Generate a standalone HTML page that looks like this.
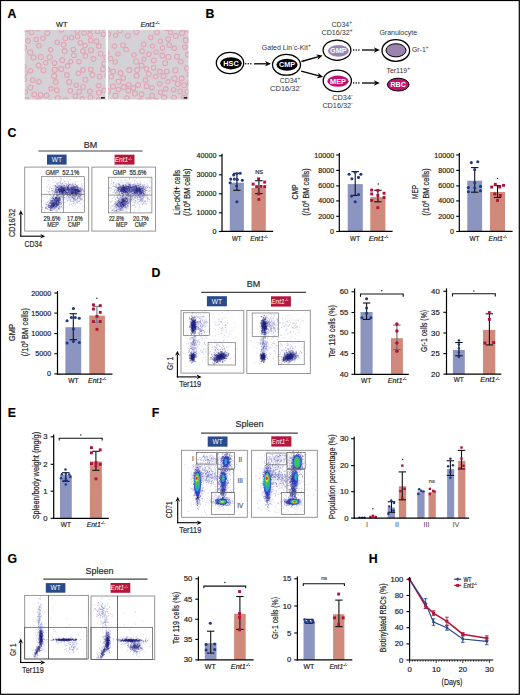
<!DOCTYPE html>
<html><head><meta charset="utf-8"><style>
html,body{margin:0;padding:0;background:#fff;overflow:hidden;width:520px;height:695px;}
svg{display:block;}
text{font-family:"Liberation Sans",sans-serif;stroke:currentColor;stroke-width:0.18px;}
</style></head><body>
<svg width="520" height="695" viewBox="0 0 520 695">
<defs><filter id="bl4" x="-30%" y="-30%" width="160%" height="160%"><feGaussianBlur stdDeviation="0.4"/></filter>
<filter id="bl5" x="-50%" y="-50%" width="200%" height="200%"><feGaussianBlur stdDeviation="0.5"/></filter>
<filter id="bl15" x="-50%" y="-50%" width="200%" height="200%"><feGaussianBlur stdDeviation="1.5"/></filter>
<filter id="bl8" x="-50%" y="-50%" width="200%" height="200%"><feGaussianBlur stdDeviation="0.8"/></filter>
<marker id="ah" viewBox="0 0 10 10" refX="9" refY="5" markerWidth="4" markerHeight="4" orient="auto-start-reverse" markerUnits="userSpaceOnUse"><path d="M0,0 L10,5 L0,10 L3,5 z" fill="#000"/></marker>
</defs>
<rect x="0" y="0" width="520" height="695" fill="#fff"/>
<text x="7.6" y="17.9" font-size="12.3" fill="#000" color="#000" font-weight="bold">A</text>
<text x="205.6" y="17.7" font-size="12.3" fill="#000" color="#000" font-weight="bold">B</text>
<text x="7.6" y="137.0" font-size="12.3" fill="#000" color="#000" font-weight="bold">C</text>
<text x="151.6" y="276.6" font-size="12.3" fill="#000" color="#000" font-weight="bold">D</text>
<text x="7.8" y="416.8" font-size="12.3" fill="#000" color="#000" font-weight="bold">E</text>
<text x="151.8" y="416.9" font-size="12.3" fill="#000" color="#000" font-weight="bold">F</text>
<text x="7.4" y="562.5" font-size="12.3" fill="#000" color="#000" font-weight="bold">G</text>
<text x="368.8" y="563.0" font-size="12.3" fill="#000" color="#000" font-weight="bold">H</text>
<rect x="24.8" y="29.9" width="80.9" height="69.6" fill="#d4d2d6"/>
<svg x="24.8" y="29.9" width="80.9" height="69.6" overflow="hidden">
<circle cx="36.4" cy="39.2" r="2.6" fill="#dccdd2" stroke="#e0a4b4" stroke-width="1.05" filter="url(#bl5)"/>
<circle cx="13.7" cy="35.7" r="2.5" fill="#dccdd2" stroke="#e0a4b4" stroke-width="1.05" filter="url(#bl5)"/>
<circle cx="65.3" cy="4.9" r="2.3" fill="#dccdd2" stroke="#e0a4b4" stroke-width="1.05" filter="url(#bl5)"/>
<circle cx="5.7" cy="57.6" r="2.5" fill="#dccdd2" stroke="#e0a4b4" stroke-width="1.05" filter="url(#bl5)"/>
<circle cx="1.6" cy="70.3" r="2.6" fill="#dccdd2" stroke="#e0a4b4" stroke-width="1.05" filter="url(#bl5)"/>
<circle cx="53.5" cy="43.3" r="2.3" fill="#dccdd2" stroke="#e0a4b4" stroke-width="1.05" filter="url(#bl5)"/>
<circle cx="-0.7" cy="36.9" r="2.2" fill="#dccdd2" stroke="#e0a4b4" stroke-width="1.05" filter="url(#bl5)"/>
<circle cx="14.1" cy="15.8" r="2.2" fill="#dccdd2" stroke="#e0a4b4" stroke-width="1.05" filter="url(#bl5)"/>
<circle cx="37.4" cy="30.4" r="2.5" fill="#dccdd2" stroke="#e0a4b4" stroke-width="1.05" filter="url(#bl5)"/>
<circle cx="42.1" cy="45.1" r="2.4" fill="#dccdd2" stroke="#e0a4b4" stroke-width="1.05" filter="url(#bl5)"/>
<circle cx="54.2" cy="31.7" r="2.3" fill="#dccdd2" stroke="#e0a4b4" stroke-width="1.05" filter="url(#bl5)"/>
<circle cx="82.7" cy="71.3" r="2.5" fill="#dccdd2" stroke="#e0a4b4" stroke-width="1.05" filter="url(#bl5)"/>
<circle cx="58.1" cy="21.2" r="2.3" fill="#dccdd2" stroke="#e0a4b4" stroke-width="1.05" filter="url(#bl5)"/>
<circle cx="22.5" cy="3.2" r="2.5" fill="#dccdd2" stroke="#e0a4b4" stroke-width="1.05" filter="url(#bl5)"/>
<circle cx="32.0" cy="60.3" r="2.4" fill="#dccdd2" stroke="#e0a4b4" stroke-width="1.05" filter="url(#bl5)"/>
<circle cx="79.3" cy="60.4" r="2.2" fill="#dccdd2" stroke="#e0a4b4" stroke-width="1.05" filter="url(#bl5)"/>
<circle cx="15.8" cy="65.0" r="2.4" fill="#dccdd2" stroke="#e0a4b4" stroke-width="1.05" filter="url(#bl5)"/>
<circle cx="81.2" cy="27.3" r="2.2" fill="#dccdd2" stroke="#e0a4b4" stroke-width="1.05" filter="url(#bl5)"/>
<circle cx="51.4" cy="55.3" r="2.3" fill="#dccdd2" stroke="#e0a4b4" stroke-width="1.05" filter="url(#bl5)"/>
<circle cx="5.4" cy="22.5" r="2.6" fill="#dccdd2" stroke="#e0a4b4" stroke-width="1.05" filter="url(#bl5)"/>
<circle cx="6.6" cy="2.4" r="2.5" fill="#dccdd2" stroke="#e0a4b4" stroke-width="1.05" filter="url(#bl5)"/>
<circle cx="14.2" cy="51.9" r="2.3" fill="#dccdd2" stroke="#e0a4b4" stroke-width="1.05" filter="url(#bl5)"/>
<circle cx="52.7" cy="6.6" r="2.4" fill="#dccdd2" stroke="#e0a4b4" stroke-width="1.05" filter="url(#bl5)"/>
<circle cx="66.2" cy="20.4" r="2.6" fill="#dccdd2" stroke="#e0a4b4" stroke-width="1.05" filter="url(#bl5)"/>
<circle cx="15.9" cy="27.0" r="2.5" fill="#dccdd2" stroke="#e0a4b4" stroke-width="1.05" filter="url(#bl5)"/>
<circle cx="25.9" cy="19.8" r="2.2" fill="#dccdd2" stroke="#e0a4b4" stroke-width="1.05" filter="url(#bl5)"/>
<circle cx="5.7" cy="40.9" r="2.3" fill="#dccdd2" stroke="#e0a4b4" stroke-width="1.05" filter="url(#bl5)"/>
<circle cx="49.0" cy="25.4" r="2.4" fill="#dccdd2" stroke="#e0a4b4" stroke-width="1.05" filter="url(#bl5)"/>
<circle cx="79.4" cy="33.6" r="2.4" fill="#dccdd2" stroke="#e0a4b4" stroke-width="1.05" filter="url(#bl5)"/>
<circle cx="71.6" cy="11.5" r="2.3" fill="#dccdd2" stroke="#e0a4b4" stroke-width="1.05" filter="url(#bl5)"/>
<circle cx="48.6" cy="19.6" r="2.3" fill="#dccdd2" stroke="#e0a4b4" stroke-width="1.05" filter="url(#bl5)"/>
<circle cx="59.2" cy="3.1" r="2.3" fill="#dccdd2" stroke="#e0a4b4" stroke-width="1.05" filter="url(#bl5)"/>
<circle cx="45.5" cy="60.7" r="2.4" fill="#dccdd2" stroke="#e0a4b4" stroke-width="1.05" filter="url(#bl5)"/>
<circle cx="21.8" cy="65.5" r="2.3" fill="#dccdd2" stroke="#e0a4b4" stroke-width="1.05" filter="url(#bl5)"/>
<circle cx="-0.6" cy="17.8" r="2.4" fill="#dccdd2" stroke="#e0a4b4" stroke-width="1.05" filter="url(#bl5)"/>
<circle cx="3.1" cy="11.0" r="2.3" fill="#dccdd2" stroke="#e0a4b4" stroke-width="1.05" filter="url(#bl5)"/>
<circle cx="46.6" cy="7.7" r="2.3" fill="#dccdd2" stroke="#e0a4b4" stroke-width="1.05" filter="url(#bl5)"/>
<circle cx="73.6" cy="70.2" r="2.5" fill="#dccdd2" stroke="#e0a4b4" stroke-width="1.05" filter="url(#bl5)"/>
<circle cx="1.0" cy="-0.7" r="2.6" fill="#dccdd2" stroke="#e0a4b4" stroke-width="1.05" filter="url(#bl5)"/>
<circle cx="57.5" cy="68.9" r="2.2" fill="#dccdd2" stroke="#e0a4b4" stroke-width="1.05" filter="url(#bl5)"/>
<circle cx="25.1" cy="71.6" r="2.2" fill="#dccdd2" stroke="#e0a4b4" stroke-width="1.05" filter="url(#bl5)"/>
<circle cx="44.4" cy="52.2" r="2.6" fill="#dccdd2" stroke="#e0a4b4" stroke-width="1.05" filter="url(#bl5)"/>
<circle cx="60.6" cy="49.8" r="2.5" fill="#dccdd2" stroke="#e0a4b4" stroke-width="1.05" filter="url(#bl5)"/>
<circle cx="75.7" cy="23.9" r="2.5" fill="#dccdd2" stroke="#e0a4b4" stroke-width="1.05" filter="url(#bl5)"/>
<circle cx="65.1" cy="61.6" r="2.4" fill="#dccdd2" stroke="#e0a4b4" stroke-width="1.05" filter="url(#bl5)"/>
<circle cx="31.0" cy="52.1" r="2.4" fill="#dccdd2" stroke="#e0a4b4" stroke-width="1.05" filter="url(#bl5)"/>
<circle cx="38.8" cy="14.9" r="2.5" fill="#dccdd2" stroke="#e0a4b4" stroke-width="1.05" filter="url(#bl5)"/>
<circle cx="55.6" cy="12.9" r="2.3" fill="#dccdd2" stroke="#e0a4b4" stroke-width="1.05" filter="url(#bl5)"/>
<circle cx="74.9" cy="46.6" r="2.4" fill="#dccdd2" stroke="#e0a4b4" stroke-width="1.05" filter="url(#bl5)"/>
<circle cx="39.9" cy="21.2" r="2.5" fill="#dccdd2" stroke="#e0a4b4" stroke-width="1.05" filter="url(#bl5)"/>
<circle cx="0.7" cy="62.2" r="2.2" fill="#dccdd2" stroke="#e0a4b4" stroke-width="1.05" filter="url(#bl5)"/>
<circle cx="58.2" cy="40.0" r="2.3" fill="#dccdd2" stroke="#e0a4b4" stroke-width="1.05" filter="url(#bl5)"/>
<circle cx="65.2" cy="-0.6" r="2.3" fill="#dccdd2" stroke="#e0a4b4" stroke-width="1.05" filter="url(#bl5)"/>
<circle cx="36.6" cy="-0.2" r="2.5" fill="#dccdd2" stroke="#e0a4b4" stroke-width="1.05" filter="url(#bl5)"/>
<circle cx="18.2" cy="8.4" r="2.2" fill="#dccdd2" stroke="#e0a4b4" stroke-width="1.05" filter="url(#bl5)"/>
<circle cx="13.2" cy="-1.2" r="2.4" fill="#dccdd2" stroke="#e0a4b4" stroke-width="1.05" filter="url(#bl5)"/>
<circle cx="30.0" cy="39.9" r="2.6" fill="#dccdd2" stroke="#e0a4b4" stroke-width="1.05" filter="url(#bl5)"/>
<circle cx="65.6" cy="67.5" r="2.4" fill="#dccdd2" stroke="#e0a4b4" stroke-width="1.05" filter="url(#bl5)"/>
<circle cx="67.5" cy="45.2" r="2.5" fill="#dccdd2" stroke="#e0a4b4" stroke-width="1.05" filter="url(#bl5)"/>
<circle cx="65.9" cy="10.7" r="2.3" fill="#dccdd2" stroke="#e0a4b4" stroke-width="1.05" filter="url(#bl5)"/>
<circle cx="78.6" cy="4.3" r="2.3" fill="#dccdd2" stroke="#e0a4b4" stroke-width="1.05" filter="url(#bl5)"/>
<circle cx="66.0" cy="39.4" r="2.4" fill="#dccdd2" stroke="#e0a4b4" stroke-width="1.05" filter="url(#bl5)"/>
<circle cx="33.1" cy="68.4" r="2.6" fill="#dccdd2" stroke="#e0a4b4" stroke-width="1.05" filter="url(#bl5)"/>
<circle cx="20.9" cy="32.8" r="2.3" fill="#dccdd2" stroke="#e0a4b4" stroke-width="1.05" filter="url(#bl5)"/>
<circle cx="50.5" cy="66.1" r="2.3" fill="#dccdd2" stroke="#e0a4b4" stroke-width="1.05" filter="url(#bl5)"/>
<circle cx="68.7" cy="29.0" r="2.5" fill="#dccdd2" stroke="#e0a4b4" stroke-width="1.05" filter="url(#bl5)"/>
<circle cx="8.7" cy="27.6" r="2.5" fill="#dccdd2" stroke="#e0a4b4" stroke-width="1.05" filter="url(#bl5)"/>
<circle cx="-0.9" cy="49.6" r="2.5" fill="#dccdd2" stroke="#e0a4b4" stroke-width="1.05" filter="url(#bl5)"/>
<circle cx="32.4" cy="12.4" r="2.3" fill="#dccdd2" stroke="#e0a4b4" stroke-width="1.05" filter="url(#bl5)"/>
<circle cx="40.8" cy="70.3" r="2.5" fill="#dccdd2" stroke="#e0a4b4" stroke-width="1.05" filter="url(#bl5)"/>
<circle cx="74.1" cy="62.8" r="2.5" fill="#dccdd2" stroke="#e0a4b4" stroke-width="1.05" filter="url(#bl5)"/>
<circle cx="-0.1" cy="43.3" r="2.5" fill="#dccdd2" stroke="#e0a4b4" stroke-width="1.05" filter="url(#bl5)"/>
<circle cx="82.5" cy="45.0" r="2.5" fill="#dccdd2" stroke="#e0a4b4" stroke-width="1.05" filter="url(#bl5)"/>
<circle cx="60.3" cy="15.5" r="2.2" fill="#dccdd2" stroke="#e0a4b4" stroke-width="1.05" filter="url(#bl5)"/>
<circle cx="73.8" cy="55.7" r="2.4" fill="#dccdd2" stroke="#e0a4b4" stroke-width="1.05" filter="url(#bl5)"/>
<circle cx="29.7" cy="33.2" r="2.3" fill="#dccdd2" stroke="#e0a4b4" stroke-width="1.05" filter="url(#bl5)"/>
<circle cx="29.3" cy="46.1" r="2.6" fill="#dccdd2" stroke="#e0a4b4" stroke-width="1.05" filter="url(#bl5)"/>
<circle cx="8.0" cy="50.2" r="2.4" fill="#dccdd2" stroke="#e0a4b4" stroke-width="1.05" filter="url(#bl5)"/>
<circle cx="25.0" cy="27.4" r="2.6" fill="#dccdd2" stroke="#e0a4b4" stroke-width="1.05" filter="url(#bl5)"/>
<circle cx="74.0" cy="16.3" r="2.3" fill="#dccdd2" stroke="#e0a4b4" stroke-width="1.05" filter="url(#bl5)"/>
<circle cx="58.3" cy="57.0" r="2.4" fill="#dccdd2" stroke="#e0a4b4" stroke-width="1.05" filter="url(#bl5)"/>
<circle cx="42.8" cy="36.0" r="2.3" fill="#dccdd2" stroke="#e0a4b4" stroke-width="1.05" filter="url(#bl5)"/>
<circle cx="11.4" cy="9.5" r="2.3" fill="#dccdd2" stroke="#e0a4b4" stroke-width="1.05" filter="url(#bl5)"/>
<circle cx="45.9" cy="31.7" r="2.2" fill="#dccdd2" stroke="#e0a4b4" stroke-width="1.05" filter="url(#bl5)"/>
<circle cx="78.2" cy="39.4" r="2.5" fill="#dccdd2" stroke="#e0a4b4" stroke-width="1.05" filter="url(#bl5)"/>
<circle cx="26.2" cy="58.9" r="2.2" fill="#dccdd2" stroke="#e0a4b4" stroke-width="1.05" filter="url(#bl5)"/>
<circle cx="40.5" cy="8.4" r="2.5" fill="#dccdd2" stroke="#e0a4b4" stroke-width="1.05" filter="url(#bl5)"/>
<circle cx="18.8" cy="40.4" r="2.5" fill="#dccdd2" stroke="#e0a4b4" stroke-width="1.05" filter="url(#bl5)"/>
<circle cx="9.5" cy="64.5" r="2.4" fill="#dccdd2" stroke="#e0a4b4" stroke-width="1.05" filter="url(#bl5)"/>
<circle cx="13.3" cy="70.6" r="2.6" fill="#dccdd2" stroke="#e0a4b4" stroke-width="1.05" filter="url(#bl5)"/>
<circle cx="60.6" cy="26.1" r="2.4" fill="#dccdd2" stroke="#e0a4b4" stroke-width="1.05" filter="url(#bl5)"/>
<circle cx="52.5" cy="0.8" r="2.5" fill="#dccdd2" stroke="#e0a4b4" stroke-width="1.05" filter="url(#bl5)"/>
<circle cx="54.5" cy="61.8" r="2.4" fill="#dccdd2" stroke="#e0a4b4" stroke-width="1.05" filter="url(#bl5)"/>
<circle cx="78.7" cy="-2.0" r="2.3" fill="#dccdd2" stroke="#e0a4b4" stroke-width="1.05" filter="url(#bl5)"/>
<circle cx="72.7" cy="1.7" r="2.2" fill="#dccdd2" stroke="#e0a4b4" stroke-width="1.05" filter="url(#bl5)"/>
</svg>
<rect x="108" y="29.9" width="80.5" height="69.6" fill="#d4d2d6"/>
<svg x="108" y="29.9" width="80.5" height="69.6" overflow="hidden">
<circle cx="76.2" cy="67.8" r="2.6" fill="#dccdd2" stroke="#e0a4b4" stroke-width="1.05" filter="url(#bl5)"/>
<circle cx="5.1" cy="41.6" r="2.4" fill="#dccdd2" stroke="#e0a4b4" stroke-width="1.05" filter="url(#bl5)"/>
<circle cx="42.8" cy="7.6" r="2.3" fill="#dccdd2" stroke="#e0a4b4" stroke-width="1.05" filter="url(#bl5)"/>
<circle cx="35.6" cy="14.3" r="2.4" fill="#dccdd2" stroke="#e0a4b4" stroke-width="1.05" filter="url(#bl5)"/>
<circle cx="0.1" cy="4.3" r="2.5" fill="#dccdd2" stroke="#e0a4b4" stroke-width="1.05" filter="url(#bl5)"/>
<circle cx="33.6" cy="35.7" r="2.5" fill="#dccdd2" stroke="#e0a4b4" stroke-width="1.05" filter="url(#bl5)"/>
<circle cx="28.3" cy="2.2" r="2.5" fill="#dccdd2" stroke="#e0a4b4" stroke-width="1.05" filter="url(#bl5)"/>
<circle cx="47.8" cy="46.4" r="2.4" fill="#dccdd2" stroke="#e0a4b4" stroke-width="1.05" filter="url(#bl5)"/>
<circle cx="80.0" cy="24.7" r="2.5" fill="#dccdd2" stroke="#e0a4b4" stroke-width="1.05" filter="url(#bl5)"/>
<circle cx="29.2" cy="40.1" r="2.5" fill="#dccdd2" stroke="#e0a4b4" stroke-width="1.05" filter="url(#bl5)"/>
<circle cx="58.7" cy="41.5" r="2.4" fill="#dccdd2" stroke="#e0a4b4" stroke-width="1.05" filter="url(#bl5)"/>
<circle cx="52.3" cy="11.4" r="2.3" fill="#dccdd2" stroke="#e0a4b4" stroke-width="1.05" filter="url(#bl5)"/>
<circle cx="25.3" cy="58.0" r="2.3" fill="#dccdd2" stroke="#e0a4b4" stroke-width="1.05" filter="url(#bl5)"/>
<circle cx="7.7" cy="5.3" r="2.2" fill="#dccdd2" stroke="#e0a4b4" stroke-width="1.05" filter="url(#bl5)"/>
<circle cx="21.3" cy="40.2" r="2.5" fill="#dccdd2" stroke="#e0a4b4" stroke-width="1.05" filter="url(#bl5)"/>
<circle cx="26.0" cy="25.2" r="2.3" fill="#dccdd2" stroke="#e0a4b4" stroke-width="1.05" filter="url(#bl5)"/>
<circle cx="19.8" cy="5.9" r="2.5" fill="#dccdd2" stroke="#e0a4b4" stroke-width="1.05" filter="url(#bl5)"/>
<circle cx="57.8" cy="59.0" r="2.3" fill="#dccdd2" stroke="#e0a4b4" stroke-width="1.05" filter="url(#bl5)"/>
<circle cx="44.1" cy="65.6" r="2.4" fill="#dccdd2" stroke="#e0a4b4" stroke-width="1.05" filter="url(#bl5)"/>
<circle cx="77.9" cy="10.3" r="2.6" fill="#dccdd2" stroke="#e0a4b4" stroke-width="1.05" filter="url(#bl5)"/>
<circle cx="2.7" cy="28.6" r="2.2" fill="#dccdd2" stroke="#e0a4b4" stroke-width="1.05" filter="url(#bl5)"/>
<circle cx="66.4" cy="48.6" r="2.6" fill="#dccdd2" stroke="#e0a4b4" stroke-width="1.05" filter="url(#bl5)"/>
<circle cx="66.0" cy="67.8" r="2.4" fill="#dccdd2" stroke="#e0a4b4" stroke-width="1.05" filter="url(#bl5)"/>
<circle cx="81.5" cy="53.1" r="2.3" fill="#dccdd2" stroke="#e0a4b4" stroke-width="1.05" filter="url(#bl5)"/>
<circle cx="43.9" cy="57.8" r="2.3" fill="#dccdd2" stroke="#e0a4b4" stroke-width="1.05" filter="url(#bl5)"/>
<circle cx="33.6" cy="64.3" r="2.4" fill="#dccdd2" stroke="#e0a4b4" stroke-width="1.05" filter="url(#bl5)"/>
<circle cx="27.0" cy="63.7" r="2.5" fill="#dccdd2" stroke="#e0a4b4" stroke-width="1.05" filter="url(#bl5)"/>
<circle cx="73.6" cy="48.6" r="2.4" fill="#dccdd2" stroke="#e0a4b4" stroke-width="1.05" filter="url(#bl5)"/>
<circle cx="18.1" cy="19.7" r="2.4" fill="#dccdd2" stroke="#e0a4b4" stroke-width="1.05" filter="url(#bl5)"/>
<circle cx="67.8" cy="6.0" r="2.5" fill="#dccdd2" stroke="#e0a4b4" stroke-width="1.05" filter="url(#bl5)"/>
<circle cx="19.0" cy="68.0" r="2.2" fill="#dccdd2" stroke="#e0a4b4" stroke-width="1.05" filter="url(#bl5)"/>
<circle cx="45.5" cy="37.9" r="2.3" fill="#dccdd2" stroke="#e0a4b4" stroke-width="1.05" filter="url(#bl5)"/>
<circle cx="58.7" cy="-1.7" r="2.4" fill="#dccdd2" stroke="#e0a4b4" stroke-width="1.05" filter="url(#bl5)"/>
<circle cx="15.2" cy="48.1" r="2.3" fill="#dccdd2" stroke="#e0a4b4" stroke-width="1.05" filter="url(#bl5)"/>
<circle cx="36.0" cy="29.1" r="2.2" fill="#dccdd2" stroke="#e0a4b4" stroke-width="1.05" filter="url(#bl5)"/>
<circle cx="57.1" cy="33.3" r="2.5" fill="#dccdd2" stroke="#e0a4b4" stroke-width="1.05" filter="url(#bl5)"/>
<circle cx="72.1" cy="61.6" r="2.4" fill="#dccdd2" stroke="#e0a4b4" stroke-width="1.05" filter="url(#bl5)"/>
<circle cx="38.4" cy="38.8" r="2.3" fill="#dccdd2" stroke="#e0a4b4" stroke-width="1.05" filter="url(#bl5)"/>
<circle cx="20.3" cy="60.7" r="2.4" fill="#dccdd2" stroke="#e0a4b4" stroke-width="1.05" filter="url(#bl5)"/>
<circle cx="7.3" cy="32.1" r="2.2" fill="#dccdd2" stroke="#e0a4b4" stroke-width="1.05" filter="url(#bl5)"/>
<circle cx="45.8" cy="30.5" r="2.5" fill="#dccdd2" stroke="#e0a4b4" stroke-width="1.05" filter="url(#bl5)"/>
<circle cx="81.0" cy="44.7" r="2.2" fill="#dccdd2" stroke="#e0a4b4" stroke-width="1.05" filter="url(#bl5)"/>
<circle cx="66.2" cy="18.3" r="2.3" fill="#dccdd2" stroke="#e0a4b4" stroke-width="1.05" filter="url(#bl5)"/>
<circle cx="10.4" cy="59.6" r="2.2" fill="#dccdd2" stroke="#e0a4b4" stroke-width="1.05" filter="url(#bl5)"/>
<circle cx="60.4" cy="27.1" r="2.5" fill="#dccdd2" stroke="#e0a4b4" stroke-width="1.05" filter="url(#bl5)"/>
<circle cx="37.6" cy="50.2" r="2.4" fill="#dccdd2" stroke="#e0a4b4" stroke-width="1.05" filter="url(#bl5)"/>
<circle cx="48.0" cy="22.1" r="2.3" fill="#dccdd2" stroke="#e0a4b4" stroke-width="1.05" filter="url(#bl5)"/>
<circle cx="34.0" cy="21.3" r="2.4" fill="#dccdd2" stroke="#e0a4b4" stroke-width="1.05" filter="url(#bl5)"/>
<circle cx="28.6" cy="45.9" r="2.5" fill="#dccdd2" stroke="#e0a4b4" stroke-width="1.05" filter="url(#bl5)"/>
<circle cx="30.1" cy="55.0" r="2.5" fill="#dccdd2" stroke="#e0a4b4" stroke-width="1.05" filter="url(#bl5)"/>
<circle cx="67.4" cy="40.4" r="2.6" fill="#dccdd2" stroke="#e0a4b4" stroke-width="1.05" filter="url(#bl5)"/>
<circle cx="69.0" cy="26.8" r="2.4" fill="#dccdd2" stroke="#e0a4b4" stroke-width="1.05" filter="url(#bl5)"/>
<circle cx="54.5" cy="18.1" r="2.3" fill="#dccdd2" stroke="#e0a4b4" stroke-width="1.05" filter="url(#bl5)"/>
<circle cx="48.9" cy="2.7" r="2.4" fill="#dccdd2" stroke="#e0a4b4" stroke-width="1.05" filter="url(#bl5)"/>
<circle cx="79.4" cy="-0.4" r="2.5" fill="#dccdd2" stroke="#e0a4b4" stroke-width="1.05" filter="url(#bl5)"/>
<circle cx="56.2" cy="67.7" r="2.5" fill="#dccdd2" stroke="#e0a4b4" stroke-width="1.05" filter="url(#bl5)"/>
<circle cx="7.5" cy="65.8" r="2.6" fill="#dccdd2" stroke="#e0a4b4" stroke-width="1.05" filter="url(#bl5)"/>
<circle cx="4.9" cy="56.5" r="2.5" fill="#dccdd2" stroke="#e0a4b4" stroke-width="1.05" filter="url(#bl5)"/>
<circle cx="52.6" cy="62.4" r="2.3" fill="#dccdd2" stroke="#e0a4b4" stroke-width="1.05" filter="url(#bl5)"/>
<circle cx="60.1" cy="51.9" r="2.2" fill="#dccdd2" stroke="#e0a4b4" stroke-width="1.05" filter="url(#bl5)"/>
<circle cx="3.2" cy="46.8" r="2.3" fill="#dccdd2" stroke="#e0a4b4" stroke-width="1.05" filter="url(#bl5)"/>
<circle cx="15.6" cy="57.2" r="2.5" fill="#dccdd2" stroke="#e0a4b4" stroke-width="1.05" filter="url(#bl5)"/>
<circle cx="65.6" cy="59.8" r="2.3" fill="#dccdd2" stroke="#e0a4b4" stroke-width="1.05" filter="url(#bl5)"/>
<circle cx="40.9" cy="24.3" r="2.3" fill="#dccdd2" stroke="#e0a4b4" stroke-width="1.05" filter="url(#bl5)"/>
<circle cx="40.3" cy="70.4" r="2.5" fill="#dccdd2" stroke="#e0a4b4" stroke-width="1.05" filter="url(#bl5)"/>
<circle cx="6.4" cy="16.2" r="2.3" fill="#dccdd2" stroke="#e0a4b4" stroke-width="1.05" filter="url(#bl5)"/>
<circle cx="72.8" cy="31.8" r="2.3" fill="#dccdd2" stroke="#e0a4b4" stroke-width="1.05" filter="url(#bl5)"/>
<circle cx="44.5" cy="16.2" r="2.2" fill="#dccdd2" stroke="#e0a4b4" stroke-width="1.05" filter="url(#bl5)"/>
<circle cx="48.1" cy="70.9" r="2.5" fill="#dccdd2" stroke="#e0a4b4" stroke-width="1.05" filter="url(#bl5)"/>
<circle cx="60.2" cy="9.2" r="2.4" fill="#dccdd2" stroke="#e0a4b4" stroke-width="1.05" filter="url(#bl5)"/>
<circle cx="51.8" cy="53.9" r="2.4" fill="#dccdd2" stroke="#e0a4b4" stroke-width="1.05" filter="url(#bl5)"/>
<circle cx="38.6" cy="56.3" r="2.4" fill="#dccdd2" stroke="#e0a4b4" stroke-width="1.05" filter="url(#bl5)"/>
<circle cx="54.3" cy="25.7" r="2.5" fill="#dccdd2" stroke="#e0a4b4" stroke-width="1.05" filter="url(#bl5)"/>
<circle cx="0.0" cy="61.2" r="2.5" fill="#dccdd2" stroke="#e0a4b4" stroke-width="1.05" filter="url(#bl5)"/>
<circle cx="-1.1" cy="22.7" r="2.3" fill="#dccdd2" stroke="#e0a4b4" stroke-width="1.05" filter="url(#bl5)"/>
<circle cx="76.2" cy="55.4" r="2.5" fill="#dccdd2" stroke="#e0a4b4" stroke-width="1.05" filter="url(#bl5)"/>
<circle cx="10.5" cy="51.8" r="2.5" fill="#dccdd2" stroke="#e0a4b4" stroke-width="1.05" filter="url(#bl5)"/>
<circle cx="70.0" cy="54.1" r="2.6" fill="#dccdd2" stroke="#e0a4b4" stroke-width="1.05" filter="url(#bl5)"/>
<circle cx="12.6" cy="43.1" r="2.4" fill="#dccdd2" stroke="#e0a4b4" stroke-width="1.05" filter="url(#bl5)"/>
<circle cx="79.3" cy="61.7" r="2.3" fill="#dccdd2" stroke="#e0a4b4" stroke-width="1.05" filter="url(#bl5)"/>
<circle cx="20.8" cy="54.8" r="2.3" fill="#dccdd2" stroke="#e0a4b4" stroke-width="1.05" filter="url(#bl5)"/>
<circle cx="40.7" cy="44.0" r="2.5" fill="#dccdd2" stroke="#e0a4b4" stroke-width="1.05" filter="url(#bl5)"/>
<circle cx="78.9" cy="38.4" r="2.5" fill="#dccdd2" stroke="#e0a4b4" stroke-width="1.05" filter="url(#bl5)"/>
<circle cx="76.8" cy="17.1" r="2.3" fill="#dccdd2" stroke="#e0a4b4" stroke-width="1.05" filter="url(#bl5)"/>
<circle cx="28.2" cy="31.8" r="2.6" fill="#dccdd2" stroke="#e0a4b4" stroke-width="1.05" filter="url(#bl5)"/>
<circle cx="-0.6" cy="39.8" r="2.4" fill="#dccdd2" stroke="#e0a4b4" stroke-width="1.05" filter="url(#bl5)"/>
<circle cx="12.0" cy="0.7" r="2.5" fill="#dccdd2" stroke="#e0a4b4" stroke-width="1.05" filter="url(#bl5)"/>
<circle cx="32.5" cy="70.6" r="2.3" fill="#dccdd2" stroke="#e0a4b4" stroke-width="1.05" filter="url(#bl5)"/>
<circle cx="10.0" cy="24.0" r="2.2" fill="#dccdd2" stroke="#e0a4b4" stroke-width="1.05" filter="url(#bl5)"/>
<circle cx="51.9" cy="41.5" r="2.3" fill="#dccdd2" stroke="#e0a4b4" stroke-width="1.05" filter="url(#bl5)"/>
<circle cx="61.2" cy="15.2" r="2.3" fill="#dccdd2" stroke="#e0a4b4" stroke-width="1.05" filter="url(#bl5)"/>
<circle cx="55.5" cy="46.3" r="2.5" fill="#dccdd2" stroke="#e0a4b4" stroke-width="1.05" filter="url(#bl5)"/>
<circle cx="15.0" cy="15.2" r="2.4" fill="#dccdd2" stroke="#e0a4b4" stroke-width="1.05" filter="url(#bl5)"/>
<circle cx="62.5" cy="2.5" r="2.2" fill="#dccdd2" stroke="#e0a4b4" stroke-width="1.05" filter="url(#bl5)"/>
<circle cx="74.1" cy="3.2" r="2.6" fill="#dccdd2" stroke="#e0a4b4" stroke-width="1.05" filter="url(#bl5)"/>
</svg>
<rect x="101.0" y="97.1" width="3.8" height="1.5" fill="#111"/>
<rect x="183.7" y="97.1" width="3.5" height="1.5" fill="#111"/>
<text x="61.8" y="27.0" font-size="7.3" fill="#231f20" color="#231f20" text-anchor="middle">WT</text>
<text x="140.4" y="27.0" font-size="7.3" fill="#231f20" color="#231f20" font-style="italic">Ent1<tspan dy="-2.6" font-size="4.2">-/-</tspan></text>
<ellipse cx="230" cy="63" rx="13.7" ry="10.6" fill="#fff" stroke="#000" stroke-width="1.3"/>
<ellipse cx="231" cy="63.3" rx="10.8" ry="6.1" fill="#000"/>
<text x="231.0" y="65.7" font-size="7.3" fill="#fff" color="#fff" style="stroke-width:0" text-anchor="middle" font-weight="bold">HSC</text>
<rect x="245.0" y="63.1" width="1.3" height="1.3" fill="#000"/>
<rect x="247.6" y="63.1" width="1.3" height="1.3" fill="#000"/>
<rect x="250.2" y="63.1" width="1.3" height="1.3" fill="#000"/>
<path d="M271.0,63.8 L265.0,66.6 L266.8,63.8 L265.0,61.0 z" fill="#000"/>
<line x1="254.0" y1="63.8" x2="266.8" y2="63.8" stroke="#000" stroke-width="1.3"/>
<ellipse cx="286.5" cy="64.8" rx="14.0" ry="10.4" fill="#fff" stroke="#000" stroke-width="1.3"/>
<ellipse cx="287" cy="64.8" rx="10.6" ry="6.0" fill="#000"/>
<text x="287.0" y="67.2" font-size="7.3" fill="#fff" color="#fff" style="stroke-width:0" text-anchor="middle" font-weight="bold">CMP</text>
<path d="M322.6,55.6 L317.6,59.9 L318.6,56.7 L316.1,54.5 z" fill="#000"/>
<line x1="301.5" y1="61.5" x2="318.6" y2="56.7" stroke="#000" stroke-width="1.3"/>
<path d="M323.2,77.0 L316.7,78.2 L319.1,75.9 L318.1,72.8 z" fill="#000"/>
<line x1="301.2" y1="71.2" x2="319.1" y2="75.9" stroke="#000" stroke-width="1.3"/>
<ellipse cx="337" cy="50.2" rx="13.9" ry="10.1" fill="#fff" stroke="#000" stroke-width="1.3"/>
<ellipse cx="338.4" cy="50.8" rx="10.4" ry="5.9" fill="#9a83ae"/>
<text x="338.4" y="53.2" font-size="7.3" fill="#fff" color="#fff" style="stroke-width:0" text-anchor="middle" font-weight="bold">GMP</text>
<ellipse cx="337.3" cy="80.9" rx="14.1" ry="10.7" fill="#fff" stroke="#000" stroke-width="1.3"/>
<ellipse cx="338" cy="81.2" rx="10.6" ry="5.6" fill="#c1136f"/>
<text x="338.0" y="83.6" font-size="7.3" fill="#fff" color="#fff" style="stroke-width:0" text-anchor="middle" font-weight="bold">MEP</text>
<rect x="353.0" y="49.4" width="1.3" height="1.3" fill="#000"/>
<rect x="355.6" y="49.4" width="1.3" height="1.3" fill="#000"/>
<rect x="358.2" y="49.4" width="1.3" height="1.3" fill="#000"/>
<path d="M379.8,50.0 L373.8,52.8 L375.6,50.0 L373.8,47.2 z" fill="#000"/>
<line x1="362.0" y1="50.0" x2="375.6" y2="50.0" stroke="#000" stroke-width="1.3"/>
<rect x="353.0" y="82.3" width="1.3" height="1.3" fill="#000"/>
<rect x="355.6" y="82.3" width="1.3" height="1.3" fill="#000"/>
<rect x="358.2" y="82.3" width="1.3" height="1.3" fill="#000"/>
<path d="M379.8,83.0 L373.8,85.8 L375.6,83.0 L373.8,80.2 z" fill="#000"/>
<line x1="362.0" y1="83.0" x2="375.6" y2="83.0" stroke="#000" stroke-width="1.3"/>
<ellipse cx="395.8" cy="50.5" rx="13.8" ry="10.8" fill="#fff" stroke="#000" stroke-width="1.3"/>
<ellipse cx="396" cy="50.3" rx="10" ry="6.6" fill="#9a83ae" stroke="#000" stroke-width="1.0"/>
<ellipse cx="398.2" cy="84.6" rx="10.8" ry="6.4" fill="#c1136f" stroke="#000" stroke-width="1.0"/>
<text x="398.2" y="87.2" font-size="7.1" fill="#fff" color="#fff" style="stroke-width:0" text-anchor="middle" font-weight="bold">RBC</text>
<text x="261.8" y="49.6" font-size="7.0" fill="#333333" color="#333333" style="stroke-width:0" textLength="49.0" lengthAdjust="spacingAndGlyphs">Gated Lin<tspan dy="-2.6" font-size="5.0">-</tspan><tspan dy="2.6">c-Kit</tspan><tspan dy="-2.6" font-size="5.0">+</tspan></text>
<text x="279.7" y="83.0" font-size="7.2" fill="#333333" color="#333333" style="stroke-width:0" textLength="20.6" lengthAdjust="spacingAndGlyphs">CD34<tspan dy="-2.6" font-size="5.0">+</tspan></text>
<text x="270.0" y="90.7" font-size="7.2" fill="#333333" color="#333333" style="stroke-width:0" textLength="31.5" lengthAdjust="spacingAndGlyphs">CD16/32<tspan dy="-2.6" font-size="5.0">-</tspan></text>
<text x="331.6" y="27.0" font-size="7.2" fill="#333333" color="#333333" style="stroke-width:0" textLength="20.4" lengthAdjust="spacingAndGlyphs">CD34<tspan dy="-2.6" font-size="5.0">+</tspan></text>
<text x="321.5" y="35.0" font-size="7.2" fill="#333333" color="#333333" style="stroke-width:0" textLength="31.2" lengthAdjust="spacingAndGlyphs">CD16/32<tspan dy="-2.6" font-size="5.0">+</tspan></text>
<text x="332.2" y="100.0" font-size="7.2" fill="#333333" color="#333333" style="stroke-width:0" textLength="20.5" lengthAdjust="spacingAndGlyphs">CD34<tspan dy="-2.6" font-size="5.0">-</tspan></text>
<text x="322.4" y="108.0" font-size="7.2" fill="#333333" color="#333333" style="stroke-width:0" textLength="30.3" lengthAdjust="spacingAndGlyphs">CD16/32<tspan dy="-2.6" font-size="5.0">-</tspan></text>
<text x="379.4" y="34.5" font-size="7.2" fill="#333333" color="#333333" style="stroke-width:0" textLength="37.7" lengthAdjust="spacingAndGlyphs">Granulocyte</text>
<text x="412.0" y="51.6" font-size="7.2" fill="#333333" color="#333333" style="stroke-width:0" textLength="16.5" lengthAdjust="spacingAndGlyphs">Gr-1<tspan dy="-2.6" font-size="5.0">+</tspan></text>
<text x="386.4" y="72.8" font-size="7.2" fill="#333333" color="#333333" style="stroke-width:0" textLength="23.7" lengthAdjust="spacingAndGlyphs">Ter119<tspan dy="-2.6" font-size="5.0">+</tspan></text>
<rect x="229.8" y="182.7" width="14.1" height="48.6" fill="#8b95c0"/>
<rect x="251.5" y="187.9" width="14.3" height="43.4" fill="#cf8a7c"/>
<line x1="236.9" y1="173.3" x2="236.9" y2="190.3" stroke="#111" stroke-width="1.1"/>
<line x1="233.2" y1="173.3" x2="240.6" y2="173.3" stroke="#111" stroke-width="1.1"/>
<line x1="233.2" y1="190.3" x2="240.6" y2="190.3" stroke="#111" stroke-width="1.1"/>
<line x1="258.9" y1="180.7" x2="258.9" y2="193.6" stroke="#111" stroke-width="1.1"/>
<line x1="255.2" y1="180.7" x2="262.6" y2="180.7" stroke="#111" stroke-width="1.1"/>
<line x1="255.2" y1="193.6" x2="262.6" y2="193.6" stroke="#111" stroke-width="1.1"/>
<circle cx="233.7" cy="174.9" r="1.55" fill="#1d3a86"/>
<circle cx="236.9" cy="173.8" r="1.55" fill="#1d3a86"/>
<circle cx="240.2" cy="173.2" r="1.55" fill="#1d3a86"/>
<circle cx="230.8" cy="179.1" r="1.55" fill="#1d3a86"/>
<circle cx="234.4" cy="179.1" r="1.55" fill="#1d3a86"/>
<circle cx="237.3" cy="179.5" r="1.55" fill="#1d3a86"/>
<circle cx="242.3" cy="180.3" r="1.55" fill="#1d3a86"/>
<circle cx="230.1" cy="182.7" r="1.55" fill="#1d3a86"/>
<circle cx="236.6" cy="186.0" r="1.55" fill="#1d3a86"/>
<circle cx="236.9" cy="201.8" r="1.55" fill="#1d3a86"/>
<rect x="257.1" y="177.4" width="2.9" height="2.9" fill="#b1123b"/>
<rect x="251.7" y="182.7" width="2.9" height="2.9" fill="#b1123b"/>
<rect x="263.2" y="180.7" width="2.9" height="2.9" fill="#b1123b"/>
<rect x="255.2" y="185.2" width="2.9" height="2.9" fill="#b1123b"/>
<rect x="259.6" y="185.0" width="2.9" height="2.9" fill="#b1123b"/>
<rect x="263.2" y="185.2" width="2.9" height="2.9" fill="#b1123b"/>
<rect x="257.2" y="192.5" width="2.9" height="2.9" fill="#b1123b"/>
<rect x="257.4" y="198.0" width="2.9" height="2.9" fill="#b1123b"/>
<line x1="222.0" y1="153.8" x2="222.0" y2="231.9" stroke="#000" stroke-width="1.2"/>
<line x1="221.4" y1="231.3" x2="273.2" y2="231.3" stroke="#000" stroke-width="1.2"/>
<line x1="218.9" y1="155.8" x2="222.0" y2="155.8" stroke="#000" stroke-width="1.1"/>
<text x="216.4" y="158.3" font-size="7.0" fill="#1a1a1a" color="#1a1a1a" text-anchor="end" textLength="19.8" lengthAdjust="spacingAndGlyphs">40000</text>
<line x1="218.9" y1="174.8" x2="222.0" y2="174.8" stroke="#000" stroke-width="1.1"/>
<text x="216.4" y="177.3" font-size="7.0" fill="#1a1a1a" color="#1a1a1a" text-anchor="end" textLength="19.8" lengthAdjust="spacingAndGlyphs">30000</text>
<line x1="218.9" y1="193.8" x2="222.0" y2="193.8" stroke="#000" stroke-width="1.1"/>
<text x="216.4" y="196.3" font-size="7.0" fill="#1a1a1a" color="#1a1a1a" text-anchor="end" textLength="19.8" lengthAdjust="spacingAndGlyphs">20000</text>
<line x1="218.9" y1="212.8" x2="222.0" y2="212.8" stroke="#000" stroke-width="1.1"/>
<text x="216.4" y="215.3" font-size="7.0" fill="#1a1a1a" color="#1a1a1a" text-anchor="end" textLength="19.8" lengthAdjust="spacingAndGlyphs">10000</text>
<line x1="218.9" y1="231.5" x2="222.0" y2="231.5" stroke="#000" stroke-width="1.1"/>
<text x="216.4" y="234.0" font-size="7.0" fill="#1a1a1a" color="#1a1a1a" text-anchor="end" textLength="4.0" lengthAdjust="spacingAndGlyphs">0</text>
<text x="259.2" y="173.8" font-size="6.2" fill="#1a1a1a" color="#1a1a1a" text-anchor="middle" textLength="7.9" lengthAdjust="spacingAndGlyphs">NS</text>
<text x="232.0" y="240.7" font-size="7.2" fill="#1a1a1a" color="#1a1a1a" textLength="9.6" lengthAdjust="spacingAndGlyphs">WT</text>
<text x="250.3" y="240.7" font-size="7.2" fill="#1a1a1a" color="#1a1a1a" font-style="italic" textLength="17.2" lengthAdjust="spacingAndGlyphs">Ent1<tspan dy="-2.6" font-size="4.2">-/-</tspan></text>
<text x="180.3" y="192.2" font-size="9.4" fill="#1a1a1a" color="#1a1a1a" text-anchor="middle" textLength="44.9" lengthAdjust="spacingAndGlyphs" transform="rotate(-90 180.3 192.2)">Lin-cKit+ cells</text>
<text x="190.5" y="192.2" font-size="8.8" fill="#1a1a1a" color="#1a1a1a" text-anchor="middle" textLength="47.5" lengthAdjust="spacingAndGlyphs" transform="rotate(-90 190.5 192.2)">(/10<tspan dy="-3" font-size="5.2">6</tspan><tspan dy="3"> BM cells)</tspan></text>
<rect x="347.7" y="184.1" width="15.1" height="47.2" fill="#8b95c0"/>
<rect x="370.3" y="197.1" width="15.1" height="34.2" fill="#cf8a7c"/>
<line x1="355.2" y1="171.6" x2="355.2" y2="195.4" stroke="#111" stroke-width="1.1"/>
<line x1="351.5" y1="171.6" x2="358.9" y2="171.6" stroke="#111" stroke-width="1.1"/>
<line x1="351.5" y1="195.4" x2="358.9" y2="195.4" stroke="#111" stroke-width="1.1"/>
<line x1="377.9" y1="190.3" x2="377.9" y2="201.8" stroke="#111" stroke-width="1.1"/>
<line x1="374.2" y1="190.3" x2="381.6" y2="190.3" stroke="#111" stroke-width="1.1"/>
<line x1="374.2" y1="201.8" x2="381.6" y2="201.8" stroke="#111" stroke-width="1.1"/>
<circle cx="349.1" cy="174.2" r="1.55" fill="#1d3a86"/>
<circle cx="355.2" cy="172.3" r="1.55" fill="#1d3a86"/>
<circle cx="360.9" cy="174.2" r="1.55" fill="#1d3a86"/>
<circle cx="351.9" cy="178.8" r="1.55" fill="#1d3a86"/>
<circle cx="358.5" cy="177.4" r="1.55" fill="#1d3a86"/>
<circle cx="351.6" cy="196.1" r="1.55" fill="#1d3a86"/>
<circle cx="358.5" cy="194.6" r="1.55" fill="#1d3a86"/>
<circle cx="355.2" cy="201.8" r="1.55" fill="#1d3a86"/>
<rect x="370.2" y="188.6" width="2.9" height="2.9" fill="#b1123b"/>
<rect x="376.4" y="188.9" width="2.9" height="2.9" fill="#b1123b"/>
<rect x="370.2" y="192.5" width="2.9" height="2.9" fill="#b1123b"/>
<rect x="376.4" y="194.0" width="2.9" height="2.9" fill="#b1123b"/>
<rect x="382.6" y="191.8" width="2.9" height="2.9" fill="#b1123b"/>
<rect x="382.6" y="196.1" width="2.9" height="2.9" fill="#b1123b"/>
<rect x="370.2" y="199.0" width="2.9" height="2.9" fill="#b1123b"/>
<rect x="376.4" y="206.2" width="2.9" height="2.9" fill="#b1123b"/>
<circle cx="378.2" cy="184.1" r="0.75" fill="#222"/>
<line x1="339.3" y1="153.0" x2="339.3" y2="231.9" stroke="#000" stroke-width="1.2"/>
<line x1="338.7" y1="231.3" x2="392.6" y2="231.3" stroke="#000" stroke-width="1.2"/>
<line x1="336.2" y1="155.0" x2="339.3" y2="155.0" stroke="#000" stroke-width="1.1"/>
<text x="334.1" y="157.5" font-size="7.0" fill="#1a1a1a" color="#1a1a1a" text-anchor="end" textLength="19.8" lengthAdjust="spacingAndGlyphs">10000</text>
<line x1="336.2" y1="170.4" x2="339.3" y2="170.4" stroke="#000" stroke-width="1.1"/>
<text x="334.1" y="172.9" font-size="7.0" fill="#1a1a1a" color="#1a1a1a" text-anchor="end" textLength="15.8" lengthAdjust="spacingAndGlyphs">8000</text>
<line x1="336.2" y1="185.9" x2="339.3" y2="185.9" stroke="#000" stroke-width="1.1"/>
<text x="334.1" y="188.4" font-size="7.0" fill="#1a1a1a" color="#1a1a1a" text-anchor="end" textLength="15.8" lengthAdjust="spacingAndGlyphs">6000</text>
<line x1="336.2" y1="200.9" x2="339.3" y2="200.9" stroke="#000" stroke-width="1.1"/>
<text x="334.1" y="203.4" font-size="7.0" fill="#1a1a1a" color="#1a1a1a" text-anchor="end" textLength="15.8" lengthAdjust="spacingAndGlyphs">4000</text>
<line x1="336.2" y1="216.3" x2="339.3" y2="216.3" stroke="#000" stroke-width="1.1"/>
<text x="334.1" y="218.8" font-size="7.0" fill="#1a1a1a" color="#1a1a1a" text-anchor="end" textLength="15.8" lengthAdjust="spacingAndGlyphs">2000</text>
<line x1="336.2" y1="231.5" x2="339.3" y2="231.5" stroke="#000" stroke-width="1.1"/>
<text x="334.1" y="234.0" font-size="7.0" fill="#1a1a1a" color="#1a1a1a" text-anchor="end" textLength="4.0" lengthAdjust="spacingAndGlyphs">0</text>
<text x="350.1" y="240.7" font-size="7.2" fill="#1a1a1a" color="#1a1a1a" textLength="10.1" lengthAdjust="spacingAndGlyphs">WT</text>
<text x="368.8" y="240.7" font-size="7.2" fill="#1a1a1a" color="#1a1a1a" font-style="italic" textLength="19.5" lengthAdjust="spacingAndGlyphs">Ent1<tspan dy="-2.6" font-size="4.2">-/-</tspan></text>
<text x="297.6" y="191.9" font-size="9.4" fill="#1a1a1a" color="#1a1a1a" text-anchor="middle" textLength="15.1" lengthAdjust="spacingAndGlyphs" transform="rotate(-90 297.6 191.9)">CMP</text>
<text x="309.1" y="192.0" font-size="8.8" fill="#1a1a1a" color="#1a1a1a" text-anchor="middle" textLength="47.5" lengthAdjust="spacingAndGlyphs" transform="rotate(-90 309.1 192.0)">(/10<tspan dy="-3" font-size="5.2">6</tspan><tspan dy="3"> BM cells)</tspan></text>
<rect x="467.3" y="180.7" width="14.8" height="50.6" fill="#8b95c0"/>
<rect x="490.0" y="192.0" width="15.0" height="39.3" fill="#cf8a7c"/>
<line x1="474.7" y1="167.6" x2="474.7" y2="192.2" stroke="#111" stroke-width="1.1"/>
<line x1="471.0" y1="167.6" x2="478.4" y2="167.6" stroke="#111" stroke-width="1.1"/>
<line x1="471.0" y1="192.2" x2="478.4" y2="192.2" stroke="#111" stroke-width="1.1"/>
<line x1="497.5" y1="185.6" x2="497.5" y2="197.5" stroke="#111" stroke-width="1.1"/>
<line x1="493.8" y1="185.6" x2="501.2" y2="185.6" stroke="#111" stroke-width="1.1"/>
<line x1="493.8" y1="197.5" x2="501.2" y2="197.5" stroke="#111" stroke-width="1.1"/>
<circle cx="471.3" cy="162.6" r="1.55" fill="#1d3a86"/>
<circle cx="477.8" cy="161.8" r="1.55" fill="#1d3a86"/>
<circle cx="474.7" cy="169.7" r="1.55" fill="#1d3a86"/>
<circle cx="474.7" cy="182.7" r="1.55" fill="#1d3a86"/>
<circle cx="468.4" cy="187.6" r="1.55" fill="#1d3a86"/>
<circle cx="474.7" cy="187.9" r="1.55" fill="#1d3a86"/>
<circle cx="480.5" cy="186.4" r="1.55" fill="#1d3a86"/>
<circle cx="468.4" cy="191.8" r="1.55" fill="#1d3a86"/>
<circle cx="480.5" cy="190.8" r="1.55" fill="#1d3a86"/>
<rect x="490.2" y="185.6" width="2.9" height="2.9" fill="#b1123b"/>
<rect x="493.9" y="182.9" width="2.9" height="2.9" fill="#b1123b"/>
<rect x="498.2" y="185.6" width="2.9" height="2.9" fill="#b1123b"/>
<rect x="502.1" y="183.9" width="2.9" height="2.9" fill="#b1123b"/>
<rect x="493.2" y="192.5" width="2.9" height="2.9" fill="#b1123b"/>
<rect x="498.9" y="194.0" width="2.9" height="2.9" fill="#b1123b"/>
<rect x="496.1" y="199.0" width="2.9" height="2.9" fill="#b1123b"/>
<circle cx="497.5" cy="178.4" r="0.75" fill="#222"/>
<line x1="459.3" y1="153.0" x2="459.3" y2="231.9" stroke="#000" stroke-width="1.2"/>
<line x1="458.7" y1="231.3" x2="512.6" y2="231.3" stroke="#000" stroke-width="1.2"/>
<line x1="456.2" y1="155.0" x2="459.3" y2="155.0" stroke="#000" stroke-width="1.1"/>
<text x="454.1" y="157.5" font-size="7.0" fill="#1a1a1a" color="#1a1a1a" text-anchor="end" textLength="19.8" lengthAdjust="spacingAndGlyphs">10000</text>
<line x1="456.2" y1="170.4" x2="459.3" y2="170.4" stroke="#000" stroke-width="1.1"/>
<text x="454.1" y="172.9" font-size="7.0" fill="#1a1a1a" color="#1a1a1a" text-anchor="end" textLength="15.8" lengthAdjust="spacingAndGlyphs">8000</text>
<line x1="456.2" y1="185.9" x2="459.3" y2="185.9" stroke="#000" stroke-width="1.1"/>
<text x="454.1" y="188.4" font-size="7.0" fill="#1a1a1a" color="#1a1a1a" text-anchor="end" textLength="15.8" lengthAdjust="spacingAndGlyphs">6000</text>
<line x1="456.2" y1="200.9" x2="459.3" y2="200.9" stroke="#000" stroke-width="1.1"/>
<text x="454.1" y="203.4" font-size="7.0" fill="#1a1a1a" color="#1a1a1a" text-anchor="end" textLength="15.8" lengthAdjust="spacingAndGlyphs">4000</text>
<line x1="456.2" y1="216.3" x2="459.3" y2="216.3" stroke="#000" stroke-width="1.1"/>
<text x="454.1" y="218.8" font-size="7.0" fill="#1a1a1a" color="#1a1a1a" text-anchor="end" textLength="15.8" lengthAdjust="spacingAndGlyphs">2000</text>
<line x1="456.2" y1="231.5" x2="459.3" y2="231.5" stroke="#000" stroke-width="1.1"/>
<text x="454.1" y="234.0" font-size="7.0" fill="#1a1a1a" color="#1a1a1a" text-anchor="end" textLength="4.0" lengthAdjust="spacingAndGlyphs">0</text>
<text x="469.4" y="240.7" font-size="7.2" fill="#1a1a1a" color="#1a1a1a" textLength="10.1" lengthAdjust="spacingAndGlyphs">WT</text>
<text x="488.6" y="240.7" font-size="7.2" fill="#1a1a1a" color="#1a1a1a" font-style="italic" textLength="18.2" lengthAdjust="spacingAndGlyphs">Ent1<tspan dy="-2.6" font-size="4.2">-/-</tspan></text>
<text x="417.6" y="192.0" font-size="9.4" fill="#1a1a1a" color="#1a1a1a" text-anchor="middle" textLength="13.8" lengthAdjust="spacingAndGlyphs" transform="rotate(-90 417.6 192.0)">MEP</text>
<text x="429.2" y="192.0" font-size="8.8" fill="#1a1a1a" color="#1a1a1a" text-anchor="middle" textLength="47.5" lengthAdjust="spacingAndGlyphs" transform="rotate(-90 429.2 192.0)">(/10<tspan dy="-3" font-size="5.2">6</tspan><tspan dy="3"> BM cells)</tspan></text>
<rect x="65.4" y="327.2" width="15.8" height="47.0" fill="#8b95c0"/>
<rect x="89.3" y="315.6" width="15.6" height="58.6" fill="#cf8a7c"/>
<line x1="73.3" y1="313.7" x2="73.3" y2="339.7" stroke="#111" stroke-width="1.1"/>
<line x1="69.6" y1="313.7" x2="77.0" y2="313.7" stroke="#111" stroke-width="1.1"/>
<line x1="69.6" y1="339.7" x2="77.0" y2="339.7" stroke="#111" stroke-width="1.1"/>
<line x1="96.9" y1="306.4" x2="96.9" y2="322.4" stroke="#6f8585" stroke-width="1.1"/>
<line x1="93.2" y1="306.4" x2="100.6" y2="306.4" stroke="#6f8585" stroke-width="1.1"/>
<line x1="93.2" y1="322.4" x2="100.6" y2="322.4" stroke="#6f8585" stroke-width="1.1"/>
<circle cx="73.4" cy="308.5" r="1.55" fill="#1d3a86"/>
<circle cx="67.1" cy="320.7" r="1.55" fill="#1d3a86"/>
<circle cx="71.4" cy="317.5" r="1.55" fill="#1d3a86"/>
<circle cx="75.3" cy="317.5" r="1.55" fill="#1d3a86"/>
<circle cx="79.3" cy="318.3" r="1.55" fill="#1d3a86"/>
<circle cx="73.4" cy="329.1" r="1.55" fill="#1d3a86"/>
<circle cx="67.1" cy="343.0" r="1.55" fill="#1d3a86"/>
<circle cx="73.4" cy="341.4" r="1.55" fill="#1d3a86"/>
<circle cx="79.3" cy="342.5" r="1.55" fill="#1d3a86"/>
<rect x="92.0" y="303.4" width="2.9" height="2.9" fill="#b1123b"/>
<rect x="98.8" y="304.2" width="2.9" height="2.9" fill="#b1123b"/>
<rect x="92.0" y="307.6" width="2.9" height="2.9" fill="#b1123b"/>
<rect x="98.8" y="310.9" width="2.9" height="2.9" fill="#b1123b"/>
<rect x="95.5" y="314.9" width="2.9" height="2.9" fill="#b1123b"/>
<rect x="92.0" y="320.1" width="2.9" height="2.9" fill="#b1123b"/>
<rect x="98.8" y="320.1" width="2.9" height="2.9" fill="#b1123b"/>
<rect x="95.5" y="327.9" width="2.9" height="2.9" fill="#b1123b"/>
<circle cx="96.9" cy="298.2" r="0.75" fill="#222"/>
<line x1="57.5" y1="291.0" x2="57.5" y2="374.8" stroke="#000" stroke-width="1.2"/>
<line x1="56.9" y1="374.2" x2="112.5" y2="374.2" stroke="#000" stroke-width="1.2"/>
<line x1="54.4" y1="293.0" x2="57.5" y2="293.0" stroke="#000" stroke-width="1.1"/>
<text x="51.1" y="295.5" font-size="7.0" fill="#1a1a1a" color="#1a1a1a" text-anchor="end" textLength="19.8" lengthAdjust="spacingAndGlyphs">20000</text>
<line x1="54.4" y1="313.1" x2="57.5" y2="313.1" stroke="#000" stroke-width="1.1"/>
<text x="51.1" y="315.6" font-size="7.0" fill="#1a1a1a" color="#1a1a1a" text-anchor="end" textLength="19.8" lengthAdjust="spacingAndGlyphs">15000</text>
<line x1="54.4" y1="333.6" x2="57.5" y2="333.6" stroke="#000" stroke-width="1.1"/>
<text x="51.1" y="336.1" font-size="7.0" fill="#1a1a1a" color="#1a1a1a" text-anchor="end" textLength="19.8" lengthAdjust="spacingAndGlyphs">10000</text>
<line x1="54.4" y1="353.7" x2="57.5" y2="353.7" stroke="#000" stroke-width="1.1"/>
<text x="51.1" y="356.2" font-size="7.0" fill="#1a1a1a" color="#1a1a1a" text-anchor="end" textLength="15.8" lengthAdjust="spacingAndGlyphs">5000</text>
<line x1="54.4" y1="373.9" x2="57.5" y2="373.9" stroke="#000" stroke-width="1.1"/>
<text x="51.1" y="376.4" font-size="7.0" fill="#1a1a1a" color="#1a1a1a" text-anchor="end" textLength="4.0" lengthAdjust="spacingAndGlyphs">0</text>
<text x="68.2" y="382.9" font-size="7.2" fill="#1a1a1a" color="#1a1a1a" textLength="10.3" lengthAdjust="spacingAndGlyphs">WT</text>
<text x="88.0" y="382.9" font-size="7.2" fill="#1a1a1a" color="#1a1a1a" font-style="italic" textLength="18.2" lengthAdjust="spacingAndGlyphs">Ent1<tspan dy="-2.6" font-size="4.2">-/-</tspan></text>
<text x="14.6" y="332.5" font-size="9.4" fill="#1a1a1a" color="#1a1a1a" text-anchor="middle" textLength="17.3" lengthAdjust="spacingAndGlyphs" transform="rotate(-90 14.6 332.5)">GMP</text>
<text x="27.6" y="332.2" font-size="8.8" fill="#1a1a1a" color="#1a1a1a" text-anchor="middle" textLength="48.2" lengthAdjust="spacingAndGlyphs" transform="rotate(-90 27.6 332.2)">(/10<tspan dy="-3" font-size="5.2">6</tspan><tspan dy="3"> BM cells)</tspan></text>
<rect x="360.5" y="312.0" width="12.1" height="62.3" fill="#8b95c0"/>
<rect x="391.0" y="338.2" width="11.9" height="36.1" fill="#cf8a7c"/>
<line x1="366.6" y1="303.0" x2="366.6" y2="319.4" stroke="#111" stroke-width="1.1"/>
<line x1="362.9" y1="303.0" x2="370.3" y2="303.0" stroke="#111" stroke-width="1.1"/>
<line x1="362.9" y1="319.4" x2="370.3" y2="319.4" stroke="#111" stroke-width="1.1"/>
<line x1="396.9" y1="325.1" x2="396.9" y2="349.6" stroke="#6a6a6a" stroke-width="1.1"/>
<line x1="393.2" y1="325.1" x2="400.6" y2="325.1" stroke="#6a6a6a" stroke-width="1.1"/>
<line x1="393.2" y1="349.6" x2="400.6" y2="349.6" stroke="#6a6a6a" stroke-width="1.1"/>
<circle cx="366.6" cy="298.7" r="1.55" fill="#1d3a86"/>
<circle cx="366.6" cy="308.0" r="1.55" fill="#1d3a86"/>
<circle cx="361.9" cy="317.7" r="1.55" fill="#1d3a86"/>
<circle cx="366.6" cy="313.2" r="1.55" fill="#1d3a86"/>
<circle cx="370.9" cy="317.7" r="1.55" fill="#1d3a86"/>
<circle cx="396.9" cy="324.0" r="1.75" fill="#b1123b"/>
<circle cx="396.9" cy="331.0" r="1.75" fill="#b1123b"/>
<circle cx="396.9" cy="343.0" r="1.75" fill="#b1123b"/>
<circle cx="396.9" cy="351.2" r="1.75" fill="#b1123b"/>
<path d="M360.5,296.8 V294.0 H403.2 V296.8" fill="none" stroke="#111" stroke-width="1.1"/>
<circle cx="381.8" cy="290.7" r="0.75" fill="#222"/>
<line x1="354.6" y1="288.5" x2="354.6" y2="374.9" stroke="#000" stroke-width="1.2"/>
<line x1="354.0" y1="374.3" x2="408.8" y2="374.3" stroke="#000" stroke-width="1.2"/>
<line x1="351.5" y1="291.8" x2="354.6" y2="291.8" stroke="#000" stroke-width="1.1"/>
<text x="348.4" y="294.3" font-size="7.8" fill="#1a1a1a" color="#1a1a1a" text-anchor="end" textLength="8.6" lengthAdjust="spacingAndGlyphs">60</text>
<line x1="351.5" y1="312.5" x2="354.6" y2="312.5" stroke="#000" stroke-width="1.1"/>
<text x="348.4" y="315.0" font-size="7.8" fill="#1a1a1a" color="#1a1a1a" text-anchor="end" textLength="8.6" lengthAdjust="spacingAndGlyphs">55</text>
<line x1="351.5" y1="332.9" x2="354.6" y2="332.9" stroke="#000" stroke-width="1.1"/>
<text x="348.4" y="335.4" font-size="7.8" fill="#1a1a1a" color="#1a1a1a" text-anchor="end" textLength="8.6" lengthAdjust="spacingAndGlyphs">50</text>
<line x1="351.5" y1="353.5" x2="354.6" y2="353.5" stroke="#000" stroke-width="1.1"/>
<text x="348.4" y="356.0" font-size="7.8" fill="#1a1a1a" color="#1a1a1a" text-anchor="end" textLength="8.6" lengthAdjust="spacingAndGlyphs">45</text>
<line x1="351.5" y1="374.3" x2="354.6" y2="374.3" stroke="#000" stroke-width="1.1"/>
<text x="348.4" y="376.8" font-size="7.8" fill="#1a1a1a" color="#1a1a1a" text-anchor="end" textLength="8.6" lengthAdjust="spacingAndGlyphs">40</text>
<text x="361.0" y="382.9" font-size="7.2" fill="#1a1a1a" color="#1a1a1a" textLength="10.4" lengthAdjust="spacingAndGlyphs">WT</text>
<text x="387.7" y="382.9" font-size="7.2" fill="#1a1a1a" color="#1a1a1a" font-style="italic" textLength="18.7" lengthAdjust="spacingAndGlyphs">Ent1<tspan dy="-2.6" font-size="4.2">-/-</tspan></text>
<text x="335.2" y="331.3" font-size="9.4" fill="#1a1a1a" color="#1a1a1a" text-anchor="middle" textLength="52.4" lengthAdjust="spacingAndGlyphs" transform="rotate(-90 335.2 331.3)">Ter 119 cells (%)</text>
<rect x="452.9" y="350.0" width="11.9" height="24.1" fill="#8b95c0"/>
<rect x="483.0" y="329.9" width="12.3" height="44.2" fill="#cf8a7c"/>
<line x1="458.9" y1="342.5" x2="458.9" y2="355.8" stroke="#111" stroke-width="1.1"/>
<line x1="455.2" y1="342.5" x2="462.6" y2="342.5" stroke="#111" stroke-width="1.1"/>
<line x1="455.2" y1="355.8" x2="462.6" y2="355.8" stroke="#111" stroke-width="1.1"/>
<line x1="489.4" y1="313.8" x2="489.4" y2="344.9" stroke="#111" stroke-width="1.1"/>
<line x1="485.7" y1="313.8" x2="493.1" y2="313.8" stroke="#111" stroke-width="1.1"/>
<line x1="485.7" y1="344.9" x2="493.1" y2="344.9" stroke="#111" stroke-width="1.1"/>
<circle cx="458.9" cy="340.6" r="1.25" fill="#1d3a86"/>
<circle cx="458.9" cy="344.5" r="1.25" fill="#1d3a86"/>
<circle cx="458.9" cy="348.5" r="1.25" fill="#1d3a86"/>
<circle cx="458.9" cy="352.5" r="1.25" fill="#1d3a86"/>
<circle cx="458.9" cy="357.0" r="1.25" fill="#1d3a86"/>
<rect x="487.9" y="311.1" width="2.9" height="2.9" fill="#b1123b"/>
<rect x="487.9" y="317.9" width="2.9" height="2.9" fill="#b1123b"/>
<rect x="483.4" y="341.6" width="2.9" height="2.9" fill="#b1123b"/>
<rect x="492.2" y="341.1" width="2.9" height="2.9" fill="#b1123b"/>
<path d="M452.5,296.4 V293.7 H495.3 V296.4" fill="none" stroke="#111" stroke-width="1.1"/>
<circle cx="473.9" cy="291.0" r="0.75" fill="#222"/>
<line x1="446.5" y1="288.3" x2="446.5" y2="374.7" stroke="#000" stroke-width="1.2"/>
<line x1="445.9" y1="374.1" x2="501.3" y2="374.1" stroke="#000" stroke-width="1.2"/>
<line x1="443.4" y1="291.3" x2="446.5" y2="291.3" stroke="#000" stroke-width="1.1"/>
<text x="439.7" y="293.8" font-size="7.8" fill="#1a1a1a" color="#1a1a1a" text-anchor="end" textLength="8.6" lengthAdjust="spacingAndGlyphs">40</text>
<line x1="443.4" y1="312.3" x2="446.5" y2="312.3" stroke="#000" stroke-width="1.1"/>
<text x="439.7" y="314.8" font-size="7.8" fill="#1a1a1a" color="#1a1a1a" text-anchor="end" textLength="8.6" lengthAdjust="spacingAndGlyphs">35</text>
<line x1="443.4" y1="333.0" x2="446.5" y2="333.0" stroke="#000" stroke-width="1.1"/>
<text x="439.7" y="335.5" font-size="7.8" fill="#1a1a1a" color="#1a1a1a" text-anchor="end" textLength="8.6" lengthAdjust="spacingAndGlyphs">30</text>
<line x1="443.4" y1="353.6" x2="446.5" y2="353.6" stroke="#000" stroke-width="1.1"/>
<text x="439.7" y="356.1" font-size="7.8" fill="#1a1a1a" color="#1a1a1a" text-anchor="end" textLength="8.6" lengthAdjust="spacingAndGlyphs">25</text>
<line x1="443.4" y1="374.1" x2="446.5" y2="374.1" stroke="#000" stroke-width="1.1"/>
<text x="439.7" y="376.6" font-size="7.8" fill="#1a1a1a" color="#1a1a1a" text-anchor="end" textLength="8.6" lengthAdjust="spacingAndGlyphs">20</text>
<text x="453.8" y="382.3" font-size="7.2" fill="#1a1a1a" color="#1a1a1a" textLength="10.0" lengthAdjust="spacingAndGlyphs">WT</text>
<text x="480.3" y="382.3" font-size="7.2" fill="#1a1a1a" color="#1a1a1a" font-style="italic" textLength="19.2" lengthAdjust="spacingAndGlyphs">Ent1<tspan dy="-2.6" font-size="4.2">-/-</tspan></text>
<text x="427.1" y="331.0" font-size="9.4" fill="#1a1a1a" color="#1a1a1a" text-anchor="middle" textLength="42.1" lengthAdjust="spacingAndGlyphs" transform="rotate(-90 427.1 331.0)">Gr-1 cells (%)</text>
<rect x="60.0" y="475.0" width="11.8" height="43.4" fill="#8b95c0"/>
<rect x="89.9" y="461.5" width="12.0" height="56.9" fill="#cf8a7c"/>
<line x1="65.8" y1="472.7" x2="65.8" y2="481.4" stroke="#111" stroke-width="1.1"/>
<line x1="62.1" y1="472.7" x2="69.5" y2="472.7" stroke="#111" stroke-width="1.1"/>
<line x1="62.1" y1="481.4" x2="69.5" y2="481.4" stroke="#111" stroke-width="1.1"/>
<line x1="95.9" y1="451.3" x2="95.9" y2="470.3" stroke="#111" stroke-width="1.1"/>
<line x1="92.2" y1="451.3" x2="99.6" y2="451.3" stroke="#111" stroke-width="1.1"/>
<line x1="92.2" y1="470.3" x2="99.6" y2="470.3" stroke="#111" stroke-width="1.1"/>
<circle cx="65.5" cy="469.4" r="1.25" fill="#1d3a86"/>
<circle cx="61.9" cy="474.3" r="1.25" fill="#1d3a86"/>
<circle cx="65.8" cy="473.8" r="1.25" fill="#1d3a86"/>
<circle cx="69.3" cy="474.6" r="1.25" fill="#1d3a86"/>
<circle cx="61.1" cy="478.2" r="1.25" fill="#1d3a86"/>
<circle cx="65.8" cy="478.6" r="1.25" fill="#1d3a86"/>
<circle cx="70.3" cy="477.0" r="1.25" fill="#1d3a86"/>
<circle cx="63.9" cy="480.9" r="1.25" fill="#1d3a86"/>
<circle cx="67.1" cy="480.9" r="1.25" fill="#1d3a86"/>
<circle cx="65.8" cy="484.6" r="1.25" fill="#1d3a86"/>
<rect x="90.0" y="446.2" width="2.9" height="2.9" fill="#b1123b"/>
<rect x="98.8" y="448.4" width="2.9" height="2.9" fill="#b1123b"/>
<rect x="90.0" y="451.4" width="2.9" height="2.9" fill="#b1123b"/>
<rect x="90.0" y="462.1" width="2.9" height="2.9" fill="#b1123b"/>
<rect x="94.5" y="461.2" width="2.9" height="2.9" fill="#b1123b"/>
<rect x="98.8" y="462.9" width="2.9" height="2.9" fill="#b1123b"/>
<rect x="94.5" y="464.4" width="2.9" height="2.9" fill="#b1123b"/>
<rect x="94.5" y="477.4" width="2.9" height="2.9" fill="#b1123b"/>
<path d="M59.2,440.6 V438.2 H102.2 V440.6" fill="none" stroke="#111" stroke-width="1.1"/>
<circle cx="80.9" cy="435.0" r="0.75" fill="#222"/>
<line x1="53.7" y1="434.5" x2="53.7" y2="519.0" stroke="#000" stroke-width="1.2"/>
<line x1="53.1" y1="518.4" x2="108.9" y2="518.4" stroke="#000" stroke-width="1.2"/>
<line x1="50.6" y1="436.8" x2="53.7" y2="436.8" stroke="#000" stroke-width="1.1"/>
<text x="47.6" y="439.3" font-size="7.8" fill="#1a1a1a" color="#1a1a1a" text-anchor="end" textLength="4.3" lengthAdjust="spacingAndGlyphs">3</text>
<line x1="50.6" y1="464.3" x2="53.7" y2="464.3" stroke="#000" stroke-width="1.1"/>
<text x="47.6" y="466.8" font-size="7.8" fill="#1a1a1a" color="#1a1a1a" text-anchor="end" textLength="4.3" lengthAdjust="spacingAndGlyphs">2</text>
<line x1="50.6" y1="491.2" x2="53.7" y2="491.2" stroke="#000" stroke-width="1.1"/>
<text x="47.6" y="493.7" font-size="7.8" fill="#1a1a1a" color="#1a1a1a" text-anchor="end" textLength="4.3" lengthAdjust="spacingAndGlyphs">1</text>
<line x1="50.6" y1="518.3" x2="53.7" y2="518.3" stroke="#000" stroke-width="1.1"/>
<text x="47.6" y="520.8" font-size="7.8" fill="#1a1a1a" color="#1a1a1a" text-anchor="end" textLength="4.3" lengthAdjust="spacingAndGlyphs">0</text>
<text x="60.8" y="526.8" font-size="7.2" fill="#1a1a1a" color="#1a1a1a" textLength="10.2" lengthAdjust="spacingAndGlyphs">WT</text>
<text x="86.7" y="526.8" font-size="7.2" fill="#1a1a1a" color="#1a1a1a" font-style="italic" textLength="17.9" lengthAdjust="spacingAndGlyphs">Ent1<tspan dy="-2.6" font-size="4.2">-/-</tspan></text>
<text x="39.0" y="475.6" font-size="9.4" fill="#1a1a1a" color="#1a1a1a" text-anchor="middle" textLength="87.4" lengthAdjust="spacingAndGlyphs" transform="rotate(-90 39.0 475.6)">Spleen/body weight (mg/g)</text>
<rect x="358.5" y="517.0" width="6.1" height="1.1" fill="#8b95c0"/>
<rect x="369.6" y="515.5" width="6.6" height="2.6" fill="#cf8a7c"/>
<rect x="387.7" y="507.5" width="7.3" height="10.6" fill="#8b95c0"/>
<rect x="398.8" y="486.3" width="7.4" height="31.8" fill="#cf8a7c"/>
<rect x="417.3" y="491.5" width="7.3" height="26.6" fill="#8b95c0"/>
<rect x="428.5" y="492.1" width="7.3" height="26.0" fill="#cf8a7c"/>
<rect x="447.1" y="469.0" width="7.1" height="49.1" fill="#8b95c0"/>
<rect x="458.1" y="460.8" width="7.3" height="57.3" fill="#cf8a7c"/>
<line x1="391.5" y1="501.7" x2="391.5" y2="512.3" stroke="#111" stroke-width="1.1"/>
<line x1="387.8" y1="501.7" x2="395.2" y2="501.7" stroke="#111" stroke-width="1.1"/>
<line x1="387.8" y1="512.3" x2="395.2" y2="512.3" stroke="#111" stroke-width="1.1"/>
<line x1="402.3" y1="471.9" x2="402.3" y2="499.8" stroke="#111" stroke-width="1.1"/>
<line x1="398.6" y1="471.9" x2="406.0" y2="471.9" stroke="#111" stroke-width="1.1"/>
<line x1="398.6" y1="499.8" x2="406.0" y2="499.8" stroke="#111" stroke-width="1.1"/>
<line x1="450.4" y1="460.8" x2="450.4" y2="475.4" stroke="#111" stroke-width="1.1"/>
<line x1="446.7" y1="460.8" x2="454.1" y2="460.8" stroke="#111" stroke-width="1.1"/>
<line x1="446.7" y1="475.4" x2="454.1" y2="475.4" stroke="#111" stroke-width="1.1"/>
<line x1="461.5" y1="450.4" x2="461.5" y2="469.0" stroke="#111" stroke-width="1.1"/>
<line x1="457.8" y1="450.4" x2="465.2" y2="450.4" stroke="#111" stroke-width="1.1"/>
<line x1="457.8" y1="469.0" x2="465.2" y2="469.0" stroke="#111" stroke-width="1.1"/>
<circle cx="359.4" cy="517.6" r="1.2" fill="#1d3a86"/>
<circle cx="362.3" cy="517.6" r="1.2" fill="#1d3a86"/>
<circle cx="364.6" cy="517.6" r="1.2" fill="#1d3a86"/>
<rect x="369.2" y="516.0" width="2.3" height="2.3" fill="#b1123b"/>
<rect x="371.8" y="514.6" width="2.3" height="2.3" fill="#b1123b"/>
<rect x="374.7" y="516.0" width="2.3" height="2.3" fill="#b1123b"/>
<circle cx="372.9" cy="508.8" r="0.75" fill="#222"/>
<circle cx="391.2" cy="500.4" r="1.25" fill="#1d3a86"/>
<circle cx="389.2" cy="506.5" r="1.25" fill="#1d3a86"/>
<circle cx="394.0" cy="503.1" r="1.25" fill="#1d3a86"/>
<circle cx="388.3" cy="513.8" r="1.25" fill="#1d3a86"/>
<circle cx="393.5" cy="510.4" r="1.25" fill="#1d3a86"/>
<rect x="401.1" y="464.4" width="2.4" height="2.4" fill="#b1123b"/>
<rect x="399.2" y="490.0" width="2.4" height="2.4" fill="#b1123b"/>
<rect x="403.4" y="487.6" width="2.4" height="2.4" fill="#b1123b"/>
<rect x="401.1" y="496.7" width="2.4" height="2.4" fill="#b1123b"/>
<circle cx="402.7" cy="459.4" r="0.75" fill="#222"/>
<circle cx="419.2" cy="489.2" r="1.25" fill="#1d3a86"/>
<circle cx="421.2" cy="490.8" r="1.25" fill="#1d3a86"/>
<circle cx="423.5" cy="491.5" r="1.25" fill="#1d3a86"/>
<circle cx="418.3" cy="494.0" r="1.25" fill="#1d3a86"/>
<rect x="428.7" y="487.7" width="2.3" height="2.3" fill="#b1123b"/>
<rect x="432.0" y="489.7" width="2.3" height="2.3" fill="#b1123b"/>
<rect x="433.5" y="490.4" width="2.3" height="2.3" fill="#b1123b"/>
<rect x="428.7" y="492.9" width="2.3" height="2.3" fill="#b1123b"/>
<text x="431.9" y="483.4" font-size="5.8" fill="#444" color="#444" text-anchor="middle">ns</text>
<circle cx="450.4" cy="458.8" r="1.25" fill="#1d3a86"/>
<circle cx="448.1" cy="466.2" r="1.25" fill="#1d3a86"/>
<circle cx="452.9" cy="465.2" r="1.25" fill="#1d3a86"/>
<circle cx="450.4" cy="471.9" r="1.25" fill="#1d3a86"/>
<circle cx="450.4" cy="477.7" r="1.25" fill="#1d3a86"/>
<rect x="460.3" y="446.3" width="2.4" height="2.4" fill="#b1123b"/>
<rect x="460.3" y="457.3" width="2.4" height="2.4" fill="#b1123b"/>
<rect x="462.3" y="464.6" width="2.4" height="2.4" fill="#b1123b"/>
<rect x="458.4" y="467.3" width="2.4" height="2.4" fill="#b1123b"/>
<line x1="354.2" y1="436.5" x2="354.2" y2="518.7" stroke="#000" stroke-width="1.2"/>
<line x1="353.6" y1="518.1" x2="469.2" y2="518.1" stroke="#000" stroke-width="1.2"/>
<line x1="351.1" y1="438.7" x2="354.2" y2="438.7" stroke="#000" stroke-width="1.1"/>
<text x="348.5" y="441.2" font-size="7.8" fill="#1a1a1a" color="#1a1a1a" text-anchor="end" textLength="8.6" lengthAdjust="spacingAndGlyphs">30</text>
<line x1="351.1" y1="465.6" x2="354.2" y2="465.6" stroke="#000" stroke-width="1.1"/>
<text x="348.5" y="468.1" font-size="7.8" fill="#1a1a1a" color="#1a1a1a" text-anchor="end" textLength="8.6" lengthAdjust="spacingAndGlyphs">20</text>
<line x1="351.1" y1="491.7" x2="354.2" y2="491.7" stroke="#000" stroke-width="1.1"/>
<text x="348.5" y="494.2" font-size="7.8" fill="#1a1a1a" color="#1a1a1a" text-anchor="end" textLength="8.6" lengthAdjust="spacingAndGlyphs">10</text>
<line x1="351.1" y1="518.1" x2="354.2" y2="518.1" stroke="#000" stroke-width="1.1"/>
<text x="348.5" y="520.6" font-size="7.8" fill="#1a1a1a" color="#1a1a1a" text-anchor="end" textLength="4.3" lengthAdjust="spacingAndGlyphs">0</text>
<text x="367.1" y="526.7" font-size="7.2" fill="#444" color="#444" text-anchor="middle" style="stroke-width:0">I</text>
<text x="396.9" y="526.7" font-size="7.2" fill="#444" color="#444" text-anchor="middle" style="stroke-width:0">II</text>
<text x="426.5" y="526.7" font-size="7.2" fill="#444" color="#444" text-anchor="middle" style="stroke-width:0">III</text>
<text x="455.8" y="526.7" font-size="7.2" fill="#444" color="#444" text-anchor="middle" style="stroke-width:0">IV</text>
<text x="335.0" y="476.7" font-size="9.4" fill="#1a1a1a" color="#1a1a1a" text-anchor="middle" textLength="84.6" lengthAdjust="spacingAndGlyphs" transform="rotate(-90 335.0 476.7)">Population percentage (%)</text>
<rect x="204.8" y="643.1" width="11.7" height="16.8" fill="#8b95c0"/>
<rect x="234.1" y="613.8" width="11.6" height="46.1" fill="#cf8a7c"/>
<line x1="210.7" y1="631.2" x2="210.7" y2="653.1" stroke="#111" stroke-width="1.1"/>
<line x1="207.0" y1="631.2" x2="214.4" y2="631.2" stroke="#111" stroke-width="1.1"/>
<line x1="207.0" y1="653.1" x2="214.4" y2="653.1" stroke="#111" stroke-width="1.1"/>
<line x1="239.9" y1="596.5" x2="239.9" y2="629.4" stroke="#111" stroke-width="1.1"/>
<line x1="236.2" y1="596.5" x2="243.6" y2="596.5" stroke="#111" stroke-width="1.1"/>
<line x1="236.2" y1="629.4" x2="243.6" y2="629.4" stroke="#111" stroke-width="1.1"/>
<circle cx="210.3" cy="623.3" r="1.55" fill="#1d3a86"/>
<circle cx="206.1" cy="644.5" r="1.55" fill="#1d3a86"/>
<circle cx="214.7" cy="644.0" r="1.55" fill="#1d3a86"/>
<circle cx="206.1" cy="650.0" r="1.55" fill="#1d3a86"/>
<circle cx="214.7" cy="649.5" r="1.55" fill="#1d3a86"/>
<rect x="238.1" y="590.1" width="2.9" height="2.9" fill="#b1123b"/>
<rect x="238.1" y="612.0" width="2.9" height="2.9" fill="#b1123b"/>
<rect x="238.1" y="616.0" width="2.9" height="2.9" fill="#b1123b"/>
<rect x="238.1" y="628.4" width="2.9" height="2.9" fill="#b1123b"/>
<path d="M203.9,588.3 V586.1 H245.7 V588.3" fill="none" stroke="#111" stroke-width="1.1"/>
<circle cx="224.9" cy="582.4" r="0.75" fill="#222"/>
<line x1="198.4" y1="576.5" x2="198.4" y2="660.5" stroke="#000" stroke-width="1.2"/>
<line x1="197.8" y1="659.9" x2="253.6" y2="659.9" stroke="#000" stroke-width="1.2"/>
<line x1="195.3" y1="578.8" x2="198.4" y2="578.8" stroke="#000" stroke-width="1.1"/>
<text x="192.4" y="581.3" font-size="7.8" fill="#1a1a1a" color="#1a1a1a" text-anchor="end" textLength="8.6" lengthAdjust="spacingAndGlyphs">50</text>
<line x1="195.3" y1="599.2" x2="198.4" y2="599.2" stroke="#000" stroke-width="1.1"/>
<text x="192.4" y="601.7" font-size="7.8" fill="#1a1a1a" color="#1a1a1a" text-anchor="end" textLength="8.6" lengthAdjust="spacingAndGlyphs">45</text>
<line x1="195.3" y1="619.3" x2="198.4" y2="619.3" stroke="#000" stroke-width="1.1"/>
<text x="192.4" y="621.8" font-size="7.8" fill="#1a1a1a" color="#1a1a1a" text-anchor="end" textLength="8.6" lengthAdjust="spacingAndGlyphs">40</text>
<line x1="195.3" y1="639.4" x2="198.4" y2="639.4" stroke="#000" stroke-width="1.1"/>
<text x="192.4" y="641.9" font-size="7.8" fill="#1a1a1a" color="#1a1a1a" text-anchor="end" textLength="8.6" lengthAdjust="spacingAndGlyphs">35</text>
<line x1="195.3" y1="659.9" x2="198.4" y2="659.9" stroke="#000" stroke-width="1.1"/>
<text x="192.4" y="662.4" font-size="7.8" fill="#1a1a1a" color="#1a1a1a" text-anchor="end" textLength="8.6" lengthAdjust="spacingAndGlyphs">30</text>
<text x="204.8" y="668.6" font-size="7.2" fill="#1a1a1a" color="#1a1a1a" textLength="11.0" lengthAdjust="spacingAndGlyphs">WT</text>
<text x="230.8" y="668.6" font-size="7.2" fill="#1a1a1a" color="#1a1a1a" font-style="italic" textLength="19.2" lengthAdjust="spacingAndGlyphs">Ent1<tspan dy="-2.6" font-size="4.2">-/-</tspan></text>
<text x="179.1" y="618.0" font-size="9.4" fill="#1a1a1a" color="#1a1a1a" text-anchor="middle" textLength="52.1" lengthAdjust="spacingAndGlyphs" transform="rotate(-90 179.1 618.0)">Ter 119 cells (%)</text>
<rect x="303.5" y="621.2" width="11.3" height="38.7" fill="#8b95c0"/>
<rect x="333.1" y="614.2" width="11.3" height="45.7" fill="#cf8a7c"/>
<line x1="309.0" y1="619.3" x2="309.0" y2="623.3" stroke="#111" stroke-width="1.1"/>
<line x1="305.3" y1="619.3" x2="312.7" y2="619.3" stroke="#111" stroke-width="1.1"/>
<line x1="305.3" y1="623.3" x2="312.7" y2="623.3" stroke="#111" stroke-width="1.1"/>
<line x1="338.9" y1="600.1" x2="338.9" y2="626.6" stroke="#111" stroke-width="1.1"/>
<line x1="335.2" y1="600.1" x2="342.6" y2="600.1" stroke="#111" stroke-width="1.1"/>
<line x1="335.2" y1="626.6" x2="342.6" y2="626.6" stroke="#111" stroke-width="1.1"/>
<circle cx="304.6" cy="619.6" r="1.4" fill="#1d3a86"/>
<circle cx="308.2" cy="620.4" r="1.4" fill="#1d3a86"/>
<circle cx="312.6" cy="620.2" r="1.4" fill="#1d3a86"/>
<circle cx="305.4" cy="622.2" r="1.4" fill="#1d3a86"/>
<circle cx="309.6" cy="622.6" r="1.4" fill="#1d3a86"/>
<circle cx="313.2" cy="622.4" r="1.4" fill="#1d3a86"/>
<rect x="337.2" y="592.6" width="2.9" height="2.9" fill="#b1123b"/>
<rect x="333.1" y="616.4" width="2.9" height="2.9" fill="#b1123b"/>
<rect x="341.7" y="616.4" width="2.9" height="2.9" fill="#b1123b"/>
<rect x="337.2" y="622.9" width="2.9" height="2.9" fill="#b1123b"/>
<path d="M303.3,586.1 V583.7 H344.4 V586.1" fill="none" stroke="#111" stroke-width="1.1"/>
<text x="324.2" y="580.4" font-size="5.8" fill="#444" color="#444" text-anchor="middle">ns</text>
<line x1="297.4" y1="576.5" x2="297.4" y2="660.5" stroke="#000" stroke-width="1.2"/>
<line x1="296.8" y1="659.9" x2="352.3" y2="659.9" stroke="#000" stroke-width="1.2"/>
<line x1="294.3" y1="578.8" x2="297.4" y2="578.8" stroke="#000" stroke-width="1.1"/>
<text x="291.4" y="581.3" font-size="7.8" fill="#1a1a1a" color="#1a1a1a" text-anchor="end" textLength="8.6" lengthAdjust="spacingAndGlyphs">15</text>
<line x1="294.3" y1="606.0" x2="297.4" y2="606.0" stroke="#000" stroke-width="1.1"/>
<text x="291.4" y="608.5" font-size="7.8" fill="#1a1a1a" color="#1a1a1a" text-anchor="end" textLength="8.6" lengthAdjust="spacingAndGlyphs">10</text>
<line x1="294.3" y1="633.0" x2="297.4" y2="633.0" stroke="#000" stroke-width="1.1"/>
<text x="291.4" y="635.5" font-size="7.8" fill="#1a1a1a" color="#1a1a1a" text-anchor="end" textLength="4.3" lengthAdjust="spacingAndGlyphs">5</text>
<line x1="294.3" y1="659.9" x2="297.4" y2="659.9" stroke="#000" stroke-width="1.1"/>
<text x="291.4" y="662.4" font-size="7.8" fill="#1a1a1a" color="#1a1a1a" text-anchor="end" textLength="4.3" lengthAdjust="spacingAndGlyphs">0</text>
<text x="303.5" y="668.6" font-size="7.2" fill="#1a1a1a" color="#1a1a1a" textLength="10.9" lengthAdjust="spacingAndGlyphs">WT</text>
<text x="329.4" y="668.6" font-size="7.2" fill="#1a1a1a" color="#1a1a1a" font-style="italic" textLength="17.4" lengthAdjust="spacingAndGlyphs">Ent1<tspan dy="-2.6" font-size="4.2">-/-</tspan></text>
<text x="277.7" y="618.0" font-size="9.4" fill="#1a1a1a" color="#1a1a1a" text-anchor="middle" textLength="42.0" lengthAdjust="spacingAndGlyphs" transform="rotate(-90 277.7 618.0)">Gr-1 cells (%)</text>
<line x1="425.6" y1="598.7" x2="425.6" y2="608.4" stroke="#27468c" stroke-width="0.9"/>
<line x1="423.8" y1="598.7" x2="427.4" y2="598.7" stroke="#27468c" stroke-width="0.9"/>
<line x1="423.8" y1="608.4" x2="427.4" y2="608.4" stroke="#27468c" stroke-width="0.9"/>
<line x1="433.5" y1="618.9" x2="433.5" y2="625.3" stroke="#27468c" stroke-width="0.9"/>
<line x1="431.7" y1="618.9" x2="435.3" y2="618.9" stroke="#27468c" stroke-width="0.9"/>
<line x1="431.7" y1="625.3" x2="435.3" y2="625.3" stroke="#27468c" stroke-width="0.9"/>
<line x1="446.9" y1="625.3" x2="446.9" y2="630.2" stroke="#27468c" stroke-width="0.9"/>
<line x1="445.1" y1="625.3" x2="448.7" y2="625.3" stroke="#27468c" stroke-width="0.9"/>
<line x1="445.1" y1="630.2" x2="448.7" y2="630.2" stroke="#27468c" stroke-width="0.9"/>
<line x1="462.8" y1="635.8" x2="462.8" y2="642.3" stroke="#27468c" stroke-width="0.9"/>
<line x1="461.0" y1="635.8" x2="464.6" y2="635.8" stroke="#27468c" stroke-width="0.9"/>
<line x1="461.0" y1="642.3" x2="464.6" y2="642.3" stroke="#27468c" stroke-width="0.9"/>
<line x1="486.8" y1="638.2" x2="486.8" y2="644.7" stroke="#27468c" stroke-width="0.9"/>
<line x1="485.0" y1="638.2" x2="488.6" y2="638.2" stroke="#27468c" stroke-width="0.9"/>
<line x1="485.0" y1="644.7" x2="488.6" y2="644.7" stroke="#27468c" stroke-width="0.9"/>
<line x1="425.6" y1="603.5" x2="425.6" y2="608.4" stroke="#b5173c" stroke-width="0.9"/>
<line x1="423.8" y1="603.5" x2="427.4" y2="603.5" stroke="#b5173c" stroke-width="0.9"/>
<line x1="423.8" y1="608.4" x2="427.4" y2="608.4" stroke="#b5173c" stroke-width="0.9"/>
<line x1="433.5" y1="610.8" x2="433.5" y2="615.6" stroke="#b5173c" stroke-width="0.9"/>
<line x1="431.7" y1="610.8" x2="435.3" y2="610.8" stroke="#b5173c" stroke-width="0.9"/>
<line x1="431.7" y1="615.6" x2="435.3" y2="615.6" stroke="#b5173c" stroke-width="0.9"/>
<line x1="446.9" y1="617.2" x2="446.9" y2="625.3" stroke="#b5173c" stroke-width="0.9"/>
<line x1="445.1" y1="617.2" x2="448.7" y2="617.2" stroke="#b5173c" stroke-width="0.9"/>
<line x1="445.1" y1="625.3" x2="448.7" y2="625.3" stroke="#b5173c" stroke-width="0.9"/>
<line x1="462.8" y1="632.6" x2="462.8" y2="635.8" stroke="#b5173c" stroke-width="0.9"/>
<line x1="461.0" y1="632.6" x2="464.6" y2="632.6" stroke="#b5173c" stroke-width="0.9"/>
<line x1="461.0" y1="635.8" x2="464.6" y2="635.8" stroke="#b5173c" stroke-width="0.9"/>
<line x1="486.8" y1="635.8" x2="486.8" y2="640.6" stroke="#b5173c" stroke-width="0.9"/>
<line x1="485.0" y1="635.8" x2="488.6" y2="635.8" stroke="#b5173c" stroke-width="0.9"/>
<line x1="485.0" y1="640.6" x2="488.6" y2="640.6" stroke="#b5173c" stroke-width="0.9"/>
<polyline points="409.6,579.3 425.6,606.0 433.5,613.2 446.9,621.3 462.8,634.2 486.8,638.2" fill="none" stroke="#b5173c" stroke-width="1.6"/>
<polyline points="409.6,579.3 425.6,603.5 433.5,622.1 446.9,627.7 462.8,639.0 486.8,641.4" fill="none" stroke="#27468c" stroke-width="1.15"/>
<rect x="408.1" y="577.8" width="3.0" height="3.0" fill="#b5173c"/>
<rect x="424.1" y="604.5" width="3.0" height="3.0" fill="#b5173c"/>
<rect x="432.0" y="611.7" width="3.0" height="3.0" fill="#b5173c"/>
<rect x="445.4" y="619.8" width="3.0" height="3.0" fill="#b5173c"/>
<rect x="461.3" y="632.7" width="3.0" height="3.0" fill="#b5173c"/>
<rect x="485.3" y="636.7" width="3.0" height="3.0" fill="#b5173c"/>
<path d="M409.6,577.4 l1.6,1.9 l-1.6,1.9 l-1.6,-1.9 z" fill="#27468c"/>
<path d="M425.6,601.6 l1.6,1.9 l-1.6,1.9 l-1.6,-1.9 z" fill="#27468c"/>
<path d="M433.5,620.2 l1.6,1.9 l-1.6,1.9 l-1.6,-1.9 z" fill="#27468c"/>
<path d="M446.9,625.8 l1.6,1.9 l-1.6,1.9 l-1.6,-1.9 z" fill="#27468c"/>
<path d="M462.8,637.1 l1.6,1.9 l-1.6,1.9 l-1.6,-1.9 z" fill="#27468c"/>
<path d="M486.8,639.5 l1.6,1.9 l-1.6,1.9 l-1.6,-1.9 z" fill="#27468c"/>
<line x1="409.6" y1="577.1" x2="409.6" y2="660.6" stroke="#000" stroke-width="1.2"/>
<line x1="409.0" y1="660.0" x2="493.3" y2="660.0" stroke="#000" stroke-width="1.2"/>
<line x1="409.6" y1="660.0" x2="409.6" y2="663.0" stroke="#000" stroke-width="0.8"/>
<line x1="412.3" y1="660.0" x2="412.3" y2="661.6" stroke="#000" stroke-width="0.8"/>
<line x1="414.9" y1="660.0" x2="414.9" y2="661.6" stroke="#000" stroke-width="0.8"/>
<line x1="417.6" y1="660.0" x2="417.6" y2="661.6" stroke="#000" stroke-width="0.8"/>
<line x1="420.2" y1="660.0" x2="420.2" y2="661.6" stroke="#000" stroke-width="0.8"/>
<line x1="422.9" y1="660.0" x2="422.9" y2="661.6" stroke="#000" stroke-width="0.8"/>
<line x1="425.6" y1="660.0" x2="425.6" y2="661.6" stroke="#000" stroke-width="0.8"/>
<line x1="428.2" y1="660.0" x2="428.2" y2="661.6" stroke="#000" stroke-width="0.8"/>
<line x1="430.9" y1="660.0" x2="430.9" y2="661.6" stroke="#000" stroke-width="0.8"/>
<line x1="433.5" y1="660.0" x2="433.5" y2="661.6" stroke="#000" stroke-width="0.8"/>
<line x1="436.2" y1="660.0" x2="436.2" y2="663.0" stroke="#000" stroke-width="0.8"/>
<line x1="438.9" y1="660.0" x2="438.9" y2="661.6" stroke="#000" stroke-width="0.8"/>
<line x1="441.5" y1="660.0" x2="441.5" y2="661.6" stroke="#000" stroke-width="0.8"/>
<line x1="444.2" y1="660.0" x2="444.2" y2="661.6" stroke="#000" stroke-width="0.8"/>
<line x1="446.9" y1="660.0" x2="446.9" y2="661.6" stroke="#000" stroke-width="0.8"/>
<line x1="449.5" y1="660.0" x2="449.5" y2="661.6" stroke="#000" stroke-width="0.8"/>
<line x1="452.2" y1="660.0" x2="452.2" y2="661.6" stroke="#000" stroke-width="0.8"/>
<line x1="454.8" y1="660.0" x2="454.8" y2="661.6" stroke="#000" stroke-width="0.8"/>
<line x1="457.5" y1="660.0" x2="457.5" y2="661.6" stroke="#000" stroke-width="0.8"/>
<line x1="460.2" y1="660.0" x2="460.2" y2="661.6" stroke="#000" stroke-width="0.8"/>
<line x1="462.8" y1="660.0" x2="462.8" y2="663.0" stroke="#000" stroke-width="0.8"/>
<line x1="465.5" y1="660.0" x2="465.5" y2="661.6" stroke="#000" stroke-width="0.8"/>
<line x1="468.1" y1="660.0" x2="468.1" y2="661.6" stroke="#000" stroke-width="0.8"/>
<line x1="470.8" y1="660.0" x2="470.8" y2="661.6" stroke="#000" stroke-width="0.8"/>
<line x1="473.5" y1="660.0" x2="473.5" y2="661.6" stroke="#000" stroke-width="0.8"/>
<line x1="476.1" y1="660.0" x2="476.1" y2="661.6" stroke="#000" stroke-width="0.8"/>
<line x1="478.8" y1="660.0" x2="478.8" y2="661.6" stroke="#000" stroke-width="0.8"/>
<line x1="481.4" y1="660.0" x2="481.4" y2="661.6" stroke="#000" stroke-width="0.8"/>
<line x1="484.1" y1="660.0" x2="484.1" y2="661.6" stroke="#000" stroke-width="0.8"/>
<line x1="486.8" y1="660.0" x2="486.8" y2="661.6" stroke="#000" stroke-width="0.8"/>
<line x1="489.4" y1="660.0" x2="489.4" y2="663.0" stroke="#000" stroke-width="0.8"/>
<line x1="406.5" y1="660.0" x2="409.6" y2="660.0" stroke="#000" stroke-width="1.1"/>
<text x="403.3" y="662.5" font-size="7.8" fill="#1a1a1a" color="#1a1a1a" text-anchor="end" textLength="4.3" lengthAdjust="spacingAndGlyphs">0</text>
<line x1="406.5" y1="643.9" x2="409.6" y2="643.9" stroke="#000" stroke-width="1.1"/>
<text x="403.3" y="646.4" font-size="7.8" fill="#1a1a1a" color="#1a1a1a" text-anchor="end" textLength="8.6" lengthAdjust="spacingAndGlyphs">20</text>
<line x1="406.5" y1="627.7" x2="409.6" y2="627.7" stroke="#000" stroke-width="1.1"/>
<text x="403.3" y="630.2" font-size="7.8" fill="#1a1a1a" color="#1a1a1a" text-anchor="end" textLength="8.6" lengthAdjust="spacingAndGlyphs">40</text>
<line x1="406.5" y1="611.6" x2="409.6" y2="611.6" stroke="#000" stroke-width="1.1"/>
<text x="403.3" y="614.1" font-size="7.8" fill="#1a1a1a" color="#1a1a1a" text-anchor="end" textLength="8.6" lengthAdjust="spacingAndGlyphs">60</text>
<line x1="406.5" y1="595.5" x2="409.6" y2="595.5" stroke="#000" stroke-width="1.1"/>
<text x="403.3" y="598.0" font-size="7.8" fill="#1a1a1a" color="#1a1a1a" text-anchor="end" textLength="8.6" lengthAdjust="spacingAndGlyphs">80</text>
<line x1="406.5" y1="579.3" x2="409.6" y2="579.3" stroke="#000" stroke-width="1.1"/>
<text x="403.3" y="581.8" font-size="7.8" fill="#1a1a1a" color="#1a1a1a" text-anchor="end" textLength="12.9" lengthAdjust="spacingAndGlyphs">100</text>
<text x="409.6" y="671.5" font-size="7.8" fill="#1a1a1a" color="#1a1a1a" text-anchor="middle" textLength="4.3" lengthAdjust="spacingAndGlyphs">0</text>
<text x="436.2" y="671.5" font-size="7.8" fill="#1a1a1a" color="#1a1a1a" text-anchor="middle" textLength="8.6" lengthAdjust="spacingAndGlyphs">10</text>
<text x="462.8" y="671.5" font-size="7.8" fill="#1a1a1a" color="#1a1a1a" text-anchor="middle" textLength="8.6" lengthAdjust="spacingAndGlyphs">20</text>
<text x="489.4" y="671.5" font-size="7.8" fill="#1a1a1a" color="#1a1a1a" text-anchor="middle" textLength="8.6" lengthAdjust="spacingAndGlyphs">30</text>
<text x="451.9" y="685.0" font-size="9.2" fill="#1a1a1a" color="#1a1a1a" text-anchor="middle" textLength="20.7" lengthAdjust="spacingAndGlyphs">(Days)</text>
<text x="386.1" y="617.9" font-size="9.4" fill="#1a1a1a" color="#1a1a1a" text-anchor="middle" textLength="68.8" lengthAdjust="spacingAndGlyphs" transform="rotate(-90 386.1 617.9)">Biotinylated RBCs (%)</text>
<line x1="454.2" y1="579.2" x2="461.2" y2="579.2" stroke="#27468c" stroke-width="1.3"/>
<path d="M457.7,577.3 l1.6,1.9 l-1.6,1.9 l-1.6,-1.9 z" fill="#27468c"/>
<line x1="454.2" y1="585.4" x2="461.2" y2="585.4" stroke="#b5173c" stroke-width="1.3"/>
<rect x="456.2" y="583.9" width="3.0" height="3.0" fill="#b5173c"/>
<text x="463.5" y="581.6" font-size="6.6" fill="#1a1a1a" color="#1a1a1a" textLength="8.0" lengthAdjust="spacingAndGlyphs">WT</text>
<text x="463.5" y="587.8" font-size="6.6" fill="#1a1a1a" color="#1a1a1a" font-style="italic" textLength="13.4" lengthAdjust="spacingAndGlyphs">Ent1<tspan dy="-2.4" font-size="4">-/-</tspan></text>
<text x="90.5" y="147.6" font-size="8.8" fill="#2a2a2a" color="#2a2a2a" text-anchor="middle" textLength="13.5" lengthAdjust="spacingAndGlyphs">BM</text>
<line x1="38.4" y1="151.0" x2="142.6" y2="151.0" stroke="#444" stroke-width="1.2"/>
<rect x="47.0" y="154.6" width="19.6" height="10.0" fill="#2b4a8b"/>
<text x="56.8" y="161.9" font-size="6.6" fill="#fff" color="#fff" style="stroke-width:0" text-anchor="middle">WT</text>
<rect x="114.6" y="154.7" width="19.9" height="9.9" fill="#b3173c"/>
<text x="123.3" y="161.9" font-size="6.6" fill="#fff" color="#fff" style="stroke-width:0" text-anchor="middle" font-style="italic">Ent1<tspan dy="-2.4" font-size="3.8">-/-</tspan></text>
<rect x="24.7" y="167.1" width="64.0" height="64.0" fill="none" stroke="#8a8a8a" stroke-width="0.9"/>
<rect x="91.9" y="167.1" width="63.7" height="64.0" fill="none" stroke="#8a8a8a" stroke-width="0.9"/>
<ellipse cx="67.5" cy="190" rx="12" ry="4.5" fill="#6a6ac0" fill-opacity="0.35" filter="url(#bl15)" transform="rotate(4 67.5 190)"/>
<ellipse cx="54.5" cy="203" rx="5.5" ry="3.5" fill="#6a6ac0" fill-opacity="0.35" filter="url(#bl15)" transform="rotate(-50 54.5 203)"/>
<path transform="scale(.1)" d="M745 1773h8m7 1h8m-242 1h8m27 7h8m29 1h8m-3 4h8m-37 6h8m50 5h8m-27 2h8m54 15h8m0 0h8m78 0h8m-136 2h8m-118 4h8m24 0h8m27 7h8m-21 1h8m-16 3h8m97 1h8m-39 1h8m-89 1h8m23 0h8m73 1h8m-129 1h8m94 1h8m81 0h8m-200 3h8m136 0h8m-145 1h8m100 0h8m16 2h8m-15 2h8m-42 3h8m-55 2h8m61 3h8m82 0h8m-229 3h8m128 1h8m52 1h8m-38 1h8m-5 1h8m89 1h8m-230 1h8m-5 0h8m10 0h8m57 1h8m-81 1h8m52 0h8m44 0h8m-4 1h8m-159 1h8m-90 1h8m130 0h8m6 0h8m87 0h8m-201 2h8m183 0h8m-271 1h8m257 0h8m-119 1h8m95 1h8m-132 1h8m60 0h8m59 0h8m-150 2h8m13 0h8m100 0h8m35 0h8m-78 2h8m39 0h8m-139 1h8m51 0h8m-24 1h8m145 3h8m-167 2h8m126 1h8m-54 1h8m-59 1h8m30 0h8m70 0h8m1 0h8m-156 1h8m-71 2h8m44 0h8m57 1h8m1 0h8m-44 2h8m5 0h8m-77 1h8m47 0h8m22 0h8m-3 1h8m40 0h8m33 0h8m-250 1h8m122 1h8m-76 1h8m165 0h8m-290 3h8m257 0h8m-178 2h8m91 0h8m0 0h8m-100 1h8m-1 0h8m30 0h8m74 0h8m5 0h8m-95 1h8m80 0h8m-2 1h8m-65 1h8m16 0h8m13 0h8m0 0h8m-187 1h8m28 0h8m-133 2h8m101 2h8m23 0h8m64 0h8m-198 1h8m229 0h8m-91 1h8m25 1h8m-34 2h8m0 0h8m93 1h8m-243 1h8m5 0h8m3 1h8m78 0h8m-204 2h8m245 1h8m-29 1h8m8 0h8m-74 2h8m157 1h8m-161 1h8m94 0h8m-220 1h8m87 0h8m-4 0h8m62 0h8m43 2h8m-200 1h8m66 0h8m-231 1h8m262 0h8m-52 1h8m-54 1h8m135 2h8m-84 1h8m61 0h8m-100 1h8m75 0h8m-168 1h8m25 0h8m89 0h8m-80 1h8m72 0h8m47 0h8m23 0h8m-238 1h8m83 0h8m-56 1h8m100 0h8m47 0h8m-122 1h8m38 0h8m-182 1h8m197 0h8m-277 1h8m66 2h8m121 1h8m-138 1h8m49 1h8m165 1h8m-167 1h8m-65 2h8m32 1h8m152 0h8m-150 2h8m29 1h8m-51 1h8m86 0h8m-223 2h8m119 0h8m23 1h8m-246 1h8m91 0h8m180 3h8m-164 1h8m-2 0h8m130 1h8m38 0h8m19 1h8m-59 1h8m1 0h8m-21 1h8m-3 0h8m58 0h8m-276 1h8m29 0h8m98 1h8m3 0h8m34 1h8m45 0h8m9 0h8m-141 1h8m-89 1h8m102 0h8m62 1h8m-211 1h8m225 0h8m-322 2h8m102 0h8m4 1h8m116 1h8m48 1h8m-270 1h8m225 0h8m17 0h8m-271 1h8m152 1h8m19 0h8m117 1h8m-256 1h8m52 0h8m-41 1h8m209 2h8m-281 2h8m206 1h8m40 0h8m-110 1h8m36 0h8m-51 2h8m-171 1h8m173 1h8m-248 1h8m252 0h8m2 0h8m42 0h8m-57 2h8m-89 2h8m154 2h8m-323 1h8m141 0h8m27 3h8m28 0h8m-215 1h8m45 1h8m-104 1h8m225 2h8m-7 0h8m-178 1h8m8 2h8m13 1h8m157 0h8m-312 1h8m50 1h8m-48 1h8m72 0h8m21 0h8m-31 4h8m9 0h8m-29 1h8m-2 2h8m-52 3h8m13 1h8m11 0h8m254 0h8m-323 1h8m231 1h8m-241 1h8m125 0h8m-52 2h8m13 0h8m-84 5h8m11 3h8m184 0h8m-178 1h8m-105 1h8m46 0h8m-6 3h8m-1 0h8m-59 1h8m58 2h8m-37 3h8m-71 1h8m46 0h8m-5 0h8m11 2h8m-92 1h8m83 0h8m-67 6h8m30 0h8m-76 1h8m49 2h8m56 0h8m-73 1h8m46 0h8m194 0h8m-320 2h8m16 0h8m-71 1h8m26 1h8m172 1h8m-66 1h8m-87 4h8m3 3h8m101 1h8m-160 2h8m288 0h8m-217 1h8m29 2h8m-175 6h8m130 2h8m-64 4h8m1 0h8m-21 1h8m-5 0h8m42 4h8m1 0h8" stroke="#4a4ab4" stroke-width="8" stroke-opacity="0.35"/>
<path transform="scale(.1)" d="M701 1796h8m-112 6h8m-112 5h8m150 7h8m-19 2h8m77 5h8m14 1h8m-177 2h8m38 2h8m-28 10h8m-1 3h8m110 0h8m71 0h8m-1 1h8m-210 1h8m75 0h8m-37 4h8m-89 2h8m21 0h8m-145 3h8m188 1h8m95 0h8m-53 3h8m-101 1h8m34 0h8m-7 2h8m-85 1h8m66 0h8m131 0h8m-149 2h8m-151 1h8m5 0h8m144 0h8m-45 1h8m20 1h8m62 0h8m-179 2h8m-138 3h8m87 0h8m-5 0h8m83 0h8m42 3h8m-50 1h8m49 0h8m-222 1h8m159 0h8m-4 1h8m70 0h8m-70 2h8m142 0h8m-161 1h8m29 0h8m17 0h8m-54 2h8m-172 1h8m208 0h8m-86 2h8m49 0h8m-23 1h8m47 0h8m-222 1h8m161 0h8m-241 1h8m81 0h8m-2 0h8m87 0h8m-112 1h8m-74 1h8m92 3h8m173 0h8m-86 1h8m-95 1h8m78 0h8m79 0h8m-317 3h8m75 0h8m107 0h8m-98 1h8m9 0h8m84 0h8m-73 1h8m100 1h8m-168 1h8m54 1h8m83 0h8m11 0h8m-225 2h8m115 1h8m25 0h8m15 0h8m-84 2h8m-27 1h8m69 0h8m26 0h8m8 0h8m-135 2h8m-174 3h8m85 0h8m38 0h8m6 0h8m8 0h8m10 0h8m33 1h8m-2 0h8m44 0h8m-142 1h8m72 0h8m35 0h8m21 0h8m60 1h8m-238 1h8m88 0h8m-111 2h8m21 0h8m102 1h8m-89 1h8m-127 1h8m148 0h8m-7 0h8m9 0h8m45 0h8m-229 1h8m91 1h8m60 1h8m-62 1h8m104 0h8m-232 1h8m19 0h8m-27 1h8m164 0h8m-171 1h8m151 0h8m13 0h8m-206 3h8m48 1h8m41 0h8m2 2h8m2 0h8m125 0h8m-59 1h8m-239 1h8m16 0h8m223 0h8m-133 1h8m65 0h8m3 0h8m25 1h8m28 0h8m-52 1h8m-129 1h8m33 0h8m3 0h8m-50 1h8m9 0h8m-56 1h8m199 0h8m-46 2h8m-134 2h8m18 0h8m16 0h8m-120 1h8m52 0h8m18 1h8m58 0h8m-1 0h8m-177 1h8m198 0h8m-136 1h8m18 0h8m55 0h8m-46 1h8m56 0h8m-123 2h8m19 0h8m3 0h8m28 1h8m-31 2h8m6 0h8m-1 0h8m58 0h8m-252 1h8m201 1h8m-250 1h8m94 0h8m92 1h8m-41 1h8m-198 7h8m168 0h8m71 0h8m22 0h8m-92 1h8m-149 2h8m43 1h8m147 0h8m-142 1h8m122 0h8m-52 1h8m-172 3h8m178 0h8m-253 1h8m180 0h8m-58 1h8m-130 1h8m7 0h8m47 0h8m-53 1h8m50 0h8m125 0h8m55 1h8m-5 0h8m-247 1h8m55 0h8m95 1h8m39 1h8m-12 1h8m35 0h8m-308 1h8m56 2h8m73 0h8m13 1h8m44 0h8m-26 1h8m12 0h8m-141 1h8m68 0h8m4 0h8m112 1h8m-47 1h8m26 0h8m10 1h8m-184 1h8m105 1h8m-236 1h8m0 0h8m-11 1h8m22 1h8m179 0h8m-13 1h8m-203 1h8m-28 1h8m83 4h8m134 0h8m-257 3h8m8 2h8m-8 1h8m14 0h8m1 0h8m-33 1h8m20 2h8m214 0h8m-245 1h8m-82 2h8m247 0h8m-162 1h8m-88 2h8m35 1h8m78 0h8m10 0h8m-184 2h8m111 0h8m-109 2h8m76 0h8m58 0h8m72 1h8m15 0h8m15 1h8m-220 3h8m-24 2h8m-52 1h8m25 1h8m267 0h8m-251 2h8m45 0h8m117 0h8m-214 1h8m-32 1h8m5 0h8m-65 1h8m54 0h8m103 0h8m-34 1h8m-70 1h8m153 0h8m-24 1h8m-166 1h8m30 0h8m29 0h8m-103 1h8m63 0h8m-110 2h8m114 1h8m-18 2h8m-88 1h8m4 1h8m-2 3h8m17 0h8m-74 2h8m225 1h8m-234 2h8m66 2h8m246 2h8m-222 1h8m-83 2h8m-40 2h8m-19 1h8m20 1h8m90 1h8m-176 2h8m-6 1h8m124 1h8m-87 3h8m-58 3h8m2 3h8m66 1h8m-84 1h8m73 2h8m-5 0h8m-38 2h8m-24 1h8m-14 2h8m89 0h8m-98 10h8m47 5h8" stroke="#4a4ab4" stroke-width="8" stroke-opacity="0.35"/>
<path transform="scale(.1)" d="M475 1779h8m127 4h8m52 9h8m8 1h8m-168 5h8m72 1h8m-136 2h8m62 17h8m47 0h8m-14 3h8m-19 1h8m48 15h8m71 1h8m10 1h8m-28 3h8m-20 1h8m5 1h8m-40 3h8m56 0h8m-22 1h8m-118 1h8m58 1h8m-165 3h8m45 0h8m-44 2h8m-18 1h8m206 2h8m-129 1h8m23 1h8m-118 1h8m148 1h8m83 0h8m-32 2h8m-131 1h8m5 1h8m-5 1h8m26 0h8m30 0h8m-99 1h8m-108 1h8m123 2h8m-86 3h8m-5 3h8m107 0h8m-127 2h8m87 0h8m46 0h8m-101 1h8m-4 0h8m20 1h8m26 0h8m-141 1h8m70 0h8m0 0h8m88 0h8m-61 1h8m90 0h8m-169 1h8m-77 1h8m174 0h8m0 1h8m-35 1h8m-138 4h8m1 0h8m30 0h8m3 0h8m9 0h8m-6 0h8m49 0h8m-148 2h8m78 0h8m65 0h8m-121 1h8m55 0h8m-2 0h8m-137 3h8m108 0h8m-60 1h8m-35 2h8m0 0h8m93 0h8m61 0h8m3 0h8m-218 1h8m-3 0h8m167 0h8m-220 1h8m76 0h8m-69 1h8m83 0h8m8 1h8m-4 0h8m41 0h8m-204 1h8m90 0h8m2 0h8m43 1h8m-147 2h8m157 0h8m-131 1h8m103 0h8m-141 1h8m37 0h8m37 0h8m-209 1h8m141 0h8m9 0h8m51 0h8m81 1h8m-342 2h8m198 0h8m-224 1h8m137 0h8m-137 1h8m49 0h8m65 0h8m145 0h8m4 0h8m33 0h8m-244 2h8m127 1h8m-40 1h8m49 1h8m-189 1h8m54 0h8m-102 1h8m120 0h8m23 0h8m46 0h8m-178 1h8m214 0h8m-249 1h8m83 1h8m152 0h8m-176 1h8m76 0h8m13 0h8m-1 0h8m-149 1h8m68 0h8m-211 1h8m169 1h8m-95 4h8m91 1h8m-151 1h8m118 1h8m-113 4h8m97 1h8m100 0h8m-106 1h8m-78 1h8m96 1h8m9 0h8m-93 1h8m-117 1h8m102 0h8m-151 1h8m122 0h8m166 0h8m-99 1h8m-92 2h8m-8 0h8m19 0h8m97 0h8m-262 1h8m124 2h8m94 0h8m-208 1h8m181 0h8m-31 2h8m-178 1h8m36 0h8m-3 0h8m107 0h8m75 0h8m14 0h8m-46 1h8m-195 1h8m14 0h8m112 0h8m-179 1h8m153 0h8m-34 4h8m59 0h8m-286 1h8m247 0h8m19 0h8m-172 1h8m152 0h8m-37 1h8m-23 1h8m-24 1h8m-163 5h8m272 1h8m-97 1h8m3 0h8m-160 1h8m230 2h8m-51 1h8m0 0h8m-23 1h8m-52 1h8m-1 0h8m-16 2h8m11 0h8m-223 1h8m-1 2h8m82 0h8m110 0h8m11 3h8m-34 2h8m-175 3h8m9 0h8m163 1h8m-143 1h8m97 0h8m-185 1h8m17 0h8m30 0h8m164 1h8m-223 1h8m12 0h8m192 0h8m-224 1h8m8 0h8m128 0h8m40 0h8m20 0h8m-129 2h8m-5 0h8m-201 2h8m47 1h8m-127 1h8m68 0h8m191 0h8m-43 2h8m63 0h8m20 0h8m-17 1h8m-263 1h8m2 0h8m259 0h8m-227 1h8m163 0h8m-39 1h8m73 1h8m-251 1h8m16 0h8m11 1h8m-40 1h8m11 0h8m187 0h8m-214 1h8m21 1h8m-71 3h8m47 0h8m59 0h8m111 1h8m-267 1h8m49 0h8m-14 2h8m-39 1h8m2 0h8m4 0h8m22 1h8m104 1h8m69 0h8m-300 3h8m-50 1h8m90 0h8m29 1h8m-90 1h8m13 0h8m237 0h8m-33 1h8m-147 5h8m-38 1h8m7 1h8m-111 1h8m118 0h8m100 0h8m-253 2h8m14 3h8m-25 1h8m37 1h8m51 0h8m0 0h8m-21 1h8m-98 1h8m-2 0h8m23 0h8m167 0h8m-75 1h8m-91 3h8m24 1h8m-104 1h8m113 1h8m-12 1h8m-122 2h8m14 1h8m9 4h8m27 0h8m-62 1h8m38 0h8m55 4h8m-96 2h8m-106 1h8m139 0h8m-29 2h8m42 4h8m-134 2h8m33 2h8m8 0h8m25 0h8m-81 3h8m32 2h8m-4 0h8m-46 2h8m-51 3h8m116 0h8m-51 2h8m-40 8h8m65 1h8" stroke="#4a4ab4" stroke-width="8" stroke-opacity="0.35"/>
<path transform="scale(.1)" d="M724 1852h8m-148 1h8m168 0h8m-88 6h8m54 5h8m-169 1h8m162 0h8m-18 2h8m-177 1h8m6 0h8m11 0h8m104 0h8m-166 3h8m-7 0h8m77 1h8m21 0h8m-83 1h8m64 0h8m-73 1h8m-46 1h8m157 1h8m35 0h8m-72 1h8m-124 1h8m169 0h8m-101 1h8m-5 0h8m51 0h8m-113 1h8m98 1h8m3 0h8m-246 4h8m26 0h8m210 0h8m-190 1h8m14 1h8m-6 0h8m55 0h8m15 0h8m13 0h8m45 0h8m-121 1h8m11 0h8m26 0h8m23 0h8m70 0h8m-216 1h8m-24 2h8m-8 1h8m-3 0h8m-11 1h8m8 0h8m-36 1h8m48 0h8m-5 0h8m120 0h8m-202 1h8m6 0h8m14 0h8m7 0h8m87 0h8m-113 1h8m-71 1h8m19 0h8m167 0h8m-156 1h8m12 0h8m195 0h8m-202 1h8m17 0h8m7 0h8m-7 0h8m12 0h8m4 0h8m-115 1h8m26 0h8m2 0h8m36 0h8m69 0h8m-225 1h8m72 0h8m-1 0h8m6 0h8m59 0h8m-147 1h8m14 0h8m171 0h8m-77 1h8m-169 1h8m19 0h8m-71 1h8m104 0h8m57 0h8m16 0h8m-88 1h8m-4 2h8m114 0h8m20 0h8m-261 1h8m95 0h8m107 0h8m22 0h8m13 0h8m-74 1h8m39 0h8m-178 1h8m75 0h8m12 0h8m15 0h8m-159 2h8m180 0h8m-202 1h8m6 0h8m19 0h8m40 0h8m68 0h8m-153 1h8m165 0h8m-65 2h8m20 0h8m23 0h8m13 0h8m-203 1h8m94 0h8m-6 0h8m-5 0h8m57 1h8m-162 1h8m91 0h8m-211 1h8m111 0h8m80 0h8m-9 1h8m30 0h8m-24 2h8m-153 1h8m12 0h8m42 0h8m-23 1h8m7 0h8m10 0h8m7 0h8m7 1h8m25 0h8m-159 2h8m109 1h8m29 0h8m-46 3h8m-116 1h8m94 1h8m22 1h8m31 0h8m-80 1h8m-24 3h8m-114 2h8m117 2h8m14 3h8m-133 1h8m72 2h8m31 1h8m66 0h8m-116 2h8m71 0h8m-41 10h8m32 0h8m43 5h8m-284 5h8m-42 4h8m18 1h8m239 0h8m-254 1h8m145 0h8m-182 6h8m-14 1h8m41 3h8m2 7h8m-48 2h8m14 3h8m-15 1h8m21 0h8m-80 1h8m73 3h8m-86 2h8m60 1h8m-48 2h8m33 5h8m-34 1h8m-5 0h8m35 2h8m-76 3h8m78 4h8m-109 2h8m-28 1h8m2 0h8m37 0h8m17 0h8m-60 2h8m14 1h8m4 1h8m-59 1h8m11 0h8m65 0h8m-95 1h8m8 0h8m-25 1h8m2 0h8m45 2h8m-65 2h8m-7 0h8m11 0h8m6 2h8m20 0h8m-66 1h8m30 1h8m-40 2h8m3 0h8m-34 1h8m35 1h8m-32 2h8m-8 0h8m28 0h8m-13 1h8m-77 1h8m21 3h8m-20 1h8m42 0h8m-87 2h8m1 2h8m-4 3h8m81 1h8m-76 1h8m26 0h8m-40 4h8m-28 1h8m-34 4h8m58 3h8m-50 1h8m12 0h8m-28 6h8m-60 1h8m41 0h8m-8 12h8m29 2h8" stroke="#23237f" stroke-width="8" stroke-opacity="0.5"/>
<path transform="scale(.1)" d="M752 1846h8m-48 5h8m-62 5h8m-115 1h8m58 4h8m-9 3h8m143 0h8m-165 2h8m-4 0h8m11 1h8m123 0h8m-161 1h8m112 0h8m19 0h8m-193 6h8m26 0h8m25 1h8m-15 1h8m73 0h8m8 1h8m30 0h8m-48 3h8m15 0h8m-143 4h8m10 0h8m34 0h8m-60 1h8m78 1h8m84 0h8m-233 1h8m46 0h8m14 0h8m126 1h8m-122 1h8m82 3h8m-206 1h8m56 0h8m50 0h8m-3 0h8m-6 0h8m59 1h8m11 0h8m-190 1h8m-4 0h8m51 0h8m-39 1h8m67 0h8m49 0h8m4 0h8m-103 1h8m78 0h8m-195 1h8m56 0h8m97 0h8m-101 1h8m-45 1h8m132 0h8m-214 1h8m23 0h8m7 0h8m126 0h8m29 0h8m-147 1h8m114 0h8m19 0h8m-32 2h8m46 0h8m-183 1h8m-77 1h8m73 0h8m124 0h8m-155 1h8m-7 2h8m2 0h8m-32 1h8m-29 1h8m79 0h8m81 0h8m1 0h8m-7 2h8m-158 1h8m123 1h8m-40 1h8m34 0h8m17 0h8m-251 1h8m-1 0h8m23 0h8m122 0h8m-109 1h8m26 0h8m-98 1h8m173 0h8m53 0h8m-200 1h8m25 0h8m118 0h8m-164 1h8m119 0h8m-209 1h8m41 0h8m33 0h8m88 0h8m-7 0h8m-134 1h8m47 0h8m44 0h8m10 0h8m-176 1h8m46 0h8m62 0h8m62 0h8m20 0h8m-87 1h8m34 0h8m-119 1h8m21 0h8m55 2h8m-5 0h8m-173 1h8m35 0h8m-29 1h8m176 0h8m-210 1h8m55 0h8m83 0h8m-18 1h8m40 0h8m2 1h8m-27 1h8m-149 1h8m6 0h8m76 0h8m5 0h8m32 1h8m-22 1h8m0 0h8m70 1h8m-244 1h8m101 0h8m46 0h8m-119 1h8m27 0h8m24 0h8m38 0h8m11 1h8m-174 1h8m135 0h8m-153 2h8m65 2h8m-137 1h8m-31 1h8m138 1h8m-128 1h8m24 0h8m159 0h8m-194 2h8m171 0h8m-27 4h8m11 0h8m-191 3h8m225 2h8m-17 1h8m-61 5h8m-65 3h8m-167 1h8m54 3h8m-35 2h8m-7 1h8m14 1h8m-43 1h8m54 0h8m-100 2h8m61 1h8m-51 1h8m242 0h8m-249 1h8m-8 0h8m-34 3h8m50 1h8m-36 3h8m11 0h8m-9 1h8m-64 1h8m73 0h8m-22 1h8m-2 5h8m-54 4h8m-8 0h8m44 0h8m-33 1h8m-20 1h8m-4 0h8m0 1h8m-8 2h8m-23 5h8m-11 6h8m12 1h8m-76 2h8m33 3h8m6 4h8m-16 2h8m-3 5h8m-28 1h8m-47 1h8m34 1h8m17 0h8m2 0h8m-22 1h8m-22 1h8m-43 1h8m-7 0h8m44 1h8m-89 1h8m23 0h8m22 0h8m3 3h8m-42 1h8m11 1h8m23 0h8m-32 1h8m15 0h8m-70 1h8m-4 1h8m21 2h8m-67 4h8m35 0h8m-5 0h8m-6 0h8m18 2h8m-34 2h8m-32 1h8m31 0h8m-26 1h8m-3 0h8m52 2h8m-99 2h8m-21 5h8m-16 1h8m31 0h8m-17 7h8m8 0h8m-23 2h8" stroke="#23237f" stroke-width="8" stroke-opacity="0.5"/>
<path transform="scale(.1)" d="M623 1836h8m-2 18h8m5 0h8m-63 2h8m7 0h8m69 3h8m48 6h8m-124 7h8m118 0h8m-135 1h8m133 1h8m-183 2h8m65 0h8m5 0h8m118 0h8m-159 1h8m34 0h8m87 0h8m-160 1h8m35 0h8m44 0h8m64 0h8m-94 1h8m-162 1h8m249 0h8m-172 1h8m-15 1h8m-30 2h8m-28 1h8m120 0h8m-110 1h8m87 0h8m-138 1h8m110 0h8m-154 1h8m63 2h8m68 0h8m19 0h8m-3 0h8m-127 1h8m-1 0h8m-7 0h8m-60 3h8m24 0h8m118 0h8m36 0h8m-125 1h8m18 0h8m17 0h8m19 0h8m10 0h8m-215 1h8m108 0h8m-10 1h8m75 0h8m14 0h8m-98 1h8m-2 0h8m46 0h8m-142 1h8m27 0h8m148 0h8m-171 1h8m147 0h8m-221 1h8m139 0h8m81 0h8m-249 1h8m12 0h8m27 0h8m117 0h8m-2 1h8m-157 1h8m90 0h8m-121 1h8m162 0h8m25 0h8m-201 1h8m164 0h8m-124 1h8m28 0h8m-180 1h8m58 0h8m-6 0h8m159 0h8m7 0h8m-153 1h8m98 0h8m27 0h8m-196 1h8m15 0h8m20 0h8m93 0h8m-174 1h8m254 0h8m-36 1h8m-242 1h8m15 0h8m24 0h8m-21 2h8m94 0h8m-117 1h8m163 0h8m-159 1h8m120 0h8m11 0h8m-71 1h8m-141 1h8m27 0h8m36 0h8m-39 2h8m158 0h8m-70 1h8m-14 2h8m15 0h8m-70 2h8m94 0h8m-136 1h8m-74 1h8m21 0h8m116 0h8m-115 1h8m68 0h8m44 0h8m-143 1h8m168 0h8m-193 1h8m132 0h8m-63 1h8m29 1h8m45 0h8m-134 1h8m13 0h8m11 0h8m38 0h8m-172 2h8m22 0h8m154 0h8m3 0h8m-86 1h8m-102 1h8m108 0h8m-181 2h8m149 0h8m20 0h8m-3 1h8m-11 1h8m29 0h8m-111 1h8m8 0h8m72 0h8m12 2h8m-59 2h8m-187 2h8m-1 0h8m52 5h8m71 1h8m-195 4h8m76 0h8m180 0h8m-243 2h8m-44 1h8m72 4h8m-18 1h8m-34 3h8m-8 1h8m-34 3h8m22 6h8m-39 1h8m13 1h8m148 1h8m-171 1h8m-3 1h8m-44 1h8m199 0h8m-123 3h8m-87 1h8m12 5h8m6 0h8m-92 1h8m70 0h8m-28 3h8m37 0h8m-44 4h8m-34 2h8m23 0h8m-10 1h8m-60 2h8m58 0h8m-76 1h8m62 2h8m-60 1h8m40 1h8m-30 5h8m-3 1h8m13 0h8m-68 1h8m-31 1h8m3 0h8m18 2h8m33 0h8m5 3h8m-102 1h8m33 0h8m-9 1h8m56 1h8m-101 2h8m6 6h8m6 5h8m-25 1h8m3 0h8m-83 1h8m116 3h8m-75 1h8m40 0h8m-55 4h8m17 0h8m-6 0h8m12 1h8m-34 1h8m-27 1h8m6 0h8m-35 3h8m11 0h8m1 2h8m0 1h8m14 0h8m-54 3h8m-4 0h8m38 0h8m-7 0h8m-67 1h8m-10 5h8m4 1h8m15 1h8m15 2h8m-77 2h8m83 11h8m-6 2h8m-119 5h8m31 2h8m-17 6h8m5 4h8" stroke="#23237f" stroke-width="8" stroke-opacity="0.5"/>
<path transform="scale(.1)" d="M686 1846h8m-124 6h8m154 2h8m25 0h8m-16 14h8m-169 2h8m164 0h8m-6 0h8m-143 3h8m-65 1h8m19 0h8m-45 1h8m41 1h8m19 2h8m72 0h8m-101 2h8m43 0h8m23 0h8m12 0h8m-40 1h8m-2 0h8m-93 1h8m17 0h8m99 0h8m-140 1h8m-5 0h8m-25 1h8m8 1h8m4 1h8m32 0h8m-104 1h8m4 1h8m38 0h8m-110 1h8m61 0h8m122 0h8m-52 2h8m58 0h8m-142 1h8m165 0h8m-199 1h8m-5 0h8m105 1h8m-5 1h8m40 0h8m-175 1h8m129 0h8m-5 0h8m-78 1h8m37 0h8m-165 1h8m174 0h8m-119 1h8m94 0h8m2 0h8m-1 0h8m-4 0h8m44 0h8m-194 1h8m42 0h8m0 0h8m45 0h8m7 0h8m-9 2h8m8 0h8m-60 1h8m-3 0h8m8 0h8m37 0h8m-203 2h8m43 0h8m-7 0h8m100 0h8m-162 1h8m4 0h8m12 1h8m-3 0h8m-1 0h8m-3 0h8m63 0h8m32 0h8m20 0h8m-173 1h8m-62 1h8m219 0h8m-6 0h8m-2 0h8m-188 1h8m-5 0h8m58 0h8m53 0h8m17 0h8m-182 1h8m30 0h8m12 0h8m103 0h8m-178 1h8m150 0h8m-106 1h8m23 0h8m-82 1h8m176 0h8m-209 1h8m-5 0h8m189 0h8m-183 1h8m-7 0h8m109 0h8m45 0h8m-176 2h8m160 0h8m-188 1h8m143 1h8m-213 2h8m2 0h8m20 0h8m27 0h8m26 0h8m-116 2h8m136 0h8m23 0h8m-147 1h8m160 0h8m4 0h8m-23 2h8m-158 1h8m7 0h8m95 0h8m16 0h8m12 0h8m-49 1h8m-78 1h8m48 1h8m21 0h8m-2 0h8m-2 0h8m-122 1h8m7 3h8m-38 1h8m66 0h8m22 0h8m-138 2h8m116 0h8m35 0h8m-75 2h8m36 2h8m65 0h8m-187 3h8m-58 1h8m163 0h8m44 1h8m-249 1h8m96 0h8m-96 1h8m111 0h8m49 0h8m59 0h8m-87 1h8m-84 1h8m3 0h8m74 0h8m15 0h8m-128 1h8m61 7h8m39 0h8m-11 7h8m2 0h8m-242 1h8m30 2h8m-8 2h8m17 2h8m12 2h8m-53 2h8m-38 1h8m25 2h8m-33 2h8m-30 1h8m5 0h8m7 0h8m5 0h8m-46 1h8m-2 1h8m27 1h8m-23 6h8m-24 1h8m-34 2h8m36 0h8m-40 3h8m-1 1h8m-23 2h8m-3 1h8m20 3h8m-82 1h8m83 0h8m-78 1h8m-7 1h8m10 1h8m0 0h8m-1 3h8m17 0h8m-84 2h8m74 0h8m-73 5h8m47 1h8m-6 0h8m19 1h8m-73 1h8m8 2h8m-2 1h8m24 2h8m-3 0h8m-80 1h8m45 1h8m-92 1h8m22 3h8m0 0h8m46 1h8m-75 1h8m19 1h8m-19 1h8m16 0h8m10 1h8m-24 1h8m-36 5h8m-5 4h8m34 3h8m-71 3h8m-15 1h8m-36 2h8m82 0h8m-62 4h8m-47 3h8m122 2h8m-67 2h8m-83 2h8m29 2h8m12 0h8m6 0h8m-48 2h8m79 2h8m-95 3h8m31 1h8m30 4h8" stroke="#23237f" stroke-width="8" stroke-opacity="0.5"/>
<rect x="41.6" y="176.7" width="43.0" height="35.6" fill="none" stroke="#6a6a6a" stroke-width="0.65"/>
<line x1="41.6" y1="194.4" x2="84.6" y2="194.4" stroke="#6a6a6a" stroke-width="0.65"/>
<line x1="63.5" y1="194.4" x2="63.5" y2="212.3" stroke="#6a6a6a" stroke-width="0.65"/>
<ellipse cx="131" cy="189.5" rx="13" ry="4.5" fill="#6a6ac0" fill-opacity="0.35" filter="url(#bl15)" transform="rotate(2 131 189.5)"/>
<ellipse cx="122.5" cy="203" rx="5.5" ry="3.6" fill="#6a6ac0" fill-opacity="0.35" filter="url(#bl15)" transform="rotate(-50 122.5 203)"/>
<path transform="scale(.1)" d="M1291 1788h8m202 4h8m-301 3h8m28 7h8m136 15h8m-89 11h8m-13 3h8m-198 5h8m147 2h8m12 3h8m121 1h8m-290 1h8m23 0h8m295 0h8m-287 2h8m204 2h8m-26 2h8m-191 3h8m187 2h8m-174 2h8m84 0h8m9 1h8m-41 1h8m-114 1h8m273 0h8m-223 1h8m117 1h8m-74 4h8m-208 1h8m21 0h8m269 0h8m-110 1h8m-55 1h8m-31 1h8m143 0h8m-163 1h8m37 0h8m7 0h8m78 0h8m38 0h8m-192 1h8m48 0h8m41 1h8m-128 1h8m193 0h8m-366 1h8m101 0h8m67 1h8m7 0h8m161 2h8m-217 1h8m44 0h8m36 2h8m75 1h8m21 0h8m1 2h8m-255 1h8m10 0h8m57 1h8m112 1h8m-137 4h8m64 0h8m13 0h8m-234 2h8m124 0h8m23 0h8m-183 1h8m131 0h8m35 0h8m-214 2h8m344 0h8m-220 1h8m73 0h8m-58 3h8m56 0h8m-162 1h8m67 0h8m55 2h8m16 2h8m-131 1h8m211 0h8m-221 1h8m38 0h8m16 1h8m-42 2h8m38 0h8m3 0h8m23 1h8m-43 1h8m35 0h8m-96 1h8m68 0h8m-215 1h8m40 0h8m77 0h8m23 0h8m98 0h8m-110 1h8m-1 1h8m-107 3h8m41 0h8m142 0h8m49 0h8m-294 1h8m111 0h8m-106 2h8m-1 1h8m8 0h8m83 0h8m13 0h8m-19 1h8m-4 0h8m16 0h8m18 0h8m-6 0h8m5 0h8m-12 1h8m-275 1h8m271 0h8m-169 1h8m-4 1h8m-158 1h8m0 0h8m228 0h8m16 0h8m-35 1h8m-19 1h8m-28 1h8m-57 1h8m-71 1h8m-66 1h8m21 0h8m218 0h8m-168 1h8m52 0h8m0 0h8m101 0h8m-288 1h8m62 0h8m128 0h8m74 0h8m-97 1h8m36 2h8m-56 1h8m73 1h8m-103 1h8m33 0h8m-22 1h8m82 1h8m-179 2h8m13 0h8m111 0h8m15 0h8m-141 2h8m-90 1h8m132 0h8m4 0h8m-86 1h8m-6 1h8m85 0h8m-185 1h8m100 2h8m36 0h8m39 0h8m-3 0h8m-182 3h8m174 0h8m-119 1h8m85 0h8m26 0h8m-78 1h8m-63 1h8m-56 1h8m103 0h8m-175 2h8m170 0h8m12 4h8m-220 2h8m-16 1h8m143 0h8m-185 1h8m126 0h8m29 0h8m23 0h8m-113 2h8m-73 1h8m89 0h8m9 0h8m75 0h8m15 0h8m-57 1h8m-15 1h8m10 0h8m-147 2h8m134 1h8m29 0h8m-98 1h8m-70 1h8m-54 1h8m107 0h8m11 0h8m34 0h8m55 1h8m-220 1h8m154 0h8m-227 1h8m202 0h8m-245 1h8m4 0h8m215 2h8m7 0h8m-184 1h8m72 0h8m-136 1h8m198 0h8m-136 1h8m53 0h8m-65 1h8m14 0h8m-6 0h8m161 0h8m-248 1h8m89 0h8m149 0h8m-86 1h8m-148 1h8m-126 1h8m84 0h8m-41 1h8m212 0h8m-215 3h8m-51 1h8m218 2h8m-149 2h8m42 0h8m93 0h8m23 0h8m-107 1h8m-2 1h8m41 0h8m-251 2h8m274 0h8m-263 1h8m33 0h8m134 0h8m11 1h8m-216 1h8m193 0h8m-59 1h8m-117 1h8m50 0h8m129 1h8m-278 3h8m321 0h8m-58 1h8m-336 1h8m124 1h8m127 2h8m-117 1h8m144 0h8m-184 1h8m-84 1h8m181 0h8m-153 1h8m-21 2h8m13 0h8m166 0h8m-134 1h8m-116 1h8m-4 1h8m278 2h8m-239 1h8m-20 2h8m35 1h8m-13 1h8m-49 3h8m19 0h8m76 0h8m-53 1h8m129 2h8m-39 2h8m-151 3h8m55 0h8m-169 3h8m209 1h8m-151 1h8m-47 1h8m67 1h8m-90 1h8m66 1h8m32 1h8m6 0h8m-60 2h8m75 0h8m-101 1h8m26 0h8m87 0h8m-57 1h8m-95 2h8m-60 1h8m38 1h8m4 0h8m27 0h8m129 1h8m-212 1h8m28 0h8m-68 2h8m39 1h8m12 1h8m-3 5h8m-22 3h8m-97 1h8m-39 3h8m139 1h8m-62 2h8m179 10h8m-270 5h8m97 0h8m-90 5h8m50 0h8m-20 1h8m144 0h8m-205 1h8m12 0h8m82 0h8m-92 1h8m51 3h8" stroke="#4a4ab4" stroke-width="8" stroke-opacity="0.35"/>
<path transform="scale(.1)" d="M1290 1786h8m-149 6h8m189 3h8m-31 5h8m9 6h8m-169 2h8m66 11h8m244 1h8m-74 2h8m-317 3h8m-6 0h8m-11 5h8m-2 2h8m323 1h8m-222 5h8m15 0h8m45 2h8m-232 1h8m59 0h8m110 3h8m35 1h8m-106 1h8m66 0h8m-23 1h8m89 0h8m-149 2h8m85 0h8m4 2h8m-203 2h8m61 0h8m186 0h8m-280 1h8m62 1h8m107 0h8m-50 1h8m-45 3h8m116 0h8m-38 1h8m-232 1h8m2 0h8m185 0h8m-108 1h8m-5 0h8m122 0h8m-233 1h8m118 0h8m2 0h8m-77 1h8m266 0h8m-209 1h8m109 0h8m52 1h8m-139 1h8m82 0h8m-4 0h8m-154 2h8m47 0h8m-130 2h8m83 0h8m140 0h8m-191 1h8m15 0h8m56 0h8m-177 1h8m41 0h8m30 0h8m86 0h8m7 0h8m-145 2h8m3 0h8m122 0h8m2 4h8m73 0h8m15 0h8m-343 1h8m146 0h8m63 0h8m-106 1h8m-1 0h8m-206 2h8m315 0h8m-158 1h8m233 0h8m-304 1h8m38 1h8m149 0h8m-55 1h8m-202 2h8m136 0h8m35 0h8m29 0h8m-109 2h8m30 0h8m46 0h8m-57 1h8m-5 0h8m-87 2h8m60 1h8m47 0h8m-45 2h8m73 0h8m-292 2h8m158 0h8m-3 0h8m-17 1h8m39 0h8m-19 1h8m-209 1h8m206 0h8m5 0h8m-225 1h8m39 1h8m32 0h8m94 0h8m58 0h8m-59 2h8m30 0h8m-201 1h8m185 0h8m0 0h8m-167 1h8m9 0h8m80 0h8m-1 0h8m-120 1h8m62 0h8m-32 1h8m50 1h8m-129 1h8m28 0h8m-130 1h8m175 0h8m41 1h8m-119 1h8m-100 2h8m93 0h8m1 0h8m2 3h8m-27 1h8m16 0h8m163 0h8m-224 2h8m27 0h8m45 0h8m-147 1h8m-46 1h8m67 0h8m170 0h8m-112 2h8m-16 2h8m23 2h8m-122 5h8m35 0h8m8 0h8m77 0h8m41 0h8m-192 1h8m85 0h8m74 0h8m-4 0h8m77 1h8m-144 2h8m-94 2h8m95 1h8m65 0h8m-116 2h8m-153 1h8m80 0h8m7 1h8m82 2h8m28 0h8m-260 3h8m40 1h8m32 0h8m147 0h8m-92 1h8m85 0h8m-147 2h8m43 0h8m-196 1h8m68 0h8m87 1h8m-121 1h8m243 0h8m-195 1h8m-12 1h8m76 0h8m-79 1h8m103 0h8m-9 2h8m8 0h8m-1 1h8m-58 1h8m-1 1h8m65 0h8m-131 1h8m145 0h8m-83 2h8m-123 1h8m-91 2h8m143 1h8m-96 1h8m152 0h8m-299 1h8m128 0h8m-8 1h8m-46 1h8m110 1h8m105 0h8m-116 1h8m41 0h8m-50 1h8m6 1h8m-161 1h8m-2 1h8m12 1h8m-131 2h8m156 1h8m21 1h8m148 0h8m-80 1h8m-209 1h8m216 0h8m-212 1h8m46 0h8m-14 1h8m-24 1h8m24 0h8m198 0h8m-205 2h8m85 0h8m24 2h8m-16 1h8m-114 1h8m106 3h8m7 0h8m-210 1h8m64 0h8m30 0h8m-113 1h8m68 0h8m-85 1h8m10 0h8m141 2h8m-228 1h8m62 0h8m163 0h8m-258 1h8m54 0h8m114 0h8m-173 1h8m1 2h8m7 1h8m-71 1h8m93 0h8m-21 1h8m-17 1h8m209 0h8m-257 2h8m-5 0h8m85 1h8m155 0h8m-365 1h8m144 0h8m62 0h8m-75 1h8m-96 1h8m-4 0h8m75 0h8m-3 0h8m-87 1h8m73 2h8m84 2h8m72 0h8m-229 3h8m153 0h8m-139 1h8m250 0h8m-250 2h8m187 0h8m2 1h8m-331 2h8m23 1h8m-7 0h8m101 0h8m56 0h8m-151 2h8m-16 1h8m30 3h8m-67 1h8m95 0h8m51 0h8m123 0h8m-235 1h8m-96 1h8m8 2h8m9 2h8m33 0h8m160 0h8m-147 1h8m17 0h8m-193 1h8m164 0h8m46 0h8m-4 0h8m0 2h8m-122 1h8m-88 5h8m7 2h8m36 1h8m-10 3h8m40 2h8m-55 7h8m-14 2h8m-85 3h8m97 8h8m72 0h8m-108 9h8m-47 2h8m-29 2h8m66 0h8m-6 1h8m14 0h8m145 3h8m-238 5h8m-33 3h8" stroke="#4a4ab4" stroke-width="8" stroke-opacity="0.35"/>
<path transform="scale(.1)" d="M1359 1786h8m-80 7h8m-46 7h8m-145 5h8m86 1h8m54 1h8m217 4h8m-155 2h8m50 0h8m-298 7h8m239 1h8m-108 2h8m8 0h8m-88 2h8m10 8h8m5 0h8m110 0h8m-64 1h8m-142 3h8m229 1h8m-247 7h8m273 0h8m-110 3h8m99 1h8m-192 2h8m65 1h8m-76 1h8m38 0h8m68 1h8m-36 1h8m111 0h8m-236 1h8m-66 2h8m134 2h8m26 1h8m-205 1h8m57 0h8m101 2h8m51 0h8m-128 1h8m44 0h8m-198 1h8m187 0h8m5 0h8m-180 1h8m163 0h8m-96 1h8m133 1h8m9 0h8m-88 1h8m-72 1h8m26 0h8m-109 1h8m17 0h8m35 0h8m25 0h8m116 0h8m-293 3h8m165 0h8m178 0h8m-332 1h8m32 0h8m-7 0h8m235 0h8m-227 1h8m40 0h8m64 0h8m25 0h8m-317 1h8m-1 0h8m58 0h8m333 0h8m-246 1h8m138 0h8m62 0h8m-295 2h8m229 2h8m-224 1h8m124 0h8m-1 2h8m24 0h8m-103 2h8m-64 1h8m71 0h8m64 1h8m-213 1h8m-16 4h8m219 0h8m-153 2h8m150 1h8m-86 1h8m79 2h8m-157 1h8m-182 1h8m32 0h8m213 0h8m60 0h8m-214 1h8m35 0h8m67 1h8m150 0h8m-257 1h8m11 0h8m10 0h8m32 0h8m-47 2h8m78 0h8m18 1h8m11 0h8m-93 1h8m-99 2h8m34 0h8m72 0h8m48 3h8m-56 1h8m-135 1h8m121 0h8m-69 1h8m105 0h8m-108 1h8m-45 1h8m35 1h8m90 1h8m-40 1h8m-7 2h8m-42 1h8m-5 1h8m-152 2h8m34 0h8m92 0h8m-222 1h8m293 1h8m7 0h8m-295 1h8m129 0h8m35 1h8m14 0h8m-60 1h8m26 0h8m-185 1h8m197 2h8m-165 1h8m207 1h8m-110 1h8m66 0h8m-83 1h8m31 0h8m-141 1h8m28 0h8m-5 1h8m39 0h8m-77 1h8m104 0h8m51 0h8m22 0h8m-150 2h8m47 0h8m-77 2h8m79 1h8m-189 1h8m3 0h8m133 0h8m-5 0h8m-4 0h8m78 0h8m-278 3h8m73 0h8m49 0h8m-208 2h8m70 2h8m-39 1h8m82 0h8m49 0h8m-33 2h8m53 0h8m-155 3h8m175 1h8m30 0h8m-142 1h8m70 0h8m-165 1h8m-7 0h8m44 0h8m65 0h8m92 0h8m-92 1h8m-58 3h8m59 0h8m12 0h8m-183 1h8m68 0h8m74 4h8m74 0h8m-337 1h8m218 0h8m15 0h8m-3 0h8m-194 3h8m185 0h8m-247 1h8m19 1h8m207 0h8m66 0h8m-315 2h8m56 2h8m221 0h8m-228 2h8m173 0h8m-180 1h8m49 1h8m9 0h8m-16 2h8m42 0h8m39 0h8m-277 1h8m146 1h8m62 0h8m-150 2h8m17 0h8m46 0h8m58 0h8m-168 2h8m68 0h8m99 0h8m-118 1h8m188 0h8m-257 1h8m149 0h8m-1 0h8m5 4h8m-207 2h8m-53 1h8m113 0h8m-182 3h8m273 0h8m64 1h8m-341 1h8m29 1h8m168 1h8m-151 1h8m6 0h8m9 0h8m191 0h8m7 0h8m34 0h8m-397 1h8m52 0h8m116 0h8m115 0h8m-222 1h8m180 0h8m1 0h8m-216 1h8m29 0h8m38 1h8m163 0h8m-261 1h8m21 1h8m-58 1h8m-2 0h8m51 0h8m-7 1h8m96 1h8m-125 1h8m-30 2h8m3 0h8m-4 0h8m24 1h8m-70 1h8m0 0h8m9 0h8m213 1h8m-203 2h8m29 1h8m-15 1h8m-71 2h8m81 0h8m-130 2h8m93 0h8m138 0h8m-229 1h8m40 1h8m-30 1h8m197 2h8m-213 2h8m191 0h8m18 4h8m-323 1h8m285 0h8m-236 5h8m-68 2h8m93 3h8m-39 3h8m-1 0h8m-6 1h8m-112 1h8m4 1h8m61 1h8m41 0h8m33 3h8m-191 2h8m142 2h8m-73 1h8m67 0h8m80 0h8m42 0h8m-194 1h8m41 3h8m-51 2h8m-4 4h8m-3 1h8m42 0h8m-71 1h8m175 0h8m-139 3h8m-10 3h8m-135 2h8m-26 3h8m42 0h8m-44 1h8m-20 9h8m-18 1h8m35 0h8m26 1h8m-27 1h8m12 1h8" stroke="#4a4ab4" stroke-width="8" stroke-opacity="0.35"/>
<path transform="scale(.1)" d="M1275 1830h8m96 9h8m-42 3h8m-174 5h8m109 0h8m-86 5h8m221 1h8m-153 1h8m-24 2h8m80 1h8m-95 2h8m-60 2h8m161 1h8m-188 2h8m129 4h8m-157 2h8m62 0h8m33 0h8m29 1h8m-81 1h8m174 0h8m-167 1h8m-15 1h8m27 0h8m-110 1h8m63 0h8m-78 1h8m51 0h8m12 0h8m5 1h8m-120 1h8m-1 0h8m-8 0h8m102 0h8m14 0h8m-63 1h8m85 0h8m-223 1h8m45 0h8m-2 0h8m28 0h8m42 0h8m-48 1h8m-95 1h8m27 0h8m132 0h8m9 0h8m-160 1h8m42 0h8m-66 1h8m109 0h8m33 0h8m-123 1h8m173 0h8m-284 1h8m10 1h8m113 0h8m66 0h8m-218 1h8m26 0h8m38 0h8m79 0h8m38 0h8m-5 0h8m7 0h8m-194 1h8m139 1h8m5 0h8m6 0h8m-171 1h8m99 0h8m13 0h8m-128 1h8m123 0h8m-137 1h8m35 1h8m30 0h8m-7 0h8m-155 1h8m41 0h8m-6 1h8m137 0h8m-182 1h8m6 0h8m26 0h8m127 0h8m-170 1h8m153 0h8m-97 2h8m-12 1h8m56 0h8m15 0h8m15 0h8m-182 1h8m75 2h8m-91 1h8m121 0h8m-135 1h8m93 0h8m7 0h8m-168 1h8m49 0h8m112 0h8m51 0h8m-58 1h8m2 0h8m-151 1h8m142 0h8m-8 0h8m-4 0h8m21 0h8m-187 1h8m1 1h8m90 0h8m-6 0h8m17 0h8m-17 1h8m20 0h8m-4 0h8m4 1h8m-219 1h8m27 0h8m27 0h8m21 0h8m-92 1h8m141 0h8m23 0h8m-176 2h8m29 0h8m43 0h8m37 0h8m41 1h8m-66 1h8m2 3h8m-199 1h8m63 0h8m24 0h8m59 0h8m-11 3h8m-1 0h8m-162 1h8m139 2h8m-198 1h8m-8 1h8m61 4h8m175 0h8m-4 0h8m2 0h8m-10 1h8m-64 2h8m29 1h8m34 0h8m-10 1h8m-78 1h8m39 0h8m-225 3h8m194 0h8m-127 5h8m146 1h8m5 0h8m-283 3h8m204 1h8m9 1h8m-226 1h8m241 7h8m-112 3h8m-159 2h8m129 0h8m-50 5h8m155 0h8m-223 8h8m35 3h8m-32 6h8m-55 1h8m42 1h8m9 0h8m-31 2h8m-10 1h8m-33 5h8m84 1h8m-55 5h8m12 0h8m-55 2h8m48 0h8m-57 1h8m-7 0h8m-6 0h8m-2 0h8m21 2h8m-40 1h8m23 1h8m22 0h8m-57 2h8m5 3h8m-14 1h8m-73 1h8m12 1h8m18 6h8m36 2h8m10 4h8m-28 2h8m-107 1h8m10 0h8m44 0h8m11 0h8m-80 1h8m44 0h8m-2 0h8m-119 1h8m72 3h8m-4 0h8m-75 1h8m17 3h8m22 1h8m24 0h8m-90 1h8m-7 0h8m46 0h8m-68 1h8m33 1h8m24 1h8m-39 1h8m20 0h8m-32 4h8m53 8h8m-63 1h8m-20 2h8m-7 1h8m-68 2h8m121 2h8m-54 2h8m21 1h8m-5 7h8m-59 3h8m-66 1h8m41 6h8m31 9h8m-44 1h8m-50 9h8" stroke="#23237f" stroke-width="8" stroke-opacity="0.5"/>
<path transform="scale(.1)" d="M1217 1817h8m-46 16h8m-1 1h8m86 7h8m111 6h8m-129 3h8m-54 5h8m11 1h8m126 0h8m-137 3h8m196 3h8m-36 1h8m-97 1h8m-67 3h8m-75 1h8m76 0h8m-7 0h8m108 0h8m-79 1h8m-125 1h8m129 0h8m19 0h8m-241 1h8m39 0h8m40 0h8m71 0h8m-104 1h8m11 0h8m-78 1h8m182 0h8m-207 2h8m20 0h8m30 0h8m9 0h8m68 0h8m-108 2h8m177 0h8m-1 0h8m-266 1h8m81 0h8m100 1h8m58 0h8m-125 1h8m48 0h8m-213 1h8m220 2h8m-228 1h8m27 0h8m10 0h8m122 1h8m-106 1h8m154 0h8m-123 1h8m-99 2h8m0 0h8m-17 1h8m-3 0h8m-6 0h8m-9 1h8m-1 0h8m53 0h8m59 0h8m-115 1h8m-82 1h8m81 0h8m-7 0h8m-79 1h8m158 0h8m7 0h8m-166 1h8m36 0h8m-70 1h8m3 0h8m159 0h8m-120 1h8m48 0h8m49 1h8m-127 2h8m91 0h8m24 0h8m-41 1h8m51 0h8m1 0h8m-254 1h8m-6 0h8m95 0h8m71 0h8m-162 1h8m7 0h8m0 0h8m125 0h8m-3 0h8m72 0h8m-221 1h8m57 0h8m15 0h8m-169 1h8m85 0h8m9 1h8m141 0h8m-173 1h8m170 0h8m-66 1h8m-68 1h8m59 0h8m-183 1h8m6 0h8m-6 1h8m111 0h8m12 0h8m-148 2h8m-5 0h8m-6 0h8m8 0h8m3 0h8m-9 1h8m-72 1h8m110 0h8m3 0h8m44 0h8m14 0h8m-149 1h8m221 0h8m-240 1h8m106 0h8m15 0h8m-38 1h8m-150 1h8m25 0h8m-69 2h8m158 0h8m40 0h8m-163 2h8m9 1h8m28 0h8m106 0h8m-167 1h8m146 1h8m-12 1h8m-185 1h8m130 0h8m3 0h8m-135 1h8m11 0h8m64 0h8m3 0h8m29 0h8m-156 1h8m90 0h8m-137 2h8m118 0h8m-31 1h8m1 3h8m40 0h8m57 0h8m-229 1h8m44 0h8m33 4h8m23 5h8m-117 1h8m22 1h8m3 0h8m157 0h8m-210 4h8m110 0h8m-132 3h8m28 1h8m25 1h8m57 0h8m-152 6h8m27 2h8m53 15h8m-104 4h8m59 1h8m-63 1h8m26 0h8m-14 2h8m-54 1h8m-37 1h8m77 0h8m-27 1h8m-39 4h8m5 4h8m-23 6h8m-2 1h8m13 0h8m49 3h8m-129 1h8m37 2h8m-8 1h8m74 0h8m-89 1h8m5 1h8m-56 2h8m21 1h8m11 1h8m7 1h8m-35 2h8m42 1h8m-59 2h8m-26 3h8m-22 1h8m13 0h8m5 0h8m-24 2h8m-8 0h8m4 0h8m-68 4h8m56 0h8m-25 2h8m39 4h8m-64 1h8m11 0h8m-19 1h8m-56 1h8m-23 1h8m103 0h8m36 1h8m-110 3h8m33 2h8m-79 1h8m62 1h8m-32 2h8m27 0h8m11 1h8m-103 2h8m21 3h8m14 1h8m-24 2h8m-40 3h8m-2 0h8m19 2h8m24 7h8m-40 6h8m-37 8h8m20 8h8m-94 2h8m26 5h8m33 2h8" stroke="#23237f" stroke-width="8" stroke-opacity="0.5"/>
<path transform="scale(.1)" d="M1403 1831h8m-160 16h8m63 0h8m-134 1h8m-12 2h8m165 1h8m-21 3h8m20 1h8m-156 3h8m56 0h8m67 0h8m-161 2h8m-10 2h8m43 1h8m3 0h8m150 0h8m-98 1h8m-90 2h8m-77 1h8m44 0h8m15 0h8m25 0h8m-76 1h8m1 0h8m-95 1h8m87 1h8m-109 1h8m199 0h8m-81 2h8m97 0h8m-212 2h8m47 0h8m113 0h8m-141 1h8m125 2h8m-181 1h8m82 0h8m28 0h8m38 1h8m14 0h8m-187 1h8m15 1h8m4 0h8m-1 0h8m141 0h8m-1 0h8m3 0h8m5 0h8m-43 1h8m-153 1h8m77 0h8m-1 1h8m-172 1h8m54 0h8m-2 0h8m12 0h8m144 0h8m-311 1h8m306 1h8m-188 1h8m-20 1h8m32 0h8m-88 1h8m32 0h8m100 0h8m-72 1h8m87 0h8m-170 1h8m156 0h8m20 0h8m33 0h8m-168 1h8m104 0h8m43 0h8m-46 1h8m-214 1h8m2 0h8m16 0h8m117 0h8m-154 1h8m9 0h8m-2 0h8m198 0h8m-83 1h8m23 0h8m11 0h8m-157 1h8m34 0h8m49 0h8m16 0h8m-159 1h8m43 0h8m-31 1h8m14 0h8m31 0h8m52 1h8m6 0h8m-139 1h8m109 0h8m-12 1h8m-1 1h8m90 0h8m-321 1h8m14 0h8m32 0h8m207 0h8m-41 1h8m-253 1h8m94 0h8m-49 1h8m5 0h8m-62 1h8m-48 1h8m235 0h8m2 1h8m7 0h8m-225 1h8m68 0h8m45 0h8m2 0h8m5 0h8m-117 1h8m179 0h8m-201 1h8m45 0h8m-81 2h8m48 0h8m48 1h8m33 0h8m2 0h8m-189 1h8m152 1h8m-64 1h8m50 0h8m-138 1h8m-10 1h8m203 0h8m-69 1h8m19 0h8m-130 1h8m44 0h8m69 0h8m-163 1h8m-44 1h8m153 0h8m-185 4h8m120 0h8m81 3h8m-69 1h8m56 0h8m-193 3h8m-89 2h8m219 1h8m-21 1h8m-136 4h8m-74 3h8m86 3h8m113 5h8m-146 1h8m11 0h8m-71 14h8m-2 1h8m13 2h8m-13 4h8m1 4h8m9 6h8m-57 2h8m-6 4h8m-7 1h8m-1 0h8m6 0h8m55 0h8m-93 1h8m28 1h8m-57 6h8m-37 1h8m56 1h8m-57 3h8m42 0h8m-57 1h8m22 1h8m33 1h8m-37 1h8m-19 3h8m-25 1h8m20 1h8m15 0h8m-12 1h8m-53 2h8m74 0h8m-36 1h8m-71 1h8m15 0h8m43 0h8m-67 1h8m-32 1h8m82 1h8m-88 1h8m4 2h8m-45 1h8m8 0h8m38 0h8m-77 6h8m62 0h8m-25 4h8m0 0h8m-84 2h8m35 0h8m19 0h8m31 0h8m-54 2h8m23 2h8m-65 1h8m22 0h8m-62 1h8m0 0h8m38 3h8m-46 2h8m36 1h8m-9 3h8m-7 0h8m-83 1h8m8 0h8m-4 0h8m55 0h8m-83 1h8m0 0h8m3 1h8m-3 4h8m37 1h8m-26 10h8m-39 8h8m10 2h8m-8 4h8m-19 3h8m-35 1h8m-6 12h8m3 8h8m-38 1h8" stroke="#23237f" stroke-width="8" stroke-opacity="0.5"/>
<path transform="scale(.1)" d="M1371 1835h8m-89 10h8m0 2h8m-75 1h8m185 2h8m-244 1h8m160 3h8m-1 3h8m46 0h8m-130 5h8m47 0h8m-125 2h8m-42 2h8m117 0h8m-63 1h8m80 0h8m-171 1h8m31 0h8m4 0h8m31 1h8m-1 0h8m-79 1h8m126 0h8m-22 1h8m-144 2h8m-28 1h8m33 0h8m148 0h8m-105 1h8m-67 1h8m258 0h8m-245 1h8m-46 1h8m59 0h8m5 0h8m8 0h8m-139 1h8m164 0h8m-61 1h8m53 0h8m-151 1h8m34 0h8m18 1h8m-91 2h8m25 0h8m26 0h8m-7 0h8m1 0h8m-73 1h8m27 0h8m-7 0h8m75 0h8m17 0h8m-3 0h8m12 0h8m-7 0h8m-159 1h8m116 0h8m-112 1h8m154 0h8m-185 1h8m18 0h8m164 0h8m-234 1h8m150 0h8m-2 0h8m34 0h8m-236 1h8m108 0h8m46 1h8m14 0h8m-39 1h8m8 0h8m-122 1h8m80 0h8m-95 1h8m44 0h8m-3 0h8m76 1h8m-13 1h8m-205 1h8m151 0h8m-141 1h8m21 0h8m34 0h8m-14 1h8m31 0h8m-2 0h8m15 0h8m-6 0h8m44 0h8m-200 1h8m14 0h8m-71 1h8m53 0h8m56 0h8m-63 1h8m-4 0h8m119 0h8m-7 0h8m6 1h8m6 0h8m55 0h8m-232 1h8m42 0h8m58 0h8m-150 1h8m96 0h8m125 0h8m-251 1h8m206 0h8m-225 1h8m-5 0h8m2 0h8m6 0h8m22 0h8m143 0h8m-61 1h8m-149 1h8m21 1h8m84 0h8m11 0h8m-148 1h8m169 0h8m-218 1h8m21 0h8m143 0h8m6 0h8m-185 2h8m0 1h8m128 0h8m38 1h8m-87 1h8m36 0h8m-185 1h8m70 0h8m147 0h8m-125 1h8m89 0h8m-135 1h8m84 0h8m27 0h8m46 0h8m-50 1h8m11 0h8m-34 1h8m-9 1h8m-5 1h8m21 0h8m-224 2h8m31 0h8m86 0h8m-101 1h8m107 0h8m-143 1h8m160 1h8m-193 3h8m57 0h8m-1 0h8m53 1h8m29 0h8m15 0h8m-19 1h8m17 0h8m-154 1h8m-11 4h8m-100 1h8m184 1h8m23 0h8m-2 0h8m-192 4h8m155 4h8m-134 1h8m-74 2h8m171 2h8m78 0h8m-185 2h8m59 1h8m-79 2h8m127 4h8m-138 2h8m42 4h8m-105 1h8m-53 2h8m50 0h8m-89 3h8m106 1h8m-46 6h8m1 0h8m27 1h8m-63 1h8m15 3h8m-32 3h8m-51 3h8m9 5h8m-2 1h8m-7 0h8m47 1h8m-36 4h8m-11 1h8m23 0h8m-41 1h8m-21 4h8m-14 1h8m-4 2h8m35 5h8m-21 1h8m-82 3h8m18 1h8m-31 4h8m18 1h8m-66 3h8m70 5h8m-36 1h8m-43 1h8m51 0h8m-14 6h8m-2 0h8m6 0h8m-18 2h8m-21 1h8m-12 8h8m14 2h8m3 0h8m-58 1h8m5 0h8m11 1h8m-59 7h8m69 0h8m-31 1h8m-22 6h8m-74 1h8m4 0h8m20 0h8m-33 7h8m2 14h8m39 3h8m-25 4h8m49 12h8" stroke="#23237f" stroke-width="8" stroke-opacity="0.5"/>
<rect x="108.4" y="177.2" width="43.5" height="35.7" fill="none" stroke="#6a6a6a" stroke-width="0.65"/>
<line x1="108.4" y1="195.1" x2="151.9" y2="195.1" stroke="#6a6a6a" stroke-width="0.65"/>
<line x1="130.5" y1="195.1" x2="130.5" y2="212.9" stroke="#6a6a6a" stroke-width="0.65"/>
<text x="45.5" y="174.5" font-size="6.4" fill="#2a2a2a" color="#2a2a2a" textLength="33.7" lengthAdjust="spacingAndGlyphs">GMP&#160;&#160;52.1%</text>
<text x="43.4" y="220.5" font-size="6.4" fill="#2a2a2a" color="#2a2a2a" textLength="16.8" lengthAdjust="spacingAndGlyphs">29.6%</text>
<text x="67.1" y="220.5" font-size="6.4" fill="#2a2a2a" color="#2a2a2a" textLength="15.6" lengthAdjust="spacingAndGlyphs">17.6%</text>
<text x="47.2" y="227.1" font-size="6.4" fill="#2a2a2a" color="#2a2a2a" textLength="11.6" lengthAdjust="spacingAndGlyphs">MEP</text>
<text x="68.0" y="227.1" font-size="6.4" fill="#2a2a2a" color="#2a2a2a" textLength="12.0" lengthAdjust="spacingAndGlyphs">CMP</text>
<text x="112.7" y="175.4" font-size="6.4" fill="#2a2a2a" color="#2a2a2a" textLength="33.7" lengthAdjust="spacingAndGlyphs">GMP&#160;&#160;55.6%</text>
<text x="108.9" y="220.5" font-size="6.4" fill="#2a2a2a" color="#2a2a2a" textLength="15.0" lengthAdjust="spacingAndGlyphs">22.8%</text>
<text x="133.1" y="220.5" font-size="6.4" fill="#2a2a2a" color="#2a2a2a" textLength="15.6" lengthAdjust="spacingAndGlyphs">20.7%</text>
<text x="116.1" y="227.1" font-size="6.4" fill="#2a2a2a" color="#2a2a2a" textLength="11.3" lengthAdjust="spacingAndGlyphs">MEP</text>
<text x="134.8" y="227.1" font-size="6.4" fill="#2a2a2a" color="#2a2a2a" textLength="11.6" lengthAdjust="spacingAndGlyphs">CMP</text>
<line x1="20.8" y1="236.8" x2="20.8" y2="214.2" stroke="#000" stroke-width="1.1"/>
<line x1="20.2" y1="236.2" x2="41.2" y2="236.2" stroke="#000" stroke-width="1.1"/>
<path d="M20.8,210.2 L23.1,215.2 L20.8,213.7 L18.5,215.2 z" fill="#000"/>
<path d="M45.2,236.2 L40.2,238.5 L41.7,236.2 L40.2,233.9 z" fill="#000"/>
<text x="15.1" y="222.8" font-size="9.4" fill="#2a2a2a" color="#2a2a2a" text-anchor="middle" textLength="28.2" lengthAdjust="spacingAndGlyphs" transform="rotate(-90 15.1 222.8)">CD16/32</text>
<text x="24.5" y="247.3" font-size="8.8" fill="#2a2a2a" color="#2a2a2a" textLength="17.6" lengthAdjust="spacingAndGlyphs">CD34</text>
<text x="253.5" y="286.9" font-size="8.8" fill="#2a2a2a" color="#2a2a2a" text-anchor="middle" textLength="13.5" lengthAdjust="spacingAndGlyphs">BM</text>
<line x1="201.2" y1="292.4" x2="306.1" y2="292.4" stroke="#444" stroke-width="1.2"/>
<rect x="206.9" y="296.2" width="20.0" height="10.1" fill="#2b4a8b"/>
<text x="216.9" y="303.6" font-size="6.6" fill="#fff" color="#fff" style="stroke-width:0" text-anchor="middle">WT</text>
<rect x="271.0" y="296.3" width="19.9" height="10.3" fill="#b3173c"/>
<text x="279.8" y="303.8" font-size="6.6" fill="#fff" color="#fff" style="stroke-width:0" text-anchor="middle" font-style="italic">Ent1<tspan dy="-2.4" font-size="3.8">-/-</tspan></text>
<rect x="181.0" y="310.6" width="62.8" height="62.5" fill="none" stroke="#8a8a8a" stroke-width="0.9"/>
<rect x="246.8" y="310.4" width="63.5" height="63.1" fill="none" stroke="#8a8a8a" stroke-width="0.9"/>
<path transform="scale(.1)" d="M2038 3126h8m-62 14h8m42 13h8m-18 7h8m-61 3h8m40 2h8m-43 7h8m3 1h8m-22 2h8m257 1h8m-322 3h8m61 2h8m17 0h8m84 0h8m-133 3h8m189 0h8m-136 6h8m-58 2h8m29 1h8m-34 6h8m152 0h8m-152 3h8m-125 1h8m72 1h8m240 7h8m-212 3h8m128 2h8m13 1h8m-272 1h8m120 3h8m-74 4h8m-3 0h8m194 1h8m-60 1h8m-197 1h8m-49 4h8m17 1h8m261 0h8m-327 3h8m105 0h8m-35 5h8m12 0h8m30 0h8m-84 1h8m-3 0h8m21 2h8m168 1h8m-229 1h8m209 4h8m-218 3h8m261 2h8m4 0h8m-320 1h8m99 0h8m-22 2h8m-75 3h8m38 2h8m9 0h8m-66 3h8m50 0h8m-76 2h8m392 1h8m-320 2h8m-72 5h8m-37 4h8m264 1h8m-282 3h8m37 0h8m-17 6h8m55 0h8m-74 1h8m-22 1h8m43 2h8m-84 3h8m200 1h8m-157 1h8m0 0h8m-25 1h8m-4 0h8m6 5h8m-18 1h8m-2 5h8m-2 0h8m-8 0h8m-8 1h8m-23 3h8m245 1h8m-249 1h8m201 2h8m-242 3h8m68 4h8m-71 5h8m-62 2h8m336 3h8m-283 1h8m-6 0h8m222 11h8m-229 4h8m30 2h8m169 2h8m-397 1h8m65 2h8m193 0h8m-183 1h8m50 7h8m270 0h8m-284 7h8m-94 2h8m3 2h8m119 4h8m-55 4h8m-132 2h8m4 1h8m19 2h8m-39 5h8m29 3h8m-8 0h8m299 0h8m-322 10h8m-1 0h8m29 1h8m-25 2h8m-9 3h8m-23 3h8m29 0h8m210 0h8m-206 3h8m-85 2h8m24 1h8m-44 1h8m-11 3h8m14 1h8m-6 3h8m-27 3h8m3 0h8m278 1h8m-313 3h8m76 1h8m172 3h8m-225 2h8m125 1h8m-136 1h8m78 1h8m-135 3h8m35 0h8m4 1h8m-43 1h8m-3 1h8m-57 3h8m49 1h8m-60 5h8m-6 0h8m-4 0h8m104 2h8m170 2h8m-284 1h8m215 1h8m88 3h8m-125 2h8m-189 2h8m199 0h8m-208 2h8m212 0h8m-229 1h8m-44 1h8m7 1h8m6 0h8m-48 3h8m299 0h8m-332 2h8m17 1h8m450 0h8m-474 1h8m7 1h8m255 1h8m-258 1h8m232 1h8m-235 2h8m-24 1h8m146 0h8m82 0h8m-6 1h8m-217 2h8m44 2h8m129 0h8m-237 2h8m221 0h8m27 2h8m-256 1h8m56 1h8m-76 1h8m22 3h8m-13 1h8m184 1h8m-263 1h8m44 0h8m-44 2h8m16 1h8m-13 1h8m158 0h8m-47 1h8m107 5h8m87 0h8m-337 1h8m3 0h8m-59 2h8m19 2h8m267 1h8m-67 2h8m-56 1h8m121 0h8m-312 4h8m282 0h8m-13 1h8m-70 2h8m117 7h8m-322 1h8m-13 8h8m251 0h8m-71 7h8m190 0h8m-93 7h8m-62 1h8m-33 6h8m4 1h8m-14 3h8m-266 1h8m371 2h8m-377 4h8m-20 8h8m-20 6h8m316 12h8" stroke="#4a4ab4" stroke-width="8" stroke-opacity="0.35"/>
<path transform="scale(.1)" d="M2187 3148h8m-178 18h8m-76 10h8m-21 8h8m66 0h8m-25 2h8m222 1h8m-14 9h8m-224 3h8m24 2h8m-39 7h8m46 1h8m-111 3h8m28 0h8m47 0h8m22 2h8m-79 1h8m-9 3h8m198 0h8m-213 3h8m237 0h8m-214 1h8m-71 3h8m68 1h8m-134 2h8m63 2h8m28 0h8m-8 1h8m-64 2h8m73 3h8m85 5h8m-142 3h8m-88 1h8m78 2h8m217 0h8m-248 3h8m148 0h8m78 2h8m-106 1h8m-166 3h8m-4 0h8m21 0h8m-81 1h8m62 0h8m-15 1h8m226 0h8m-260 3h8m-107 1h8m184 0h8m-52 2h8m-74 1h8m203 7h8m-240 3h8m280 0h8m-254 2h8m11 3h8m-69 1h8m216 0h8m-246 2h8m33 2h8m1 0h8m-37 3h8m5 0h8m15 3h8m244 0h8m-334 2h8m18 0h8m-83 1h8m343 3h8m-251 4h8m20 2h8m0 1h8m180 0h8m-196 2h8m-41 5h8m3 0h8m-14 1h8m30 4h8m-81 6h8m63 0h8m-5 5h8m-6 2h8m-41 1h8m-48 2h8m7 0h8m18 4h8m-36 3h8m-55 4h8m-32 2h8m72 2h8m297 0h8m-397 7h8m237 5h8m-164 1h8m50 10h8m195 0h8m-325 5h8m-46 3h8m4 1h8m-3 3h8m22 1h8m82 0h8m-23 2h8m-94 2h8m-10 6h8m-12 1h8m-6 4h8m0 0h8m69 0h8m202 2h8m-301 2h8m-10 2h8m10 1h8m139 0h8m126 1h8m-225 2h8m-93 2h8m-18 7h8m-6 0h8m-2 1h8m39 0h8m-56 1h8m-34 1h8m22 3h8m100 0h8m-4 0h8m226 0h8m-299 1h8m-24 1h8m-25 1h8m-22 1h8m-26 1h8m-5 0h8m35 0h8m-34 5h8m-69 4h8m58 0h8m-40 1h8m38 0h8m-107 2h8m67 2h8m-4 0h8m236 0h8m-274 2h8m-2 0h8m0 1h8m-19 3h8m175 2h8m-207 1h8m-1 0h8m29 0h8m-40 3h8m9 4h8m227 0h8m-44 9h8m-205 4h8m26 3h8m175 1h8m-207 2h8m-69 2h8m318 1h8m-324 4h8m48 0h8m68 0h8m118 1h8m-253 2h8m40 0h8m369 2h8m-399 1h8m-25 1h8m92 3h8m105 0h8m-232 2h8m3 2h8m204 0h8m26 1h8m-232 1h8m-70 1h8m347 0h8m-368 1h8m379 1h8m-44 6h8m-242 1h8m150 0h8m-148 3h8m-143 3h8m66 0h8m198 2h8m-122 2h8m146 0h8m-36 1h8m-107 1h8m48 0h8m-229 1h8m342 1h8m-136 1h8m-186 1h8m55 0h8m-89 1h8m75 2h8m-100 1h8m-22 2h8m34 0h8m204 0h8m38 0h8m-299 3h8m9 0h8m123 0h8m130 3h8m-262 4h8m170 2h8m-210 1h8m-50 3h8m-14 2h8m277 5h8m-252 2h8m184 0h8m28 3h8m-252 7h8m21 0h8m106 3h8m67 5h8m-27 1h8m-7 6h8m102 0h8m8 2h8m-119 7h8m41 4h8m1 1h8m0 0h8m146 1h8m-300 3h8" stroke="#4a4ab4" stroke-width="8" stroke-opacity="0.35"/>
<path transform="scale(.1)" d="M2278 3120h8m-68 8h8m-97 9h8m-137 8h8m247 3h8m-301 11h8m-17 4h8m80 2h8m-42 1h8m-81 1h8m21 0h8m24 1h8m22 1h8m-3 2h8m-66 3h8m-22 14h8m211 5h8m-181 11h8m10 1h8m-47 8h8m-34 1h8m95 0h8m-80 1h8m-3 2h8m22 0h8m112 0h8m62 1h8m-254 2h8m-2 1h8m8 0h8m49 0h8m-112 1h8m24 0h8m8 1h8m59 0h8m10 1h8m-34 1h8m287 2h8m-322 1h8m236 1h8m-274 7h8m-22 2h8m-29 1h8m64 0h8m-80 1h8m-18 2h8m15 1h8m197 0h8m-238 4h8m66 0h8m-64 8h8m71 1h8m-97 6h8m29 2h8m-59 2h8m14 0h8m19 0h8m7 2h8m24 1h8m158 3h8m22 0h8m-276 1h8m28 4h8m-16 2h8m-54 3h8m243 3h8m1 1h8m-239 1h8m-59 4h8m140 0h8m-93 3h8m-28 3h8m-42 1h8m30 0h8m18 1h8m299 1h8m-304 2h8m181 0h8m-126 2h8m-75 1h8m-28 1h8m59 0h8m175 2h8m-221 1h8m-121 1h8m97 3h8m-41 2h8m288 1h8m-316 8h8m-8 2h8m261 0h8m-52 8h8m-283 3h8m-35 1h8m69 2h8m-5 0h8m209 0h8m-228 2h8m13 2h8m166 0h8m-240 11h8m77 0h8m6 1h8m10 0h8m-139 5h8m86 0h8m-106 2h8m11 0h8m-25 5h8m404 4h8m-134 1h8m-304 3h8m139 4h8m-132 7h8m-4 5h8m-16 4h8m22 3h8m155 2h8m-233 1h8m14 1h8m16 0h8m-24 1h8m12 3h8m-28 1h8m-17 2h8m-15 2h8m3 0h8m-14 4h8m-7 3h8m211 0h8m31 4h8m-273 1h8m-4 0h8m14 2h8m34 1h8m-102 2h8m39 3h8m-21 1h8m-46 1h8m133 0h8m-109 2h8m1 2h8m-5 0h8m-47 1h8m243 1h8m-249 1h8m-10 2h8m9 1h8m281 0h8m-297 2h8m-3 0h8m100 1h8m-67 1h8m165 4h8m-236 2h8m-9 1h8m282 0h8m-166 2h8m116 0h8m-37 1h8m58 0h8m-300 1h8m240 1h8m-278 3h8m56 0h8m159 0h8m42 0h8m30 2h8m46 1h8m-368 5h8m332 0h8m-356 1h8m232 2h8m98 0h8m-354 1h8m6 0h8m271 0h8m-309 4h8m0 0h8m-12 1h8m162 0h8m-114 2h8m-36 2h8m-44 1h8m16 0h8m114 0h8m-131 1h8m295 3h8m-114 1h8m-217 1h8m-25 3h8m286 1h8m-59 2h8m-235 1h8m121 0h8m-174 3h8m38 2h8m-16 7h8m-48 5h8m21 2h8m183 1h8m-172 1h8m251 0h8m38 3h8m-323 1h8m9 0h8m55 0h8m140 3h8m18 0h8m8 7h8m86 0h8m-125 1h8m-70 2h8m-89 3h8m169 8h8m-104 1h8m-208 1h8m299 3h8m-288 2h8m225 4h8m2 4h8m-233 1h8m0 1h8m294 4h8m-247 6h8m-103 5h8m-14 1h8m278 1h8m-64 2h8m-147 24h8m-85 6h8m283 18h8" stroke="#4a4ab4" stroke-width="8" stroke-opacity="0.35"/>
<ellipse cx="193.1" cy="326" rx="1.9" ry="4.6" fill="#23237f" fill-opacity="0.45" filter="url(#bl5)"/>
<ellipse cx="192.3" cy="357" rx="1.7" ry="2.4" fill="#23237f" fill-opacity="0.5" filter="url(#bl5)"/>
<ellipse cx="219.8" cy="357" rx="4.6" ry="2.6" fill="#23237f" fill-opacity="0.55" filter="url(#bl5)" transform="rotate(-25 219.8 357)"/>
<path transform="scale(.1)" d="M1928 3128h8m6 44h8m-3 2h8m-19 3h8m-26 5h8m-17 6h8m-6 5h8m-1 4h8m28 1h8m-46 3h8m19 0h8m-32 2h8m-2 1h8m16 0h8m-17 1h8m-32 5h8m20 3h8m-29 3h8m7 0h8m-5 1h8m-8 0h8m-2 1h8m-5 1h8m-49 1h8m5 0h8m1 7h8m2 0h8m-15 1h8m8 2h8m-21 1h8m-32 2h8m26 2h8m-31 1h8m-16 3h8m21 0h8m2 0h8m-66 1h8m25 1h8m-15 1h8m-1 0h8m-11 2h8m7 0h8m5 0h8m-39 1h8m1 0h8m-3 0h8m-45 1h8m20 2h8m-6 0h8m8 0h8m-23 3h8m-13 2h8m-12 2h8m-30 1h8m15 1h8m-5 2h8m-6 0h8m0 0h8m4 0h8m-30 1h8m-1 0h8m-34 6h8m34 1h8m4 0h8m-43 2h8m-12 1h8m-6 3h8m-16 1h8m-3 1h8m0 0h8m-3 1h8m8 0h8m-40 2h8m-8 0h8m3 0h8m1 0h8m-34 4h8m-5 4h8m21 0h8m-33 2h8m11 0h8m-25 1h8m-2 1h8m-2 3h8m-18 1h8m2 5h8m-26 3h8m5 1h8m-29 1h8m11 0h8m-13 2h8m8 0h8m-25 5h8m-12 13h8m8 0h8m-4 2h8m307 187h8m-49 3h8m-8 9h8m-5 5h8m-27 2h8m66 1h8m-31 2h8m-323 1h8m284 4h8m-310 1h8m13 0h8m0 2h8m249 0h8m34 0h8m-328 1h8m270 0h8m30 0h8m7 0h8m-77 1h8m-6 0h8m-4 0h8m-287 2h8m2 1h8m-25 1h8m-16 1h8m348 0h8m-47 1h8m5 0h8m5 0h8m-6 0h8m-335 1h8m-4 0h8m281 0h8m-47 1h8m20 0h8m-274 1h8m209 0h8m29 1h8m61 0h8m-364 1h8m2 1h8m269 0h8m-280 1h8m21 0h8m177 0h8m95 0h8m-325 1h8m-8 0h8m2 0h8m266 0h8m-3 0h8m1 0h8m-332 1h8m9 0h8m9 0h8m0 0h8m239 0h8m31 0h8m-85 1h8m25 0h8m1 0h8m-7 0h8m5 0h8m64 0h8m-369 2h8m-3 0h8m10 0h8m263 0h8m4 0h8m-37 1h8m-281 1h8m1 0h8m15 0h8m243 0h8m5 0h8m-283 1h8m179 0h8m28 0h8m47 0h8m-276 1h8m248 0h8m-304 1h8m1 0h8m252 0h8m8 0h8m14 0h8m10 0h8m6 0h8m-336 1h8m-1 0h8m265 0h8m8 0h8m5 0h8m-35 1h8m14 0h8m-6 0h8m-302 1h8m4 0h8m260 0h8m-5 0h8m6 0h8m-323 1h8m292 0h8m-299 1h8m18 1h8m237 0h8m-1 0h8m-272 1h8m161 0h8m84 0h8m17 0h8m-310 1h8m6 0h8m196 0h8m26 0h8m16 0h8m-3 0h8m6 0h8m21 0h8m-324 1h8m252 0h8m0 0h8m6 0h8m-280 1h8m236 0h8m49 0h8m10 0h8m-118 1h8m36 0h8m16 0h8m4 1h8m5 0h8m6 0h8m-365 2h8m14 0h8m2 0h8m248 0h8m-301 1h8m12 0h8m3 0h8m274 0h8m-19 2h8m1 0h8m11 0h8m34 0h8m-369 1h8m17 0h8m169 0h8m17 0h8m-239 1h8m342 0h8m-358 1h8m38 1h8m216 0h8m-263 1h8m-10 1h8m230 0h8m8 0h8m-25 1h8m-222 1h8m214 1h8m-1 0h8m5 0h8m-255 1h8m-14 1h8m189 0h8m39 0h8m35 0h8m-293 1h8m253 1h8m4 0h8m-288 1h8m1 2h8m193 0h8m57 1h8m-62 1h8m61 0h8m31 2h8m-351 1h8m275 0h8m-271 1h8m-4 3h8m234 5h8m7 0h8m-35 2h8m3 0h8m-253 4h8m-6 2h8m229 0h8m-7 0h8m-1 2h8m42 2h8m-87 4h8m-18 5h8" stroke="#23237f" stroke-width="8" stroke-opacity="0.55"/>
<path transform="scale(.1)" d="M1919 3162h8m12 0h8m-24 11h8m-3 3h8m-30 12h8m39 7h8m-14 4h8m-15 1h8m-25 3h8m4 3h8m-5 1h8m-21 1h8m-6 1h8m-2 3h8m-11 1h8m30 1h8m-71 4h8m30 2h8m-4 2h8m-25 1h8m-14 4h8m-1 1h8m-22 6h8m19 0h8m2 0h8m-33 1h8m-5 1h8m-8 4h8m1 0h8m-40 2h8m14 0h8m-12 1h8m9 1h8m-33 2h8m-6 0h8m-4 1h8m-4 0h8m-18 1h8m-6 2h8m-17 1h8m3 0h8m3 1h8m8 0h8m-38 2h8m-5 1h8m-22 1h8m20 0h8m-28 1h8m-4 1h8m6 0h8m-11 2h8m4 0h8m-25 1h8m5 2h8m-3 1h8m-29 1h8m19 0h8m-46 1h8m25 0h8m-12 4h8m-38 4h8m16 1h8m9 0h8m-52 5h8m6 0h8m-10 1h8m8 0h8m-29 4h8m12 0h8m-11 4h8m16 1h8m-45 1h8m13 0h8m-19 1h8m13 0h8m-8 5h8m-25 1h8m-37 1h8m2 0h8m8 0h8m-16 1h8m-12 1h8m-8 1h8m-3 0h8m-13 1h8m0 0h8m8 2h8m-21 3h8m-6 0h8m-19 1h8m3 2h8m-12 1h8m-18 2h8m15 3h8m-28 2h8m-6 0h8m18 0h8m-23 3h8m-11 17h8m-2 1h8m-9 19h8m6 9h8m261 126h8m0 2h8m-33 20h8m-6 0h8m11 1h8m-18 1h8m5 5h8m-12 3h8m6 2h8m-4 1h8m-342 1h8m267 0h8m21 0h8m20 0h8m-311 1h8m238 0h8m-274 1h8m264 1h8m8 0h8m20 0h8m41 0h8m-75 1h8m-45 1h8m28 0h8m12 0h8m-328 1h8m362 0h8m-358 2h8m270 0h8m39 0h8m-68 4h8m-294 1h8m307 2h8m-4 0h8m-97 1h8m133 0h8m-177 1h8m15 0h8m38 0h8m21 1h8m-288 1h8m223 0h8m25 0h8m38 0h8m-355 3h8m22 0h8m8 0h8m289 0h8m-337 1h8m258 0h8m0 1h8m9 0h8m-286 1h8m-41 1h8m21 0h8m284 1h8m-47 1h8m-264 1h8m276 0h8m-294 1h8m256 0h8m-268 1h8m269 0h8m10 0h8m-36 1h8m8 0h8m5 0h8m40 0h8m-75 1h8m26 0h8m-74 1h8m51 0h8m-39 1h8m7 0h8m3 0h8m8 0h8m-312 1h8m283 0h8m30 0h8m-334 1h8m-7 0h8m262 0h8m-7 0h8m-8 0h8m-8 0h8m-293 1h8m-3 0h8m-7 0h8m0 0h8m-33 2h8m-8 0h8m4 0h8m0 0h8m218 0h8m15 0h8m-7 0h8m18 0h8m19 0h8m3 0h8m-359 1h8m19 0h8m-4 0h8m230 0h8m29 0h8m-1 0h8m19 0h8m-283 1h8m209 1h8m22 0h8m-296 1h8m306 0h8m3 0h8m-7 0h8m-327 1h8m32 0h8m229 0h8m-288 1h8m282 0h8m-3 0h8m9 0h8m-307 1h8m-5 0h8m2 0h8m238 0h8m-280 1h8m-2 0h8m230 0h8m-268 1h8m3 0h8m225 0h8m37 0h8m-289 2h8m-3 0h8m216 0h8m39 1h8m61 1h8m-338 1h8m259 0h8m5 0h8m53 0h8m-36 1h8m-323 1h8m1 0h8m246 0h8m-271 1h8m304 0h8m-328 1h8m291 0h8m-5 0h8m-54 2h8m13 0h8m-61 1h8m-205 1h8m213 0h8m3 0h8m8 0h8m-5 1h8m-3 0h8m6 0h8m-7 0h8m-288 1h8m177 1h8m52 1h8m-87 1h8m44 1h8m6 0h8m32 0h8m14 0h8m-332 1h8m-1 1h8m7 1h8m205 0h8m21 0h8m71 0h8m-89 2h8m-247 1h8m3 1h8m208 0h8m38 0h8m-62 1h8m19 1h8m-12 4h8m48 0h8m-35 5h8m21 4h8m-94 1h8m17 2h8m4 1h8" stroke="#23237f" stroke-width="8" stroke-opacity="0.55"/>
<path transform="scale(.1)" d="M1924 3137h8m-20 23h8m-6 9h8m1 10h8m-3 4h8m-26 1h8m7 8h8m-28 2h8m2 1h8m9 6h8m-11 3h8m-32 3h8m35 0h8m-6 1h8m-18 1h8m-12 1h8m-8 2h8m-7 1h8m-14 3h8m-6 0h8m-45 1h8m23 0h8m3 0h8m-31 1h8m4 0h8m36 2h8m-41 1h8m-14 2h8m20 1h8m-23 1h8m-44 1h8m8 1h8m-8 0h8m1 0h8m-6 0h8m6 0h8m-3 1h8m-13 1h8m-27 1h8m-1 1h8m-35 1h8m21 2h8m-36 1h8m4 2h8m-12 1h8m12 2h8m-12 1h8m3 1h8m-32 4h8m-4 0h8m17 0h8m-38 1h8m9 1h8m-14 1h8m-6 0h8m-27 1h8m-7 1h8m17 0h8m-5 0h8m-31 2h8m18 0h8m-40 1h8m-2 1h8m-8 1h8m15 1h8m-63 3h8m24 0h8m16 1h8m-31 2h8m-2 1h8m-6 0h8m-37 1h8m7 1h8m31 1h8m-66 1h8m20 0h8m24 0h8m-24 1h8m-56 1h8m69 0h8m-39 2h8m-54 1h8m26 0h8m-38 3h8m47 0h8m19 0h8m-69 2h8m-4 0h8m16 0h8m-39 1h8m-9 3h8m-3 0h8m-16 2h8m-4 0h8m0 0h8m23 2h8m-37 1h8m-10 1h8m-7 1h8m-12 1h8m24 0h8m-56 2h8m23 0h8m9 1h8m-30 2h8m-26 4h8m10 0h8m-14 1h8m-26 2h8m11 4h8m13 0h8m-28 1h8m9 3h8m-38 2h8m-10 5h8m3 1h8m-6 2h8m-4 0h8m11 6h8m-35 6h8m-23 1h8m-2 7h8m-14 1h8m32 24h8m-40 13h8m3 2h8m283 141h8m-280 2h8m-46 2h8m-6 4h8m34 0h8m-28 3h8m24 2h8m254 0h8m8 1h8m-347 1h8m285 1h8m-287 2h8m229 0h8m61 1h8m-298 2h8m272 0h8m19 0h8m-316 1h8m1 0h8m-6 0h8m296 0h8m-310 1h8m328 0h8m-121 1h8m21 0h8m7 0h8m19 0h8m-323 1h8m267 0h8m42 1h8m-338 1h8m333 0h8m-96 1h8m-273 1h8m9 0h8m285 0h8m-323 1h8m28 0h8m11 0h8m200 0h8m16 0h8m43 0h8m-104 1h8m79 0h8m-312 1h8m230 0h8m-5 0h8m33 0h8m-301 1h8m356 0h8m-369 1h8m249 0h8m33 0h8m-41 1h8m14 0h8m2 0h8m12 0h8m38 0h8m-387 1h8m-3 0h8m20 0h8m13 1h8m241 0h8m40 0h8m-300 1h8m-44 1h8m-8 1h8m268 0h8m-275 1h8m232 0h8m12 0h8m10 0h8m-2 0h8m16 0h8m-63 1h8m0 0h8m4 0h8m-46 1h8m68 0h8m3 1h8m-327 1h8m-8 0h8m230 0h8m72 0h8m-99 1h8m31 0h8m-2 0h8m-278 1h8m267 0h8m-3 0h8m-305 1h8m257 1h8m0 0h8m16 0h8m-18 1h8m-284 1h8m256 0h8m-16 1h8m11 0h8m-322 1h8m268 0h8m48 0h8m-5 0h8m-60 1h8m30 1h8m-83 1h8m20 0h8m-63 1h8m108 0h8m16 0h8m-64 1h8m-292 3h8m6 0h8m271 0h8m-8 0h8m-303 1h8m276 0h8m-297 1h8m5 0h8m250 0h8m58 0h8m-327 1h8m284 0h8m21 0h8m-112 1h8m48 0h8m-278 1h8m219 1h8m102 0h8m-134 1h8m13 0h8m63 0h8m-339 1h8m15 0h8m265 0h8m8 0h8m-281 3h8m-28 2h8m262 0h8m-8 0h8m-279 1h8m218 0h8m-237 1h8m-2 0h8m204 0h8m88 0h8m-47 1h8m-261 2h8m236 0h8m-40 1h8m66 0h8m-77 1h8m-230 4h8m255 1h8m-274 2h8m247 1h8m-19 3h8m38 2h8m-28 1h8m-58 5h8m-247 1h8m208 5h8m-222 3h8m215 16h8" stroke="#23237f" stroke-width="8" stroke-opacity="0.55"/>
<path transform="scale(.1)" d="M1891 3174h8m18 8h8m-32 2h8m43 1h8m-39 2h8m-31 5h8m33 3h8m-31 1h8m18 0h8m9 7h8m-34 2h8m-18 2h8m23 2h8m-12 5h8m-28 1h8m-11 1h8m-4 0h8m9 0h8m-27 2h8m-1 1h8m-3 0h8m-13 1h8m3 0h8m-48 3h8m10 1h8m29 0h8m-52 2h8m16 0h8m-6 0h8m-30 2h8m-11 2h8m5 0h8m-5 1h8m-8 2h8m-28 4h8m-4 6h8m20 0h8m2 1h8m-45 2h8m6 0h8m-17 2h8m3 0h8m-1 0h8m-4 1h8m-6 1h8m-42 3h8m24 0h8m-33 2h8m-2 2h8m11 0h8m-9 1h8m-14 1h8m-7 0h8m4 2h8m-8 1h8m-7 0h8m-25 1h8m-24 2h8m30 1h8m-35 2h8m-10 1h8m8 1h8m-3 0h8m5 0h8m-44 1h8m17 0h8m-3 0h8m-34 1h8m0 0h8m4 3h8m-14 1h8m-8 0h8m-38 2h8m19 4h8m-26 2h8m23 2h8m-4 1h8m-33 1h8m11 1h8m19 1h8m-44 4h8m15 7h8m-34 4h8m0 3h8m2 2h8m-35 2h8m5 1h8m-31 2h8m-3 3h8m-5 1h8m-3 0h8m14 2h8m-50 7h8m25 3h8m-23 1h8m17 1h8m283 154h8m-53 10h8m41 24h8m-67 2h8m64 1h8m-384 1h8m307 4h8m-277 5h8m245 0h8m39 3h8m-19 2h8m3 0h8m-323 1h8m282 0h8m7 0h8m-307 2h8m284 0h8m7 0h8m-7 0h8m-309 1h8m-20 2h8m7 0h8m339 0h8m-86 1h8m0 1h8m-3 0h8m-277 1h8m-7 0h8m254 0h8m2 0h8m-332 1h8m32 0h8m218 0h8m17 0h8m-7 0h8m25 0h8m-296 1h8m-8 0h8m2 0h8m207 0h8m4 0h8m14 1h8m34 0h8m-7 1h8m-8 0h8m-308 1h8m6 0h8m199 0h8m66 0h8m7 0h8m-51 1h8m45 0h8m-345 1h8m232 0h8m42 0h8m-5 0h8m2 0h8m-303 1h8m-8 1h8m327 0h8m-346 1h8m224 0h8m51 0h8m-39 1h8m0 0h8m3 0h8m-290 1h8m-5 0h8m218 0h8m96 0h8m16 0h8m-348 1h8m251 0h8m38 0h8m7 0h8m-54 1h8m-47 1h8m1 0h8m7 0h8m43 0h8m-338 1h8m-3 0h8m292 0h8m-6 1h8m40 0h8m-109 1h8m43 0h8m-305 1h8m277 0h8m-301 1h8m6 0h8m-5 0h8m244 0h8m16 0h8m-306 1h8m282 0h8m-284 1h8m14 0h8m240 0h8m2 0h8m-295 1h8m5 0h8m4 0h8m254 0h8m27 0h8m-305 1h8m249 0h8m19 0h8m8 0h8m-330 2h8m219 0h8m32 0h8m8 0h8m-5 0h8m20 0h8m-77 1h8m22 0h8m-280 1h8m239 0h8m33 0h8m16 0h8m-68 1h8m38 0h8m-314 1h8m235 0h8m13 0h8m-1 0h8m-273 1h8m4 0h8m261 0h8m32 0h8m-97 1h8m19 0h8m18 0h8m-43 1h8m58 0h8m-323 1h8m219 0h8m30 0h8m-70 1h8m66 0h8m11 0h8m-54 1h8m8 0h8m-281 1h8m260 0h8m-13 2h8m-8 0h8m-278 1h8m253 0h8m61 0h8m-21 1h8m-309 2h8m-1 0h8m3 0h8m260 0h8m-288 1h8m226 0h8m-29 1h8m56 0h8m-43 1h8m47 1h8m-79 2h8m-243 1h8m270 1h8m-45 1h8m-37 1h8m-1 0h8m21 2h8m-245 1h8m5 0h8m201 1h8m7 0h8m-270 1h8m259 2h8m-36 1h8m-7 0h8m31 0h8m-20 1h8m-290 1h8m304 0h8m-304 1h8m31 2h8m185 0h8m5 0h8m-214 4h8m-28 1h8m22 0h8m262 3h8m-74 3h8m12 8h8m-32 2h8m-22 6h8m-54 3h8" stroke="#23237f" stroke-width="8" stroke-opacity="0.55"/>
<rect x="183.5" y="312.8" width="25.9" height="22.8" fill="none" stroke="#6a6a6a" stroke-width="0.65"/>
<rect x="208.1" y="342.5" width="27.3" height="22.5" fill="none" stroke="#6a6a6a" stroke-width="0.65"/>
<path transform="scale(.1)" d="M2626 3148h8m94 3h8m152 0h8m-258 2h8m223 9h8m-209 7h8m58 11h8m162 3h8m-186 2h8m-102 1h8m45 3h8m234 10h8m-262 1h8m274 2h8m-296 1h8m95 0h8m-92 6h8m178 2h8m-173 1h8m-56 5h8m-2 2h8m18 0h8m16 0h8m-46 1h8m56 0h8m-79 1h8m43 0h8m-6 0h8m-58 3h8m20 2h8m30 0h8m55 0h8m119 4h8m-313 1h8m83 0h8m67 0h8m-71 1h8m-5 4h8m-104 1h8m36 1h8m25 0h8m0 1h8m16 3h8m-100 2h8m-29 1h8m85 2h8m37 0h8m-146 1h8m65 1h8m147 0h8m62 0h8m-257 1h8m204 0h8m52 3h8m-254 3h8m165 1h8m-192 1h8m253 0h8m-99 3h8m-206 2h8m46 0h8m102 0h8m-189 1h8m124 0h8m89 0h8m-207 4h8m-93 1h8m134 7h8m24 0h8m-78 1h8m-67 1h8m80 0h8m-1 2h8m-33 3h8m228 2h8m-242 2h8m-38 3h8m12 0h8m-65 2h8m13 3h8m2 0h8m1 1h8m11 2h8m37 1h8m-79 1h8m-39 1h8m55 4h8m-37 1h8m10 1h8m28 0h8m-25 5h8m-33 1h8m14 0h8m-17 1h8m-43 3h8m-67 1h8m-3 4h8m275 1h8m77 1h8m-89 3h8m-177 1h8m30 0h8m96 1h8m-203 1h8m-27 8h8m42 1h8m-93 5h8m0 0h8m21 1h8m172 1h8m101 1h8m-313 3h8m87 1h8m-115 1h8m163 3h8m-141 7h8m-76 2h8m34 1h8m-4 7h8m-47 2h8m19 2h8m-6 1h8m187 0h8m-225 3h8m151 1h8m-153 1h8m-36 1h8m57 0h8m-28 1h8m-23 2h8m67 4h8m-112 5h8m-20 1h8m170 0h8m-176 4h8m-3 3h8m281 0h8m-302 11h8m12 0h8m101 0h8m-121 1h8m-1 0h8m-5 0h8m28 1h8m-26 1h8m-32 1h8m-5 5h8m-10 2h8m36 1h8m-47 3h8m-4 0h8m-23 3h8m173 0h8m-209 3h8m126 0h8m-155 2h8m47 0h8m14 2h8m-56 1h8m12 0h8m166 1h8m-159 1h8m-8 9h8m-36 4h8m229 0h8m-232 2h8m68 0h8m-82 10h8m152 0h8m-182 1h8m285 2h8m-309 4h8m-3 0h8m1 0h8m10 3h8m-8 4h8m-55 2h8m12 0h8m-8 2h8m41 0h8m-59 1h8m129 0h8m85 0h8m55 0h8m-271 1h8m265 0h8m-305 1h8m240 0h8m-271 1h8m29 1h8m-39 2h8m263 0h8m-292 3h8m27 3h8m188 0h8m-241 1h8m232 6h8m-116 1h8m117 1h8m43 2h8m-274 3h8m78 1h8m163 0h8m-314 2h8m139 3h8m133 1h8m-113 1h8m47 5h8m73 2h8m-307 4h8m118 0h8m83 3h8m-206 2h8m-47 1h8m338 3h8m-254 4h8m78 1h8m63 1h8m-15 2h8m-233 1h8m194 2h8m51 8h8m-245 2h8m312 1h8m-321 1h8m-39 5h8m256 1h8m3 0h8m-63 11h8m6 2h8m3 13h8m-334 34h8m41 7h8" stroke="#4a4ab4" stroke-width="8" stroke-opacity="0.35"/>
<path transform="scale(.1)" d="M2743 3147h8m-71 4h8m-28 4h8m42 5h8m-13 2h8m11 9h8m-98 3h8m40 10h8m160 2h8m-160 5h8m59 0h8m226 1h8m-35 10h8m1 0h8m-273 1h8m-73 2h8m27 3h8m18 1h8m110 0h8m-107 1h8m-76 2h8m358 0h8m-342 1h8m154 4h8m-162 4h8m58 2h8m-89 1h8m-59 1h8m53 1h8m26 2h8m-51 1h8m124 0h8m-130 2h8m231 1h8m-279 2h8m10 4h8m0 0h8m-32 1h8m15 0h8m127 1h8m-143 3h8m-34 1h8m16 1h8m42 1h8m-4 1h8m-80 5h8m77 0h8m-28 3h8m22 0h8m-109 1h8m-22 3h8m29 0h8m12 0h8m-19 1h8m-5 1h8m39 0h8m240 0h8m-363 1h8m0 1h8m183 0h8m-162 4h8m242 0h8m-251 1h8m265 1h8m-15 2h8m-18 3h8m-251 1h8m-66 1h8m80 0h8m-119 1h8m287 0h8m-287 2h8m93 0h8m-128 1h8m121 1h8m-33 2h8m-20 3h8m51 0h8m148 0h8m-278 3h8m75 0h8m-8 2h8m19 1h8m-71 1h8m-11 2h8m247 0h8m-116 2h8m123 1h8m-234 3h8m99 3h8m-124 1h8m-126 3h8m53 1h8m78 0h8m-72 1h8m187 0h8m16 4h8m-282 1h8m-5 2h8m73 1h8m30 3h8m-103 3h8m-36 1h8m-31 6h8m32 0h8m-53 16h8m120 2h8m-105 4h8m72 2h8m-102 1h8m-15 13h8m-14 1h8m27 1h8m46 0h8m179 2h8m-129 2h8m-165 1h8m90 3h8m-97 2h8m-29 1h8m194 2h8m-199 2h8m-11 8h8m-11 7h8m-5 5h8m12 2h8m337 1h8m-330 5h8m-46 3h8m235 1h8m-251 5h8m-53 1h8m63 0h8m251 0h8m-360 1h8m35 1h8m361 0h8m-333 1h8m209 0h8m-254 1h8m42 0h8m-63 2h8m11 1h8m2 0h8m-35 2h8m6 1h8m1 0h8m76 0h8m-77 1h8m-44 1h8m-27 2h8m28 0h8m9 1h8m18 1h8m-32 1h8m80 0h8m-145 2h8m42 0h8m-45 1h8m-3 0h8m15 1h8m246 2h8m-259 3h8m-14 4h8m147 3h8m70 1h8m-258 1h8m0 1h8m268 2h8m-282 1h8m304 1h8m-321 2h8m24 0h8m-60 4h8m129 1h8m-73 6h8m330 0h8m-115 1h8m-229 4h8m198 0h8m-268 2h8m-32 2h8m12 1h8m-18 1h8m231 0h8m-205 4h8m-46 1h8m-8 1h8m236 0h8m-276 1h8m-4 1h8m38 1h8m-10 4h8m189 1h8m-43 1h8m-19 1h8m-141 1h8m-48 3h8m-22 2h8m7 0h8m-33 2h8m337 6h8m-139 1h8m-208 7h8m-29 1h8m275 0h8m-262 4h8m9 6h8m195 1h8m-229 3h8m21 7h8m260 5h8m7 0h8m-339 4h8m238 0h8m17 0h8m13 1h8m7 6h8m-29 2h8m-141 4h8m37 9h8m-201 5h8m341 7h8m-328 6h8m286 3h8m-91 7h8m-235 7h8m238 0h8m-92 10h8m133 4h8m-294 3h8m214 10h8" stroke="#4a4ab4" stroke-width="8" stroke-opacity="0.35"/>
<path transform="scale(.1)" d="M3047 3122h8m-358 10h8m8 12h8m-25 2h8m38 16h8m-48 14h8m-8 11h8m62 2h8m40 0h8m-101 1h8m33 0h8m-65 2h8m56 3h8m-94 2h8m46 9h8m29 0h8m-17 1h8m112 1h8m117 1h8m-319 5h8m57 2h8m92 3h8m-198 2h8m100 0h8m-102 2h8m200 2h8m-130 1h8m67 1h8m-186 1h8m233 0h8m2 1h8m21 1h8m-222 3h8m208 1h8m-214 5h8m-76 2h8m38 0h8m-61 1h8m22 2h8m12 0h8m-70 1h8m101 0h8m109 0h8m-214 1h8m157 4h8m-167 4h8m22 1h8m-50 1h8m19 2h8m-21 2h8m11 2h8m-6 1h8m-116 1h8m117 0h8m-109 1h8m330 0h8m-320 2h8m248 4h8m48 1h8m-52 1h8m-294 3h8m166 0h8m-115 1h8m-7 0h8m14 0h8m252 1h8m-63 2h8m-246 2h8m-66 1h8m86 1h8m39 1h8m-78 1h8m151 5h8m-84 3h8m-62 2h8m-68 2h8m22 5h8m-77 5h8m-52 4h8m147 0h8m93 2h8m-109 1h8m-83 2h8m-48 5h8m-146 5h8m147 0h8m74 0h8m-74 1h8m2 2h8m-38 4h8m74 3h8m132 3h8m-226 11h8m141 1h8m-130 5h8m-46 5h8m5 0h8m-16 2h8m-23 20h8m311 2h8m-325 3h8m-14 2h8m31 2h8m-62 4h8m8 1h8m340 3h8m-357 1h8m0 0h8m-9 1h8m-138 2h8m141 0h8m-61 6h8m39 0h8m218 0h8m-239 6h8m12 4h8m-38 1h8m17 1h8m-44 6h8m-22 2h8m17 0h8m299 2h8m-214 2h8m124 1h8m-275 1h8m58 2h8m-38 1h8m238 0h8m-261 1h8m-16 1h8m84 0h8m-88 2h8m166 0h8m-170 1h8m-27 2h8m12 0h8m224 2h8m-279 1h8m155 2h8m89 0h8m-259 3h8m41 1h8m90 0h8m-128 1h8m116 0h8m46 1h8m-157 1h8m235 0h8m-284 1h8m-3 0h8m13 1h8m-55 2h8m2 0h8m5 1h8m-4 0h8m29 0h8m-40 2h8m-45 1h8m39 0h8m-55 1h8m26 0h8m8 0h8m-37 1h8m24 0h8m195 1h8m24 1h8m39 0h8m-422 1h8m115 0h8m-32 1h8m-9 1h8m-9 1h8m213 0h8m-228 2h8m-78 2h8m169 0h8m-128 2h8m74 0h8m-72 1h8m13 0h8m-6 3h8m232 0h8m-255 1h8m-30 3h8m25 0h8m-17 2h8m167 0h8m110 1h8m-340 5h8m274 0h8m-287 1h8m255 1h8m-25 4h8m-224 2h8m161 3h8m82 0h8m-20 1h8m26 0h8m-295 2h8m212 0h8m44 0h8m33 2h8m-328 2h8m-28 4h8m302 7h8m-274 1h8m138 1h8m105 0h8m-81 2h8m35 2h8m-267 1h8m-70 1h8m325 5h8m-276 1h8m282 3h8m129 1h8m-426 7h8m256 1h8m-2 4h8m0 6h8m-283 9h8m250 1h8m16 4h8m-55 7h8m48 1h8m-212 2h8m132 8h8m-43 3h8m9 22h8m-23 18h8m40 4h8m-90 31h8" stroke="#4a4ab4" stroke-width="8" stroke-opacity="0.35"/>
<ellipse cx="263.7" cy="326" rx="1.9" ry="4.6" fill="#23237f" fill-opacity="0.45" filter="url(#bl5)"/>
<ellipse cx="262.90000000000003" cy="357" rx="1.7" ry="2.4" fill="#23237f" fill-opacity="0.5" filter="url(#bl5)"/>
<ellipse cx="288.90000000000003" cy="357" rx="4.6" ry="2.6" fill="#23237f" fill-opacity="0.55" filter="url(#bl5)" transform="rotate(-25 288.90000000000003 357)"/>
<path transform="scale(.1)" d="M2606 3166h8m17 10h8m-11 10h8m3 8h8m0 2h8m-32 13h8m-6 0h8m4 0h8m-6 4h8m-12 1h8m-7 2h8m4 1h8m26 0h8m-39 1h8m-42 1h8m-13 2h8m36 0h8m-32 1h8m-24 4h8m7 3h8m8 0h8m-2 0h8m-43 1h8m4 0h8m4 1h8m-2 0h8m-11 1h8m6 1h8m-54 2h8m34 0h8m-22 1h8m-2 0h8m-18 1h8m-1 1h8m5 4h8m-55 2h8m13 0h8m0 0h8m-17 2h8m8 0h8m2 0h8m-42 1h8m-3 0h8m-3 0h8m-15 5h8m-7 0h8m8 0h8m-2 5h8m-60 2h8m34 0h8m28 5h8m-52 1h8m10 0h8m-7 0h8m-30 1h8m-10 1h8m-6 0h8m6 2h8m-32 3h8m18 1h8m-19 1h8m18 1h8m-37 1h8m26 0h8m-33 5h8m-3 0h8m-6 0h8m-6 0h8m7 0h8m-33 1h8m-8 0h8m0 1h8m-20 3h8m8 0h8m17 2h8m-65 2h8m-6 0h8m12 1h8m-9 5h8m-7 0h8m10 0h8m-22 2h8m-14 2h8m-25 1h8m-8 4h8m11 1h8m-19 1h8m18 0h8m-33 2h8m13 10h8m-5 0h8m-24 5h8m-10 1h8m-6 0h8m-36 10h8m24 3h8m-37 2h8m19 2h8m4 35h8m264 132h8m-320 1h8m380 2h8m-125 5h8m-276 13h8m306 1h8m71 0h8m-378 2h8m-19 1h8m261 2h8m-269 1h8m318 0h8m-366 1h8m337 0h8m-328 4h8m262 0h8m-3 0h8m21 0h8m-36 1h8m21 0h8m-39 1h8m30 1h8m-348 2h8m25 0h8m197 0h8m131 0h8m-371 1h8m245 0h8m49 0h8m18 0h8m-326 1h8m287 0h8m-23 2h8m-287 1h8m269 0h8m-290 1h8m15 0h8m232 0h8m-256 1h8m-7 0h8m-22 2h8m256 0h8m4 0h8m-5 0h8m-301 1h8m254 0h8m90 0h8m-342 1h8m-17 1h8m-3 1h8m240 0h8m18 0h8m1 0h8m7 0h8m-331 1h8m9 0h8m244 0h8m30 0h8m-312 1h8m-2 0h8m16 0h8m0 0h8m223 0h8m4 0h8m-297 1h8m266 0h8m14 0h8m59 0h8m-376 1h8m30 0h8m7 0h8m242 0h8m-280 1h8m207 0h8m-235 1h8m244 0h8m9 0h8m51 0h8m-324 1h8m1 0h8m312 0h8m-344 1h8m-2 0h8m255 0h8m-7 0h8m26 0h8m-4 0h8m-313 1h8m4 0h8m201 0h8m19 0h8m9 0h8m10 0h8m-61 1h8m-5 0h8m41 0h8m-83 1h8m-213 1h8m237 0h8m-272 1h8m12 0h8m203 0h8m34 0h8m-7 0h8m-3 0h8m-275 1h8m184 1h8m56 0h8m1 0h8m-264 1h8m216 0h8m39 0h8m-288 1h8m291 1h8m29 0h8m-346 1h8m13 0h8m213 0h8m-249 1h8m261 0h8m-304 1h8m273 0h8m8 0h8m4 0h8m32 0h8m-110 1h8m50 0h8m-286 1h8m3 0h8m188 0h8m28 0h8m35 0h8m1 0h8m-306 1h8m238 0h8m-243 1h8m221 0h8m6 0h8m11 0h8m-63 1h8m7 0h8m43 0h8m5 0h8m-5 1h8m-298 1h8m214 0h8m3 0h8m-264 1h8m218 0h8m73 0h8m28 0h8m-116 1h8m-2 2h8m32 0h8m-250 1h8m-1 0h8m-42 1h8m235 1h8m30 0h8m-81 1h8m101 0h8m-114 1h8m79 0h8m-302 1h8m194 1h8m85 0h8m-2 0h8m-4 0h8m-314 1h8m242 0h8m14 0h8m-66 2h8m-55 1h8m105 0h8m-85 1h8m51 0h8m-273 2h8m217 0h8m20 0h8m-24 1h8m-5 1h8m33 2h8m-295 4h8m16 0h8m183 1h8m-230 4h8m263 0h8m-253 5h8m238 5h8m-74 3h8m-32 13h8" stroke="#23237f" stroke-width="8" stroke-opacity="0.55"/>
<path transform="scale(.1)" d="M2609 3164h8m32 14h8m-32 5h8m12 1h8m-1 1h8m-10 1h8m-3 5h8m-16 5h8m-16 3h8m-26 1h8m-10 4h8m-11 1h8m5 5h8m-2 0h8m4 5h8m-24 3h8m4 8h8m-2 0h8m0 0h8m-35 1h8m-7 0h8m2 0h8m-22 2h8m3 0h8m-47 3h8m30 1h8m16 0h8m-37 1h8m12 0h8m-28 2h8m10 0h8m-46 2h8m4 0h8m-5 1h8m8 2h8m-22 1h8m-4 1h8m9 0h8m-7 1h8m-47 6h8m35 1h8m-14 2h8m-23 2h8m-3 0h8m3 0h8m-6 2h8m-1 0h8m-53 3h8m32 0h8m-18 1h8m3 0h8m-47 5h8m23 0h8m-9 1h8m-5 1h8m-37 1h8m-4 0h8m8 0h8m-4 1h8m-30 1h8m-4 0h8m21 1h8m-39 2h8m-2 0h8m3 0h8m-1 0h8m-1 4h8m-1 1h8m-4 1h8m-44 2h8m-30 1h8m8 1h8m-22 1h8m22 1h8m17 0h8m-25 2h8m-2 0h8m0 2h8m-8 0h8m-51 5h8m8 0h8m-2 0h8m-21 6h8m9 3h8m-13 2h8m-7 1h8m-30 1h8m-16 1h8m0 2h8m-2 2h8m-18 1h8m22 7h8m-9 1h8m-17 1h8m20 4h8m-33 4h8m7 0h8m-22 1h8m7 3h8m-38 7h8m18 4h8m-30 25h8m242 121h8m12 19h8m-20 7h8m39 0h8m-44 1h8m-47 1h8m34 1h8m-43 3h8m20 0h8m-258 6h8m-32 1h8m246 1h8m-39 2h8m47 1h8m42 0h8m-89 1h8m-232 1h8m256 1h8m13 0h8m22 0h8m-24 1h8m-327 1h8m252 0h8m-5 0h8m22 0h8m-297 1h8m-2 1h8m0 0h8m240 0h8m11 0h8m-37 1h8m48 0h8m-37 1h8m-290 1h8m-2 0h8m240 0h8m-250 1h8m224 0h8m23 0h8m27 0h8m-304 1h8m222 0h8m28 0h8m-2 0h8m-316 1h8m25 0h8m21 0h8m178 0h8m58 0h8m-289 1h8m255 0h8m-299 1h8m-7 0h8m277 0h8m-47 1h8m74 0h8m-15 1h8m-315 1h8m-3 0h8m2 0h8m195 0h8m37 0h8m44 0h8m-340 2h8m269 0h8m-1 0h8m37 0h8m-66 1h8m19 0h8m66 0h8m-374 1h8m-5 0h8m250 0h8m-256 1h8m234 0h8m10 0h8m-273 1h8m9 0h8m212 0h8m73 0h8m-298 1h8m264 0h8m-56 1h8m20 0h8m-295 1h8m243 0h8m-5 0h8m3 0h8m7 0h8m49 0h8m0 0h8m-334 2h8m-7 0h8m254 0h8m15 0h8m-136 1h8m124 0h8m-318 1h8m289 0h8m-288 1h8m-4 1h8m4 0h8m213 0h8m21 0h8m-5 0h8m-70 1h8m18 0h8m7 0h8m-252 1h8m-1 0h8m211 0h8m3 0h8m-257 3h8m-4 0h8m243 0h8m-253 1h8m0 0h8m-7 0h8m210 1h8m25 0h8m-292 1h8m261 0h8m30 0h8m-299 1h8m203 0h8m60 0h8m20 0h8m-335 1h8m26 0h8m255 0h8m13 0h8m-17 1h8m32 0h8m-3 0h8m-84 1h8m-258 1h8m1 0h8m246 0h8m-35 1h8m12 0h8m-4 0h8m-4 0h8m-16 1h8m25 0h8m-291 1h8m298 0h8m-344 1h8m250 0h8m3 0h8m-52 1h8m36 0h8m-53 1h8m80 0h8m-307 1h8m-5 0h8m232 0h8m16 0h8m16 0h8m-53 1h8m7 0h8m13 1h8m41 0h8m-353 1h8m236 1h8m-27 1h8m82 0h8m-92 1h8m2 0h8m21 0h8m16 0h8m-266 1h8m186 1h8m28 2h8m49 0h8m-82 1h8m11 2h8m-46 2h8m-8 3h8m-215 1h8m310 0h8m-65 1h8m-273 2h8m261 0h8m-272 1h8m262 1h8m-42 6h8m20 1h8m-12 8h8" stroke="#23237f" stroke-width="8" stroke-opacity="0.55"/>
<path transform="scale(.1)" d="M2642 3157h8m-25 10h8m24 10h8m-19 16h8m-17 1h8m10 2h8m-16 1h8m-25 1h8m-7 0h8m-3 4h8m-36 6h8m20 0h8m2 4h8m10 2h8m-36 3h8m-15 5h8m6 0h8m-33 3h8m26 2h8m-1 0h8m-62 2h8m2 0h8m7 0h8m22 1h8m-42 1h8m10 0h8m-5 4h8m-4 1h8m-9 1h8m-24 1h8m-7 0h8m0 0h8m2 0h8m-25 2h8m-10 2h8m-25 1h8m9 1h8m6 2h8m-34 1h8m8 0h8m-28 1h8m21 0h8m-7 2h8m-6 0h8m-10 1h8m-44 1h8m51 2h8m-43 5h8m-30 1h8m-2 0h8m-5 0h8m-2 0h8m14 0h8m6 0h8m-46 3h8m-22 1h8m26 2h8m6 0h8m-23 1h8m-12 1h8m13 0h8m-52 1h8m3 0h8m-7 4h8m-11 1h8m1 3h8m-15 1h8m5 2h8m-3 0h8m-7 0h8m-5 0h8m-17 1h8m11 0h8m-44 2h8m-6 1h8m-1 0h8m11 0h8m-23 3h8m-2 3h8m-33 1h8m26 0h8m-31 1h8m1 0h8m0 0h8m-15 2h8m-4 0h8m-11 1h8m10 2h8m-29 2h8m-42 1h8m31 1h8m-29 5h8m14 1h8m-37 4h8m15 2h8m-10 10h8m-7 0h8m-29 1h8m25 0h8m-35 8h8m14 11h8m-5 3h8m252 159h8m-298 1h8m291 0h8m-5 13h8m0 1h8m23 0h8m-333 1h8m242 1h8m18 1h8m-19 4h8m14 0h8m-68 2h8m-245 2h8m272 1h8m-6 2h8m-286 2h8m-1 2h8m-4 0h8m273 0h8m-283 1h8m222 0h8m21 0h8m23 0h8m-46 1h8m-289 1h8m275 0h8m-111 1h8m99 0h8m-1 0h8m-307 1h8m256 0h8m31 1h8m-2 0h8m-315 1h8m270 0h8m-59 1h8m82 1h8m-49 2h8m-269 1h8m277 0h8m40 0h8m-348 1h8m324 0h8m-334 1h8m2 1h8m208 0h8m57 0h8m-305 1h8m214 0h8m42 1h8m-6 0h8m1 0h8m-29 1h8m-274 1h8m260 0h8m64 0h8m-337 1h8m287 0h8m-292 1h8m225 0h8m-257 1h8m-5 0h8m-8 0h8m241 0h8m15 0h8m20 0h8m48 0h8m-364 1h8m283 0h8m24 0h8m-86 1h8m7 0h8m-1 0h8m-57 1h8m9 0h8m-232 1h8m237 0h8m-279 1h8m20 1h8m160 0h8m45 0h8m76 0h8m-32 1h8m-331 1h8m21 0h8m-22 1h8m248 0h8m31 0h8m-3 0h8m-4 0h8m-313 1h8m-6 0h8m224 0h8m41 0h8m18 0h8m-74 1h8m12 0h8m36 0h8m-2 0h8m-300 1h8m298 0h8m-335 1h8m221 0h8m6 0h8m7 0h8m4 0h8m-6 0h8m-249 1h8m253 0h8m3 0h8m3 0h8m-305 1h8m-2 0h8m236 0h8m15 0h8m-305 1h8m26 0h8m233 0h8m-4 0h8m-8 0h8m-236 1h8m228 0h8m0 0h8m25 0h8m-59 1h8m-3 0h8m6 0h8m33 0h8m-337 1h8m13 0h8m191 0h8m43 0h8m65 0h8m-53 1h8m-25 1h8m18 0h8m68 0h8m-333 1h8m224 0h8m-293 1h8m260 0h8m11 0h8m-278 1h8m-35 1h8m-6 0h8m22 0h8m233 0h8m1 0h8m-286 1h8m0 0h8m18 0h8m217 0h8m4 1h8m12 0h8m-271 1h8m186 0h8m-225 1h8m212 0h8m23 0h8m-276 1h8m261 0h8m-242 1h8m203 0h8m40 0h8m-292 1h8m238 0h8m12 0h8m-259 2h8m-5 0h8m3 0h8m-16 2h8m241 0h8m-255 2h8m-3 0h8m267 0h8m-279 2h8m217 0h8m44 1h8m-95 4h8m43 4h8m20 0h8m-24 4h8m-277 2h8m203 0h8m14 0h8m-231 11h8m198 0h8m-50 19h8" stroke="#23237f" stroke-width="8" stroke-opacity="0.55"/>
<path transform="scale(.1)" d="M2637 3157h8m12 9h8m-53 4h8m31 2h8m-25 4h8m25 5h8m-32 9h8m-30 5h8m18 6h8m-41 4h8m11 0h8m-33 3h8m12 0h8m31 0h8m-62 1h8m12 1h8m-19 4h8m6 0h8m1 4h8m-19 1h8m-32 1h8m10 0h8m-16 1h8m15 2h8m24 1h8m-40 2h8m-53 1h8m25 0h8m5 1h8m-24 1h8m27 0h8m-27 3h8m21 0h8m-12 1h8m-46 1h8m-29 1h8m20 1h8m-45 1h8m26 0h8m-12 1h8m-4 0h8m-29 1h8m16 0h8m-14 1h8m-7 1h8m28 0h8m-46 4h8m-6 0h8m-14 1h8m14 1h8m-8 0h8m-22 1h8m14 0h8m-35 2h8m-28 1h8m23 0h8m-13 1h8m3 0h8m-3 2h8m-48 1h8m26 1h8m-27 1h8m-17 2h8m-3 0h8m-2 1h8m-2 0h8m21 1h8m-17 3h8m-28 1h8m10 0h8m-20 1h8m2 0h8m-19 1h8m13 0h8m-59 1h8m40 0h8m-8 1h8m-19 1h8m-1 3h8m-56 4h8m21 0h8m-1 1h8m-5 0h8m-15 2h8m-18 4h8m-4 1h8m-7 0h8m3 0h8m4 1h8m-30 2h8m7 1h8m1 2h8m-24 2h8m-5 1h8m-10 3h8m-4 3h8m-40 1h8m32 0h8m-42 1h8m20 1h8m-17 4h8m-31 3h8m15 3h8m-19 1h8m-10 2h8m-21 3h8m28 2h8m-36 3h8m-12 2h8m15 0h8m-28 1h8m14 1h8m5 6h8m-39 3h8m7 2h8m-10 6h8m-9 20h8m-13 143h8m250 11h8m34 3h8m19 0h8m-341 2h8m379 0h8m-77 1h8m-80 2h8m-16 1h8m92 1h8m-60 1h8m-71 1h8m46 0h8m18 0h8m9 0h8m36 1h8m-80 1h8m-25 2h8m-6 1h8m14 4h8m-299 1h8m236 0h8m8 0h8m46 0h8m-63 2h8m-286 1h8m13 0h8m12 0h8m208 0h8m-8 0h8m-6 0h8m-41 2h8m21 0h8m-15 1h8m30 0h8m-272 1h8m254 0h8m-22 1h8m-1 0h8m44 0h8m-343 1h8m11 0h8m-4 1h8m242 0h8m31 0h8m-8 0h8m-56 1h8m16 0h8m-297 1h8m296 0h8m-327 1h8m281 0h8m19 0h8m23 0h8m-304 2h8m232 0h8m-288 2h8m22 0h8m317 0h8m-353 1h8m-3 0h8m-3 0h8m13 0h8m200 1h8m-6 0h8m59 1h8m-307 1h8m-3 0h8m224 0h8m0 0h8m2 0h8m6 0h8m49 0h8m-343 1h8m239 0h8m20 0h8m5 0h8m23 0h8m-93 1h8m53 0h8m-284 1h8m238 0h8m41 0h8m-292 1h8m-7 0h8m215 0h8m12 0h8m-12 1h8m-3 0h8m5 0h8m3 0h8m-6 0h8m-311 1h8m237 0h8m72 0h8m-335 1h8m207 0h8m57 0h8m-2 2h8m-28 1h8m-17 1h8m-254 1h8m207 0h8m25 0h8m-251 1h8m16 0h8m-3 0h8m220 0h8m-268 1h8m-2 0h8m-6 0h8m-2 0h8m189 0h8m15 0h8m92 0h8m13 0h8m-145 1h8m-18 1h8m55 0h8m2 0h8m-279 1h8m0 1h8m-7 0h8m222 0h8m-25 1h8m-11 1h8m30 0h8m-284 1h8m232 0h8m34 0h8m-276 1h8m241 0h8m-272 1h8m10 0h8m218 0h8m50 0h8m-38 1h8m-281 1h8m280 1h8m29 0h8m-73 2h8m15 1h8m-4 0h8m37 0h8m-305 1h8m-41 1h8m20 0h8m174 0h8m24 1h8m-229 1h8m-28 1h8m264 0h8m-15 1h8m-252 1h8m194 0h8m-217 1h8m172 1h8m25 2h8m-207 1h8m217 0h8m7 0h8m-48 2h8m-243 1h8m1 0h8m232 1h8m44 1h8m-82 1h8m-197 2h8m197 0h8m-248 2h8m203 1h8m34 3h8m-237 6h8" stroke="#23237f" stroke-width="8" stroke-opacity="0.55"/>
<rect x="252.2" y="313.0" width="26.4" height="23.5" fill="none" stroke="#6a6a6a" stroke-width="0.65"/>
<rect x="278.3" y="341.6" width="25.9" height="23.1" fill="none" stroke="#6a6a6a" stroke-width="0.65"/>
<line x1="177.4" y1="377.4" x2="177.4" y2="354.8" stroke="#000" stroke-width="1.1"/>
<line x1="176.8" y1="376.9" x2="197.6" y2="376.9" stroke="#000" stroke-width="1.1"/>
<path d="M177.4,350.8 L179.7,355.8 L177.4,354.3 L175.1,355.8 z" fill="#000"/>
<path d="M201.6,376.9 L196.6,379.2 L198.1,376.9 L196.6,374.6 z" fill="#000"/>
<text x="173.0" y="363.3" font-size="9.0" fill="#2a2a2a" color="#2a2a2a" text-anchor="middle" textLength="13.2" lengthAdjust="spacingAndGlyphs" transform="rotate(-90 173.0 363.3)">Gr 1</text>
<text x="179.2" y="386.9" font-size="8.8" fill="#2a2a2a" color="#2a2a2a" textLength="22.0" lengthAdjust="spacingAndGlyphs">Ter119</text>
<text x="249.5" y="427.3" font-size="9.0" fill="#2a2a2a" color="#2a2a2a" text-anchor="middle" textLength="27.9" lengthAdjust="spacingAndGlyphs">Spleen</text>
<line x1="201.0" y1="433.1" x2="297.8" y2="433.1" stroke="#444" stroke-width="1.2"/>
<rect x="207.7" y="436.5" width="19.8" height="10.2" fill="#2b4a8b"/>
<text x="217.6" y="443.9" font-size="6.6" fill="#fff" color="#fff" style="stroke-width:0" text-anchor="middle">WT</text>
<rect x="271.3" y="436.3" width="20.1" height="10.3" fill="#b3173c"/>
<text x="280.2" y="443.8" font-size="6.6" fill="#fff" color="#fff" style="stroke-width:0" text-anchor="middle" font-style="italic">Ent1<tspan dy="-2.4" font-size="3.8">-/-</tspan></text>
<rect x="181.6" y="450.3" width="65.7" height="67.0" fill="none" stroke="#8a8a8a" stroke-width="0.9"/>
<rect x="251.6" y="450.3" width="65.7" height="67.0" fill="none" stroke="#8a8a8a" stroke-width="0.9"/>
<path transform="scale(.1)" d="M2166 4518h8m-103 10h8m213 6h8m-56 4h8m46 0h8m-334 2h8m266 7h8m16 3h8m-164 2h8m129 0h8m-227 2h8m286 0h8m-240 2h8m-62 6h8m16 1h8m122 1h8m87 0h8m21 0h8m-234 1h8m-48 2h8m-30 1h8m97 2h8m105 1h8m-201 3h8m174 0h8m-250 1h8m293 0h8m-263 3h8m203 0h8m-149 2h8m90 0h8m1 0h8m-119 1h8m-100 1h8m227 0h8m28 1h8m-169 1h8m139 0h8m-332 1h8m326 0h8m-154 1h8m-1 0h8m71 1h8m-130 1h8m21 0h8m18 1h8m-47 1h8m-145 1h8m198 0h8m-156 1h8m111 0h8m82 0h8m-171 2h8m174 1h8m-272 1h8m56 0h8m-4 0h8m194 0h8m-36 1h8m47 0h8m-337 1h8m91 0h8m102 1h8m42 0h8m-238 1h8m197 0h8m-162 3h8m95 1h8m120 0h8m-2 0h8m-282 2h8m51 0h8m102 0h8m-124 1h8m172 0h8m79 1h8m-243 1h8m202 0h8m-71 2h8m8 0h8m23 0h8m-61 1h8m-177 1h8m137 1h8m79 0h8m-66 4h8m-160 1h8m52 1h8m138 0h8m22 0h8m-210 1h8m8 1h8m120 0h8m-166 1h8m148 0h8m-184 2h8m137 1h8m58 0h8m-238 1h8m120 1h8m80 2h8m98 0h8m-148 2h8m-211 1h8m205 0h8m-43 1h8m-229 1h8m16 0h8m180 0h8m49 0h8m-316 1h8m115 0h8m74 0h8m68 0h8m-29 1h8m-262 1h8m260 0h8m43 0h8m-257 2h8m20 0h8m-153 2h8m68 0h8m-171 4h8m369 0h8m100 0h8m25 0h8m-261 1h8m144 0h8m-25 2h8m-9 2h8m-8 0h8m12 1h8m-254 1h8m71 2h8m-89 3h8m-6 0h8m238 3h8m19 0h8m-224 3h8m218 1h8m-310 1h8m74 0h8m186 0h8m28 0h8m-4 2h8m-210 2h8m133 0h8m8 0h8m6 3h8m-100 1h8m-230 1h8m113 0h8m-132 2h8m75 1h8m154 0h8m22 0h8m74 0h8m-342 2h8m-78 1h8m309 0h8m10 0h8m-207 1h8m-33 1h8m238 0h8m0 2h8m-8 0h8m-3 2h8m-347 2h8m301 0h8m-242 1h8m80 2h8m57 0h8m91 0h8m-263 1h8m-47 4h8m44 0h8m70 0h8m30 0h8m63 1h8m-186 1h8m189 0h8m-181 4h8m262 1h8m-402 3h8m22 0h8m11 1h8m295 0h8m-355 1h8m95 0h8m345 0h8m-360 1h8m2 0h8m-29 2h8m-61 1h8m121 1h8m77 0h8m-80 1h8m-169 2h8m245 0h8m29 0h8m21 0h8m-221 1h8m-45 1h8m105 0h8m-243 1h8m331 0h8m-192 2h8m175 0h8m-311 1h8m191 0h8m-81 1h8m109 0h8m-127 2h8m-142 1h8m111 0h8m-132 1h8m47 1h8m322 0h8m-292 1h8m1 0h8m229 0h8m-305 1h8m-5 1h8m38 0h8m129 0h8m-175 1h8m-7 0h8m-74 1h8m103 0h8m-117 1h8m82 0h8m100 0h8m-212 1h8m111 0h8m153 0h8m-318 1h8m207 0h8m-143 1h8m67 0h8m19 0h8m165 0h8m-241 1h8m24 0h8m-80 1h8m60 0h8m123 0h8m-220 1h8m9 0h8m87 0h8m-77 1h8m63 0h8m5 1h8m36 0h8m-163 1h8m142 0h8m43 1h8m-142 1h8m-87 1h8m33 0h8m233 0h8m-119 1h8m-3 0h8m-207 1h8m115 0h8m-77 1h8m222 0h8m-281 1h8m103 0h8m-6 0h8m14 0h8m6 1h8m-121 1h8m210 1h8m-278 1h8m121 0h8m-10 1h8m6 0h8m-130 1h8m26 0h8m-51 1h8m46 0h8m74 0h8m40 0h8m81 0h8m-320 1h8m162 0h8m48 0h8m145 0h8m-145 1h8m-196 1h8m1 0h8m223 0h8m31 1h8m-40 3h8m-206 1h8m113 0h8m70 0h8m-240 1h8m252 0h8m-144 1h8m4 0h8m23 1h8m-152 1h8m48 0h8m111 0h8m36 0h8m-3 1h8m-288 1h8m22 0h8m22 0h8m91 0h8m0 0h8m-195 3h8m115 0h8m184 0h8m-5 0h8m-6 1h8m1 0h8m-242 2h8m150 0h8m33 2h8m-143 1h8m9 1h8m-109 1h8m90 0h8m19 0h8m-242 1h8m52 0h8m225 0h8m-262 1h8m38 0h8m119 0h8m22 1h8m46 0h8m39 0h8m-5 0h8m-324 1h8m24 2h8m89 1h8m-79 1h8m78 1h8m136 0h8m22 0h8m-281 1h8m228 0h8m-165 1h8m166 0h8m-21 1h8m-201 1h8m-122 1h8m51 0h8m278 0h8m-298 1h8m47 1h8m75 0h8m-142 1h8m294 0h8m-323 1h8m42 0h8m-34 1h8m235 0h8m-235 1h8m113 0h8m-47 1h8m27 0h8m2 0h8m30 1h8m99 0h8m-231 3h8m-4 0h8m-88 3h8m89 1h8m-155 1h8m18 0h8m26 0h8m8 0h8m-5 0h8m23 0h8m155 0h8m35 0h8m-163 1h8m156 0h8m-273 1h8m-25 1h8m260 0h8m-308 1h8m268 0h8m-106 2h8m106 0h8m49 0h8m-116 2h8m-69 2h8m61 0h8m-225 1h8m-8 0h8m38 0h8m44 0h8m-89 1h8m96 0h8m-13 1h8m166 1h8m-322 1h8m106 0h8m-122 1h8m16 0h8m253 0h8m35 0h8m-149 1h8m101 0h8m16 1h8m19 1h8m-337 1h8m273 0h8m-334 1h8m11 1h8m34 4h8m207 2h8m-209 1h8m242 0h8m-297 2h8m19 0h8m229 0h8m-219 2h8m213 0h8m-291 1h8m14 0h8m34 1h8m-13 1h8m261 0h8m-333 1h8m14 0h8m210 0h8m34 0h8m-37 1h8m54 0h8m-305 1h8m-11 3h8m5 0h8m2 1h8m0 3h8m106 0h8m-166 1h8m17 1h8m55 0h8m183 0h8m12 0h8m-1 2h8m-10 3h8m-280 1h8m-7 0h8m172 1h8m60 3h8m-4 0h8m-299 1h8m-3 1h8m269 0h8m-10 3h8m-242 1h8m22 0h8m8 0h8m-138 1h8m108 0h8m-51 1h8m268 0h8m-274 1h8m31 2h8m199 1h8m-243 1h8m-32 1h8m-67 2h8m42 1h8m176 2h8m-222 1h8m43 2h8m-28 3h8m254 0h8m-249 2h8m-13 2h8m49 0h8m111 1h8m-5 1h8m134 0h8m-264 1h8m267 0h8m-303 1h8m-23 3h8m0 0h8m202 0h8m32 4h8m-278 2h8m-34 3h8m251 0h8m-223 1h8m-47 4h8m172 2h8m-202 2h8m-6 0h8m6 0h8m-37 5h8m61 8h8m-68 1h8m15 6h8m-24 1h8m6 0h8m19 0h8m247 3h8m-292 1h8m-20 5h8m27 1h8m-10 7h8m-1 2h8m171 1h8m13 5h8m-30 1h8m76 1h8m-87 1h8m-236 1h8m10 1h8m306 0h8m-74 2h8m-282 6h8m268 0h8m-216 2h8m-7 0h8m-13 1h8m180 0h8m27 5h8m-68 1h8m9 1h8m19 1h8m-45 1h8m20 1h8m-95 2h8m17 0h8m50 0h8m-2 0h8m-29 1h8m12 1h8m16 0h8m40 1h8m-92 2h8m40 1h8m-65 1h8m6 0h8m30 0h8m-82 1h8m56 0h8m-42 1h8m56 1h8m-37 1h8m59 0h8m-62 1h8m-95 1h8m48 0h8m17 1h8m74 1h8m-201 1h8m35 0h8m15 1h8m-233 1h8m172 0h8m46 0h8m3 0h8m99 1h8m-313 1h8m90 0h8m92 0h8m67 0h8m-80 1h8m-7 0h8m9 1h8m2 0h8m-99 1h8m53 0h8m27 0h8m-115 1h8m93 0h8m2 0h8m-156 1h8m75 0h8m11 0h8m79 0h8m-194 1h8m136 0h8m-2 0h8m-214 1h8m96 0h8m71 0h8m-295 1h8m157 0h8m75 1h8m30 0h8m-44 1h8m-22 1h8m44 0h8m59 1h8m-119 1h8m51 1h8m40 0h8m-309 1h8m176 0h8m9 0h8m-54 1h8m14 0h8m21 0h8m107 0h8m-122 1h8m-31 2h8m-284 2h8m298 1h8m-71 2h8m49 3h8m69 1h8m-46 1h8m-47 1h8m10 0h8m-25 1h8m56 0h8m-130 2h8m85 3h8m-74 6h8m-2 1h8m-204 5h8m196 1h8m-219 7h8m205 3h8m-155 49h8m96 22h8" stroke="#3a3ab0" stroke-width="8" stroke-opacity="0.35"/>
<path transform="scale(.1)" d="M2205 4528h8m87 0h8m-202 1h8m109 4h8m27 5h8m-1 5h8m16 0h8m-39 9h8m-2 0h8m-155 2h8m-64 4h8m154 2h8m16 1h8m-222 5h8m30 1h8m20 0h8m169 3h8m1 3h8m-219 1h8m190 0h8m-92 3h8m-203 1h8m296 0h8m-96 3h8m-149 1h8m40 0h8m174 0h8m-3 0h8m-68 4h8m88 0h8m-151 3h8m60 0h8m-203 2h8m76 0h8m137 0h8m-296 2h8m281 0h8m-348 1h8m296 0h8m30 0h8m-231 1h8m-8 1h8m39 0h8m-158 1h8m98 0h8m136 0h8m-181 2h8m110 0h8m62 0h8m-7 0h8m32 0h8m-77 1h8m22 0h8m-332 1h8m153 0h8m58 1h8m-101 1h8m198 1h8m-183 1h8m-65 1h8m220 1h8m-33 1h8m-6 0h8m-8 0h8m46 0h8m-49 1h8m-219 1h8m47 0h8m129 2h8m-135 1h8m100 0h8m15 0h8m-5 0h8m70 1h8m-64 1h8m-96 2h8m67 1h8m-16 1h8m-86 1h8m136 1h8m-10 1h8m-72 2h8m54 1h8m-29 1h8m-8 2h8m-306 1h8m19 0h8m76 0h8m150 0h8m-234 1h8m246 0h8m-290 2h8m297 0h8m-336 1h8m83 1h8m143 1h8m17 2h8m11 2h8m-162 2h8m66 0h8m5 0h8m103 0h8m-225 1h8m96 0h8m88 0h8m-89 1h8m-145 1h8m-96 2h8m312 0h8m-47 1h8m-314 2h8m202 0h8m85 0h8m-184 1h8m209 0h8m-60 1h8m-263 1h8m208 0h8m-82 1h8m71 2h8m49 0h8m-298 3h8m-4 0h8m293 3h8m23 0h8m-86 1h8m17 0h8m-168 1h8m-112 1h8m219 0h8m-25 2h8m17 0h8m17 0h8m-176 1h8m-109 3h8m223 1h8m40 0h8m-110 1h8m-193 1h8m63 0h8m116 1h8m-95 2h8m170 0h8m-308 1h8m4 1h8m63 1h8m208 0h8m-301 2h8m44 0h8m20 0h8m-68 1h8m-113 1h8m34 3h8m157 0h8m-108 1h8m188 0h8m-100 1h8m84 0h8m-252 1h8m52 1h8m126 0h8m100 3h8m-297 1h8m112 0h8m178 0h8m-247 1h8m-53 2h8m272 0h8m-221 2h8m31 0h8m177 0h8m11 1h8m-305 1h8m-19 1h8m55 0h8m101 0h8m48 0h8m7 0h8m-267 1h8m21 0h8m274 0h8m-178 1h8m218 1h8m-227 1h8m48 0h8m-172 1h8m61 2h8m204 0h8m-324 1h8m117 0h8m104 0h8m28 0h8m40 1h8m-225 1h8m-9 2h8m92 0h8m-89 1h8m-144 1h8m88 0h8m191 0h8m-165 1h8m9 0h8m133 0h8m-169 1h8m24 0h8m-134 1h8m121 0h8m50 0h8m32 0h8m40 0h8m-331 3h8m16 0h8m30 0h8m-7 0h8m-85 1h8m40 0h8m27 1h8m-13 1h8m207 0h8m-213 1h8m-52 1h8m77 0h8m-70 1h8m87 1h8m14 0h8m11 0h8m-129 1h8m38 0h8m89 0h8m-108 1h8m157 2h8m34 0h8m-280 1h8m200 0h8m-4 1h8m-269 1h8m7 0h8m61 2h8m18 2h8m232 0h8m-333 1h8m45 0h8m-64 1h8m81 0h8m-105 1h8m56 1h8m50 0h8m167 0h8m-292 2h8m19 0h8m210 0h8m-291 1h8m32 2h8m90 1h8m-146 1h8m10 0h8m261 0h8m-280 1h8m247 0h8m-106 1h8m121 0h8m29 0h8m-347 1h8m47 1h8m73 0h8m86 1h8m63 0h8m-297 1h8m5 0h8m36 0h8m195 0h8m-201 1h8m188 0h8m29 0h8m-189 1h8m130 0h8m-190 1h8m32 0h8m10 0h8m-94 1h8m205 0h8m-10 1h8m-169 1h8m-142 1h8m79 0h8m-5 0h8m-1 0h8m60 0h8m119 0h8m-225 1h8m73 1h8m112 1h8m-188 1h8m3 0h8m109 0h8m41 1h8m39 0h8m-211 1h8m172 0h8m-123 1h8m90 0h8m58 0h8m-283 1h8m72 0h8m32 0h8m96 1h8m9 0h8m-79 1h8m98 0h8m-130 2h8m-177 2h8m-9 1h8m191 0h8m110 0h8m-223 1h8m163 1h8m-295 1h8m288 0h8m-187 1h8m-50 1h8m87 0h8m94 0h8m3 0h8m14 1h8m191 0h8m-509 1h8m236 0h8m5 0h8m5 1h8m25 0h8m-301 1h8m123 0h8m-4 0h8m43 1h8m-32 2h8m87 1h8m31 0h8m-294 1h8m248 0h8m-293 1h8m193 0h8m57 0h8m11 0h8m-246 1h8m51 1h8m109 0h8m75 0h8m-263 1h8m41 0h8m-99 1h8m340 0h8m-251 1h8m179 0h8m-282 1h8m233 0h8m15 0h8m-46 1h8m-254 1h8m105 0h8m-65 1h8m-7 0h8m-45 1h8m107 0h8m124 0h8m21 0h8m-108 1h8m50 0h8m28 0h8m35 0h8m-342 1h8m239 0h8m-153 1h8m132 0h8m-130 1h8m-52 2h8m153 0h8m12 0h8m55 0h8m7 1h8m-185 2h8m146 0h8m-328 1h8m-43 1h8m333 0h8m-159 1h8m88 0h8m19 0h8m-138 2h8m105 0h8m-213 1h8m109 0h8m7 0h8m106 0h8m-245 1h8m-2 0h8m158 0h8m80 1h8m-289 1h8m189 1h8m6 0h8m31 0h8m18 0h8m-288 1h8m15 0h8m-7 0h8m-9 1h8m209 0h8m-295 1h8m286 0h8m-371 1h8m103 0h8m218 0h8m-50 1h8m67 0h8m-59 2h8m-183 1h8m254 2h8m-332 1h8m157 0h8m-19 1h8m71 0h8m-211 1h8m48 0h8m-95 2h8m228 0h8m24 1h8m-265 2h8m2 0h8m-8 1h8m-4 0h8m171 0h8m48 0h8m1 0h8m20 0h8m-265 1h8m-66 1h8m77 0h8m206 1h8m-48 2h8m-218 1h8m27 0h8m187 0h8m-14 4h8m-220 1h8m226 4h8m-263 1h8m-19 3h8m240 0h8m39 2h8m-271 1h8m202 0h8m-2 0h8m-34 2h8m21 0h8m3 0h8m2 0h8m-256 2h8m214 0h8m-262 2h8m20 0h8m231 4h8m-279 2h8m245 0h8m-265 1h8m283 2h8m-1 2h8m-255 1h8m-65 5h8m51 2h8m-42 3h8m219 0h8m-213 2h8m217 0h8m-241 2h8m39 1h8m139 0h8m-204 2h8m264 1h8m-65 1h8m52 0h8m-50 1h8m-6 0h8m-226 1h8m-53 1h8m248 0h8m-3 0h8m28 0h8m-285 1h8m212 0h8m-205 1h8m-19 1h8m35 0h8m192 1h8m-243 2h8m-36 2h8m13 0h8m174 0h8m-177 1h8m-49 4h8m439 4h8m-279 2h8m101 1h8m-232 2h8m201 0h8m-238 3h8m80 2h8m-143 4h8m47 1h8m16 3h8m-37 3h8m136 3h8m2 1h8m70 1h8m-285 2h8m205 0h8m-197 1h8m-15 1h8m181 1h8m59 2h8m-295 3h8m30 2h8m7 0h8m5 0h8m0 0h8m202 1h8m-294 1h8m183 0h8m87 3h8m-225 1h8m171 1h8m57 3h8m-93 2h8m82 1h8m-31 4h8m-48 2h8m9 0h8m12 1h8m-52 1h8m113 0h8m-302 1h8m301 2h8m-70 1h8m-135 2h8m45 0h8m29 0h8m41 1h8m-293 1h8m192 0h8m-63 3h8m45 0h8m41 0h8m33 0h8m9 1h8m-25 1h8m-77 2h8m17 1h8m35 0h8m-127 1h8m15 1h8m37 0h8m2 1h8m22 0h8m-221 1h8m161 3h8m-45 1h8m9 0h8m3 0h8m17 0h8m3 0h8m5 0h8m-8 0h8m20 0h8m-110 1h8m62 0h8m-326 1h8m294 0h8m-84 1h8m97 0h8m-131 2h8m23 1h8m22 0h8m-73 1h8m107 1h8m-42 2h8m25 2h8m-132 1h8m59 0h8m92 0h8m-95 1h8m56 0h8m-113 1h8m105 0h8m13 1h8m-120 2h8m-24 1h8m195 0h8m-146 3h8m40 2h8m-68 2h8m8 0h8m-42 1h8m22 1h8m-59 2h8m-66 1h8m36 0h8m64 0h8m-3 2h8m13 3h8m-65 1h8m-3 0h8m-72 2h8m15 3h8m23 0h8m-4 0h8m-16 2h8m-160 2h8m214 1h8m-58 1h8m33 1h8m-47 1h8m-94 1h8m118 2h8m-314 1h8m300 0h8m-54 5h8m-348 52h8m175 33h8m222 3h8" stroke="#3a3ab0" stroke-width="8" stroke-opacity="0.35"/>
<path transform="scale(.1)" d="M2017 4520h8m20 2h8m-124 1h8m80 3h8m236 8h8m0 1h8m-95 6h8m37 0h8m-193 3h8m207 1h8m-162 5h8m136 0h8m36 2h8m-38 3h8m40 4h8m-289 1h8m2 1h8m184 0h8m32 1h8m-249 2h8m-12 1h8m198 0h8m-177 2h8m55 0h8m-59 2h8m178 2h8m-311 2h8m286 0h8m-27 1h8m-221 1h8m15 0h8m216 0h8m-186 1h8m38 0h8m-25 1h8m141 0h8m-65 2h8m6 0h8m4 1h8m-132 1h8m120 1h8m-199 1h8m0 1h8m149 0h8m44 0h8m-54 1h8m-72 2h8m14 0h8m-67 1h8m184 1h8m-227 1h8m34 0h8m143 0h8m-45 1h8m-217 2h8m162 3h8m96 1h8m-335 1h8m247 0h8m42 0h8m-189 1h8m140 1h8m14 0h8m-160 1h8m-25 1h8m91 0h8m-210 1h8m85 1h8m-17 1h8m70 0h8m50 0h8m23 2h8m56 0h8m-208 4h8m143 0h8m-18 2h8m-143 1h8m138 0h8m-204 1h8m168 1h8m-146 2h8m122 2h8m-39 1h8m-13 1h8m-36 2h8m97 0h8m-201 2h8m180 0h8m-219 1h8m123 0h8m37 1h8m22 0h8m-283 1h8m349 0h8m-347 1h8m54 2h8m136 0h8m36 1h8m-52 1h8m22 0h8m23 0h8m-30 2h8m-25 1h8m-77 2h8m-229 1h8m0 0h8m191 0h8m73 1h8m-128 1h8m-172 4h8m370 0h8m-286 1h8m131 2h8m-124 1h8m-128 1h8m10 0h8m184 0h8m-254 1h8m103 0h8m250 1h8m-196 1h8m-144 1h8m265 0h8m11 0h8m-56 1h8m-230 1h8m-85 1h8m25 0h8m193 0h8m74 0h8m25 0h8m4 0h8m-245 1h8m201 0h8m-301 4h8m186 0h8m-160 2h8m50 0h8m131 1h8m14 0h8m17 0h8m103 0h8m-102 1h8m-266 1h8m5 0h8m158 3h8m43 1h8m-271 1h8m-6 0h8m-32 1h8m299 0h8m-34 1h8m-96 2h8m-149 1h8m198 1h8m17 1h8m12 2h8m-165 1h8m107 0h8m40 0h8m-182 2h8m59 1h8m89 2h8m-5 0h8m-2 3h8m-218 1h8m150 2h8m-280 2h8m113 4h8m202 0h8m-169 1h8m88 0h8m36 0h8m-276 1h8m228 0h8m30 0h8m33 0h8m2 0h8m-251 1h8m-32 1h8m-59 3h8m232 0h8m34 0h8m-303 2h8m210 0h8m66 0h8m-314 3h8m17 1h8m-32 2h8m127 1h8m-122 1h8m16 0h8m-3 1h8m-49 1h8m100 2h8m139 0h8m72 1h8m17 0h8m-249 1h8m142 0h8m-251 1h8m5 0h8m66 1h8m129 2h8m-3 1h8m23 1h8m-23 1h8m-277 1h8m267 0h8m-236 1h8m117 0h8m5 1h8m12 0h8m-217 2h8m178 0h8m-39 2h8m107 0h8m-6 0h8m-307 1h8m37 0h8m0 0h8m7 0h8m77 0h8m116 0h8m-251 1h8m98 0h8m21 2h8m95 0h8m-200 1h8m-52 1h8m118 0h8m7 0h8m126 0h8m39 1h8m-298 1h8m101 0h8m-121 1h8m98 0h8m-200 1h8m188 0h8m126 0h8m-288 1h8m-50 1h8m296 0h8m-161 1h8m45 0h8m12 0h8m71 0h8m-8 0h8m-300 1h8m69 0h8m198 0h8m23 0h8m-299 1h8m66 0h8m223 1h8m-316 1h8m120 0h8m-127 1h8m147 0h8m122 0h8m-50 1h8m-103 1h8m-70 1h8m206 0h8m-342 2h8m93 0h8m-68 1h8m85 0h8m-120 1h8m3 1h8m6 0h8m62 0h8m34 0h8m60 0h8m6 0h8m62 0h8m-172 1h8m77 0h8m92 0h8m-127 1h8m65 0h8m-253 1h8m77 0h8m12 0h8m-86 1h8m27 0h8m148 0h8m26 0h8m42 0h8m-327 1h8m-24 1h8m42 0h8m80 0h8m-5 0h8m-7 0h8m14 0h8m10 0h8m15 0h8m-67 1h8m120 0h8m6 0h8m-4 0h8m-245 1h8m74 0h8m141 0h8m-305 1h8m278 0h8m-243 1h8m62 1h8m154 0h8m0 0h8m-126 1h8m9 1h8m-7 0h8m29 0h8m-51 1h8m30 1h8m44 0h8m27 0h8m-245 2h8m-7 0h8m-80 1h8m32 0h8m-8 1h8m6 0h8m243 0h8m-316 1h8m113 0h8m131 0h8m-30 2h8m-254 1h8m138 0h8m121 0h8m-7 0h8m-1 1h8m23 0h8m-10 1h8m-90 1h8m-71 1h8m41 0h8m22 0h8m25 0h8m37 0h8m-182 2h8m84 0h8m-171 1h8m-54 3h8m16 0h8m14 0h8m-18 2h8m17 0h8m70 1h8m73 0h8m63 2h8m-18 1h8m-194 1h8m41 0h8m120 0h8m-283 1h8m255 0h8m-151 1h8m-11 1h8m-115 1h8m6 0h8m257 0h8m-289 1h8m58 0h8m162 0h8m223 1h8m-452 1h8m-4 1h8m248 0h8m-254 1h8m124 0h8m122 0h8m-293 1h8m22 0h8m-65 1h8m80 0h8m57 1h8m-30 2h8m119 0h8m-12 1h8m1 0h8m-8 0h8m-7 0h8m17 0h8m-33 1h8m6 0h8m-235 1h8m198 1h8m19 1h8m0 1h8m-271 1h8m20 0h8m1 0h8m244 0h8m-206 1h8m208 0h8m-314 1h8m26 0h8m219 2h8m9 2h8m-230 1h8m224 0h8m-137 1h8m136 0h8m-325 2h8m1 0h8m196 1h8m-220 1h8m-19 1h8m33 0h8m83 0h8m15 0h8m166 0h8m-334 1h8m159 0h8m-189 1h8m46 0h8m-34 3h8m-7 0h8m221 0h8m-270 1h8m2 0h8m235 0h8m-246 1h8m273 0h8m-3 0h8m-7 1h8m-2 0h8m-268 1h8m244 1h8m-247 1h8m133 0h8m121 1h8m-253 1h8m139 0h8m-61 1h8m-174 1h8m258 0h8m-271 1h8m14 0h8m5 2h8m-10 1h8m219 1h8m-236 1h8m-47 2h8m266 0h8m36 1h8m-287 1h8m243 0h8m-275 2h8m274 0h8m12 0h8m-287 3h8m152 1h8m78 0h8m-280 1h8m-2 0h8m-19 1h8m1 1h8m6 0h8m-28 4h8m292 0h8m9 2h8m1 0h8m-62 1h8m-168 1h8m147 0h8m-252 2h8m265 0h8m-239 1h8m-90 1h8m219 1h8m10 0h8m-278 2h8m-19 2h8m288 1h8m134 1h8m-359 1h8m-74 1h8m315 1h8m-270 2h8m182 0h8m-224 1h8m26 1h8m-77 1h8m10 0h8m-6 1h8m27 3h8m205 0h8m-228 1h8m-57 1h8m66 4h8m-88 1h8m20 2h8m58 0h8m244 0h8m-320 2h8m78 2h8m-90 1h8m56 0h8m281 0h8m-117 1h8m20 0h8m35 0h8m-377 3h8m30 1h8m44 0h8m-46 1h8m298 0h8m-57 1h8m-226 6h8m220 0h8m-286 4h8m16 0h8m46 0h8m194 3h8m-244 2h8m-11 3h8m-36 2h8m247 3h8m27 1h8m-60 2h8m-278 1h8m45 0h8m-49 2h8m29 0h8m-33 3h8m42 3h8m-34 1h8m254 4h8m-104 2h8m86 6h8m-256 1h8m173 0h8m47 2h8m-3 2h8m-287 2h8m167 0h8m123 0h8m-89 4h8m-109 3h8m124 2h8m120 0h8m-146 1h8m24 1h8m23 1h8m25 1h8m-79 3h8m50 0h8m-138 4h8m50 0h8m-55 1h8m-68 1h8m113 0h8m31 0h8m-110 1h8m12 0h8m102 0h8m-98 1h8m-5 0h8m-118 1h8m144 0h8m-154 1h8m129 0h8m62 1h8m-120 1h8m44 1h8m71 0h8m-82 1h8m-39 3h8m-7 0h8m-27 2h8m3 0h8m30 0h8m6 0h8m-6 0h8m-146 1h8m44 0h8m45 0h8m-53 1h8m-2 0h8m88 0h8m-60 2h8m-5 1h8m69 0h8m23 0h8m-196 5h8m3 0h8m72 1h8m-55 1h8m6 0h8m29 0h8m-85 2h8m-70 1h8m99 0h8m-146 1h8m130 1h8m-25 1h8m37 0h8m-104 3h8m130 0h8m-321 1h8m172 1h8m75 1h8m0 0h8m25 1h8m44 1h8m-41 1h8m-147 3h8m-2 2h8m1 3h8m75 0h8m-81 1h8m109 1h8m-22 1h8m-176 2h8m150 2h8m-384 8h8m302 2h8m4 16h8m-56 2h8m14 14h8m17 0h8m-194 13h8" stroke="#3a3ab0" stroke-width="8" stroke-opacity="0.35"/>
<path transform="scale(.1)" d="M2263 4536h8m5 4h8m5 6h8m-54 14h8m38 1h8m-45 6h8m16 2h8m-14 1h8m-59 3h8m54 3h8m-10 2h8m0 1h8m6 1h8m-48 2h8m-29 3h8m13 0h8m9 0h8m-51 1h8m23 0h8m41 0h8m-111 1h8m51 0h8m-20 1h8m23 3h8m-43 2h8m15 1h8m-42 1h8m-20 2h8m33 0h8m-24 1h8m-38 2h8m36 1h8m-24 1h8m-6 0h8m1 0h8m-41 4h8m9 0h8m-32 2h8m9 0h8m-1 0h8m10 0h8m-60 3h8m33 1h8m6 0h8m-38 2h8m22 2h8m1 0h8m-13 1h8m-22 4h8m13 0h8m-22 4h8m-54 2h8m40 0h8m-8 1h8m0 5h8m-23 1h8m4 8h8m-9 1h8m-95 3h8m41 1h8m-16 2h8m16 3h8m-44 4h8m63 0h8m-59 5h8m-3 1h8m0 2h8m-34 7h8m-3 14h8m-264 8h8m222 0h8m-226 3h8m-8 2h8m280 4h8m-75 2h8m25 2h8m-251 1h8m225 1h8m1 5h8m-255 3h8m-27 5h8m253 2h8m-1 1h8m-308 1h8m22 2h8m-1 3h8m-21 1h8m269 0h8m-302 1h8m273 0h8m-7 0h8m-6 1h8m-279 1h8m-1 0h8m29 1h8m-27 1h8m-1 0h8m-27 2h8m254 0h8m-277 1h8m237 0h8m-238 2h8m259 3h8m-7 1h8m-317 5h8m17 1h8m-6 0h8m10 3h8m232 0h8m-272 3h8m-8 2h8m17 0h8m-5 0h8m236 1h8m-23 2h8m10 1h8m-282 1h8m-22 3h8m14 0h8m3 0h8m27 0h8m226 0h8m-270 1h8m-23 1h8m264 0h8m-277 1h8m-10 1h8m-15 1h8m-7 0h8m7 0h8m250 0h8m-274 1h8m257 0h8m-287 1h8m34 1h8m227 0h8m-3 0h8m14 0h8m-45 1h8m-294 1h8m-2 0h8m-4 0h8m17 0h8m-6 0h8m-27 1h8m0 0h8m259 0h8m-257 1h8m-32 2h8m6 1h8m-2 2h8m-15 1h8m278 2h8m-306 1h8m13 0h8m1 0h8m28 0h8m-45 1h8m-19 1h8m-2 0h8m-1 0h8m250 0h8m-295 1h8m285 0h8m-31 2h8m-28 3h8m-284 1h8m254 0h8m-224 3h8m7 0h8m-25 1h8m-2 0h8m-30 2h8m-5 1h8m7 1h8m233 1h8m-237 1h8m234 1h8m-278 1h8m6 0h8m231 3h8m-18 1h8m3 0h8m-2 0h8m-276 1h8m20 0h8m-13 1h8m248 2h8m-263 1h8m241 0h8m-253 1h8m226 2h8m18 0h8m-293 1h8m-3 0h8m1 1h8m248 0h8m-1 0h8m-299 1h8m285 0h8m-258 1h8m212 1h8m14 1h8m-28 3h8m-248 1h8m-32 1h8m40 0h8m-21 1h8m226 0h8m0 0h8m-259 2h8m242 0h8m11 0h8m3 1h8m-28 2h8m-2 0h8m-290 1h8m229 1h8m45 0h8m-326 5h8m37 0h8m-29 2h8m-1 0h8m248 0h8m33 0h8m5 1h8m-309 1h8m237 1h8m14 0h8m-287 1h8m6 0h8m-28 3h8m11 0h8m-8 1h8m5 0h8m229 2h8m-3 0h8m-24 2h8m-256 2h8m6 4h8m1 0h8m213 2h8m-254 1h8m0 0h8m6 5h8m-36 1h8m-2 0h8m-7 1h8m-5 1h8m3 1h8m222 3h8m-232 1h8m276 2h8m-54 2h8m-263 3h8m-7 0h8m6 0h8m221 0h8m18 1h8m-298 4h8m287 0h8m-2 0h8m-271 2h8m265 0h8m-277 1h8m217 0h8m-266 1h8m-12 1h8m6 1h8m252 0h8m-7 0h8m-5 1h8m11 1h8m-278 1h8m232 7h8m3 4h8m-4 1h8m-15 4h8m-21 1h8m-248 1h8m-23 1h8m290 1h8m-41 3h8m4 1h8m11 0h8m-295 1h8m246 0h8m-264 2h8m232 0h8m-3 0h8m-264 1h8m6 0h8m229 1h8m-231 3h8m268 5h8m-53 1h8m-277 2h8m12 1h8m257 1h8m13 4h8m-72 6h8m21 1h8m-263 1h8m-5 0h8m257 1h8m-268 7h8m265 5h8m-275 3h8m-8 2h8m239 0h8m-249 1h8m-10 5h8m-13 1h8m241 0h8m1 0h8m-18 2h8m-7 0h8m-274 1h8m0 0h8m192 1h8m-199 3h8m255 0h8m-33 1h8m-10 1h8m-247 2h8m252 1h8m-276 1h8m241 0h8m-2 0h8m12 0h8m5 0h8m-3 0h8m-40 2h8m4 0h8m-252 1h8m216 0h8m-8 3h8m11 0h8m-36 1h8m4 0h8m-58 1h8m11 0h8m33 0h8m-40 1h8m-213 1h8m178 1h8m11 0h8m19 0h8m-8 1h8m-5 1h8m-3 0h8m5 1h8m-83 1h8m22 0h8m1 0h8m-62 1h8m-6 0h8m93 0h8m-303 1h8m294 0h8m-31 2h8m-29 1h8m6 2h8m-7 0h8m-32 1h8m7 0h8m2 0h8m-32 2h8m-245 1h8m200 1h8m7 0h8m18 0h8m-6 0h8m-45 1h8m15 0h8m-6 0h8m42 0h8m-103 2h8m29 0h8m-2 0h8m37 0h8m-28 1h8m-32 1h8m4 0h8m23 0h8m1 0h8m-309 1h8m261 0h8m-7 0h8m7 0h8m27 0h8m-98 2h8m10 0h8m-8 0h8m-30 1h8m30 0h8m27 0h8m-67 2h8m-69 2h8m13 0h8m-200 2h8m199 0h8m100 0h8m-57 3h8m-277 7h8m251 0h8m9 1h8m15 1h8m-83 1h8m-219 43h8" stroke="#26269a" stroke-width="8" stroke-opacity="0.55"/>
<path transform="scale(.1)" d="M2260 4518h8m2 18h8m-36 14h8m41 5h8m-36 7h8m-52 2h8m48 5h8m-9 1h8m-13 1h8m-22 2h8m-12 3h8m-55 9h8m32 1h8m36 0h8m-45 5h8m23 2h8m-24 1h8m29 1h8m-55 3h8m-37 6h8m12 2h8m-8 1h8m4 0h8m-67 2h8m36 0h8m9 3h8m-28 1h8m3 0h8m10 3h8m6 0h8m-57 1h8m44 1h8m-49 2h8m-6 1h8m-25 3h8m30 0h8m12 0h8m-40 2h8m-11 1h8m-38 1h8m56 6h8m-65 1h8m13 0h8m28 3h8m-41 1h8m7 0h8m5 0h8m-79 2h8m40 0h8m41 0h8m-54 2h8m-14 1h8m27 0h8m-34 1h8m-1 9h8m20 0h8m-75 2h8m18 9h8m-52 1h8m54 0h8m-23 4h8m16 0h8m-329 3h8m333 6h8m-86 3h8m-280 1h8m280 1h8m-21 1h8m-19 3h8m-276 7h8m-8 0h8m11 8h8m-21 1h8m253 1h8m-268 1h8m-7 0h8m-13 6h8m27 2h8m257 0h8m-277 1h8m216 2h8m-9 1h8m-275 3h8m-1 1h8m24 1h8m244 0h8m-277 6h8m231 2h8m12 0h8m-22 1h8m17 0h8m-292 1h8m309 0h8m-58 1h8m-16 2h8m24 1h8m-1 3h8m-298 1h8m286 3h8m-294 2h8m264 1h8m-19 2h8m-291 1h8m287 0h8m-27 2h8m-285 2h8m0 0h8m34 0h8m-20 1h8m5 2h8m217 0h8m-275 1h8m282 0h8m-276 1h8m2 2h8m-6 0h8m241 0h8m-274 2h8m11 0h8m-6 0h8m224 0h8m33 0h8m-285 1h8m-39 1h8m7 0h8m248 0h8m-273 1h8m202 0h8m17 2h8m-246 1h8m246 0h8m-23 1h8m-236 1h8m11 0h8m226 0h8m14 0h8m-37 1h8m-31 1h8m-224 1h8m219 0h8m-1 0h8m-248 1h8m-6 0h8m266 0h8m-274 1h8m228 0h8m14 0h8m-277 1h8m-34 1h8m18 0h8m225 0h8m23 0h8m-281 1h8m-7 0h8m17 0h8m226 0h8m-3 0h8m-287 1h8m-7 0h8m23 0h8m-11 1h8m232 1h8m-243 1h8m17 1h8m180 0h8m9 1h8m-233 1h8m259 1h8m-33 2h8m13 0h8m-297 2h8m1 0h8m-6 0h8m9 0h8m242 0h8m16 0h8m-321 1h8m301 2h8m-303 1h8m231 0h8m-246 3h8m-6 1h8m-17 1h8m261 0h8m7 0h8m-6 0h8m-277 5h8m261 0h8m-286 1h8m9 0h8m6 1h8m-41 1h8m261 1h8m-260 2h8m7 0h8m263 0h8m-301 2h8m253 0h8m-257 2h8m244 1h8m-36 1h8m-275 2h8m11 1h8m-1 0h8m17 0h8m-50 1h8m8 0h8m255 0h8m-264 1h8m261 1h8m-275 2h8m-12 2h8m-1 0h8m235 0h8m-263 1h8m-22 1h8m-3 0h8m273 1h8m-298 1h8m276 0h8m-265 1h8m12 0h8m-55 1h8m236 2h8m-214 3h8m214 0h8m-251 1h8m263 0h8m-276 1h8m-13 5h8m4 1h8m4 1h8m-28 1h8m6 0h8m259 2h8m-8 1h8m-313 2h8m15 0h8m15 0h8m232 0h8m11 1h8m2 0h8m-297 2h8m258 0h8m-33 4h8m-248 1h8m9 2h8m228 2h8m-263 3h8m274 2h8m-284 2h8m229 0h8m-251 2h8m252 1h8m-264 1h8m244 0h8m16 0h8m-301 1h8m281 0h8m-6 2h8m-287 1h8m263 1h8m-53 1h8m-236 1h8m9 2h8m-19 1h8m0 1h8m246 1h8m-279 3h8m-18 1h8m253 0h8m15 1h8m4 6h8m-275 2h8m-12 1h8m239 2h8m-28 2h8m-232 2h8m-12 3h8m-5 3h8m215 1h8m-234 1h8m-8 0h8m12 2h8m236 0h8m-298 2h8m281 1h8m-33 1h8m-6 4h8m-270 1h8m4 0h8m237 5h8m-4 1h8m-260 1h8m15 1h8m217 0h8m8 0h8m-32 4h8m9 7h8m-246 1h8m-26 1h8m-4 0h8m9 6h8m236 0h8m-264 2h8m1 0h8m-8 1h8m-27 3h8m269 4h8m-22 1h8m-267 4h8m11 0h8m228 5h8m2 1h8m-272 3h8m271 1h8m-285 2h8m1 1h8m-26 3h8m228 2h8m23 3h8m-258 2h8m219 0h8m25 4h8m-5 0h8m-38 1h8m-6 0h8m-243 1h8m245 1h8m10 1h8m-71 1h8m1 0h8m9 0h8m-3 1h8m24 0h8m-285 1h8m-12 3h8m213 1h8m-1 0h8m12 0h8m14 0h8m-58 1h8m59 0h8m19 0h8m-105 2h8m14 0h8m-63 1h8m47 0h8m3 0h8m21 0h8m-42 1h8m17 0h8m-46 1h8m-22 1h8m-1 1h8m24 0h8m-7 0h8m-45 1h8m5 0h8m29 0h8m-256 1h8m177 0h8m8 0h8m-10 1h8m4 0h8m4 0h8m-122 1h8m64 0h8m35 0h8m36 1h8m-72 1h8m52 1h8m-74 1h8m15 0h8m-8 0h8m12 0h8m-5 1h8m0 0h8m-65 1h8m24 0h8m-49 1h8m29 0h8m5 0h8m-20 1h8m2 0h8m-8 0h8m36 0h8m-40 1h8m-19 1h8m-18 2h8m-47 1h8m64 0h8m-5 0h8m-104 1h8m47 0h8m27 1h8m-76 1h8m6 0h8m10 1h8m-42 1h8m-5 0h8m-4 0h8m-205 3h8m208 2h8m12 0h8m0 1h8m52 2h8m-45 8h8m-292 2h8m-6 26h8" stroke="#26269a" stroke-width="8" stroke-opacity="0.55"/>
<path transform="scale(.1)" d="M2252 4541h8m4 4h8m-24 2h8m-2 15h8m7 2h8m-59 6h8m34 1h8m-24 7h8m7 4h8m2 1h8m11 0h8m-45 1h8m-37 1h8m8 2h8m-28 1h8m17 4h8m27 1h8m-9 2h8m-56 8h8m8 2h8m10 0h8m8 1h8m-22 4h8m-63 4h8m28 2h8m13 0h8m-10 2h8m18 0h8m-331 1h8m260 0h8m8 0h8m5 0h8m-19 2h8m14 0h8m6 1h8m-33 2h8m-23 1h8m35 1h8m-44 2h8m-6 0h8m14 0h8m-50 3h8m27 1h8m-21 2h8m-1 0h8m-24 1h8m-20 4h8m-19 1h8m-2 0h8m18 1h8m6 0h8m-24 2h8m14 0h8m-26 4h8m-8 1h8m-34 1h8m20 4h8m30 0h8m-373 6h8m292 3h8m28 0h8m-45 1h8m-12 1h8m-12 2h8m-1 1h8m-7 1h8m27 1h8m-304 1h8m262 0h8m-48 2h8m-2 1h8m55 1h8m-314 3h8m-14 4h8m250 10h8m-281 1h8m278 0h8m0 2h8m-43 1h8m-256 1h8m0 5h8m-7 4h8m276 0h8m-10 1h8m-309 2h8m269 8h8m-239 3h8m228 1h8m-261 1h8m1 0h8m-17 1h8m226 3h8m-263 2h8m251 0h8m-255 2h8m19 1h8m207 2h8m-257 1h8m-5 0h8m248 0h8m-258 1h8m260 0h8m-281 3h8m273 1h8m-311 3h8m250 1h8m-263 1h8m250 0h8m18 5h8m-286 3h8m15 0h8m0 1h8m-4 3h8m-1 0h8m199 0h8m5 0h8m-257 1h8m243 0h8m-8 0h8m19 1h8m-290 4h8m0 1h8m-5 1h8m247 1h8m-268 2h8m260 0h8m-301 2h8m1 1h8m263 0h8m-12 1h8m-262 1h8m3 0h8m-45 1h8m0 1h8m28 1h8m-53 2h8m11 0h8m-1 2h8m270 0h8m-271 1h8m20 1h8m193 0h8m6 0h8m2 2h8m-19 2h8m8 0h8m11 0h8m-4 0h8m-32 1h8m-5 0h8m-294 2h8m3 0h8m6 0h8m8 0h8m233 0h8m0 0h8m-277 1h8m-8 0h8m259 0h8m-305 2h8m322 0h8m-290 1h8m246 1h8m-6 1h8m-282 1h8m1 0h8m-1 0h8m241 0h8m-275 2h8m222 0h8m6 1h8m-265 1h8m284 2h8m-59 1h8m34 0h8m-295 1h8m-3 0h8m-10 1h8m8 0h8m4 0h8m10 1h8m203 1h8m-6 0h8m-248 1h8m231 1h8m22 0h8m-6 3h8m-39 1h8m-232 1h8m-37 1h8m-2 1h8m259 0h8m6 0h8m-7 1h8m-24 2h8m-5 0h8m-264 1h8m-15 2h8m-23 2h8m272 1h8m-279 1h8m246 1h8m-4 0h8m-256 1h8m224 0h8m60 0h8m-315 2h8m-12 1h8m269 0h8m-299 1h8m-5 2h8m300 2h8m-281 5h8m-44 1h8m267 0h8m-283 1h8m35 1h8m-61 1h8m3 0h8m-2 4h8m263 3h8m1 0h8m-269 2h8m-48 2h8m255 1h8m17 0h8m-3 1h8m-286 1h8m278 1h8m-280 2h8m-3 2h8m-6 2h8m-20 1h8m-28 2h8m14 0h8m-6 0h8m-2 1h8m-51 2h8m23 0h8m-22 2h8m286 0h8m-298 1h8m259 5h8m21 1h8m-36 1h8m-268 5h8m0 0h8m254 1h8m-276 1h8m2 2h8m-7 1h8m-7 1h8m-1 0h8m222 0h8m-263 3h8m23 0h8m208 1h8m10 0h8m-6 0h8m1 0h8m-8 2h8m-269 2h8m-23 1h8m291 0h8m-294 1h8m273 0h8m-283 2h8m229 1h8m-243 2h8m29 0h8m205 0h8m-275 1h8m234 7h8m-234 2h8m256 0h8m-292 1h8m259 3h8m-257 2h8m262 1h8m-309 1h8m14 0h8m259 2h8m-272 1h8m0 2h8m-32 1h8m263 0h8m-22 3h8m13 3h8m-259 1h8m-6 0h8m-29 2h8m0 6h8m251 1h8m-29 2h8m-6 2h8m-262 1h8m-1 1h8m275 0h8m-312 4h8m17 1h8m2 0h8m3 0h8m-25 8h8m-5 1h8m-1 0h8m-22 2h8m4 1h8m-14 2h8m-6 0h8m243 2h8m-261 1h8m9 0h8m-6 1h8m259 2h8m-1 0h8m-297 1h8m-14 1h8m-9 2h8m297 0h8m-321 3h8m267 0h8m-266 1h8m-27 2h8m-18 5h8m262 0h8m-6 0h8m-62 1h8m22 0h8m62 0h8m-106 2h8m38 0h8m26 0h8m-101 1h8m78 0h8m-23 1h8m5 0h8m15 0h8m-89 1h8m-21 2h8m22 1h8m-45 1h8m5 0h8m7 0h8m-202 2h8m205 0h8m3 0h8m57 0h8m-144 1h8m42 2h8m9 0h8m-16 2h8m-256 1h8m241 0h8m-41 1h8m-212 1h8m191 0h8m28 1h8m-1 0h8m13 0h8m14 0h8m-67 1h8m23 0h8m-278 1h8m203 1h8m63 0h8m-52 2h8m-2 0h8m-27 1h8m47 0h8m2 0h8m7 0h8m-50 1h8m-262 1h8m215 0h8m-4 1h8m69 0h8m-39 1h8m-275 1h8m196 0h8m43 0h8m47 0h8m9 0h8m-173 1h8m10 0h8m57 0h8m18 0h8m-16 1h8m-257 1h8m213 0h8m11 0h8m-29 3h8m-57 2h8m41 0h8m22 0h8m-275 1h8m194 0h8m58 1h8m-71 1h8m33 0h8m-49 2h8m25 1h8m-47 3h8m-2 0h8m61 0h8m-36 4h8m-223 2h8m192 3h8m22 1h8m36 4h8m-315 1h8" stroke="#26269a" stroke-width="8" stroke-opacity="0.55"/>
<path transform="scale(.1)" d="M2220 4539h8m41 10h8m26 10h8m0 1h8m-86 4h8m-13 2h8m41 1h8m-64 1h8m-4 1h8m-16 2h8m-5 3h8m-2 0h8m20 2h8m-5 0h8m-25 1h8m26 0h8m0 0h8m-34 1h8m24 0h8m6 1h8m-78 2h8m17 0h8m13 1h8m-7 0h8m-33 1h8m-1 0h8m2 2h8m-41 3h8m17 0h8m-30 2h8m10 3h8m-53 2h8m63 0h8m-43 1h8m34 1h8m-60 2h8m6 3h8m-50 1h8m28 2h8m-37 1h8m58 0h8m-42 3h8m-17 1h8m33 0h8m-56 4h8m15 0h8m-30 3h8m2 1h8m-21 2h8m62 0h8m-31 1h8m-4 4h8m-70 1h8m25 3h8m22 1h8m-62 3h8m-12 5h8m-5 0h8m11 1h8m-17 6h8m-37 3h8m19 1h8m-5 1h8m37 1h8m-44 8h8m-303 5h8m300 2h8m4 0h8m-351 2h8m56 3h8m242 10h8m12 1h8m-296 5h8m-8 2h8m262 9h8m-281 5h8m292 0h8m-262 1h8m206 2h8m-3 0h8m-1 2h8m-276 4h8m277 3h8m-297 5h8m226 1h8m-268 2h8m247 3h8m-236 1h8m255 0h8m-286 1h8m-14 1h8m33 0h8m213 2h8m-1 0h8m-291 1h8m1 0h8m15 0h8m276 2h8m-303 2h8m276 0h8m-286 1h8m0 2h8m11 5h8m1 0h8m213 0h8m10 0h8m-11 1h8m-5 0h8m-272 2h8m2 3h8m250 1h8m-29 2h8m-294 1h8m32 1h8m208 0h8m26 0h8m-22 2h8m-256 1h8m-2 0h8m248 0h8m-298 1h8m35 0h8m241 1h8m15 0h8m-327 1h8m30 0h8m-8 2h8m-27 1h8m286 0h8m-275 1h8m217 0h8m8 0h8m21 2h8m-293 2h8m-3 0h8m21 0h8m-47 2h8m262 2h8m-277 1h8m16 1h8m252 0h8m-301 1h8m287 0h8m-40 2h8m-241 1h8m-7 0h8m-8 1h8m227 0h8m13 0h8m-296 3h8m246 1h8m-240 1h8m-2 1h8m-57 1h8m292 0h8m-265 1h8m-28 2h8m289 0h8m-294 2h8m-9 2h8m265 0h8m-255 1h8m-27 1h8m-33 1h8m-8 1h8m246 0h8m-259 1h8m25 0h8m4 0h8m10 0h8m228 0h8m-33 1h8m-267 1h8m2 1h8m-48 1h8m24 1h8m-3 0h8m9 0h8m-26 2h8m-30 1h8m251 0h8m-5 0h8m-236 1h8m-33 1h8m34 0h8m-49 2h8m-4 0h8m6 0h8m-1 0h8m-42 1h8m12 0h8m-10 1h8m-6 0h8m245 0h8m-270 1h8m1 0h8m9 2h8m239 0h8m-4 1h8m-304 2h8m12 1h8m253 1h8m3 0h8m-293 1h8m30 1h8m-51 3h8m254 0h8m-257 1h8m23 0h8m229 2h8m-254 2h8m249 0h8m-7 0h8m23 0h8m-284 1h8m-51 1h8m3 0h8m-22 1h8m-2 2h8m22 1h8m216 4h8m-258 3h8m23 0h8m-23 1h8m-40 1h8m16 0h8m261 0h8m-282 2h8m265 0h8m-287 2h8m283 0h8m-295 3h8m246 2h8m9 0h8m-291 1h8m0 0h8m40 1h8m240 3h8m-272 1h8m229 0h8m-289 1h8m17 0h8m-10 1h8m246 1h8m-285 2h8m6 0h8m11 0h8m-13 1h8m224 0h8m33 1h8m-281 1h8m21 0h8m-13 1h8m214 0h8m-266 1h8m8 0h8m-12 2h8m-15 4h8m11 3h8m216 1h8m41 0h8m-303 1h8m262 0h8m-292 1h8m45 0h8m219 0h8m-282 1h8m275 2h8m-62 1h8m46 0h8m-54 2h8m33 4h8m-258 2h8m217 0h8m5 0h8m14 0h8m-301 1h8m264 6h8m-266 2h8m251 0h8m-17 2h8m23 0h8m-3 0h8m-38 1h8m14 1h8m-29 1h8m-2 0h8m-259 6h8m235 2h8m-5 0h8m12 1h8m-265 2h8m261 0h8m-292 3h8m-25 1h8m274 2h8m-282 1h8m2 1h8m6 0h8m213 0h8m16 1h8m-266 2h8m272 1h8m-285 2h8m254 2h8m-263 4h8m215 0h8m-247 6h8m236 0h8m12 8h8m12 0h8m-289 10h8m220 0h8m-229 12h8m-8 0h8m-6 4h8m-17 6h8m203 0h8m40 0h8m-22 3h8m-232 1h8m-25 1h8m221 1h8m-246 1h8m321 2h8m-136 1h8m-189 1h8m221 0h8m-260 2h8m264 0h8m5 0h8m-1 0h8m-5 0h8m-99 3h8m73 1h8m-43 2h8m30 1h8m-21 1h8m16 0h8m-73 1h8m-6 0h8m2 0h8m13 0h8m18 0h8m-4 0h8m-54 1h8m0 0h8m2 0h8m-79 1h8m21 0h8m12 0h8m-38 2h8m32 0h8m-249 1h8m234 0h8m-7 0h8m-39 1h8m-7 0h8m-8 0h8m21 0h8m-7 0h8m-6 0h8m-5 0h8m26 1h8m-97 1h8m75 0h8m-5 0h8m-17 1h8m-52 1h8m36 0h8m-49 1h8m27 0h8m-45 1h8m29 0h8m-84 1h8m93 0h8m-16 1h8m22 1h8m-118 1h8m11 0h8m32 0h8m-6 0h8m-47 1h8m-22 2h8m10 1h8m0 0h8m54 0h8m-1 0h8m-105 1h8m60 0h8m-43 1h8m3 0h8m-75 2h8m11 0h8m15 0h8m49 1h8m-298 2h8m221 0h8m24 2h8m9 0h8m-3 1h8m-56 1h8m-231 2h8m216 1h8m17 1h8m0 0h8m-282 1h8m269 2h8m-1 2h8m-21 8h8" stroke="#26269a" stroke-width="8" stroke-opacity="0.55"/>
<ellipse cx="197.5" cy="484" rx="3.6" ry="12.5" fill="#2a3cc0" fill-opacity="0.8" filter="url(#bl5)"/>
<ellipse cx="197.3" cy="482" rx="3.0" ry="9.5" fill="#22a8d8" fill-opacity="0.9" filter="url(#bl5)"/>
<ellipse cx="197.1" cy="480.5" rx="2.4" ry="7" fill="#3cc060" fill-opacity="1" filter="url(#bl5)"/>
<ellipse cx="196.9" cy="478.6" rx="1.4" ry="3.2" fill="#e8e028" fill-opacity="1" filter="url(#bl5)"/>
<ellipse cx="196.8" cy="478.3" rx="0.9" ry="1.7" fill="#e02a1c" fill-opacity="1" filter="url(#bl5)"/>
<ellipse cx="225.8" cy="461.5" rx="2.8" ry="5.5" fill="#2a3cc0" fill-opacity="0.75" filter="url(#bl5)"/>
<ellipse cx="225.8" cy="461.4" rx="1.4" ry="2.8" fill="#22a8d8" fill-opacity="0.9" filter="url(#bl5)"/>
<ellipse cx="223.3" cy="480" rx="2.5" ry="7.5" fill="#2a3cc0" fill-opacity="0.75" filter="url(#bl5)"/>
<ellipse cx="223.2" cy="478.5" rx="1.7" ry="3.8" fill="#22a8d8" fill-opacity="0.9" filter="url(#bl5)"/>
<ellipse cx="223.1" cy="478.3" rx="1.0" ry="2" fill="#3cc060" fill-opacity="1" filter="url(#bl5)"/>
<ellipse cx="223.5" cy="491" rx="1.6" ry="4" fill="#2a3cc0" fill-opacity="0.6" filter="url(#bl5)"/>
<ellipse cx="222.3" cy="501.8" rx="5" ry="2.6" fill="#2a3cc0" fill-opacity="0.85" filter="url(#bl5)"/>
<ellipse cx="222.3" cy="501.8" rx="4" ry="2" fill="#22a8d8" fill-opacity="0.95" filter="url(#bl5)"/>
<ellipse cx="222.3" cy="501.8" rx="3" ry="1.5" fill="#3cc060" fill-opacity="1" filter="url(#bl5)"/>
<ellipse cx="222.3" cy="501.8" rx="1.6" ry="0.85" fill="#e8e028" fill-opacity="1" filter="url(#bl5)"/>
<rect x="196.4" y="452.4" width="20.2" height="11.7" fill="none" stroke="#666" stroke-width="0.7"/>
<rect x="217.7" y="452.4" width="16.8" height="16.4" fill="none" stroke="#666" stroke-width="0.7"/>
<rect x="217.7" y="469.5" width="16.1" height="22.9" fill="none" stroke="#666" stroke-width="0.7"/>
<rect x="211.6" y="492.4" width="22.9" height="21.9" fill="none" stroke="#666" stroke-width="0.7"/>
<path transform="scale(.1)" d="M2725 4513h8m-58 5h8m236 4h8m-240 1h8m93 1h8m137 4h8m-27 4h8m-245 1h8m219 2h8m-66 4h8m22 1h8m56 1h8m-34 2h8m-127 1h8m-89 1h8m106 0h8m144 2h8m-7 1h8m-8 2h8m-23 1h8m25 0h8m-250 2h8m-6 1h8m84 0h8m-61 1h8m-8 1h8m22 0h8m-179 1h8m304 0h8m-174 1h8m-22 4h8m47 1h8m-73 1h8m-93 2h8m44 0h8m208 0h8m57 0h8m-302 1h8m32 0h8m200 0h8m-211 3h8m109 2h8m40 3h8m-291 2h8m126 0h8m107 0h8m90 2h8m-253 1h8m-2 0h8m119 0h8m41 0h8m-244 1h8m22 0h8m82 1h8m69 0h8m64 0h8m-128 1h8m74 0h8m23 2h8m-181 1h8m165 0h8m-230 1h8m155 2h8m84 0h8m-266 1h8m118 0h8m84 0h8m-51 1h8m5 0h8m0 1h8m36 0h8m-316 1h8m242 0h8m-127 1h8m-41 1h8m56 0h8m-180 1h8m61 0h8m195 0h8m81 0h8m-326 2h8m198 0h8m-151 3h8m163 0h8m-239 1h8m46 1h8m33 0h8m73 0h8m86 0h8m-6 0h8m-211 2h8m119 0h8m-145 1h8m1 1h8m145 0h8m-145 2h8m-88 2h8m211 3h8m36 0h8m-5 0h8m-132 2h8m-3 0h8m-101 1h8m-2 0h8m134 0h8m17 0h8m23 0h8m-186 1h8m173 0h8m-253 1h8m59 0h8m104 1h8m8 0h8m-314 1h8m79 0h8m97 1h8m-105 1h8m-40 2h8m225 3h8m-199 3h8m255 1h8m-352 2h8m30 0h8m226 0h8m-161 1h8m135 0h8m69 0h8m-338 1h8m116 0h8m0 0h8m169 0h8m-241 2h8m16 0h8m169 1h8m-6 0h8m82 0h8m-127 2h8m28 0h8m-198 2h8m176 0h8m-244 1h8m254 0h8m-84 1h8m60 3h8m-233 2h8m12 0h8m200 0h8m139 0h8m-422 1h8m97 1h8m151 0h8m-3 0h8m-286 1h8m259 0h8m38 0h8m-227 1h8m136 0h8m-203 1h8m-47 1h8m12 0h8m207 0h8m19 0h8m32 0h8m-275 1h8m217 1h8m-11 1h8m9 0h8m-144 2h8m-104 1h8m51 0h8m197 0h8m-128 1h8m31 0h8m49 0h8m9 0h8m-8 0h8m-45 1h8m-281 1h8m99 0h8m179 3h8m-103 1h8m61 1h8m-214 1h8m161 0h8m33 0h8m19 0h8m1 0h8m-301 1h8m-37 2h8m132 1h8m140 0h8m57 0h8m-376 2h8m28 0h8m243 0h8m24 0h8m-320 2h8m22 3h8m48 0h8m56 0h8m189 0h8m-342 1h8m203 0h8m-175 1h8m214 0h8m-334 2h8m349 2h8m-3 0h8m-335 1h8m43 0h8m54 4h8m9 1h8m148 1h8m5 0h8m47 0h8m-25 1h8m-48 1h8m-1 0h8m-267 2h8m4 2h8m-6 0h8m113 0h8m62 0h8m25 0h8m-268 2h8m38 0h8m76 0h8m111 1h8m-206 1h8m-87 2h8m81 1h8m16 0h8m94 1h8m141 0h8m-366 1h8m89 0h8m95 0h8m-51 1h8m122 0h8m28 1h8m-183 1h8m136 1h8m54 0h8m-119 1h8m-43 1h8m-26 1h8m-47 3h8m-131 2h8m260 1h8m19 0h8m-313 1h8m-5 0h8m138 1h8m-152 1h8m286 0h8m-330 2h8m-1 0h8m47 0h8m247 1h8m-206 1h8m28 2h8m91 1h8m35 0h8m12 1h8m-302 2h8m115 0h8m-71 1h8m214 0h8m-225 2h8m215 0h8m-273 1h8m64 0h8m111 0h8m45 0h8m9 0h8m-244 1h8m-22 1h8m90 0h8m54 0h8m82 0h8m25 0h8m-333 2h8m58 1h8m93 0h8m-89 1h8m8 0h8m19 0h8m150 0h8m-253 1h8m78 0h8m31 0h8m-189 1h8m15 0h8m104 0h8m20 0h8m-121 1h8m260 0h8m-260 1h8m-1 0h8m66 0h8m9 0h8m184 0h8m-61 1h8m-202 1h8m5 0h8m-5 0h8m8 2h8m-7 0h8m92 0h8m52 0h8m-222 1h8m192 0h8m-82 1h8m64 0h8m-375 1h8m102 0h8m8 1h8m11 0h8m75 0h8m155 0h8m22 0h8m-354 1h8m19 0h8m123 0h8m-3 0h8m-145 1h8m277 0h8m-323 1h8m-1 0h8m286 0h8m30 0h8m-207 1h8m-66 1h8m135 0h8m11 0h8m-239 1h8m83 0h8m152 0h8m-159 1h8m54 0h8m-44 1h8m-118 1h8m3 0h8m182 0h8m66 0h8m-271 1h8m159 0h8m40 0h8m-233 1h8m1 0h8m-50 1h8m111 0h8m17 1h8m146 0h8m19 0h8m64 0h8m-429 1h8m144 0h8m100 0h8m-125 1h8m69 0h8m16 0h8m28 0h8m-116 1h8m142 0h8m-147 1h8m96 0h8m-160 1h8m-74 1h8m72 0h8m95 0h8m-105 1h8m47 0h8m126 0h8m-8 0h8m-252 1h8m266 0h8m-336 1h8m163 1h8m-234 2h8m59 0h8m10 1h8m80 0h8m41 0h8m121 1h8m6 0h8m-288 1h8m217 0h8m30 0h8m-300 1h8m277 0h8m-260 1h8m194 0h8m-29 1h8m-89 2h8m102 0h8m24 0h8m-112 1h8m-47 1h8m-30 2h8m108 0h8m-248 1h8m199 1h8m64 1h8m-206 1h8m96 0h8m52 0h8m-150 1h8m76 1h8m49 0h8m-224 1h8m277 0h8m-108 1h8m76 1h8m-62 1h8m-53 1h8m-160 2h8m246 0h8m6 0h8m26 0h8m3 0h8m-7 0h8m-321 1h8m48 0h8m39 1h8m147 0h8m-240 1h8m153 0h8m72 0h8m-23 1h8m-274 5h8m1 0h8m122 0h8m90 1h8m118 0h8m-372 2h8m32 1h8m12 0h8m18 1h8m138 0h8m18 1h8m76 0h8m-265 1h8m203 0h8m-314 1h8m8 0h8m262 0h8m-267 1h8m254 0h8m-315 1h8m-22 1h8m7 0h8m206 0h8m44 0h8m37 0h8m-276 1h8m32 0h8m141 1h8m-134 1h8m53 1h8m23 0h8m-42 1h8m112 0h8m-254 1h8m2 0h8m-48 1h8m26 0h8m128 0h8m59 0h8m94 0h8m-43 1h8m-334 2h8m18 0h8m-5 0h8m0 0h8m56 0h8m173 1h8m-6 0h8m-266 1h8m7 0h8m59 1h8m187 0h8m-149 1h8m104 0h8m-142 1h8m58 0h8m-188 1h8m64 0h8m27 1h8m289 0h8m-132 1h8m-130 3h8m104 0h8m-96 1h8m28 0h8m-230 1h8m1 0h8m287 1h8m-33 2h8m-279 1h8m1 0h8m11 3h8m216 0h8m-267 1h8m113 0h8m-89 1h8m-89 1h8m98 0h8m167 0h8m-238 1h8m301 0h8m-314 2h8m67 1h8m182 0h8m-287 1h8m36 1h8m-29 1h8m9 0h8m-37 2h8m251 1h8m-285 1h8m41 0h8m255 0h8m-274 1h8m245 0h8m28 3h8m-325 1h8m0 0h8m42 0h8m-40 1h8m250 2h8m-149 1h8m104 1h8m-226 1h8m222 1h8m-31 2h8m-261 1h8m36 0h8m223 1h8m-265 1h8m61 4h8m-52 2h8m188 0h8m22 0h8m144 0h8m-428 1h8m228 2h8m-249 3h8m-3 1h8m9 1h8m-15 1h8m97 1h8m66 1h8m91 0h8m-409 1h8m162 0h8m-73 2h8m98 2h8m152 0h8m-277 1h8m116 6h8m240 0h8m-389 3h8m285 2h8m-256 1h8m269 0h8m-311 4h8m-8 0h8m14 0h8m-15 2h8m330 4h8m-137 3h8m17 0h8m-176 1h8m-63 2h8m120 0h8m-123 1h8m4 0h8m-65 1h8m64 5h8m-40 1h8m262 0h8m-72 1h8m-215 1h8m157 0h8m70 0h8m50 0h8m-372 1h8m503 0h8m-459 3h8m255 0h8m-249 4h8m301 1h8m-124 1h8m43 0h8m-246 1h8m-83 3h8m290 5h8m-236 2h8m190 0h8m12 2h8m20 0h8m-30 1h8m13 0h8m0 0h8m-312 2h8m270 7h8m26 0h8m-61 2h8m-25 2h8m8 2h8m19 0h8m-86 3h8m69 0h8m-219 1h8m215 1h8m-66 1h8m-16 1h8m3 0h8m50 1h8m-113 1h8m23 0h8m70 0h8m59 0h8m-69 1h8m36 0h8m-415 1h8m111 0h8m229 0h8m26 0h8m-67 1h8m66 0h8m-66 2h8m42 1h8m-26 1h8m-401 2h8m336 0h8m43 0h8m-74 1h8m-229 2h8m210 0h8m-51 1h8m47 0h8m5 0h8m-213 1h8m207 1h8m-7 0h8m-4 0h8m40 0h8m-62 2h8m-27 1h8m-37 1h8m7 0h8m-27 1h8m0 0h8m-6 0h8m10 0h8m-74 1h8m56 0h8m59 0h8m-169 1h8m114 1h8m58 3h8m-156 5h8m17 1h8m43 0h8m43 0h8m-98 1h8m-337 1h8m331 0h8m-4 0h8m13 3h8m33 2h8m-97 1h8m48 2h8m-232 1h8m196 0h8m-6 0h8m-229 1h8m177 2h8m26 1h8m-43 2h8m62 0h8m-25 2h8m-296 1h8m253 2h8m-269 1h8m328 0h8m-12 1h8m-171 7h8m6 9h8m132 2h8m-293 7h8m168 15h8m-262 3h8m62 9h8m54 4h8m189 33h8" stroke="#3a3ab0" stroke-width="8" stroke-opacity="0.35"/>
<path transform="scale(.1)" d="M2752 4522h8m46 5h8m165 0h8m-47 4h8m27 5h8m-42 1h8m-225 3h8m67 0h8m46 9h8m-87 1h8m34 1h8m-35 2h8m183 0h8m-169 1h8m-32 1h8m151 0h8m36 0h8m-24 1h8m3 1h8m-131 1h8m-127 1h8m-120 1h8m124 1h8m13 0h8m-99 1h8m182 1h8m83 0h8m-312 3h8m94 1h8m-8 0h8m-5 1h8m124 0h8m66 0h8m0 0h8m6 2h8m-275 1h8m227 0h8m-28 2h8m-277 1h8m70 1h8m126 0h8m43 3h8m-224 2h8m109 1h8m70 2h8m49 0h8m14 0h8m-291 1h8m-127 1h8m80 0h8m258 0h8m14 1h8m-210 2h8m131 0h8m-246 1h8m258 0h8m21 1h8m-254 1h8m-37 2h8m288 0h8m-84 1h8m7 0h8m22 0h8m42 0h8m-174 2h8m85 0h8m-69 3h8m66 0h8m10 0h8m2 0h8m-30 2h8m-136 2h8m-1 0h8m19 0h8m-151 1h8m27 0h8m35 1h8m46 0h8m16 0h8m90 1h8m-235 1h8m222 0h8m4 1h8m-197 1h8m-5 0h8m159 0h8m-234 1h8m-7 0h8m-116 1h8m116 0h8m198 0h8m-4 0h8m-195 1h8m160 0h8m1 1h8m-265 1h8m169 0h8m60 0h8m-51 2h8m25 0h8m40 2h8m-28 1h8m-122 1h8m121 2h8m-242 3h8m212 0h8m-19 2h8m-50 1h8m-262 2h8m290 1h8m19 0h8m-134 3h8m36 0h8m60 0h8m-316 1h8m12 0h8m-1 0h8m231 1h8m-7 0h8m-49 1h8m-153 5h8m299 1h8m-112 1h8m-209 2h8m-6 0h8m195 2h8m-29 1h8m-5 0h8m-168 1h8m200 0h8m-340 1h8m204 0h8m-202 3h8m209 0h8m-252 1h8m92 0h8m186 0h8m-302 2h8m289 0h8m-183 1h8m93 0h8m-49 1h8m97 0h8m-253 3h8m241 0h8m-40 1h8m-151 1h8m196 1h8m-258 2h8m-87 1h8m2 0h8m231 0h8m-178 1h8m33 2h8m14 0h8m162 0h8m2 1h8m-315 1h8m162 0h8m84 0h8m-103 1h8m-78 1h8m12 0h8m-116 1h8m11 1h8m262 0h8m-263 4h8m80 0h8m0 1h8m158 0h8m-329 1h8m159 0h8m139 0h8m-76 2h8m-19 1h8m-250 1h8m127 0h8m-82 1h8m237 0h8m-275 1h8m85 1h8m189 0h8m-1 2h8m-202 1h8m-50 2h8m25 0h8m143 2h8m77 0h8m-280 5h8m-7 0h8m13 0h8m-143 1h8m116 0h8m-48 1h8m-13 1h8m-20 1h8m0 2h8m203 2h8m-206 1h8m18 3h8m164 0h8m-267 1h8m6 0h8m28 0h8m-3 0h8m-66 1h8m197 2h8m-149 1h8m7 1h8m-8 0h8m-4 0h8m27 2h8m153 0h8m-241 1h8m271 0h8m-164 1h8m93 0h8m-4 0h8m-253 1h8m250 1h8m28 0h8m-318 1h8m256 0h8m-191 1h8m192 0h8m19 1h8m-84 1h8m5 0h8m-187 1h8m8 0h8m125 1h8m-186 1h8m51 0h8m9 1h8m-73 1h8m4 0h8m26 0h8m-115 1h8m269 1h8m18 0h8m-290 2h8m33 0h8m131 0h8m-137 1h8m228 0h8m105 0h8m-296 1h8m104 0h8m-105 1h8m1 0h8m8 1h8m103 0h8m-254 1h8m24 0h8m251 0h8m-256 1h8m57 0h8m-32 1h8m-108 1h8m24 0h8m16 0h8m23 0h8m86 0h8m15 0h8m18 0h8m-230 2h8m52 0h8m20 0h8m76 0h8m96 0h8m30 0h8m-323 1h8m165 1h8m-27 2h8m-198 2h8m70 0h8m-53 1h8m18 0h8m55 0h8m21 3h8m-139 1h8m96 0h8m-55 1h8m13 0h8m67 0h8m-43 1h8m-1 0h8m44 0h8m73 0h8m-226 1h8m9 0h8m75 0h8m-63 2h8m26 0h8m-3 0h8m167 0h8m-225 1h8m-1 0h8m68 0h8m-5 0h8m21 0h8m91 0h8m15 0h8m-278 1h8m35 0h8m144 0h8m-178 2h8m107 1h8m55 0h8m-287 1h8m15 1h8m53 0h8m64 0h8m-75 1h8m-47 1h8m98 1h8m88 0h8m-224 1h8m-28 1h8m84 0h8m84 0h8m-111 1h8m-98 2h8m136 0h8m138 0h8m196 0h8m-352 1h8m-145 1h8m3 0h8m153 0h8m104 0h8m-288 2h8m131 0h8m-116 1h8m262 0h8m-2 2h8m-301 2h8m62 0h8m144 0h8m29 0h8m-157 1h8m-30 1h8m72 0h8m13 0h8m-212 1h8m167 0h8m94 2h8m40 0h8m-265 1h8m203 0h8m-311 1h8m76 0h8m211 0h8m-293 1h8m86 0h8m27 0h8m15 0h8m46 0h8m26 0h8m-215 1h8m20 0h8m186 0h8m29 1h8m-17 1h8m-257 1h8m-7 0h8m0 0h8m113 0h8m123 0h8m-248 1h8m-45 1h8m275 0h8m-287 2h8m253 0h8m-33 1h8m9 0h8m-213 1h8m181 0h8m10 1h8m-293 1h8m121 0h8m140 0h8m8 0h8m-278 2h8m17 0h8m161 0h8m-166 1h8m162 0h8m71 0h8m-115 2h8m16 0h8m25 0h8m-241 2h8m4 0h8m175 0h8m62 1h8m-294 1h8m43 0h8m87 0h8m154 0h8m-291 1h8m187 0h8m25 0h8m8 0h8m33 0h8m-4 0h8m22 0h8m-259 3h8m-53 1h8m279 0h8m-326 1h8m32 0h8m-39 1h8m2 0h8m214 1h8m-2 0h8m62 0h8m-79 1h8m5 0h8m3 0h8m-203 1h8m67 1h8m112 1h8m173 1h8m-461 1h8m-2 0h8m91 0h8m53 0h8m-147 1h8m29 0h8m63 0h8m149 0h8m-155 2h8m-166 1h8m41 0h8m9 0h8m-87 1h8m26 0h8m62 0h8m255 0h8m-294 2h8m217 0h8m-277 1h8m256 0h8m-267 1h8m68 0h8m6 0h8m-93 1h8m295 0h8m-353 1h8m33 1h8m21 0h8m198 0h8m-263 3h8m11 0h8m-52 1h8m329 0h8m-36 1h8m-5 0h8m18 0h8m-320 1h8m7 1h8m-8 0h8m138 1h8m-119 1h8m157 2h8m5 0h8m17 1h8m23 0h8m-158 2h8m84 0h8m-221 1h8m89 3h8m161 1h8m-5 0h8m27 0h8m-289 1h8m118 0h8m76 0h8m-4 0h8m27 0h8m-184 1h8m153 3h8m-266 1h8m51 0h8m-133 1h8m361 0h8m-296 1h8m234 1h8m-285 2h8m269 0h8m-268 1h8m-31 2h8m273 0h8m-3 1h8m10 0h8m-278 1h8m41 1h8m-53 1h8m-4 4h8m4 0h8m292 0h8m-336 1h8m186 0h8m-262 1h8m24 1h8m11 1h8m19 0h8m4 0h8m231 1h8m-292 3h8m-3 0h8m57 0h8m105 1h8m-153 1h8m185 0h8m51 2h8m1 0h8m-270 1h8m-29 2h8m-3 1h8m243 0h8m17 0h8m-275 2h8m463 1h8m-518 1h8m247 1h8m182 0h8m-415 2h8m-26 1h8m252 0h8m78 0h8m-332 1h8m-47 2h8m2 0h8m48 2h8m230 2h8m-70 1h8m48 0h8m-28 1h8m-273 2h8m2 3h8m209 0h8m-202 1h8m136 0h8m-182 1h8m273 2h8m-237 1h8m84 0h8m157 0h8m-163 1h8m-122 2h8m233 2h8m-282 1h8m-30 1h8m21 1h8m62 1h8m231 2h8m39 2h8m-272 1h8m4 0h8m121 1h8m-292 5h8m52 4h8m-19 2h8m266 0h8m-107 2h8m220 0h8m-169 1h8m-279 3h8m212 1h8m-121 1h8m140 0h8m-251 2h8m20 1h8m195 0h8m49 0h8m-264 5h8m238 0h8m-64 1h8m-257 2h8m37 0h8m11 0h8m185 1h8m49 0h8m-3 8h8m-62 3h8m56 0h8m-311 1h8m228 0h8m7 2h8m4 0h8m-59 1h8m50 3h8m-107 3h8m60 0h8m-24 1h8m23 0h8m-2 0h8m18 1h8m12 1h8m-115 1h8m39 0h8m72 0h8m-87 1h8m17 0h8m-25 1h8m26 3h8m13 0h8m-295 1h8m2 0h8m213 0h8m31 0h8m-120 1h8m1 0h8m93 1h8m27 0h8m-84 2h8m0 0h8m-28 1h8m29 0h8m24 0h8m-265 1h8m135 0h8m69 0h8m9 0h8m54 0h8m-62 2h8m24 0h8m-150 1h8m46 0h8m2 0h8m94 0h8m-217 1h8m57 2h8m29 1h8m-52 1h8m57 0h8m-5 0h8m48 1h8m-138 1h8m27 1h8m10 0h8m10 0h8m-34 1h8m55 0h8m-96 1h8m89 0h8m-135 2h8m191 2h8m-205 1h8m61 0h8m22 0h8m-6 0h8m-176 1h8m200 0h8m-220 2h8m238 0h8m-130 5h8m28 0h8m-50 1h8m20 0h8m-141 1h8m127 0h8m25 0h8m45 0h8m-82 1h8m31 0h8m-141 1h8m-6 0h8m143 0h8m-285 1h8m288 0h8m-98 1h8m25 0h8m24 0h8m-323 2h8m239 0h8m3 0h8m-6 1h8m-55 3h8m30 0h8m5 3h8m-185 1h8m203 0h8m-112 1h8m-2 2h8m85 0h8m-57 12h8m-3 8h8m-340 4h8m235 1h8m-251 8h8m364 7h8m62 15h8m-287 12h8m19 1h8m46 5h8" stroke="#3a3ab0" stroke-width="8" stroke-opacity="0.35"/>
<path transform="scale(.1)" d="M2963 4525h8m-6 2h8m19 1h8m-235 7h8m12 6h8m28 0h8m-103 2h8m-37 3h8m260 0h8m-29 1h8m-23 3h8m-99 3h8m-127 1h8m40 0h8m22 0h8m163 1h8m-62 1h8m-261 1h8m184 0h8m-141 1h8m116 0h8m98 1h8m10 0h8m7 2h8m-238 3h8m102 2h8m57 0h8m-171 1h8m35 0h8m181 0h8m-107 1h8m-189 1h8m212 0h8m-151 1h8m50 0h8m119 1h8m25 0h8m-271 1h8m173 0h8m-59 1h8m-74 2h8m-148 2h8m10 0h8m293 0h8m-283 1h8m19 3h8m-79 1h8m167 0h8m111 1h8m-73 1h8m73 1h8m-295 3h8m282 0h8m-286 1h8m112 0h8m-59 1h8m57 0h8m-74 1h8m208 0h8m-213 1h8m144 0h8m16 0h8m-1 0h8m-237 1h8m65 1h8m-136 1h8m241 0h8m12 0h8m-14 1h8m-217 1h8m79 0h8m146 0h8m-274 1h8m75 0h8m159 0h8m0 0h8m-234 1h8m-44 1h8m-24 1h8m43 0h8m228 0h8m-322 1h8m276 0h8m49 0h8m-249 1h8m32 0h8m145 0h8m16 0h8m-59 2h8m-259 2h8m85 0h8m144 0h8m-177 1h8m196 0h8m-85 1h8m-76 1h8m-146 1h8m-46 2h8m151 2h8m154 1h8m18 0h8m-251 2h8m7 0h8m73 0h8m95 0h8m35 0h8m-251 1h8m83 0h8m-157 1h8m218 0h8m0 2h8m40 0h8m-150 1h8m135 0h8m-3 1h8m-47 1h8m-249 1h8m71 0h8m8 0h8m-155 1h8m305 0h8m-52 1h8m69 3h8m-42 1h8m-30 1h8m44 0h8m-221 3h8m116 0h8m61 0h8m22 0h8m-5 0h8m-40 2h8m-82 1h8m58 1h8m15 0h8m-51 2h8m-223 1h8m241 0h8m-277 1h8m240 1h8m-22 1h8m29 0h8m46 0h8m-237 1h8m-120 1h8m221 0h8m-258 1h8m46 0h8m-4 0h8m258 1h8m-52 1h8m-137 2h8m183 0h8m-40 3h8m-75 1h8m-261 1h8m340 1h8m-352 1h8m30 0h8m49 2h8m180 0h8m40 1h8m-171 2h8m158 0h8m-41 2h8m-186 1h8m10 1h8m-138 1h8m18 0h8m261 0h8m3 0h8m-32 2h8m-73 1h8m-218 1h8m207 0h8m53 0h8m36 0h8m-259 1h8m25 1h8m-113 1h8m25 0h8m213 0h8m33 0h8m-320 1h8m81 0h8m170 2h8m34 0h8m21 5h8m-84 1h8m-260 1h8m44 0h8m162 0h8m61 0h8m-32 1h8m-271 2h8m70 0h8m246 1h8m-349 2h8m290 0h8m-266 2h8m197 0h8m-91 1h8m93 0h8m8 1h8m-312 3h8m112 0h8m24 0h8m-83 2h8m-23 1h8m-31 1h8m264 3h8m26 0h8m-295 1h8m33 0h8m250 3h8m-272 1h8m147 0h8m-212 1h8m237 0h8m-31 1h8m-122 1h8m-3 0h8m128 0h8m-288 1h8m35 0h8m1 0h8m64 0h8m-91 1h8m34 0h8m178 0h8m-241 1h8m263 0h8m-254 2h8m200 0h8m48 0h8m-299 1h8m9 0h8m-6 0h8m14 0h8m-66 1h8m37 0h8m62 0h8m18 0h8m-74 1h8m217 0h8m-353 1h8m10 0h8m45 0h8m168 0h8m-123 1h8m-69 1h8m234 0h8m-296 1h8m98 0h8m-98 1h8m51 0h8m54 1h8m-150 1h8m133 0h8m-133 2h8m-2 3h8m32 0h8m-44 1h8m248 0h8m6 0h8m-5 0h8m2 0h8m-286 2h8m134 1h8m-4 0h8m-203 1h8m28 0h8m-17 1h8m78 1h8m54 0h8m117 0h8m-5 0h8m-217 1h8m15 0h8m21 0h8m111 0h8m-236 1h8m68 0h8m73 1h8m-140 1h8m263 1h8m-317 1h8m65 0h8m-105 1h8m94 0h8m18 0h8m-49 1h8m251 0h8m-345 1h8m140 0h8m165 0h8m-274 1h8m267 0h8m-268 1h8m135 0h8m46 0h8m-189 1h8m-73 1h8m-7 0h8m7 0h8m137 0h8m-100 1h8m76 0h8m-112 1h8m12 0h8m73 3h8m-7 0h8m114 0h8m21 0h8m-252 1h8m148 0h8m-32 1h8m35 0h8m5 0h8m65 1h8m-36 1h8m65 0h8m-369 1h8m193 1h8m48 0h8m-170 2h8m193 0h8m-108 1h8m-44 1h8m70 0h8m-193 2h8m32 0h8m206 0h8m-313 1h8m141 0h8m79 0h8m18 0h8m-139 2h8m219 0h8m-99 1h8m-294 1h8m142 0h8m7 0h8m-149 1h8m119 0h8m-5 0h8m-11 1h8m52 0h8m72 1h8m-220 2h8m188 0h8m-227 1h8m79 1h8m-168 1h8m269 0h8m67 0h8m-336 1h8m164 0h8m-7 0h8m3 0h8m-244 1h8m359 0h8m-291 2h8m254 0h8m-48 1h8m-103 1h8m95 0h8m0 1h8m-246 1h8m117 0h8m90 0h8m39 0h8m-6 0h8m-188 1h8m108 0h8m-220 1h8m-8 0h8m88 0h8m115 0h8m-102 1h8m105 0h8m-131 1h8m143 0h8m-260 1h8m232 0h8m-293 1h8m96 0h8m111 0h8m-190 1h8m19 0h8m-51 1h8m8 0h8m315 0h8m-380 1h8m167 0h8m-43 1h8m164 0h8m-296 1h8m146 0h8m89 0h8m32 0h8m-298 1h8m-1 0h8m269 0h8m-144 1h8m21 0h8m7 0h8m-18 1h8m62 0h8m-255 1h8m166 0h8m72 0h8m-23 2h8m63 0h8m-57 1h8m-259 1h8m131 0h8m-161 1h8m230 0h8m31 0h8m20 0h8m-304 1h8m128 0h8m76 0h8m17 0h8m-76 1h8m44 0h8m31 0h8m0 0h8m-321 1h8m8 0h8m3 0h8m218 0h8m-196 1h8m190 0h8m-237 1h8m216 0h8m-257 1h8m9 2h8m7 0h8m41 0h8m96 0h8m67 0h8m-223 3h8m41 0h8m78 0h8m94 0h8m-291 1h8m201 0h8m-213 1h8m5 0h8m253 0h8m13 1h8m15 0h8m-154 1h8m-181 2h8m177 0h8m-75 1h8m222 0h8m-66 1h8m-329 1h8m3 0h8m159 0h8m153 1h8m-313 1h8m1 0h8m91 0h8m-2 0h8m-134 1h8m10 1h8m62 0h8m158 0h8m-70 1h8m101 0h8m-287 1h8m-7 0h8m239 0h8m-277 1h8m334 0h8m-39 1h8m-262 1h8m201 0h8m-155 1h8m166 0h8m-36 1h8m-189 1h8m-42 1h8m221 0h8m23 0h8m-335 1h8m311 0h8m-4 0h8m-92 2h8m-212 1h8m121 0h8m72 0h8m-212 1h8m272 0h8m130 0h8m-403 1h8m6 0h8m206 0h8m65 0h8m-312 1h8m197 0h8m-54 4h8m-160 1h8m67 2h8m79 0h8m-186 2h8m165 1h8m7 1h8m-167 1h8m-25 3h8m-12 2h8m163 0h8m-5 1h8m-49 4h8m-204 1h8m43 0h8m-26 1h8m267 0h8m-90 1h8m-196 1h8m258 2h8m-17 1h8m-102 1h8m187 0h8m-235 2h8m177 1h8m-63 2h8m-247 3h8m298 0h8m-313 1h8m25 1h8m-12 1h8m-31 1h8m198 1h8m17 0h8m4 0h8m-276 1h8m5 0h8m42 3h8m-88 1h8m248 1h8m148 0h8m-405 4h8m66 0h8m230 1h8m-58 2h8m-42 2h8m39 0h8m-281 1h8m318 0h8m-274 4h8m-10 2h8m-69 2h8m-45 2h8m40 0h8m-4 1h8m-47 1h8m71 1h8m-61 1h8m261 0h8m70 1h8m-331 1h8m211 0h8m55 0h8m-123 4h8m71 1h8m-317 1h8m178 1h8m-108 2h8m42 2h8m-89 4h8m286 5h8m-334 1h8m250 1h8m-1 2h8m-163 1h8m-98 2h8m224 1h8m26 8h8m-269 1h8m-4 0h8m-31 4h8m253 0h8m-89 4h8m-186 1h8m229 3h8m-265 1h8m219 0h8m60 1h8m-285 3h8m11 0h8m9 0h8m150 3h8m62 0h8m-37 1h8m5 1h8m90 2h8m-105 1h8m90 0h8m-122 1h8m33 0h8m11 1h8m-4 1h8m30 0h8m-322 3h8m240 0h8m42 0h8m-90 1h8m4 0h8m-99 1h8m25 1h8m101 0h8m-295 1h8m205 0h8m107 0h8m-290 1h8m145 0h8m110 0h8m-113 1h8m2 2h8m67 0h8m-68 1h8m-5 0h8m-13 1h8m106 0h8m-80 3h8m-90 1h8m37 0h8m-52 1h8m47 0h8m-102 1h8m37 1h8m42 0h8m-68 1h8m19 0h8m52 0h8m-79 1h8m9 0h8m-24 2h8m50 1h8m30 0h8m-63 1h8m-26 1h8m33 0h8m21 0h8m-32 1h8m2 1h8m-2 0h8m-72 1h8m64 0h8m-106 1h8m2 0h8m-43 2h8m55 0h8m34 0h8m-210 1h8m154 0h8m18 0h8m18 0h8m-6 0h8m-168 2h8m111 0h8m-63 1h8m28 0h8m-125 1h8m108 0h8m-20 2h8m54 0h8m-78 1h8m-16 1h8m-17 3h8m17 0h8m-84 2h8m57 0h8m10 0h8m-59 1h8m60 2h8m-48 1h8m53 0h8m-261 1h8m163 5h8m64 1h8m-83 3h8m10 15h8m86 2h8m-29 2h8m-196 6h8m-104 12h8m276 7h8m-160 1h8m87 10h8m-191 7h8m250 15h8" stroke="#3a3ab0" stroke-width="8" stroke-opacity="0.35"/>
<path transform="scale(.1)" d="M2968 4525h8m-6 8h8m1 6h8m14 10h8m-51 3h8m-9 1h8m3 3h8m-47 2h8m88 2h8m-95 1h8m51 5h8m-79 4h8m21 0h8m7 0h8m5 0h8m-1 3h8m-36 2h8m24 0h8m13 1h8m-64 1h8m14 0h8m-49 4h8m25 0h8m4 3h8m-9 1h8m-39 1h8m29 5h8m-43 2h8m-6 4h8m12 0h8m-64 1h8m35 2h8m-35 2h8m8 4h8m47 1h8m-23 1h8m-98 2h8m101 1h8m-18 1h8m-17 1h8m5 1h8m-28 1h8m-22 1h8m-7 0h8m-13 2h8m71 0h8m-83 1h8m-11 1h8m50 0h8m-54 2h8m-7 0h8m-44 1h8m6 1h8m20 0h8m-27 1h8m5 2h8m-118 1h8m50 1h8m5 0h8m34 0h8m-44 3h8m21 0h8m5 0h8m2 0h8m3 0h8m-19 1h8m-332 1h8m237 0h8m22 0h8m18 1h8m-24 1h8m6 1h8m-44 1h8m14 0h8m0 1h8m3 1h8m6 0h8m-57 6h8m57 1h8m-79 2h8m4 1h8m33 0h8m4 0h8m-18 4h8m11 0h8m-60 2h8m5 0h8m14 3h8m-90 1h8m44 2h8m32 0h8m-20 1h8m-309 7h8m224 3h8m52 1h8m30 1h8m-86 1h8m51 2h8m-341 4h8m281 0h8m72 4h8m-367 1h8m294 0h8m-6 1h8m-67 4h8m-290 1h8m241 1h8m29 1h8m-268 3h8m254 2h8m6 0h8m-42 2h8m-242 7h8m-35 1h8m309 0h8m-311 1h8m261 1h8m-292 7h8m302 0h8m-300 2h8m-2 2h8m-25 1h8m260 4h8m9 2h8m-283 2h8m1 1h8m-35 1h8m14 1h8m12 2h8m-24 1h8m9 1h8m223 2h8m-271 2h8m321 0h8m15 2h8m-354 1h8m275 0h8m-31 1h8m31 1h8m-295 1h8m225 1h8m17 0h8m0 0h8m-305 1h8m29 1h8m-36 2h8m-8 0h8m256 0h8m-243 1h8m225 1h8m11 0h8m-12 3h8m-247 1h8m-6 0h8m-4 0h8m219 2h8m-248 1h8m-66 1h8m-2 0h8m309 0h8m-298 1h8m27 1h8m-44 1h8m249 0h8m-261 1h8m33 0h8m210 0h8m-297 1h8m29 0h8m228 0h8m-247 1h8m274 0h8m-59 1h8m64 1h8m-313 1h8m-3 0h8m252 0h8m12 0h8m-304 1h8m263 0h8m16 0h8m-297 1h8m257 0h8m9 2h8m14 0h8m-298 4h8m-50 1h8m22 0h8m240 0h8m-5 0h8m-260 2h8m7 0h8m1 0h8m0 0h8m-32 2h8m237 0h8m0 0h8m-258 1h8m238 1h8m17 0h8m-250 1h8m212 1h8m-265 1h8m3 0h8m0 0h8m248 0h8m16 0h8m-55 1h8m17 0h8m-16 1h8m-307 1h8m34 0h8m-27 1h8m7 0h8m-12 1h8m19 1h8m-22 3h8m273 0h8m-25 1h8m-273 1h8m-7 0h8m-24 1h8m5 0h8m-48 2h8m16 1h8m6 0h8m261 0h8m-269 1h8m221 0h8m-286 1h8m321 1h8m-68 1h8m-244 1h8m-18 4h8m285 0h8m-47 1h8m4 0h8m-14 1h8m-251 3h8m240 0h8m5 0h8m-280 1h8m260 1h8m-268 2h8m256 6h8m-270 1h8m255 1h8m-312 1h8m25 1h8m2 0h8m-24 1h8m280 0h8m-34 1h8m12 0h8m-309 1h8m26 1h8m3 0h8m4 0h8m229 0h8m-21 1h8m-259 1h8m272 1h8m-274 3h8m-35 1h8m254 4h8m-280 1h8m-31 3h8m20 0h8m26 0h8m-34 1h8m13 0h8m210 1h8m3 0h8m-279 2h8m7 0h8m290 0h8m-316 1h8m30 0h8m232 2h8m-260 1h8m227 0h8m-259 5h8m14 0h8m249 2h8m-291 3h8m300 1h8m-320 1h8m273 1h8m-255 1h8m220 2h8m-6 1h8m18 3h8m-277 1h8m232 0h8m-248 1h8m287 2h8m-61 1h8m7 0h8m-274 1h8m7 0h8m-32 1h8m1 2h8m262 0h8m-23 1h8m-256 1h8m262 1h8m-20 2h8m-267 1h8m-18 1h8m4 0h8m-6 0h8m-12 1h8m5 1h8m213 0h8m-234 1h8m-10 1h8m236 0h8m-235 1h8m-42 1h8m256 3h8m-8 1h8m1 0h8m-12 2h8m-4 1h8m11 0h8m-18 1h8m-293 4h8m280 0h8m-27 4h8m-268 1h8m253 2h8m-7 0h8m-10 2h8m-276 4h8m5 1h8m238 0h8m0 2h8m-12 2h8m18 0h8m-283 1h8m237 1h8m-24 2h8m-222 4h8m238 0h8m-251 1h8m-37 2h8m-5 0h8m237 1h8m-239 2h8m13 1h8m-25 2h8m257 3h8m-260 1h8m219 1h8m-4 9h8m-259 1h8m-6 0h8m10 2h8m-25 3h8m-23 4h8m2 1h8m19 2h8m219 0h8m-255 2h8m-8 0h8m9 1h8m222 3h8m-1 2h8m-265 1h8m11 0h8m202 4h8m-3 1h8m15 2h8m-8 0h8m-55 3h8m-214 1h8m205 1h8m93 0h8m-84 1h8m9 0h8m15 0h8m-17 1h8m-31 1h8m13 0h8m-273 3h8m225 0h8m9 0h8m32 0h8m-71 1h8m1 0h8m-42 1h8m55 0h8m30 0h8m-81 1h8m15 0h8m16 0h8m-36 1h8m5 0h8m-31 1h8m-2 1h8m-10 2h8m-54 2h8m9 0h8m4 0h8m-258 1h8m178 0h8m38 0h8m44 0h8m-282 3h8m249 0h8m-3 0h8m-24 1h8m54 0h8m-97 2h8m19 0h8m3 0h8m19 0h8m14 1h8m-96 1h8m24 0h8m-261 2h8m183 3h8m1 0h8m31 0h8m-24 1h8m54 0h8m-71 1h8m8 0h8m-21 1h8m57 0h8m-261 1h8m249 0h8m-93 1h8m28 1h8m-35 1h8m9 0h8m20 0h8m9 0h8m0 0h8m-62 1h8m-13 1h8m60 6h8m-310 2h8m240 1h8m58 1h8m-82 2h8m15 4h8m-16 10h8m-247 9h8" stroke="#26269a" stroke-width="8" stroke-opacity="0.55"/>
<path transform="scale(.1)" d="M2924 4514h8m22 6h8m-36 9h8m-7 6h8m113 8h8m-94 2h8m4 2h8m7 0h8m0 11h8m-40 5h8m11 0h8m-43 2h8m-31 4h8m8 1h8m16 1h8m-28 2h8m7 6h8m-14 1h8m-10 2h8m48 1h8m-57 2h8m10 0h8m-35 2h8m0 0h8m-11 1h8m14 0h8m33 0h8m-61 5h8m1 1h8m-44 1h8m49 0h8m-34 1h8m4 5h8m-23 3h8m11 1h8m-6 0h8m-19 1h8m-48 1h8m22 0h8m22 3h8m10 1h8m-67 1h8m-1 0h8m-9 3h8m-7 2h8m15 0h8m-14 1h8m-51 3h8m32 1h8m4 0h8m17 1h8m-69 3h8m0 1h8m0 2h8m-14 1h8m-7 0h8m-63 2h8m40 3h8m13 0h8m49 0h8m-46 3h8m-32 1h8m-12 1h8m-34 1h8m-21 2h8m23 0h8m-5 0h8m26 0h8m9 2h8m-36 1h8m-14 1h8m-6 1h8m-32 2h8m-319 5h8m283 0h8m-5 0h8m44 0h8m-8 1h8m-77 1h8m-257 1h8m249 1h8m0 0h8m-23 1h8m40 1h8m-55 2h8m-269 1h8m316 0h8m-54 1h8m52 0h8m-50 6h8m26 0h8m32 0h8m-74 1h8m-68 1h8m-216 3h8m224 1h8m55 1h8m-13 1h8m-321 2h8m293 0h8m-2 1h8m-40 1h8m59 0h8m-324 2h8m-49 1h8m318 0h8m-2 3h8m-90 9h8m60 0h8m-77 3h8m-250 1h8m-6 5h8m-11 2h8m270 0h8m-28 1h8m-267 2h8m-8 0h8m253 1h8m-22 3h8m19 3h8m-283 1h8m-4 1h8m-50 1h8m355 5h8m-355 1h8m2 0h8m-11 1h8m7 1h8m290 5h8m-296 1h8m233 0h8m-263 3h8m-12 3h8m255 0h8m-246 1h8m-5 0h8m-4 0h8m235 1h8m-289 2h8m1 0h8m-4 0h8m22 0h8m-69 1h8m9 0h8m0 0h8m243 0h8m-253 1h8m-14 1h8m277 2h8m-27 1h8m0 0h8m-299 2h8m17 3h8m-18 2h8m1 0h8m229 1h8m17 2h8m1 0h8m-273 1h8m280 0h8m-51 2h8m-2 2h8m-281 2h8m22 1h8m234 0h8m6 1h8m10 1h8m-299 1h8m-7 6h8m2 1h8m208 0h8m19 0h8m11 0h8m-261 1h8m-26 1h8m268 0h8m-286 1h8m-12 1h8m14 0h8m-27 3h8m28 0h8m229 0h8m22 0h8m-310 1h8m8 0h8m20 2h8m-56 2h8m263 0h8m-255 1h8m249 0h8m-35 1h8m11 0h8m-293 3h8m262 0h8m-1 0h8m-274 1h8m12 0h8m261 0h8m-313 1h8m15 0h8m-27 1h8m2 0h8m20 0h8m-43 1h8m5 0h8m14 0h8m222 0h8m38 0h8m-30 1h8m-289 1h8m242 0h8m-258 1h8m18 1h8m-24 1h8m2 0h8m240 0h8m-4 0h8m11 0h8m-288 1h8m253 0h8m-7 0h8m-11 1h8m-278 1h8m7 1h8m246 0h8m-10 3h8m8 0h8m-281 1h8m239 0h8m-4 0h8m-249 2h8m223 0h8m21 0h8m1 0h8m-264 1h8m261 0h8m-273 1h8m-1 0h8m206 0h8m-238 1h8m222 0h8m-261 2h8m289 0h8m-53 3h8m13 4h8m-17 1h8m8 0h8m-315 1h8m40 0h8m-24 2h8m245 0h8m13 0h8m-31 1h8m-247 6h8m22 1h8m200 0h8m-264 2h8m-3 0h8m9 0h8m-34 1h8m5 0h8m265 3h8m-298 1h8m15 0h8m224 0h8m-287 2h8m289 1h8m-270 4h8m11 1h8m-7 0h8m278 1h8m-317 4h8m-1 1h8m7 0h8m247 0h8m-265 1h8m257 1h8m-286 1h8m247 0h8m-19 2h8m-252 1h8m-6 2h8m237 0h8m-293 4h8m297 1h8m6 0h8m-35 1h8m-257 2h8m-18 1h8m-11 1h8m26 0h8m-6 0h8m-39 1h8m11 2h8m243 0h8m-273 1h8m-24 2h8m250 1h8m10 3h8m-2 3h8m5 0h8m-280 6h8m250 2h8m-256 1h8m-20 1h8m-17 2h8m-2 0h8m6 0h8m233 2h8m-273 3h8m270 1h8m-19 1h8m10 3h8m-286 2h8m1 0h8m-6 0h8m15 1h8m227 4h8m-285 2h8m231 2h8m12 2h8m-266 2h8m262 2h8m-27 3h8m14 0h8m-31 1h8m-7 1h8m-7 2h8m-264 1h8m9 0h8m-22 3h8m248 3h8m-2 0h8m-31 3h8m14 0h8m-269 1h8m261 0h8m-264 1h8m238 0h8m-256 12h8m256 0h8m-280 2h8m240 0h8m21 1h8m-10 1h8m-5 0h8m-299 1h8m279 3h8m-289 4h8m295 0h8m-299 1h8m226 2h8m-238 1h8m-17 1h8m20 3h8m-32 2h8m280 0h8m-45 2h8m3 1h8m15 1h8m-20 1h8m-259 1h8m184 1h8m87 2h8m-309 2h8m168 1h8m37 0h8m16 0h8m-29 2h8m66 1h8m-95 2h8m6 0h8m29 0h8m5 0h8m-77 1h8m15 0h8m13 1h8m6 0h8m-16 1h8m-4 0h8m-58 1h8m34 0h8m-1 1h8m-37 1h8m31 0h8m-25 1h8m19 0h8m-47 1h8m-2 0h8m16 0h8m-289 1h8m251 0h8m-88 1h8m59 0h8m-48 1h8m-1 0h8m1 0h8m81 1h8m-138 1h8m58 1h8m-15 1h8m-245 1h8m189 0h8m6 0h8m19 0h8m49 0h8m-97 1h8m97 0h8m12 0h8m-145 1h8m49 0h8m-5 0h8m-30 1h8m50 0h8m-2 0h8m-89 1h8m-1 0h8m-33 1h8m12 0h8m1 0h8m-1 0h8m20 0h8m9 0h8m21 0h8m-76 1h8m20 0h8m-29 1h8m-8 0h8m28 0h8m34 0h8m-118 2h8m11 0h8m28 0h8m-75 1h8m13 0h8m-41 1h8m27 0h8m15 1h8m22 0h8m-88 1h8m19 2h8m36 2h8m-22 1h8m-55 7h8m54 0h8m-16 1h8m9 4h8m-275 7h8m235 3h8" stroke="#26269a" stroke-width="8" stroke-opacity="0.55"/>
<path transform="scale(.1)" d="M2983 4516h8m20 24h8m-34 6h8m-46 12h8m33 3h8m2 1h8m-49 2h8m58 1h8m-94 2h8m16 0h8m3 0h8m-22 2h8m5 1h8m-9 4h8m22 0h8m-76 1h8m26 1h8m19 1h8m-76 1h8m78 4h8m-39 1h8m6 0h8m-96 2h8m34 0h8m11 0h8m-9 2h8m-87 2h8m81 0h8m-33 1h8m2 0h8m-13 1h8m16 0h8m-30 2h8m48 0h8m-88 2h8m24 3h8m-27 1h8m-38 2h8m-3 1h8m47 0h8m-56 3h8m-4 0h8m47 0h8m-52 1h8m55 0h8m-82 3h8m19 0h8m-6 0h8m-10 1h8m1 0h8m-22 1h8m-27 1h8m29 0h8m15 1h8m-45 1h8m34 0h8m-3 0h8m-31 4h8m-60 3h8m40 0h8m-17 1h8m-20 2h8m46 0h8m-337 2h8m195 0h8m97 0h8m8 2h8m-59 1h8m4 0h8m34 0h8m-56 5h8m9 0h8m-63 4h8m52 1h8m-3 0h8m-2 1h8m-76 3h8m12 0h8m17 2h8m-2 0h8m27 0h8m-93 6h8m36 0h8m-37 1h8m42 3h8m-102 2h8m17 0h8m18 1h8m-5 2h8m-31 1h8m-12 1h8m24 0h8m3 0h8m-61 2h8m9 0h8m42 0h8m13 0h8m-14 3h8m-59 4h8m25 1h8m-5 1h8m-7 0h8m5 0h8m-94 2h8m7 0h8m72 4h8m-361 1h8m262 1h8m-37 1h8m16 2h8m-4 0h8m40 1h8m-278 1h8m224 1h8m-11 4h8m15 2h8m-32 1h8m89 0h8m-373 8h8m27 1h8m236 2h8m-304 1h8m293 1h8m6 1h8m-302 2h8m280 0h8m-11 1h8m-26 4h8m12 1h8m-23 3h8m-299 1h8m266 0h8m96 1h8m-399 3h8m37 0h8m229 0h8m13 3h8m-4 2h8m-287 1h8m5 0h8m265 1h8m-55 1h8m-254 1h8m28 0h8m-21 1h8m-4 0h8m246 0h8m-5 4h8m-269 2h8m-28 1h8m283 2h8m-288 2h8m15 0h8m-26 2h8m241 1h8m-281 1h8m52 2h8m229 0h8m-306 1h8m6 1h8m15 0h8m245 1h8m-285 1h8m0 0h8m-4 0h8m1 3h8m227 0h8m6 1h8m-268 1h8m260 1h8m-277 1h8m258 1h8m-3 2h8m-290 1h8m6 0h8m-5 2h8m-17 1h8m-11 3h8m280 1h8m-274 1h8m265 1h8m-74 1h8m-241 1h8m-9 1h8m22 1h8m1 1h8m201 1h8m10 0h8m-263 2h8m12 0h8m233 0h8m-274 2h8m269 0h8m-282 1h8m230 0h8m7 0h8m35 0h8m-302 1h8m0 0h8m253 0h8m-248 3h8m-6 0h8m234 0h8m-7 0h8m-34 1h8m-14 1h8m22 1h8m-294 1h8m280 0h8m-268 1h8m275 0h8m-47 1h8m-273 1h8m-31 1h8m18 1h8m5 1h8m276 1h8m-306 1h8m-9 3h8m250 0h8m-262 1h8m-19 1h8m1 0h8m9 0h8m243 3h8m11 0h8m-323 1h8m0 0h8m25 0h8m-1 0h8m-28 1h8m-8 1h8m-41 1h8m18 2h8m-3 0h8m5 0h8m-60 1h8m9 1h8m17 2h8m-27 1h8m2 0h8m10 3h8m-23 1h8m11 0h8m206 0h8m-236 1h8m-18 4h8m270 0h8m-269 1h8m-5 0h8m0 0h8m-34 2h8m286 1h8m-292 1h8m4 1h8m-13 2h8m229 0h8m-249 2h8m0 0h8m-23 2h8m242 0h8m-262 3h8m262 1h8m13 0h8m-292 1h8m229 0h8m9 0h8m-261 2h8m-2 0h8m-4 0h8m-28 2h8m23 1h8m-34 1h8m268 0h8m-31 1h8m31 2h8m-30 1h8m-284 3h8m2 1h8m8 0h8m-9 2h8m235 0h8m-286 5h8m24 1h8m241 2h8m-277 1h8m-2 1h8m33 0h8m-67 1h8m32 1h8m237 1h8m-260 2h8m6 0h8m209 1h8m-243 2h8m243 1h8m-4 0h8m19 0h8m-271 1h8m226 0h8m-3 0h8m-293 1h8m6 1h8m267 2h8m-275 2h8m244 2h8m5 0h8m-300 1h8m2 1h8m281 0h8m-287 3h8m-2 3h8m8 0h8m223 0h8m-1 0h8m-250 1h8m215 0h8m-210 2h8m-51 3h8m256 2h8m22 7h8m-24 3h8m-261 1h8m209 1h8m27 1h8m-18 1h8m-241 1h8m228 1h8m-276 4h8m3 1h8m-7 0h8m-10 1h8m-21 4h8m237 0h8m-247 3h8m-4 1h8m253 6h8m-264 1h8m221 1h8m-3 1h8m-221 5h8m-44 3h8m256 2h8m-268 2h8m23 4h8m211 2h8m-271 4h8m23 0h8m-15 6h8m2 2h8m-29 1h8m8 4h8m-5 2h8m-28 1h8m21 1h8m-19 1h8m-47 4h8m24 2h8m247 0h8m-18 1h8m-268 1h8m275 3h8m32 0h8m-313 3h8m245 0h8m-38 1h8m-246 1h8m257 0h8m-58 1h8m94 0h8m-80 1h8m-2 0h8m2 0h8m-258 1h8m273 0h8m-92 1h8m52 0h8m-7 0h8m-292 1h8m13 0h8m262 0h8m-265 2h8m187 0h8m11 1h8m9 0h8m8 0h8m21 0h8m-66 1h8m12 0h8m-4 1h8m7 0h8m-39 1h8m3 0h8m-2 0h8m21 0h8m-80 1h8m11 0h8m-5 0h8m29 1h8m-33 1h8m-2 1h8m-8 0h8m9 0h8m-45 1h8m21 0h8m-3 0h8m-43 1h8m39 0h8m20 0h8m-65 1h8m-22 2h8m-2 0h8m-5 0h8m64 0h8m-6 0h8m-79 1h8m-62 1h8m82 0h8m-1 0h8m0 0h8m-302 1h8m219 0h8m36 0h8m-1 0h8m-108 1h8m34 0h8m20 0h8m13 0h8m-4 0h8m51 0h8m-145 1h8m37 0h8m1 0h8m49 0h8m-96 1h8m38 0h8m-8 2h8m-78 2h8m106 0h8m-90 1h8m-6 0h8m-37 2h8m64 1h8m-259 2h8m225 0h8m-29 1h8m-10 1h8m-232 4h8" stroke="#26269a" stroke-width="8" stroke-opacity="0.55"/>
<path transform="scale(.1)" d="M2932 4513h8m60 17h8m-21 14h8m-24 7h8m-49 2h8m26 1h8m42 0h8m-84 3h8m-3 0h8m7 1h8m-22 2h8m71 1h8m-7 0h8m-32 5h8m-93 10h8m67 3h8m-18 2h8m-40 3h8m8 1h8m-22 3h8m53 0h8m-37 1h8m-73 1h8m2 0h8m32 5h8m3 0h8m11 0h8m20 0h8m-104 1h8m19 0h8m40 0h8m-62 1h8m11 0h8m22 1h8m-68 1h8m-12 1h8m73 1h8m-47 1h8m-41 1h8m13 0h8m-11 1h8m-21 1h8m-4 0h8m35 0h8m-49 2h8m0 7h8m15 0h8m-59 5h8m-11 2h8m10 0h8m2 0h8m-11 2h8m19 0h8m-81 1h8m84 2h8m-48 5h8m15 1h8m-53 4h8m14 0h8m23 0h8m21 0h8m-55 1h8m2 0h8m-37 1h8m3 2h8m27 1h8m-45 10h8m19 6h8m-30 1h8m-40 2h8m3 0h8m15 0h8m34 0h8m-73 3h8m0 0h8m52 1h8m-88 2h8m27 2h8m-308 1h8m234 1h8m-239 1h8m330 0h8m-81 1h8m4 2h8m-35 2h8m12 0h8m18 0h8m-44 3h8m-3 2h8m-292 2h8m258 2h8m22 1h8m6 0h8m-323 1h8m16 0h8m-39 4h8m275 1h8m53 3h8m-330 2h8m262 1h8m53 0h8m-86 2h8m28 3h8m-311 1h8m5 0h8m240 4h8m-277 1h8m287 0h8m-312 9h8m4 1h8m0 1h8m-3 0h8m13 0h8m-47 3h8m23 0h8m279 1h8m-300 1h8m254 0h8m-58 1h8m-221 3h8m-10 2h8m238 1h8m5 1h8m15 1h8m-7 1h8m-320 1h8m290 1h8m-293 1h8m251 0h8m-254 1h8m325 1h8m-328 1h8m242 0h8m-270 1h8m2 0h8m223 0h8m-275 1h8m-2 0h8m11 1h8m-45 1h8m284 2h8m-284 2h8m256 4h8m-253 1h8m302 0h8m-36 1h8m-57 1h8m-252 1h8m-4 0h8m16 2h8m248 0h8m-276 1h8m0 0h8m251 0h8m73 0h8m-373 3h8m274 1h8m-314 1h8m43 0h8m235 0h8m-17 1h8m4 1h8m-268 1h8m27 0h8m196 1h8m-8 0h8m36 0h8m23 1h8m-329 1h8m267 0h8m-277 1h8m258 1h8m-2 0h8m-304 2h8m310 0h8m-270 2h8m17 0h8m-73 1h8m257 0h8m-277 2h8m277 0h8m-283 1h8m269 0h8m-302 1h8m11 0h8m244 0h8m0 0h8m-26 1h8m29 0h8m-276 1h8m-21 1h8m-7 0h8m-20 1h8m261 0h8m-250 1h8m-36 1h8m-13 1h8m5 0h8m17 0h8m220 0h8m6 0h8m-279 1h8m245 2h8m-255 1h8m-6 0h8m243 0h8m9 0h8m-306 1h8m-4 0h8m25 1h8m-7 0h8m7 0h8m7 1h8m197 1h8m20 0h8m-251 1h8m-1 2h8m227 1h8m-280 1h8m266 0h8m-271 1h8m250 0h8m-2 1h8m-7 0h8m-293 2h8m-9 1h8m262 0h8m-2 3h8m-280 2h8m-14 1h8m19 1h8m246 0h8m-259 2h8m211 0h8m39 0h8m-282 2h8m8 0h8m214 0h8m29 0h8m-293 2h8m-5 0h8m267 0h8m-5 2h8m-273 1h8m-16 2h8m14 0h8m-22 1h8m-3 0h8m12 1h8m208 1h8m-275 2h8m40 0h8m-50 1h8m300 1h8m-292 1h8m230 0h8m-1 2h8m-253 1h8m238 1h8m16 1h8m-16 2h8m-1 0h8m-275 4h8m-25 3h8m246 0h8m-272 1h8m3 2h8m-43 2h8m305 6h8m-308 3h8m267 2h8m-268 1h8m-7 0h8m261 0h8m-1 0h8m-286 2h8m259 0h8m17 0h8m-302 2h8m258 2h8m9 0h8m-292 2h8m14 1h8m-47 2h8m3 2h8m16 0h8m275 7h8m-303 1h8m240 1h8m-253 2h8m246 0h8m-257 3h8m261 1h8m-55 2h8m-239 6h8m15 1h8m221 0h8m2 0h8m-5 1h8m-262 1h8m-15 4h8m-1 2h8m-1 0h8m219 2h8m-26 2h8m55 0h8m-27 1h8m-3 1h8m-277 1h8m261 2h8m-42 1h8m1 0h8m9 1h8m-35 1h8m-215 1h8m206 0h8m3 4h8m1 0h8m-30 3h8m-253 3h8m-2 1h8m218 0h8m-232 1h8m-6 0h8m1 3h8m-36 1h8m5 1h8m13 4h8m225 0h8m-8 2h8m-12 5h8m-17 1h8m-244 2h8m240 0h8m-13 1h8m-24 1h8m-237 1h8m219 0h8m-251 2h8m-13 2h8m-18 5h8m255 0h8m11 1h8m19 0h8m-282 1h8m-29 1h8m12 2h8m232 1h8m-232 1h8m251 0h8m-12 3h8m-289 1h8m290 0h8m-309 7h8m-28 1h8m250 0h8m-256 3h8m9 1h8m13 4h8m244 0h8m-28 2h8m24 1h8m-79 1h8m4 0h8m43 0h8m11 0h8m-45 1h8m36 0h8m-52 1h8m8 0h8m-117 1h8m138 1h8m-322 1h8m178 0h8m123 0h8m-329 2h8m225 0h8m67 1h8m-307 2h8m205 0h8m31 0h8m5 0h8m-284 1h8m20 3h8m180 1h8m16 0h8m3 0h8m-260 1h8m224 0h8m13 1h8m20 0h8m-18 1h8m-65 1h8m22 0h8m55 0h8m-60 2h8m4 0h8m10 2h8m-95 1h8m4 0h8m16 0h8m-5 0h8m6 0h8m8 0h8m-59 1h8m61 0h8m-40 1h8m15 0h8m-6 0h8m-19 2h8m27 0h8m-101 1h8m50 0h8m1 0h8m-20 1h8m-41 1h8m23 0h8m12 1h8m-48 1h8m25 0h8m-13 1h8m-38 2h8m-55 1h8m17 0h8m-4 0h8m41 0h8m-268 1h8m217 1h8m78 1h8m-95 1h8m13 0h8m31 0h8m-50 1h8m-6 0h8m-10 1h8m34 0h8m-3 0h8m25 1h8m-113 1h8m31 1h8m-20 4h8m-49 1h8m12 0h8m-40 5h8m13 4h8m125 0h8m-353 7h8m-2 7h8" stroke="#26269a" stroke-width="8" stroke-opacity="0.55"/>
<ellipse cx="267.4" cy="484" rx="3.8" ry="12.5" fill="#2a3cc0" fill-opacity="0.8" filter="url(#bl5)"/>
<ellipse cx="267.2" cy="482" rx="3.2" ry="9.5" fill="#22a8d8" fill-opacity="0.9" filter="url(#bl5)"/>
<ellipse cx="267" cy="480.5" rx="2.5" ry="7" fill="#3cc060" fill-opacity="1" filter="url(#bl5)"/>
<ellipse cx="266.9" cy="478.6" rx="1.5" ry="3.4" fill="#e8e028" fill-opacity="1" filter="url(#bl5)"/>
<ellipse cx="266.8" cy="478.3" rx="1.0" ry="1.8" fill="#e02a1c" fill-opacity="1" filter="url(#bl5)"/>
<ellipse cx="297.1" cy="462.3" rx="4.6" ry="7.2" fill="#2a3cc0" fill-opacity="0.8" filter="url(#bl5)"/>
<ellipse cx="297.1" cy="462.3" rx="3.6" ry="6" fill="#22a8d8" fill-opacity="0.9" filter="url(#bl5)"/>
<ellipse cx="297.1" cy="462.5" rx="2.7" ry="4.6" fill="#3cc060" fill-opacity="1" filter="url(#bl5)"/>
<ellipse cx="295.8" cy="479" rx="2.3" ry="8" fill="#2a3cc0" fill-opacity="0.75" filter="url(#bl5)"/>
<ellipse cx="295.8" cy="477" rx="1.5" ry="3.5" fill="#22a8d8" fill-opacity="0.9" filter="url(#bl5)"/>
<ellipse cx="295.8" cy="476.9" rx="0.9" ry="1.8" fill="#3cc060" fill-opacity="0.9" filter="url(#bl5)"/>
<ellipse cx="295" cy="492" rx="1.6" ry="4" fill="#2a3cc0" fill-opacity="0.6" filter="url(#bl5)"/>
<ellipse cx="294.4" cy="501.8" rx="5.4" ry="2.7" fill="#2a3cc0" fill-opacity="0.85" filter="url(#bl5)"/>
<ellipse cx="294.4" cy="501.8" rx="4.3" ry="2.1" fill="#22a8d8" fill-opacity="0.95" filter="url(#bl5)"/>
<ellipse cx="294.4" cy="501.8" rx="3.3" ry="1.6" fill="#3cc060" fill-opacity="1" filter="url(#bl5)"/>
<ellipse cx="294.4" cy="501.8" rx="2.3" ry="1.2" fill="#e8e028" fill-opacity="1" filter="url(#bl5)"/>
<ellipse cx="294.6" cy="501.8" rx="1.4" ry="0.8" fill="#e02a1c" fill-opacity="1" filter="url(#bl5)"/>
<rect x="266.4" y="453.0" width="20.2" height="11.8" fill="none" stroke="#666" stroke-width="0.7"/>
<rect x="287.0" y="452.4" width="18.2" height="16.4" fill="none" stroke="#666" stroke-width="0.7"/>
<rect x="287.0" y="469.5" width="17.5" height="22.9" fill="none" stroke="#666" stroke-width="0.7"/>
<rect x="281.6" y="492.4" width="22.9" height="21.9" fill="none" stroke="#666" stroke-width="0.7"/>
<text x="192.8" y="461.4" font-size="6.4" fill="#555" color="#555" text-anchor="middle">I</text>
<text x="240.2" y="462.2" font-size="6.4" fill="#555" color="#555" text-anchor="middle">II</text>
<text x="240.2" y="483.0" font-size="6.4" fill="#555" color="#555" text-anchor="middle">III</text>
<text x="240.3" y="507.6" font-size="6.4" fill="#555" color="#555" text-anchor="middle">IV</text>
<line x1="177.7" y1="523.2" x2="177.7" y2="500.7" stroke="#000" stroke-width="1.1"/>
<line x1="177.1" y1="522.7" x2="197.7" y2="522.7" stroke="#000" stroke-width="1.1"/>
<path d="M177.7,496.7 L180.0,501.7 L177.7,500.2 L175.4,501.7 z" fill="#000"/>
<path d="M201.7,522.7 L196.7,525.0 L198.2,522.7 L196.7,520.4 z" fill="#000"/>
<text x="172.2" y="509.7" font-size="9.0" fill="#2a2a2a" color="#2a2a2a" text-anchor="middle" textLength="16.4" lengthAdjust="spacingAndGlyphs" transform="rotate(-90 172.2 509.7)">CD71</text>
<text x="179.2" y="533.3" font-size="8.8" fill="#2a2a2a" color="#2a2a2a" textLength="22.1" lengthAdjust="spacingAndGlyphs">Ter119</text>
<text x="99.5" y="573.5" font-size="9.0" fill="#2a2a2a" color="#2a2a2a" text-anchor="middle" textLength="27.9" lengthAdjust="spacingAndGlyphs">Spleen</text>
<line x1="43.3" y1="579.2" x2="147.6" y2="579.2" stroke="#444" stroke-width="1.2"/>
<rect x="45.8" y="583.1" width="19.6" height="9.6" fill="#2b4a8b"/>
<text x="55.6" y="590.2" font-size="6.6" fill="#fff" color="#fff" style="stroke-width:0" text-anchor="middle">WT</text>
<rect x="110.6" y="583.0" width="19.7" height="9.8" fill="#b3173c"/>
<text x="119.2" y="590.2" font-size="6.6" fill="#fff" color="#fff" style="stroke-width:0" text-anchor="middle" font-style="italic">Ent1<tspan dy="-2.4" font-size="3.8">-/-</tspan></text>
<rect x="24.7" y="595.4" width="63.7" height="63.6" fill="none" stroke="#8a8a8a" stroke-width="0.9"/>
<rect x="91.0" y="596.0" width="63.7" height="63.6" fill="none" stroke="#8a8a8a" stroke-width="0.9"/>
<path transform="scale(.1)" d="M396 5993h8m0 73h8m-16 10h8m-10 16h8m-11 1h8m-27 3h8m4 0h8m10 7h8m-15 6h8m19 6h8m13 6h8m-60 17h8m-19 2h8m4 6h8m-20 18h8m-12 1h8m11 0h8m9 2h8m-41 1h8m7 1h8m3 0h8m-19 1h8m-12 14h8m-73 15h8m49 2h8m8 3h8m-32 2h8m-24 10h8m4 5h8m37 0h8m-36 2h8m-8 3h8m-19 1h8m-1 11h8m18 2h8m-37 2h8m33 1h8m-27 1h8m-9 3h8m-76 6h8m47 0h8m19 1h8m-44 11h8m-7 1h8m8 14h8m39 0h8m-77 1h8m6 5h8m0 3h8m14 1h8m-50 5h8m6 4h8m18 12h8m115 3h8m-136 2h8m-37 9h8m-41 3h8m26 1h8m27 5h8m-38 4h8m19 1h8m-15 4h8m5 2h8m-81 2h8m19 0h8m13 2h8m-6 0h8m12 0h8m354 0h8m-419 1h8m59 1h8m-53 2h8m32 5h8m-31 1h8m9 8h8m-28 4h8m8 2h8m202 0h8m-238 3h8m357 3h8m-123 1h8m90 0h8m-125 1h8m45 0h8m-262 7h8m242 2h8m-162 1h8m26 0h8m-168 1h8m3 1h8m257 0h8m-250 3h8m123 1h8m-173 1h8m142 0h8m80 0h8m-249 1h8m175 0h8m-201 1h8m205 0h8m-228 1h8m31 0h8m263 0h8m-139 1h8m65 0h8m46 0h8m-81 1h8m-210 1h8m198 0h8m99 2h8m-326 2h8m-24 1h8m2 0h8m11 0h8m365 0h8m-132 1h8m-284 7h8m278 0h8m-317 2h8m49 0h8m304 0h8m-316 1h8m282 1h8m-130 1h8m-210 2h8m8 0h8m-44 1h8m193 0h8m102 0h8m3 2h8m23 0h8m-292 1h8m-57 4h8m164 2h8m98 4h8m45 0h8m-98 2h8m-71 1h8m-142 9h8m288 0h8m-79 1h8m14 1h8m-303 9h8m246 0h8m0 1h8m54 2h8m-365 2h8m343 1h8m29 0h8m-330 1h8m301 3h8m-347 3h8m-40 6h8m403 1h8m-405 3h8m28 1h8m-33 2h8m297 2h8m36 2h8m-372 1h8m6 1h8m336 0h8m-311 1h8m-124 1h8m319 0h8m48 0h8m-279 2h8m281 0h8m5 3h8m-407 1h8m325 1h8m-313 1h8m3 0h8m73 0h8m-58 6h8m-47 2h8m76 3h8m-89 3h8m-26 1h8m4 4h8m-25 6h8m23 4h8m-34 5h8m-9 3h8m-5 1h8m-13 30h8m-10 5h8m16 0h8m-1 0h8" stroke="#4646b0" stroke-width="8" stroke-opacity="0.35"/>
<path transform="scale(.1)" d="M379 5986h8m18 5h8m-32 33h8m21 24h8m-37 21h8m1 4h8m1 3h8m118 3h8m-157 3h8m25 0h8m-31 14h8m6 4h8m-23 4h8m9 11h8m-19 7h8m-30 1h8m19 10h8m-3 4h8m-15 2h8m-22 9h8m4 3h8m2 8h8m-31 1h8m15 1h8m-39 2h8m127 23h8m-119 3h8m-7 7h8m-29 6h8m0 2h8m-5 4h8m-8 10h8m-11 1h8m19 6h8m-4 3h8m-40 3h8m10 4h8m-25 4h8m20 3h8m-14 4h8m279 1h8m-323 12h8m19 1h8m-14 1h8m-15 1h8m10 3h8m-35 1h8m45 0h8m-27 3h8m-31 7h8m13 7h8m-30 1h8m-40 11h8m55 2h8m-42 2h8m3 0h8m-19 7h8m-3 0h8m22 1h8m-3 0h8m-35 2h8m-2 0h8m4 2h8m-6 1h8m-33 2h8m-30 1h8m48 3h8m6 5h8m-75 4h8m9 8h8m-1 0h8m-1 2h8m-28 10h8m-10 3h8m5 0h8m27 1h8m-57 1h8m5 1h8m-20 8h8m16 1h8m-11 3h8m-59 5h8m344 2h8m-282 1h8m-32 2h8m-34 3h8m-22 1h8m334 0h8m-20 5h8m-328 1h8m225 0h8m16 0h8m-88 2h8m17 0h8m-232 3h8m62 4h8m-40 1h8m184 1h8m97 0h8m-103 1h8m99 0h8m-140 4h8m125 0h8m-321 2h8m204 0h8m25 0h8m-41 1h8m-253 6h8m208 0h8m28 0h8m17 0h8m18 4h8m-245 3h8m125 0h8m101 0h8m-282 1h8m70 0h8m275 0h8m-156 1h8m145 1h8m-208 1h8m17 0h8m126 2h8m-21 1h8m-333 2h8m363 0h8m-358 5h8m354 3h8m-30 2h8m13 5h8m-41 1h8m-94 2h8m50 0h8m32 0h8m-55 2h8m8 9h8m-313 2h8m305 0h8m-333 5h8m346 0h8m-373 2h8m16 1h8m291 1h8m-38 1h8m-309 3h8m25 3h8m294 2h8m-360 1h8m27 0h8m293 0h8m12 0h8m11 0h8m-3 2h8m-6 5h8m-345 3h8m250 0h8m-258 3h8m-41 2h8m-38 4h8m-6 1h8m363 0h8m-6 0h8m30 0h8m-79 2h8m75 0h8m-75 1h8m-312 2h8m11 0h8m-80 2h8m36 2h8m282 4h8m-331 1h8m360 0h8m-77 3h8m-311 9h8m380 0h8m-405 1h8m3 1h8m321 0h8m-342 1h8m6 0h8m352 3h8m-364 15h8m-27 1h8m5 2h8m-2 8h8m0 1h8m-24 13h8m-19 9h8" stroke="#4646b0" stroke-width="8" stroke-opacity="0.35"/>
<path transform="scale(.1)" d="M400 5968h8m-15 16h8m-24 47h8m18 7h8m-3 12h8m-13 4h8m-25 1h8m-2 10h8m-9 7h8m-13 12h8m-11 11h8m4 10h8m-18 12h8m-66 1h8m40 3h8m5 6h8m-20 10h8m-4 3h8m14 0h8m5 13h8m-35 6h8m-5 3h8m-16 15h8m2 2h8m-2 0h8m-23 4h8m-29 5h8m17 2h8m270 0h8m-287 2h8m-21 2h8m10 5h8m-5 2h8m-10 4h8m-19 7h8m-7 3h8m0 3h8m-11 13h8m-15 13h8m-3 9h8m6 14h8m-11 2h8m-3 12h8m14 0h8m-21 1h8m-19 12h8m-6 0h8m2 0h8m116 2h8m-161 1h8m4 1h8m50 8h8m-50 5h8m-23 2h8m-7 0h8m1 2h8m139 3h8m-179 1h8m2 0h8m26 6h8m-63 1h8m20 0h8m54 2h8m-79 1h8m9 5h8m5 2h8m-15 1h8m1 2h8m-7 1h8m-42 6h8m17 4h8m-61 6h8m27 2h8m22 2h8m-21 6h8m-7 1h8m163 1h8m-203 1h8m17 3h8m95 3h8m-117 1h8m-7 1h8m-20 2h8m193 2h8m98 0h8m-158 1h8m117 0h8m-268 1h8m157 1h8m-190 1h8m228 0h8m-250 1h8m-31 1h8m208 3h8m50 2h8m105 0h8m-327 1h8m192 0h8m102 0h8m-83 4h8m-294 1h8m58 0h8m143 1h8m-178 1h8m295 0h8m-91 1h8m19 0h8m71 0h8m-102 1h8m66 1h8m-351 1h8m186 6h8m76 1h8m-282 3h8m222 1h8m-82 3h8m119 0h8m-82 2h8m-223 2h8m337 2h8m-350 1h8m228 0h8m51 2h8m17 0h8m-338 1h8m208 1h8m-187 1h8m249 3h8m84 0h8m-421 6h8m53 0h8m255 2h8m-270 2h8m284 1h8m-334 1h8m299 0h8m-337 4h8m63 1h8m309 0h8m-377 4h8m327 0h8m-336 1h8m255 1h8m-300 4h8m365 7h8m-15 1h8m-302 1h8m240 0h8m34 3h8m-364 2h8m-4 1h8m3 0h8m354 0h8m-386 3h8m349 0h8m-48 3h8m-263 4h8m253 0h8m24 1h8m-356 1h8m375 0h8m2 0h8m-394 8h8m-53 6h8m6 1h8m34 0h8m327 1h8m-22 2h8m-401 3h8m43 2h8m-27 4h8m-6 1h8m11 1h8m-58 7h8m22 1h8m7 0h8m349 0h8m-47 4h8m-360 1h8m7 1h8m-6 5h8m2 1h8m483 0h8m-514 1h8m5 0h8m-6 2h8m-52 3h8m26 2h8m-37 5h8" stroke="#4646b0" stroke-width="8" stroke-opacity="0.35"/>
<path transform="scale(.1)" d="M413 6276h8m-16 25h8m-9 9h8m-8 0h8m-14 5h8m-7 3h8m11 1h8m-14 1h8m-17 1h8m-17 2h8m26 1h8m-15 4h8m-17 3h8m5 1h8m-37 5h8m5 1h8m-16 1h8m4 1h8m-25 2h8m9 2h8m-18 8h8m-10 3h8m-8 4h8m-3 1h8m0 0h8m-12 2h8m-18 1h8m-17 2h8m-5 0h8m9 0h8m-8 8h8m-15 2h8m0 2h8m-14 1h8m-10 5h8m219 2h8m-92 4h8m133 0h8m-294 1h8m228 0h8m-228 1h8m164 0h8m5 0h8m84 0h8m-6 0h8m-127 1h8m-4 0h8m97 0h8m-1 0h8m47 0h8m-131 1h8m65 0h8m-137 1h8m146 0h8m-319 1h8m138 0h8m46 0h8m-3 0h8m-4 0h8m-7 0h8m60 0h8m61 0h8m-357 1h8m18 0h8m151 0h8m54 0h8m-6 0h8m-86 1h8m21 0h8m63 0h8m31 0h8m-136 1h8m83 0h8m40 0h8m17 0h8m-347 1h8m159 0h8m7 0h8m8 0h8m-3 0h8m22 0h8m-8 0h8m-8 0h8m-74 1h8m32 0h8m3 0h8m30 0h8m-108 1h8m29 0h8m12 0h8m-6 0h8m24 0h8m71 0h8m-230 1h8m53 0h8m49 0h8m-2 0h8m33 0h8m-282 1h8m189 0h8m45 0h8m14 0h8m53 0h8m-6 0h8m-344 1h8m91 0h8m105 0h8m-26 1h8m27 0h8m-253 1h8m5 0h8m235 0h8m-252 2h8m-13 4h8m-5 1h8m226 1h8m-249 2h8m5 2h8m-23 3h8m-15 2h8m21 0h8m-38 1h8m12 2h8m-12 2h8m-27 2h8m2 0h8m-11 2h8m-1 2h8m-2 2h8m-11 4h8m-7 1h8m-22 6h8m15 0h8m-14 6h8m0 12h8m-40 2h8m3 2h8m-17 1h8m-2 5h8m-13 3h8m-16 7h8m-17 6h8m-16 3h8m3 0h8m-11 10h8m-4 4h8m-23 2h8m22 6h8m-22 3h8m-22 1h8m1 0h8m-14 2h8m-9 3h8m-20 19h8m-10 3h8" stroke="#23237f" stroke-width="8" stroke-opacity="0.55"/>
<path transform="scale(.1)" d="M417 6305h8m-26 3h8m0 1h8m-26 3h8m10 1h8m-17 7h8m-1 2h8m-11 1h8m-14 1h8m-11 3h8m13 1h8m-16 4h8m-7 0h8m-3 2h8m-16 3h8m-6 3h8m-5 1h8m-9 2h8m1 0h8m-2 6h8m-35 2h8m-3 3h8m-5 1h8m-3 8h8m-4 1h8m-34 2h8m7 0h8m-9 1h8m-13 9h8m6 0h8m-7 0h8m-18 2h8m0 2h8m9 4h8m-23 1h8m239 1h8m-260 3h8m243 0h8m55 0h8m-104 2h8m15 0h8m35 0h8m-71 2h8m-6 0h8m62 0h8m-179 1h8m60 0h8m20 0h8m5 0h8m80 0h8m19 0h8m-359 1h8m-4 0h8m136 0h8m21 0h8m47 0h8m81 0h8m27 0h8m34 0h8m-394 1h8m199 0h8m4 0h8m122 0h8m-125 1h8m12 0h8m2 0h8m-2 0h8m-6 0h8m13 0h8m-147 1h8m-1 0h8m-1 0h8m-7 0h8m10 0h8m57 0h8m87 0h8m-209 1h8m25 0h8m28 0h8m8 0h8m18 0h8m-6 0h8m30 0h8m-312 1h8m125 0h8m77 0h8m-3 0h8m22 0h8m3 0h8m-8 0h8m9 0h8m21 0h8m-195 1h8m83 0h8m52 0h8m15 0h8m25 0h8m-178 1h8m15 0h8m7 0h8m19 0h8m-3 0h8m0 0h8m17 0h8m66 0h8m-185 1h8m85 0h8m-265 1h8m327 0h8m-152 1h8m-179 2h8m188 0h8m-7 0h8m61 0h8m-276 3h8m-19 1h8m-8 1h8m4 0h8m-10 2h8m-20 1h8m-24 1h8m0 0h8m-1 0h8m3 0h8m2 4h8m-23 4h8m-14 1h8m-6 17h8m-15 4h8m-4 4h8m0 3h8m-7 0h8m-52 15h8m7 0h8m-3 4h8m-11 6h8m-10 3h8m-31 4h8m8 1h8m5 2h8m-5 2h8m-8 8h8m-30 3h8m10 2h8m-29 5h8m13 0h8m-28 7h8m-7 0h8m-10 1h8m-10 1h8m-10 7h8m-19 9h8m-6 10h8m-31 19h8m1 2h8" stroke="#23237f" stroke-width="8" stroke-opacity="0.55"/>
<path transform="scale(.1)" d="M401 6285h8m-8 20h8m-4 9h8m-9 10h8m-15 8h8m-7 0h8m-3 10h8m-4 2h8m4 5h8m-23 2h8m-10 1h8m-17 1h8m16 2h8m-27 3h8m6 0h8m0 0h8m-27 2h8m-1 0h8m8 1h8m-19 1h8m-26 1h8m10 0h8m-11 3h8m-15 2h8m5 4h8m-27 1h8m-5 0h8m-1 7h8m-6 0h8m-31 1h8m0 1h8m6 0h8m-7 1h8m-4 0h8m-13 2h8m-24 1h8m6 0h8m0 1h8m-18 1h8m-5 1h8m4 1h8m198 1h8m-246 1h8m197 0h8m9 0h8m10 0h8m82 0h8m-195 1h8m22 0h8m22 0h8m22 0h8m32 0h8m84 0h8m-120 1h8m23 0h8m2 0h8m25 0h8m-5 0h8m-341 1h8m234 0h8m6 0h8m15 0h8m23 0h8m-6 0h8m16 0h8m-78 1h8m89 0h8m-338 1h8m43 0h8m156 0h8m22 0h8m13 0h8m-4 0h8m16 0h8m-181 1h8m14 0h8m15 0h8m-2 0h8m60 0h8m0 0h8m-71 1h8m13 0h8m6 0h8m36 0h8m3 0h8m-5 0h8m-2 0h8m1 0h8m-104 1h8m11 0h8m-2 0h8m3 0h8m37 0h8m-7 0h8m-301 1h8m164 0h8m12 0h8m51 0h8m9 0h8m-289 1h8m7 0h8m92 0h8m148 0h8m0 0h8m6 0h8m15 0h8m-317 1h8m-6 0h8m-7 0h8m218 0h8m-4 0h8m15 0h8m27 0h8m15 0h8m33 0h8m-92 1h8m-263 1h8m237 0h8m-265 1h8m225 1h8m-240 1h8m4 2h8m-26 2h8m-5 3h8m4 2h8m-30 7h8m-5 4h8m20 1h8m-23 2h8m-14 1h8m1 4h8m7 0h8m-31 2h8m-4 0h8m-6 3h8m-16 5h8m-2 2h8m-6 3h8m-30 9h8m-14 10h8m-19 3h8m-5 6h8m25 2h8m-34 6h8m5 3h8m-19 7h8m-8 7h8m-22 4h8m22 9h8m-32 5h8m-19 13h8m-15 2h8m-16 14h8m-5 5h8m-8 5h8" stroke="#23237f" stroke-width="8" stroke-opacity="0.55"/>
<path transform="scale(.1)" d="M416 6260h8m-13 37h8m-4 15h8m-12 1h8m-11 11h8m-11 3h8m-1 1h8m-18 5h8m4 1h8m-20 1h8m-17 2h8m9 0h8m-9 1h8m-16 1h8m9 0h8m-39 3h8m8 0h8m3 4h8m-29 5h8m-6 7h8m-6 1h8m-3 0h8m-10 2h8m2 2h8m-6 0h8m-3 0h8m-29 1h8m0 2h8m7 1h8m-17 1h8m-16 4h8m-16 1h8m-9 2h8m9 0h8m0 1h8m-17 4h8m-8 0h8m-17 1h8m-14 1h8m10 0h8m298 3h8m-59 1h8m-285 1h8m14 0h8m-3 0h8m204 0h8m-227 1h8m248 1h8m61 0h8m-166 1h8m95 0h8m-282 1h8m293 0h8m-104 1h8m21 0h8m-40 1h8m6 0h8m-2 0h8m3 0h8m-4 0h8m21 0h8m-151 1h8m105 0h8m-236 1h8m221 0h8m-3 0h8m21 0h8m33 0h8m39 0h8m-385 2h8m8 0h8m151 0h8m6 0h8m-1 0h8m21 0h8m10 0h8m14 0h8m-256 1h8m188 0h8m6 0h8m27 0h8m-241 1h8m213 0h8m10 0h8m1 0h8m16 0h8m31 0h8m-4 0h8m-334 1h8m222 0h8m-228 1h8m152 0h8m28 0h8m-5 0h8m54 0h8m2 0h8m-296 1h8m-5 0h8m184 0h8m38 0h8m22 0h8m74 0h8m-355 1h8m178 0h8m134 0h8m-136 1h8m-6 2h8m-192 5h8m-22 4h8m-18 1h8m-4 1h8m-6 2h8m-9 1h8m-14 2h8m-3 2h8m-8 3h8m6 6h8m-31 4h8m1 2h8m4 2h8m-29 10h8m7 2h8m-23 5h8m-14 5h8m15 0h8m-21 5h8m-11 2h8m-6 1h8m-10 1h8m-12 8h8m-11 1h8m-18 2h8m-11 1h8m-4 4h8m-4 5h8m-3 0h8m-34 3h8m4 0h8m-3 0h8m9 5h8m-13 1h8m-24 2h8m29 1h8m-55 2h8m-19 3h8m10 3h8m-6 2h8m-18 12h8m-27 5h8m-3 1h8m3 1h8m-19 5h8m10 13h8m-28 12h8" stroke="#23237f" stroke-width="8" stroke-opacity="0.55"/>
<line x1="48.5" y1="595.4" x2="48.5" y2="659.0" stroke="#444" stroke-width="0.8"/>
<rect x="24.7" y="627.3" width="62.2" height="31.7" fill="none" stroke="#444" stroke-width="0.65"/>
<path transform="scale(.1)" d="M1006 6022h8m-33 4h8m-10 5h8m34 0h8m-9 5h8m-12 8h8m-53 8h8m-3 0h8m32 3h8m29 5h8m-48 4h8m70 0h8m-58 2h8m-34 2h8m72 8h8m-64 6h8m-2 1h8m-109 1h8m124 3h8m-132 2h8m57 1h8m-39 2h8m13 0h8m-6 5h8m11 5h8m-65 11h8m45 1h8m-57 1h8m28 1h8m1 0h8m4 5h8m-21 7h8m6 0h8m201 0h8m-231 1h8m25 1h8m40 3h8m-88 2h8m8 1h8m-32 1h8m-4 3h8m-2 4h8m12 0h8m-82 1h8m-17 5h8m85 5h8m17 2h8m-63 12h8m31 1h8m-13 1h8m-65 1h8m29 0h8m-43 8h8m13 0h8m12 9h8m-11 10h8m4 6h8m-1 4h8m-2 3h8m-61 1h8m20 7h8m20 0h8m-28 2h8m11 1h8m-29 21h8m-34 3h8m39 9h8m-9 18h8m-26 1h8m-5 1h8m4 5h8m17 0h8m196 19h8m-216 1h8m-22 11h8m-9 7h8m11 6h8m-25 14h8m25 2h8m316 5h8m-357 5h8m-41 4h8m-6 5h8m39 0h8m230 2h8m19 3h8m-281 11h8m233 5h8m-73 1h8m-18 1h8m-225 1h8m207 2h8m4 2h8m-224 4h8m166 1h8m119 0h8m-279 1h8m230 0h8m-23 1h8m-268 1h8m24 0h8m105 0h8m-106 5h8m148 0h8m31 0h8m116 5h8m-335 1h8m259 0h8m-292 1h8m261 0h8m-237 1h8m196 1h8m-256 2h8m392 0h8m-260 1h8m176 0h8m-136 1h8m-209 2h8m0 0h8m264 0h8m-1 3h8m-30 1h8m-303 3h8m268 0h8m60 0h8m-3 0h8m-300 1h8m294 1h8m-306 2h8m289 1h8m-333 2h8m356 0h8m-366 1h8m3 1h8m275 1h8m2 0h8m-116 1h8m69 0h8m30 0h8m-332 2h8m246 0h8m-93 1h8m112 0h8m3 0h8m80 2h8m-405 1h8m18 0h8m228 0h8m11 0h8m-123 3h8m128 0h8m14 0h8m-62 3h8m-48 1h8m48 3h8m61 0h8m-355 1h8m239 0h8m30 0h8m-5 0h8m-302 1h8m311 1h8m25 3h8m-374 2h8m9 0h8m243 1h8m91 0h8m-6 0h8m-316 1h8m226 0h8m2 0h8m-30 2h8m66 1h8m-343 1h8m14 0h8m267 1h8m-320 2h8m-2 0h8m254 0h8m-279 5h8m283 2h8m17 0h8m-12 1h8m16 0h8m-95 1h8m31 0h8m-341 1h8m401 0h8m-57 1h8m38 0h8m-28 1h8m-19 1h8m-27 1h8m-2 1h8m-8 0h8m-12 1h8m-2 0h8m-282 1h8m284 1h8m-320 4h8m-79 2h8m419 0h8m-12 1h8m-400 2h8m343 1h8m-354 4h8m317 0h8m-292 1h8m246 0h8m7 4h8m-309 3h8m-22 1h8m381 1h8m-411 1h8m26 2h8m-48 2h8m0 1h8m426 5h8m-459 6h8m387 5h8m-377 7h8m-21 3h8m347 1h8m-349 5h8m-5 4h8m-44 1h8m33 2h8m-57 2h8m13 2h8m-30 8h8m66 1h8m-85 4h8m34 0h8m-46 5h8" stroke="#4646b0" stroke-width="8" stroke-opacity="0.35"/>
<path transform="scale(.1)" d="M1023 5981h8m62 11h8m-112 61h8m21 18h8m-6 4h8m30 8h8m-127 4h8m56 1h8m-22 1h8m-6 0h8m7 2h8m6 4h8m-23 1h8m-62 1h8m112 0h8m-49 3h8m23 0h8m-137 4h8m79 2h8m-43 1h8m-27 4h8m90 2h8m281 2h8m-306 1h8m-14 4h8m-31 1h8m-16 5h8m-1 2h8m-15 5h8m-42 3h8m43 5h8m-52 4h8m56 1h8m-74 5h8m5 0h8m-28 2h8m46 2h8m-31 1h8m44 2h8m-72 1h8m114 1h8m-161 1h8m50 2h8m-73 2h8m56 1h8m8 0h8m19 5h8m-21 1h8m-87 5h8m71 4h8m-1 10h8m13 0h8m-37 1h8m-8 1h8m371 17h8m-398 2h8m-52 3h8m41 5h8m16 2h8m-38 1h8m26 0h8m-42 3h8m-2 0h8m-45 1h8m-1 1h8m-55 1h8m46 2h8m-1 1h8m15 0h8m-39 2h8m315 6h8m-305 1h8m-7 7h8m-9 5h8m-10 2h8m-31 1h8m30 6h8m-49 21h8m57 30h8m-35 11h8m-2 5h8m0 6h8m-25 5h8m26 15h8m-64 5h8m225 8h8m-11 2h8m0 0h8m-254 1h8m-5 0h8m51 1h8m7 1h8m-96 1h8m229 0h8m85 0h8m10 3h8m-314 1h8m151 1h8m-132 1h8m362 1h8m-417 2h8m203 2h8m102 2h8m-299 2h8m222 0h8m133 0h8m-428 1h8m8 0h8m127 0h8m73 1h8m35 0h8m-238 1h8m242 2h8m-84 1h8m7 0h8m82 0h8m-169 3h8m-173 2h8m175 2h8m124 0h8m-360 2h8m217 0h8m63 2h8m18 0h8m-256 1h8m-2 0h8m-23 2h8m-9 3h8m156 0h8m100 0h8m-297 1h8m-8 0h8m-52 4h8m253 0h8m75 2h8m-75 1h8m-6 1h8m48 0h8m73 0h8m-39 1h8m-334 1h8m195 1h8m-4 0h8m-234 2h8m275 1h8m-58 2h8m-251 1h8m312 0h8m-274 2h8m222 0h8m-301 1h8m223 0h8m-212 2h8m460 0h8m-336 1h8m-112 1h8m-4 0h8m218 0h8m74 2h8m-311 1h8m310 1h8m-124 3h8m17 0h8m11 0h8m-273 1h8m124 0h8m117 0h8m34 0h8m-37 4h8m5 3h8m-15 1h8m-16 1h8m-5 0h8m-26 1h8m-236 3h8m269 0h8m-329 1h8m276 1h8m-14 1h8m21 1h8m-68 1h8m-256 1h8m207 4h8m44 0h8m54 2h8m-348 2h8m296 3h8m-20 9h8m-11 1h8m67 0h8m-395 1h8m297 2h8m43 0h8m-20 3h8m-7 1h8m-323 2h8m240 0h8m69 0h8m-324 1h8m261 4h8m19 1h8m-8 3h8m-364 5h8m14 1h8m-6 0h8m-18 1h8m70 0h8m298 0h8m1 0h8m-372 2h8m316 2h8m1 1h8m-364 1h8m28 0h8m238 0h8m32 0h8m-273 1h8m276 0h8m28 2h8m-366 1h8m310 2h8m-340 1h8m55 0h8m-85 4h8m355 0h8m-360 3h8m-26 8h8m-3 0h8m6 0h8m-55 9h8m29 0h8m-12 25h8m3 0h8m-62 1h8" stroke="#4646b0" stroke-width="8" stroke-opacity="0.35"/>
<path transform="scale(.1)" d="M1007 5982h8m-36 44h8m0 9h8m80 1h8m-145 12h8m61 0h8m34 5h8m-47 2h8m-2 12h8m-10 1h8m-31 7h8m21 4h8m1 0h8m-4 3h8m-7 0h8m-13 4h8m-7 1h8m-53 5h8m8 4h8m12 0h8m-70 5h8m71 2h8m-73 5h8m3 0h8m46 4h8m-29 2h8m49 1h8m-13 3h8m-86 2h8m-1 1h8m340 2h8m-378 5h8m66 1h8m-65 1h8m82 7h8m-101 4h8m34 0h8m-18 5h8m-30 4h8m30 0h8m-63 3h8m49 6h8m39 0h8m-37 34h8m4 3h8m-27 12h8m-24 6h8m12 9h8m-30 8h8m44 1h8m-93 12h8m233 2h8m-215 16h8m-6 9h8m-16 2h8m20 5h8m387 21h8m-400 6h8m-49 3h8m32 1h8m-13 10h8m42 0h8m-38 8h8m-7 0h8m-52 1h8m25 3h8m-21 1h8m4 2h8m9 0h8m-33 4h8m129 1h8m-119 1h8m316 1h8m-335 3h8m-5 2h8m-24 2h8m-12 8h8m-4 4h8m-7 0h8m-48 5h8m4 1h8m1 1h8m179 2h8m18 2h8m23 2h8m-255 2h8m155 0h8m46 3h8m41 0h8m-16 1h8m-11 2h8m-245 2h8m-23 4h8m188 0h8m-180 3h8m49 0h8m69 3h8m-169 2h8m143 0h8m246 1h8m-351 3h8m90 1h8m-135 2h8m188 1h8m-210 1h8m210 1h8m82 0h8m-171 1h8m86 0h8m-145 1h8m64 0h8m-172 1h8m289 2h8m-319 2h8m0 1h8m5 2h8m112 2h8m97 0h8m-293 1h8m311 1h8m-271 1h8m288 0h8m-73 2h8m31 0h8m2 0h8m33 0h8m-342 1h8m264 0h8m83 0h8m-409 1h8m236 0h8m58 3h8m-39 1h8m42 3h8m-328 1h8m31 0h8m-39 1h8m349 0h8m-376 2h8m318 2h8m-334 3h8m167 1h8m155 4h8m-29 2h8m-309 1h8m183 0h8m-199 1h8m282 1h8m-319 1h8m232 1h8m-8 2h8m19 0h8m34 0h8m2 0h8m29 3h8m-115 3h8m70 0h8m54 0h8m-143 1h8m-279 1h8m33 0h8m16 4h8m274 0h8m-335 1h8m10 1h8m-30 1h8m331 0h8m34 1h8m-366 1h8m-3 0h8m-8 1h8m215 0h8m66 0h8m-67 1h8m57 0h8m-349 2h8m325 0h8m-349 3h8m386 0h8m-20 1h8m-323 1h8m253 0h8m-2 1h8m-303 1h8m271 1h8m24 1h8m-40 1h8m-341 2h8m293 0h8m42 0h8m4 3h8m-323 4h8m291 1h8m77 1h8m-61 2h8m37 4h8m-113 3h8m-51 1h8m-10 1h8m55 1h8m-3 0h8m-313 1h8m291 0h8m-289 3h8m-43 2h8m309 5h8m18 0h8m-350 1h8m332 1h8m-311 1h8m230 0h8m-290 2h8m-40 4h8m-28 4h8m53 1h8m-59 5h8m32 0h8m-29 1h8m368 0h8m-340 1h8m-69 8h8m30 0h8m22 1h8m279 0h8m-308 4h8m-36 1h8m355 1h8m14 10h8m-394 5h8m16 3h8m-55 4h8m-18 3h8m-5 0h8" stroke="#4646b0" stroke-width="8" stroke-opacity="0.35"/>
<path transform="scale(.1)" d="M1062 6320h8m9 2h8m-8 7h8m-28 17h8m21 5h8m-41 8h8m-10 1h8m18 4h8m-8 1h8m-29 7h8m13 0h8m-18 2h8m-11 1h8m11 0h8m3 5h8m-41 1h8m3 6h8m-27 2h8m8 0h8m11 1h8m35 0h8m76 0h8m-143 1h8m188 0h8m51 2h8m19 0h8m-306 1h8m-2 0h8m210 1h8m4 0h8m-54 2h8m18 0h8m67 0h8m-94 1h8m6 0h8m58 0h8m-173 1h8m55 0h8m30 0h8m19 0h8m-263 1h8m223 0h8m8 0h8m18 0h8m-7 0h8m-6 0h8m-1 0h8m-32 1h8m21 0h8m28 0h8m-4 0h8m-328 1h8m145 0h8m16 0h8m39 0h8m90 0h8m-159 1h8m1 0h8m4 0h8m9 0h8m-6 0h8m-3 0h8m8 0h8m51 0h8m-7 0h8m32 0h8m-187 1h8m34 0h8m25 0h8m15 0h8m-234 1h8m133 0h8m43 0h8m7 0h8m8 0h8m90 0h8m-171 1h8m-3 0h8m-2 0h8m-3 0h8m54 0h8m45 0h8m-322 1h8m233 0h8m22 0h8m24 0h8m38 0h8m-375 1h8m280 0h8m2 0h8m-279 1h8m158 0h8m-3 0h8m24 0h8m80 0h8m5 0h8m-6 0h8m-333 1h8m-6 0h8m8 0h8m152 0h8m30 0h8m49 0h8m17 0h8m-57 1h8m141 0h8m-157 1h8m61 0h8m71 0h8m-390 1h8m129 0h8m92 0h8m52 0h8m-77 1h8m-28 1h8m17 1h8m38 0h8m-287 2h8m-2 0h8m-28 6h8m259 1h8m-269 1h8m1 1h8m-3 0h8m-6 0h8m-15 1h8m-19 2h8m-3 1h8m25 0h8m-37 1h8m-7 0h8m-13 1h8m298 4h8m-325 2h8m4 0h8m-4 0h8m-5 0h8m311 0h8m-322 6h8m-32 1h8m5 0h8m259 1h8m-270 1h8m201 0h8m-235 2h8m12 0h8m224 0h8m80 0h8m-309 1h8m239 2h8m13 0h8m-297 3h8m249 2h8m-276 1h8m274 0h8m41 0h8m-348 1h8m7 1h8m-2 0h8m254 0h8m-265 1h8m-8 1h8m249 1h8m36 2h8m-7 0h8m-321 1h8m261 0h8m-2 0h8m-43 2h8m43 0h8m-65 1h8m41 1h8m-297 2h8m-1 1h8m245 0h8m-287 2h8m286 0h8m20 0h8m2 0h8m-327 1h8m4 0h8m292 0h8m-287 1h8m277 0h8m-299 1h8m202 1h8m-224 2h8m231 1h8m-245 1h8m316 4h8m-372 1h8m299 0h8m-309 1h8m-9 3h8m14 1h8m245 0h8m54 1h8m-307 1h8m-60 2h8m22 0h8m262 1h8m-326 1h8m19 0h8m307 7h8m-321 2h8m-4 2h8m-19 1h8m-12 4h8m-9 11h8m-29 2h8m7 1h8m-2 17h8m-14 4h8m-7 7h8m-27 2h8m7 2h8m-16 7h8" stroke="#23237f" stroke-width="8" stroke-opacity="0.55"/>
<path transform="scale(.1)" d="M1097 6306h8m-26 17h8m-27 1h8m28 17h8m-38 5h8m10 1h8m-21 9h8m-12 2h8m-2 1h8m-4 2h8m-10 1h8m2 1h8m-30 8h8m1 3h8m-9 1h8m-9 6h8m-11 1h8m-4 0h8m10 0h8m-37 3h8m-1 1h8m4 2h8m-10 1h8m-15 2h8m232 0h8m-35 2h8m-2 0h8m8 0h8m-19 2h8m-229 1h8m-6 0h8m179 0h8m12 1h8m33 0h8m-28 1h8m56 0h8m-328 1h8m18 0h8m136 0h8m36 0h8m24 0h8m19 0h8m-73 1h8m20 0h8m65 0h8m-7 0h8m-300 1h8m1 0h8m175 0h8m-2 0h8m48 0h8m24 0h8m6 0h8m5 0h8m-191 1h8m42 0h8m3 0h8m13 0h8m12 0h8m-5 0h8m-232 1h8m3 0h8m147 0h8m18 0h8m11 0h8m15 0h8m0 0h8m9 0h8m-92 1h8m22 0h8m5 0h8m11 0h8m-8 0h8m25 0h8m22 0h8m-313 1h8m127 0h8m120 0h8m14 0h8m-150 1h8m42 0h8m-11 1h8m106 0h8m21 0h8m-324 1h8m209 0h8m3 0h8m33 0h8m-2 0h8m-285 1h8m177 0h8m13 0h8m-92 1h8m67 0h8m4 0h8m4 0h8m3 0h8m-4 0h8m26 0h8m29 0h8m-133 1h8m17 0h8m-251 1h8m217 0h8m-5 1h8m29 0h8m4 0h8m93 1h8m-113 1h8m-30 1h8m15 0h8m-233 1h8m101 0h8m101 0h8m-236 2h8m279 0h8m-45 2h8m-277 1h8m1 0h8m-20 1h8m0 1h8m-3 1h8m-20 1h8m9 0h8m-22 1h8m-10 1h8m-7 0h8m4 1h8m-21 2h8m-10 1h8m17 2h8m287 0h8m-325 1h8m267 0h8m-277 2h8m-24 2h8m9 1h8m-4 1h8m5 0h8m-20 1h8m-30 1h8m2 0h8m273 0h8m-299 3h8m276 3h8m-44 1h8m44 1h8m-312 2h8m275 0h8m44 1h8m-343 1h8m8 1h8m249 0h8m-273 1h8m298 0h8m-324 1h8m310 0h8m-335 1h8m285 0h8m-282 1h8m316 1h8m-343 2h8m9 0h8m227 0h8m-5 1h8m33 0h8m5 1h8m-45 1h8m36 0h8m-305 1h8m284 1h8m-47 2h8m11 2h8m4 0h8m-301 1h8m244 3h8m-14 1h8m38 0h8m18 0h8m-20 1h8m-337 4h8m253 0h8m110 0h8m-355 1h8m-5 0h8m6 1h8m-49 2h8m352 0h8m-78 2h8m-303 1h8m274 4h8m-271 5h8m228 0h8m-249 1h8m-22 1h8m-15 2h8m37 0h8m-44 5h8m13 2h8m-46 2h8m312 0h8m-328 1h8m17 1h8m308 5h8m-19 2h8m-345 5h8m-6 0h8m303 3h8m-322 7h8m-21 1h8m-3 0h8m-5 4h8m13 5h8m-21 17h8m-24 8h8m-20 10h8m-19 2h8" stroke="#23237f" stroke-width="8" stroke-opacity="0.55"/>
<path transform="scale(.1)" d="M1059 6300h8m2 32h8m-13 6h8m-13 1h8m-2 1h8m1 19h8m9 6h8m-33 1h8m-15 5h8m28 0h8m-31 5h8m-9 3h8m2 4h8m-30 1h8m17 0h8m284 2h8m-315 1h8m284 1h8m-290 1h8m-11 1h8m157 0h8m-25 1h8m-158 1h8m99 0h8m-112 1h8m-26 1h8m221 0h8m7 0h8m87 0h8m-333 1h8m-12 1h8m-10 1h8m183 0h8m61 0h8m58 0h8m-323 1h8m203 0h8m21 0h8m34 0h8m-305 1h8m146 0h8m113 0h8m-277 1h8m11 0h8m155 0h8m-6 0h8m3 0h8m51 0h8m19 0h8m-8 0h8m1 0h8m24 0h8m-7 0h8m-133 1h8m18 0h8m11 0h8m8 0h8m20 0h8m11 0h8m-130 1h8m-6 0h8m12 0h8m15 0h8m-6 0h8m18 0h8m-257 1h8m195 0h8m14 0h8m-241 1h8m10 0h8m127 0h8m1 0h8m26 0h8m-182 1h8m110 0h8m43 0h8m-1 0h8m22 0h8m7 0h8m150 0h8m-194 1h8m4 0h8m111 0h8m-358 1h8m207 0h8m48 0h8m33 0h8m-334 1h8m121 0h8m45 0h8m27 0h8m40 0h8m27 0h8m-121 1h8m58 0h8m2 0h8m66 1h8m-316 1h8m225 0h8m22 0h8m-3 0h8m1 0h8m-293 1h8m107 0h8m54 0h8m-6 0h8m-5 0h8m8 0h8m-1 0h8m-39 1h8m38 0h8m-243 1h8m3 0h8m246 0h8m-35 1h8m-263 3h8m11 0h8m277 1h8m-53 1h8m11 0h8m-244 4h8m-6 0h8m-19 2h8m-19 1h8m-16 1h8m24 0h8m261 0h8m-260 1h8m-51 5h8m7 3h8m251 0h8m-275 5h8m-16 2h8m-2 0h8m3 0h8m-27 1h8m12 0h8m-2 0h8m-6 0h8m-14 1h8m284 0h8m-40 1h8m-279 1h8m2 0h8m-15 2h8m-17 1h8m-9 1h8m287 1h8m-304 1h8m18 1h8m237 2h8m-270 1h8m286 1h8m8 0h8m-66 2h8m59 0h8m-336 2h8m-1 0h8m420 1h8m-150 3h8m28 0h8m-325 1h8m254 1h8m21 0h8m-296 1h8m-8 2h8m220 0h8m-4 1h8m25 0h8m-26 5h8m8 0h8m-8 1h8m39 2h8m-329 2h8m275 1h8m7 2h8m-291 1h8m-18 1h8m-4 0h8m241 2h8m-292 1h8m27 1h8m225 0h8m2 0h8m69 0h8m-372 4h8m8 0h8m287 1h8m-315 1h8m268 0h8m-271 4h8m281 1h8m-316 1h8m-1 3h8m0 0h8m-15 3h8m-13 7h8m-17 3h8m11 1h8m-37 1h8m13 0h8m52 6h8m-44 3h8m-30 1h8m-7 1h8m-30 2h8m8 1h8m-24 1h8m-11 7h8m24 2h8m-27 2h8m-6 0h8m-9 6h8m-7 3h8m-29 7h8m-9 17h8m-2 1h8" stroke="#23237f" stroke-width="8" stroke-opacity="0.55"/>
<path transform="scale(.1)" d="M1080 6324h8m5 14h8m-22 4h8m-13 6h8m-6 6h8m-23 6h8m-16 3h8m25 1h8m-9 6h8m-22 3h8m8 2h8m-44 2h8m10 2h8m-10 2h8m2 0h8m-10 1h8m-2 2h8m-24 1h8m-8 6h8m160 0h8m12 0h8m13 0h8m-212 1h8m6 0h8m72 0h8m88 0h8m48 1h8m-258 1h8m6 0h8m-40 1h8m0 0h8m218 0h8m67 1h8m49 0h8m-92 1h8m57 0h8m-327 1h8m3 0h8m69 0h8m137 0h8m-251 1h8m404 0h8m-262 1h8m12 0h8m-6 0h8m-5 0h8m33 0h8m2 0h8m-8 0h8m22 0h8m20 0h8m-281 1h8m162 0h8m6 0h8m-42 1h8m58 0h8m-1 0h8m25 0h8m-3 0h8m9 0h8m79 0h8m-393 1h8m-7 0h8m-4 0h8m119 0h8m6 0h8m41 0h8m30 0h8m11 0h8m-63 1h8m9 0h8m12 0h8m-236 1h8m200 0h8m23 0h8m-252 1h8m0 0h8m239 0h8m-8 0h8m37 0h8m0 0h8m-305 1h8m-7 0h8m-2 0h8m193 0h8m20 0h8m-8 0h8m13 0h8m-2 0h8m-288 1h8m177 0h8m-3 0h8m64 0h8m-257 1h8m201 0h8m12 0h8m16 0h8m3 0h8m-4 0h8m85 0h8m-243 1h8m21 0h8m-8 0h8m57 0h8m74 0h8m4 1h8m-308 1h8m185 1h8m116 0h8m23 0h8m-209 1h8m69 0h8m1 1h8m-22 1h8m3 0h8m-261 1h8m227 0h8m-235 1h8m-8 1h8m235 2h8m134 0h8m-131 1h8m-272 1h8m2 3h8m-13 1h8m-7 4h8m-7 2h8m248 0h8m-7 0h8m-97 1h8m-184 1h8m200 0h8m-222 1h8m12 0h8m-20 1h8m-7 1h8m257 2h8m-271 1h8m304 0h8m-344 1h8m21 0h8m298 1h8m-325 1h8m5 1h8m284 1h8m-312 1h8m4 0h8m-13 1h8m288 0h8m-300 2h8m263 1h8m27 0h8m-324 3h8m1 0h8m266 0h8m27 1h8m-121 2h8m-215 3h8m-8 0h8m6 0h8m257 0h8m-50 1h8m72 0h8m-338 1h8m281 0h8m-17 1h8m-16 1h8m41 0h8m-35 1h8m19 0h8m-43 1h8m-277 1h8m263 0h8m25 1h8m-326 1h8m5 1h8m210 0h8m96 1h8m-76 1h8m-14 1h8m9 2h8m24 0h8m29 0h8m-353 1h8m7 0h8m16 0h8m236 0h8m10 5h8m2 0h8m-304 1h8m242 0h8m43 0h8m-349 1h8m364 0h8m-365 4h8m290 1h8m29 0h8m-350 1h8m10 0h8m5 3h8m-45 1h8m0 3h8m13 0h8m-16 9h8m-28 5h8m304 0h8m-265 2h8m238 2h8m-305 4h8m-18 4h8m-12 8h8m-20 19h8m0 0h8m-29 10h8m0 4h8m-12 9h8m-6 2h8" stroke="#23237f" stroke-width="8" stroke-opacity="0.55"/>
<line x1="117.5" y1="596.0" x2="117.5" y2="659.6" stroke="#444" stroke-width="0.8"/>
<rect x="91.0" y="627.3" width="61.5" height="32.3" fill="none" stroke="#444" stroke-width="0.65"/>
<line x1="20.7" y1="663.0" x2="20.7" y2="642.4" stroke="#000" stroke-width="1.1"/>
<line x1="20.1" y1="662.5" x2="41.3" y2="662.5" stroke="#000" stroke-width="1.1"/>
<path d="M20.7,638.4 L23.0,643.4 L20.7,641.9 L18.4,643.4 z" fill="#000"/>
<path d="M45.3,662.5 L40.3,664.8 L41.8,662.5 L40.3,660.2 z" fill="#000"/>
<text x="16.1" y="649.6" font-size="9.0" fill="#2a2a2a" color="#2a2a2a" text-anchor="middle" textLength="12.1" lengthAdjust="spacingAndGlyphs" transform="rotate(-90 16.1 649.6)">Gr 1</text>
<text x="22.1" y="673.0" font-size="8.8" fill="#2a2a2a" color="#2a2a2a" textLength="21.6" lengthAdjust="spacingAndGlyphs">Ter119</text>
<rect x="0.5" y="0.5" width="518.8" height="693.8" fill="none" stroke="#000" stroke-width="1.2"/>
</svg>
</body></html>
